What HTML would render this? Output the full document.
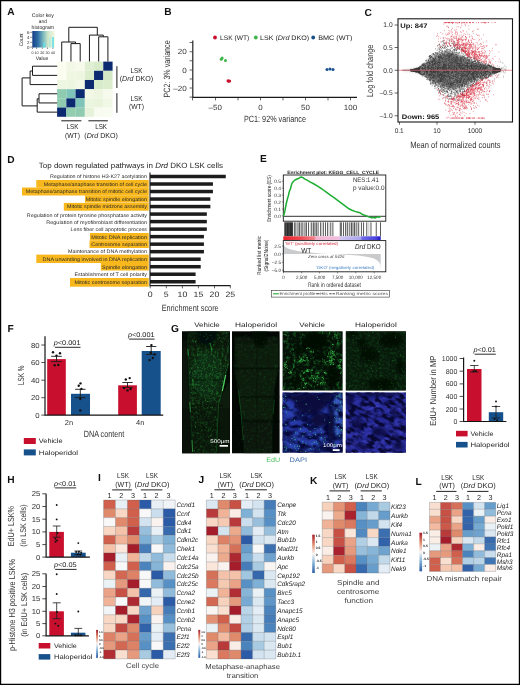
<!DOCTYPE html>
<html lang="en"><head><meta charset="utf-8"><title>Figure</title>
<style>html,body{margin:0;padding:0;background:#fff;}body{width:520px;height:685px;overflow:hidden;font-family:"Liberation Sans",sans-serif;}svg{display:block;}</style></head>
<body>
<svg width="520" height="685" viewBox="0 0 520 685" font-family="'Liberation Sans', sans-serif" fill="#222" text-rendering="geometricPrecision">
<rect x="0" y="0" width="520" height="685" fill="#fff"/>
<g opacity="0.999">
<text x="7.3" y="14.6" font-size="10.2" font-weight="bold" fill="#111">A</text>
<defs><linearGradient id="gA" x1="0" x2="1" y1="0" y2="0"><stop offset="0" stop-color="#163f86"/><stop offset="0.25" stop-color="#2f6fa6"/><stop offset="0.5" stop-color="#7fbcc0"/><stop offset="0.7" stop-color="#cfe6c8"/><stop offset="1" stop-color="#f3f8e4"/></linearGradient></defs>
<rect x="32.3" y="31" width="22.4" height="16.5" fill="url(#gA)"/>
<rect x="43.4" y="42.6" width="1.8" height="4.9" fill="#5fe0ea"/>
<rect x="49.7" y="37" width="0.6" height="10.5" fill="#7fe6ee"/>
<rect x="52.2" y="37" width="1.6" height="10.5" fill="#5fe0ea"/>
<text x="42.8" y="16.6" font-size="5.2" text-anchor="middle" textLength="22" lengthAdjust="spacingAndGlyphs">Color key</text>
<text x="42.8" y="22.6" font-size="5.2" text-anchor="middle" textLength="8" lengthAdjust="spacingAndGlyphs">and</text>
<text x="42.8" y="28.6" font-size="5.2" text-anchor="middle" textLength="22.5" lengthAdjust="spacingAndGlyphs">histogram</text>
<text x="22.74" y="39.8" font-size="5.4" text-anchor="middle" transform="rotate(-90 22.74 39.8)" textLength="13" lengthAdjust="spacingAndGlyphs">Count</text>
<text x="29.4" y="33.88" font-size="4.4" text-anchor="end">6</text>
<line x1="30.2" y1="32.3" x2="32.3" y2="32.3" stroke="#222" stroke-width="0.5"/>
<text x="29.4" y="38.88" font-size="4.4" text-anchor="end">4</text>
<line x1="30.2" y1="37.3" x2="32.3" y2="37.3" stroke="#222" stroke-width="0.5"/>
<text x="29.4" y="43.88" font-size="4.4" text-anchor="end">2</text>
<line x1="30.2" y1="42.3" x2="32.3" y2="42.3" stroke="#222" stroke-width="0.5"/>
<text x="29.4" y="48.68" font-size="4.4" text-anchor="end">0</text>
<line x1="30.2" y1="47.1" x2="32.3" y2="47.1" stroke="#222" stroke-width="0.5"/>
<text x="32.6" y="53.93" font-size="3.7" text-anchor="middle">0</text>
<line x1="32.5" y1="47.5" x2="32.5" y2="49" stroke="#222" stroke-width="0.5"/>
<text x="36.6" y="53.93" font-size="3.7" text-anchor="middle">10</text>
<line x1="36.6" y1="47.5" x2="36.6" y2="49" stroke="#222" stroke-width="0.5"/>
<text x="42.3" y="53.93" font-size="3.7" text-anchor="middle">20</text>
<line x1="42.3" y1="47.5" x2="42.3" y2="49" stroke="#222" stroke-width="0.5"/>
<text x="47.5" y="53.93" font-size="3.7" text-anchor="middle">30</text>
<line x1="47.5" y1="47.5" x2="47.5" y2="49" stroke="#222" stroke-width="0.5"/>
<text x="52.9" y="53.93" font-size="3.7" text-anchor="middle">40</text>
<line x1="52.9" y1="47.5" x2="52.9" y2="49" stroke="#222" stroke-width="0.5"/>
<text x="42" y="60.2" font-size="5.2" text-anchor="middle" textLength="12.5" lengthAdjust="spacingAndGlyphs">Value</text>
<rect x="57.1" y="61.6" width="9.29" height="9.24" fill="#fafdf0"/>
<rect x="66.34" y="61.6" width="9.29" height="9.24" fill="#f2f8e5"/>
<rect x="75.58" y="61.6" width="9.29" height="9.24" fill="#f6faeb"/>
<rect x="84.82" y="61.6" width="9.29" height="9.24" fill="#e0efd3"/>
<rect x="94.06" y="61.6" width="9.29" height="9.24" fill="#d7ebca"/>
<rect x="103.3" y="61.6" width="9.29" height="9.24" fill="#0c2a70"/>
<rect x="57.1" y="70.79" width="9.29" height="9.24" fill="#fafdf0"/>
<rect x="66.34" y="70.79" width="9.29" height="9.24" fill="#eff7e2"/>
<rect x="75.58" y="70.79" width="9.29" height="9.24" fill="#eef6e1"/>
<rect x="84.82" y="70.79" width="9.29" height="9.24" fill="#dcedce"/>
<rect x="94.06" y="70.79" width="9.29" height="9.24" fill="#0c2a70"/>
<rect x="103.3" y="70.79" width="9.29" height="9.24" fill="#d3e9c5"/>
<rect x="57.1" y="79.98" width="9.29" height="9.24" fill="#edf6e0"/>
<rect x="66.34" y="79.98" width="9.29" height="9.24" fill="#edf6e0"/>
<rect x="75.58" y="79.98" width="9.29" height="9.24" fill="#f1f8e5"/>
<rect x="84.82" y="79.98" width="9.29" height="9.24" fill="#0c2a70"/>
<rect x="94.06" y="79.98" width="9.29" height="9.24" fill="#d8ebca"/>
<rect x="103.3" y="79.98" width="9.29" height="9.24" fill="#dcedce"/>
<rect x="57.1" y="89.17" width="9.29" height="9.24" fill="#8ecbb0"/>
<rect x="66.34" y="89.17" width="9.29" height="9.24" fill="#7fc4b8"/>
<rect x="75.58" y="89.17" width="9.29" height="9.24" fill="#0c2a70"/>
<rect x="84.82" y="89.17" width="9.29" height="9.24" fill="#f1f8e5"/>
<rect x="94.06" y="89.17" width="9.29" height="9.24" fill="#eef6e2"/>
<rect x="103.3" y="89.17" width="9.29" height="9.24" fill="#f6faec"/>
<rect x="57.1" y="98.36" width="9.29" height="9.24" fill="#8ecbb0"/>
<rect x="66.34" y="98.36" width="9.29" height="9.24" fill="#0c2a70"/>
<rect x="75.58" y="98.36" width="9.29" height="9.24" fill="#7fc4b8"/>
<rect x="84.82" y="98.36" width="9.29" height="9.24" fill="#ecf5df"/>
<rect x="94.06" y="98.36" width="9.29" height="9.24" fill="#eaf4dd"/>
<rect x="103.3" y="98.36" width="9.29" height="9.24" fill="#f1f8e6"/>
<rect x="57.1" y="107.55" width="9.29" height="9.24" fill="#0c2a70"/>
<rect x="66.34" y="107.55" width="9.29" height="9.24" fill="#93cdb0"/>
<rect x="75.58" y="107.55" width="9.29" height="9.24" fill="#8ecbb0"/>
<rect x="84.82" y="107.55" width="9.29" height="9.24" fill="#e6f2d9"/>
<rect x="94.06" y="107.55" width="9.29" height="9.24" fill="#f8fbef"/>
<rect x="103.3" y="107.55" width="9.29" height="9.24" fill="#f9fcf0"/>
<path d="M61.72 61.5V42H75.58V43.6M70.96 61.5V43.6H80.2V61.5M68.8 42V27.3H97.3V35.1M89.44 61.5V35.1H103.3V36.8M98.68 61.5V36.8H107.92V61.5M57.2 66.2H32.5V75.39H57.2M32.5 71H30.1M57.2 84.58H30.1V71M30.1 77.9H22.1V105.9H37.2M57.2 93.77H39V102.95H57.2M39 98.8H37.2M57.2 112.14H37.2V98.8" stroke="#1a1a1a" stroke-width="1" fill="none" stroke-linejoin="miter"/>
<line x1="116.9" y1="66.2" x2="116.9" y2="88" stroke="#1a1a1a" stroke-width="1"/>
<line x1="116.9" y1="93.2" x2="116.9" y2="112.8" stroke="#1a1a1a" stroke-width="1"/>
<text x="136.4" y="72.89" font-size="7.2" text-anchor="middle" textLength="11.8" lengthAdjust="spacingAndGlyphs">LSK</text>
<text x="136.4" y="81.29" font-size="7.2" text-anchor="middle" textLength="33.5" lengthAdjust="spacingAndGlyphs">(<tspan font-style="italic">Drd</tspan> DKO)</text>
<text x="136.4" y="101.09" font-size="7.2" text-anchor="middle" textLength="11.8" lengthAdjust="spacingAndGlyphs">LSK</text>
<text x="136.4" y="109.39" font-size="7.2" text-anchor="middle" textLength="15" lengthAdjust="spacingAndGlyphs">(WT)</text>
<line x1="61.3" y1="120.8" x2="81.4" y2="120.8" stroke="#1a1a1a" stroke-width="1"/>
<line x1="88.4" y1="120.8" x2="107.9" y2="120.8" stroke="#1a1a1a" stroke-width="1"/>
<text x="72.4" y="129.19" font-size="7.2" text-anchor="middle" textLength="11.8" lengthAdjust="spacingAndGlyphs">LSK</text>
<text x="72.4" y="137.59" font-size="7.2" text-anchor="middle" textLength="15" lengthAdjust="spacingAndGlyphs">(WT)</text>
<text x="101.1" y="129.19" font-size="7.2" text-anchor="middle" textLength="11.8" lengthAdjust="spacingAndGlyphs">LSK</text>
<text x="101.1" y="137.59" font-size="7.2" text-anchor="middle" textLength="33.5" lengthAdjust="spacingAndGlyphs">(<tspan font-style="italic">Drd</tspan> DKO)</text>
<text x="164.3" y="14.6" font-size="10.2" font-weight="bold" fill="#111">B</text>
<circle cx="215" cy="37.5" r="1.9" fill="#c8102e"/>
<text x="220" y="39.88" font-size="6.6" textLength="29.3" lengthAdjust="spacingAndGlyphs">LSK (WT)</text>
<circle cx="255.8" cy="37.5" r="1.9" fill="#3db54a"/>
<text x="260" y="39.88" font-size="6.6" textLength="49.2" lengthAdjust="spacingAndGlyphs">LSK (<tspan font-style="italic">Drd</tspan> DKO)</text>
<circle cx="313.2" cy="37.5" r="1.9" fill="#17518c"/>
<text x="318.2" y="39.88" font-size="6.6" textLength="34.3" lengthAdjust="spacingAndGlyphs">BMC (WT)</text>
<path d="M192.8 40.5V97.4H357" stroke="#1a1a1a" stroke-width="1.15" fill="none"/>
<line x1="189.6" y1="42.5" x2="192.5" y2="42.5" stroke="#222" stroke-width="0.7"/>
<line x1="189.6" y1="51.75" x2="192.5" y2="51.75" stroke="#222" stroke-width="0.7"/>
<line x1="189.6" y1="60.75" x2="192.5" y2="60.75" stroke="#222" stroke-width="0.7"/>
<line x1="189.6" y1="70" x2="192.5" y2="70" stroke="#222" stroke-width="0.7"/>
<line x1="189.6" y1="79" x2="192.5" y2="79" stroke="#222" stroke-width="0.7"/>
<line x1="189.6" y1="88" x2="192.5" y2="88" stroke="#222" stroke-width="0.7"/>
<line x1="189.6" y1="97.1" x2="192.5" y2="97.1" stroke="#222" stroke-width="0.7"/>
<text x="186.8" y="54.45" font-size="7.5" text-anchor="end" fill="#333" textLength="9.01" lengthAdjust="spacingAndGlyphs">20</text>
<text x="186.8" y="72.7" font-size="7.5" text-anchor="end" fill="#333" textLength="4.5" lengthAdjust="spacingAndGlyphs">0</text>
<text x="186.8" y="90.7" font-size="7.5" text-anchor="end" fill="#333" textLength="13.51" lengthAdjust="spacingAndGlyphs">–20</text>
<line x1="192.5" y1="97.5" x2="192.5" y2="100.4" stroke="#222" stroke-width="0.7"/>
<line x1="215.5" y1="97.5" x2="215.5" y2="100.4" stroke="#222" stroke-width="0.7"/>
<line x1="238" y1="97.5" x2="238" y2="100.4" stroke="#222" stroke-width="0.7"/>
<line x1="260.5" y1="97.5" x2="260.5" y2="100.4" stroke="#222" stroke-width="0.7"/>
<line x1="283" y1="97.5" x2="283" y2="100.4" stroke="#222" stroke-width="0.7"/>
<line x1="305.5" y1="97.5" x2="305.5" y2="100.4" stroke="#222" stroke-width="0.7"/>
<line x1="328" y1="97.5" x2="328" y2="100.4" stroke="#222" stroke-width="0.7"/>
<line x1="350.5" y1="97.5" x2="350.5" y2="100.4" stroke="#222" stroke-width="0.7"/>
<text x="215.2" y="109.5" font-size="7.5" text-anchor="middle" fill="#333" textLength="13.26" lengthAdjust="spacingAndGlyphs">–50</text>
<text x="260.5" y="109.5" font-size="7.5" text-anchor="middle" fill="#333" textLength="4.42" lengthAdjust="spacingAndGlyphs">0</text>
<text x="305.5" y="109.5" font-size="7.5" text-anchor="middle" fill="#333" textLength="8.84" lengthAdjust="spacingAndGlyphs">50</text>
<text x="350.5" y="109.5" font-size="7.5" text-anchor="middle" fill="#333" textLength="13.26" lengthAdjust="spacingAndGlyphs">100</text>
<text x="275" y="121.88" font-size="9.1" text-anchor="middle" fill="#333" textLength="62" lengthAdjust="spacingAndGlyphs">PC1: 92% variance</text>
<text x="170.08" y="68.9" font-size="9.1" text-anchor="middle" transform="rotate(-90 170.08 68.9)" fill="#333" textLength="57" lengthAdjust="spacingAndGlyphs">PC2: 3% variance</text>
<circle cx="221.2" cy="59.3" r="1.5" fill="#3db54a"/>
<circle cx="222.1" cy="58.1" r="1.5" fill="#3db54a"/>
<circle cx="225.5" cy="60.5" r="1.5" fill="#3db54a"/>
<circle cx="228" cy="80.7" r="1.5" fill="#c8102e"/>
<circle cx="229.6" cy="81" r="1.5" fill="#c8102e"/>
<circle cx="228.6" cy="81.2" r="1.5" fill="#c8102e"/>
<circle cx="327" cy="69.4" r="1.5" fill="#17518c"/>
<circle cx="330" cy="68.9" r="1.5" fill="#17518c"/>
<circle cx="333" cy="69.4" r="1.5" fill="#17518c"/>
<text x="364.6" y="15.8" font-size="10.2" font-weight="bold" fill="#111">C</text>
<defs><filter id="bc" x="-5%%" y="-10%%" width="110%%" height="120%%"><feGaussianBlur stdDeviation="1.5"/></filter></defs>
<polygon points="403,70.14 404.5,70.11 406,70.07 407.5,70.01 409,69.94 410.5,69.86 412,69.71 413.5,69.54 415,69.27 416.5,68.95 418,68.48 419.5,67.92 421,67.14 422.5,66.24 424,65.35 425.5,64.3 427,63.25 428.5,62.07 430,60.89 431.5,59.69 433,58.47 434.5,57.34 436,56.42 437.5,55.51 439,54.73 440.5,54.03 442,53.48 443.5,53.01 445,52.54 446.5,52.36 448,52.17 449.5,52.11 451,52.28 452.5,52.58 454,53.1 455.5,53.67 457,54.33 458.5,54.98 460,55.78 461.5,56.66 463,57.56 464.5,58.48 466,59.4 467.5,60.2 469,61.01 470.5,61.57 472,62.13 473.5,62.55 475,62.97 476.5,63.38 478,63.77 479.5,64.17 481,64.6 482.5,65.06 484,65.45 485.5,65.82 487,66.19 488.5,66.61 490,67.03 491.5,67.52 493,68.01 494.5,68.43 496,68.85 497.5,69.11 499,69.38 500.5,69.6 502,69.76 503.5,69.92 503.5,70.58 502,70.74 500.5,70.9 499,71.16 497.5,71.47 496,71.79 494.5,72.25 493,72.7 491.5,73.22 490,73.75 488.5,74.28 487,74.8 485.5,75.25 484,75.69 482.5,76.2 481,76.83 479.5,77.47 478,78.12 476.5,78.78 475,79.44 473.5,80.09 472,80.75 470.5,81.62 469,82.5 467.5,83.38 466,84.25 464.5,85.17 463,86.09 461.5,86.93 460,87.63 458.5,88.23 457,88.62 455.5,89.02 454,89.15 452.5,89.15 451,88.92 449.5,88.57 448,88.1 446.5,87.58 445,87.05 443.5,86.39 442,85.74 440.5,85.01 439,84.13 437.5,83.24 436,82.33 434.5,81.41 433,80.4 431.5,79.35 430,78.39 428.5,77.47 427,76.55 425.5,75.67 424,74.8 422.5,74.04 421,73.28 419.5,72.58 418,72.02 416.5,71.55 415,71.23 413.5,70.96 412,70.79 410.5,70.64 409,70.56 407.5,70.49 406,70.43 404.5,70.39 403,70.36" fill="#767676" filter="url(#bc)"/>
<path d="M439.14 57.71h.7M468.58 59.78h.7M458.23 66.27h.7M415.22 70.26h.7M413.37 70.16h.7M416.29 68.97h.7M448.21 83.42h.7M421.14 68.35h.7M466.47 86.83h.7M461.94 67.65h.7M497.86 68.92h.7M487.26 68.55h.7M422.98 66.3h.7M437.76 79.5h.7M426.27 71.14h.7M467.5 67.79h.7M459.3 53.1h.7M415.36 69.57h.7M471.24 69.12h.7M438.27 72.4h.7M450.79 63h.7M481.49 72.8h.7M431.97 71.55h.7M457.27 86.6h.7M475.65 67.19h.7M498.22 69.32h.7M447.63 79.84h.7M423.68 70.16h.7M413.53 70.49h.7M478.81 71.27h.7M488.79 68.93h.7M472.58 72.07h.7M462.19 69.2h.7M485.6 76.17h.7M452.67 76.34h.7M415.46 70.69h.7M468.24 90.25h.7M483.97 68.14h.7M444.72 75.79h.7M412.03 70.21h.7M425.12 65.01h.7M415.31 70.85h.7M421.64 68.4h.7M445.19 85.09h.7M417.25 70.11h.7M459.45 86.54h.7M483.74 74.97h.7M435.06 68.15h.7M442.29 84.71h.7M496.2 69.15h.7M425.86 66.72h.7M431 69.98h.7M463.02 64.02h.7M410.37 70.19h.7M443.23 72.22h.7M495.78 70.86h.7M456.39 74.4h.7M470.86 60h.7M490.96 72.15h.7M488.71 72.82h.7M445.31 66.87h.7M419.32 70.84h.7M415.6 69h.7M428.79 63.79h.7M440.6 50.62h.7M410.02 69.95h.7M419.13 69.67h.7M412.3 70.76h.7M465.27 61.07h.7M432.7 66.82h.7M442.77 54.93h.7M486.4 77.7h.7M451.94 69.73h.7M417.73 68.61h.7M440.84 62.29h.7M484.6 66.67h.7M412.08 70.92h.7M457.54 57.41h.7M458.89 49.56h.7M457.53 96.06h.7M487.7 71.95h.7M433.5 67.12h.7M425.03 73.24h.7M457.93 81.1h.7M439.67 60.86h.7M483.04 78.7h.7M486.74 73.37h.7M483.65 73.01h.7M430.41 70.52h.7M442 47.52h.7M412.51 69.98h.7M433.33 74.25h.7M496.09 70.12h.7M494.33 73.34h.7M495.95 69.88h.7M429.84 64.87h.7M427.7 65.38h.7M466.17 83.99h.7M485.64 70.09h.7M468.77 78.37h.7M417.63 70.76h.7M491.88 71.98h.7M477.51 69.99h.7M426.07 73.85h.7M439.93 79.75h.7M497.45 70.02h.7M446.12 90.94h.7M475.23 64.88h.7M421.43 67.54h.7M491.44 72.27h.7M423.16 73.27h.7M498.23 70.58h.7M441.54 71.61h.7M421.79 64.93h.7M497.38 70.61h.7M457.39 90.99h.7M449.04 86.3h.7M484.35 67.3h.7M432.67 65.43h.7M431.65 71.74h.7M433.34 68.43h.7M421.8 73.78h.7M441.84 68.97h.7M462.5 86.46h.7M447.86 89.14h.7M455.15 71.34h.7M457.12 47.39h.7M449.61 57.47h.7M410.35 70.5h.7M425.51 69.96h.7M475.27 71.19h.7M439.34 70.72h.7M459.99 80.9h.7M419.55 70.51h.7M432.36 65.1h.7M479.5 70.35h.7M460.56 79.64h.7M492.12 69.99h.7M465.13 70.39h.7M456.09 77.43h.7M450.71 71.37h.7M453.02 92.46h.7M472.93 79.32h.7M494.8 69.38h.7M460.36 90.64h.7M485.6 66.51h.7M420.95 69.92h.7M416.53 69.54h.7M416.58 70.69h.7M480.55 76.85h.7M423.9 72.23h.7M469.42 62.7h.7M489.45 75.16h.7M429.76 80.12h.7M445.84 69.84h.7M499.09 70.92h.7M424.53 69.58h.7M456.4 65.15h.7M427.62 67.55h.7M474.99 59.81h.7M459.86 68.65h.7M411.63 70.09h.7M466.15 70.56h.7M415.79 71.94h.7M480.95 79.23h.7M419.43 69.13h.7M413.56 70.68h.7M434.34 59.02h.7M448 88.71h.7M483.71 67.81h.7M423.44 74.81h.7M461.35 77.01h.7M418.05 68.13h.7M471.94 69.12h.7M416.52 71.75h.7M467.1 79.08h.7M417.54 71.58h.7M416 71.26h.7M450.84 64.58h.7M459.78 89.52h.7M434.11 59.13h.7M457.42 61.55h.7M419.85 68.35h.7M414.53 69.68h.7M438.08 64.35h.7M478.35 67.53h.7M455.01 58.15h.7M441.23 46.37h.7M432.54 53.45h.7M475.98 71.07h.7M427.05 69.93h.7M494.12 68.4h.7M483.7 69.64h.7M454.55 84.59h.7M445.38 70.45h.7M471.9 85.57h.7M440.84 81.49h.7M473.61 72.82h.7M446.42 64.94h.7M414.89 69.41h.7M416.37 70.88h.7M433 61.23h.7M417.6 71.52h.7M488.35 71.62h.7M435.37 62.95h.7M436.38 69.21h.7M424.18 69.75h.7M433.69 83.99h.7M497.54 70.35h.7M432 82.7h.7M437.86 66.09h.7M410.1 70.17h.7M452.72 70.34h.7M428.09 70.31h.7M410.45 70.06h.7M418.08 69.91h.7M413.75 69.21h.7M437.38 61.93h.7M462.7 71.1h.7M477.55 72.74h.7M474.44 78.81h.7M445.06 64.16h.7M498.63 69.49h.7M475.17 72.78h.7M413.94 70.83h.7M490.27 71.08h.7M476.05 76.29h.7M422.54 70.41h.7M455.39 84.53h.7M482.42 74.64h.7M462.57 85.69h.7M471.46 74.44h.7M430.69 56.97h.7M421.98 69.26h.7M419.44 72.01h.7M460.27 74.48h.7M466.36 75.2h.7M454.04 42.14h.7M481.79 73.49h.7M455.27 71.46h.7M469.34 59.89h.7M476.31 66.67h.7M416.7 69.6h.7M475.64 65.69h.7M476.58 82.08h.7M454.46 66.45h.7M453.11 77.16h.7M479.03 71.9h.7M467.85 59.58h.7M423.27 67.96h.7M476.89 67.6h.7M461.1 49.46h.7M415.46 69.74h.7M470.48 74.63h.7M470.81 66.62h.7M456.49 69.21h.7M451.97 53.89h.7M490.43 68.22h.7M498.03 71.53h.7M411.58 70.21h.7M483.79 77.6h.7M450.45 61.65h.7M428.89 79.17h.7M428.96 71.39h.7M422.76 70.42h.7M495.75 68.98h.7M483.82 70.34h.7M489.82 71.71h.7M430.82 78.7h.7M453.75 46.33h.7M410.32 70.24h.7M450.57 63.08h.7M422.66 69h.7M438.45 80.78h.7M410.16 70.45h.7M485.52 66.22h.7M493.38 71.26h.7M491.14 69.04h.7M443.5 66.75h.7M499.89 70.37h.7M442.46 67.99h.7M434.76 54.16h.7M419.15 71.92h.7M435.71 83.87h.7M432.44 64.77h.7M455.99 59.03h.7M443.6 90.6h.7M489.58 72.77h.7M466.78 84.37h.7M494.66 70.43h.7M474.76 61.26h.7M475.91 69.62h.7M477.74 72.49h.7M435.76 53.47h.7M493.41 68.37h.7M452.5 64.85h.7M436.8 76.48h.7M497.87 69.72h.7M469.04 66.55h.7M460.16 67.38h.7M425.06 65.9h.7M428.71 77.68h.7M454.74 60.1h.7M491.56 75.08h.7M450.5 55.07h.7M427.32 62.82h.7M440.78 53.52h.7M431.52 64.94h.7M461.27 86h.7M477.47 69.17h.7M447.25 71.02h.7M443.92 64.74h.7M415.59 69.75h.7M497.09 69.17h.7M455.31 74.93h.7M487.66 67.88h.7M434.39 63.48h.7M445.98 68.48h.7M495.85 71.52h.7M488.56 65.13h.7M412.9 70.52h.7M490.61 70.1h.7M462.85 47.86h.7M445.24 88.86h.7M484.3 74.67h.7M497.5 69.65h.7M419.81 68.31h.7M457.01 76.9h.7M494.73 71.12h.7M468.26 77.36h.7M451.16 72.02h.7M413.56 70.69h.7M430.93 79.58h.7M468.1 66.42h.7M421.52 68.48h.7M467.27 75.54h.7M420.09 67.38h.7M457.2 73.08h.7M444.93 59.79h.7M464.1 51.9h.7M437.14 69.21h.7M496.3 70.66h.7M489.54 70.1h.7M431.13 64.81h.7M496.46 70.85h.7M437.67 49.27h.7M454.85 76.77h.7M447.8 61.14h.7M470.06 82.98h.7M430.41 57.47h.7M440.42 67.86h.7M471.43 64.74h.7M481.74 73.36h.7M455.44 59.59h.7M497.29 69.81h.7M483.8 67.48h.7M429.93 74.7h.7M436.54 85.54h.7M454.62 58.52h.7M430.1 68.79h.7M469.88 84.5h.7M423.17 69.36h.7M429.17 80.77h.7M422.77 65.2h.7M415.41 70.03h.7M490.84 73.21h.7M475.95 84.82h.7M493.84 69.58h.7M426.7 77.27h.7M477.17 61.32h.7M469.8 68.18h.7M443.65 64.52h.7M425.23 60.74h.7M435.18 66.41h.7M496 68.99h.7M496.78 69.45h.7M442.1 81.42h.7M483.98 69.65h.7M414.43 70.21h.7M443.54 87.53h.7M427.37 68.34h.7M490.73 66.24h.7M446.97 82.32h.7M479 62.32h.7M413.14 69.48h.7M492.81 69.09h.7M477.26 78.3h.7M440.52 62.66h.7M496.19 70.58h.7M433.6 74.91h.7M438.48 63.23h.7M410.34 70.46h.7M492.48 70.93h.7M494.89 67.87h.7M431.05 69.79h.7M496.11 72.14h.7M444.79 61.07h.7M448.69 70.04h.7M493.53 68.77h.7M482.23 73.25h.7M484.05 73.41h.7M464.65 66.28h.7M438.76 66.14h.7M480.4 63.98h.7M427.76 73.84h.7M432.26 57.47h.7M413.05 70.31h.7M439.32 90.38h.7M489.51 75.78h.7M433.84 57.11h.7M418.68 70.24h.7M473.88 69.51h.7M431.08 68.66h.7M465.83 75.1h.7M477.32 76.77h.7M469.8 62.14h.7M485.68 68.42h.7M461.02 66.87h.7M476.43 65.71h.7M432.27 64.27h.7M423.8 74.37h.7M462.05 65.7h.7M445.65 96.92h.7M455.66 60.82h.7M482.76 72h.7M499.19 69.43h.7M452.73 83.7h.7M485.65 75.43h.7M413.63 69.95h.7M420.73 68.22h.7M497.57 70.44h.7M493.72 69.75h.7M487.95 69.9h.7M433.4 76.46h.7M495.11 68.66h.7M463.65 73.78h.7M429.59 67.97h.7M422.72 67.58h.7M432.94 72.14h.7M468.65 64.15h.7M411.02 70.11h.7M471.05 64.33h.7M438.1 60.49h.7M481.58 70.81h.7M415.69 69.14h.7M445.58 71.81h.7M467.53 59.99h.7M424.73 72.2h.7M446.88 62.33h.7M437.68 86.49h.7M438.11 71.89h.7M442.15 67.63h.7M487.78 77.26h.7M442.74 58.96h.7M475.52 65.64h.7M410.53 70.64h.7M448.14 83.05h.7M446.56 86.23h.7M451.48 56.5h.7M411.34 70.29h.7M467.66 83.64h.7M418.01 70.67h.7M443.38 70.38h.7M423.13 68.31h.7M456.9 90.42h.7M419.79 70.21h.7M482.43 78.18h.7M427.76 63.51h.7M494.88 72.87h.7M453.45 49.4h.7M493.36 69.79h.7M491.38 70.94h.7M484.21 66.58h.7M480.72 66.84h.7M446.4 84.01h.7M484.63 66.98h.7M429.63 68.53h.7M456.61 66.68h.7M421.08 68.57h.7M475.24 79.12h.7M413.7 70.33h.7M478.17 61.94h.7M485.44 66.17h.7M463.96 71.65h.7M466.43 66.13h.7M447.81 72.99h.7M448.32 75.83h.7M450.21 68.2h.7M412.1 70.37h.7M454.06 60.64h.7M478.72 74.79h.7M451.25 57.41h.7M452.59 53.32h.7M421.56 69.81h.7M418.25 70.05h.7M455.91 49.33h.7M467.28 59.46h.7M476.01 75.45h.7M456.03 50.67h.7M455.35 66.37h.7M495.58 68.95h.7M487.14 77.58h.7M475.89 76.4h.7M427.43 79.73h.7M454.27 94.06h.7M492.44 68.41h.7M480.95 77.64h.7M415.9 69.91h.7M478.06 65.21h.7M490.69 68.87h.7M483.41 66.16h.7M455.2 90.44h.7M428.75 66.14h.7M455.54 64.3h.7M413.31 69.76h.7M424.51 75.82h.7M471.17 80.89h.7M425.19 73.47h.7M420.36 70.4h.7M467.27 67.49h.7M488.57 70.66h.7M462.2 85.27h.7M419.41 73.87h.7M466.68 68.15h.7M481.79 67.62h.7M499.14 70.38h.7M442.42 79.04h.7M449.81 57.14h.7M476.92 61.93h.7M483.78 67.76h.7M467.53 89.48h.7M462.73 75.39h.7M438.14 44.88h.7M413.04 69.72h.7M465.44 68.85h.7M456.14 88.28h.7M421.88 68.13h.7M468.78 57.07h.7M410.24 70.14h.7M419.57 69.6h.7M430.18 71.54h.7M463.02 62.08h.7M466.15 69.76h.7M422.13 74.39h.7M431.92 61.42h.7M418.62 70.78h.7M488.42 72.71h.7M446.18 61.55h.7M411.03 70.37h.7M460.61 66.14h.7M468.1 69.24h.7M494.34 71.23h.7M432.36 79.97h.7M413.96 70.29h.7M446.54 60.32h.7M415.25 70.87h.7M411.11 70.29h.7M494.68 68.78h.7M427.96 71.66h.7M455.63 75.38h.7M483.2 66.61h.7M437.84 64.24h.7M414.36 71.05h.7M480.47 73.23h.7M410.57 70.56h.7M477.07 69.83h.7M476.76 69.66h.7M430.34 60.95h.7M430.91 57.27h.7M440.2 77.86h.7M472.56 78.38h.7M474.05 66.6h.7M459.84 68.53h.7M480.96 70.53h.7M433.88 73.21h.7M496.86 69.49h.7M489.2 65.17h.7M433.43 63.47h.7M476.95 80.18h.7M477.15 67.96h.7M489.21 69.09h.7M431.53 79.53h.7M466.76 75.48h.7M469.87 86.92h.7M452.25 84.89h.7M472.79 78.7h.7M449.35 78.67h.7M461.33 64.98h.7M429.08 72.02h.7M417 71.69h.7M423.01 64.33h.7M419.6 72.89h.7M441.04 56.51h.7M412.59 69.48h.7M472.34 72.92h.7M472.73 75.24h.7M415.92 70.45h.7M442.71 81.42h.7M483.76 75.5h.7M415.94 71.27h.7M492.3 73.46h.7M419.64 68.72h.7M420.08 66.87h.7M486.29 73.54h.7M467.08 80h.7M466.84 65.76h.7M418.99 68.12h.7M478.16 66.12h.7M438.72 68.07h.7M411.88 69.99h.7M435.43 75.4h.7M443.12 64.17h.7M496.76 70.26h.7M486.62 71.3h.7M412.79 70.15h.7M449.28 80.89h.7M441.21 76.51h.7M458.41 60.9h.7M487.6 66.26h.7M483.78 66.65h.7M410.12 70.01h.7M478.6 80.99h.7M410.39 70.24h.7M454.23 82.48h.7M426.61 70.18h.7M441.25 81.62h.7M433.45 82.68h.7M435.54 61.92h.7M472.95 70.23h.7M419.89 70.9h.7M417.28 71.19h.7M472.74 76.56h.7M466.51 67.29h.7M446.11 66.69h.7M490.14 66.93h.7M489.96 65.77h.7M428.55 66.22h.7M491.11 70.26h.7M444.14 85.45h.7M431.02 69.53h.7M457.84 79.95h.7M477.77 72.51h.7M441.36 64.58h.7M423.98 73.82h.7M469.59 76.24h.7M425.26 69.6h.7M479.61 71.31h.7M421.35 70.02h.7M489.66 68.41h.7M427.24 67.38h.7M473.28 78.07h.7M423.91 66.43h.7M432.28 66.41h.7M457 57.94h.7M439.53 59.42h.7M497.76 70.8h.7M419.16 73.11h.7M419.15 69.76h.7M498.54 70.9h.7M476 69.41h.7M427.66 72.03h.7M419.62 68.73h.7M444.95 46.88h.7M445.91 81.06h.7M472.41 70.26h.7M466.91 69.56h.7M422.76 71.02h.7M446.42 78.91h.7M491.72 69.91h.7M461.66 78.9h.7M447.9 59.8h.7M475 78.62h.7M479.66 73.13h.7M486.72 71.9h.7M467.74 69.41h.7M438.17 73.55h.7M418.81 69.94h.7M480.41 73.21h.7M466.67 64.76h.7M448.12 68.77h.7M465.94 68.4h.7M470.77 82.8h.7M426.48 72.06h.7M480.04 69h.7M454.09 96.4h.7M413.43 70.31h.7M424.48 73.18h.7M494.65 70.32h.7M419.1 70.55h.7M458.69 78.19h.7M456.1 75.26h.7M484.61 70.46h.7M446.93 91.39h.7M428.91 72.99h.7M445.32 79.65h.7M421.02 74.71h.7M441.99 50.39h.7M434.69 67.79h.7M411.2 70.18h.7M447.85 77.34h.7M441.69 62.16h.7M430.2 74.39h.7M494.59 70.35h.7M429.7 75.5h.7M445.28 59.2h.7M421.64 72.23h.7M482.86 71.75h.7M452.22 72.41h.7M430.34 81.15h.7M441.78 74.37h.7M483.69 74.14h.7M452.13 62.85h.7M459.34 57h.7M485.04 68.97h.7M486.56 68.25h.7M443.85 61.33h.7M448.35 57.62h.7M410.24 70.42h.7M435.31 63.07h.7M437.16 69.71h.7M448.56 75.03h.7M469.33 67.83h.7M493.59 72.12h.7M415.14 70.99h.7M491.52 72.07h.7M422.64 73.14h.7M466.98 55.01h.7M411.03 70.77h.7M469.04 65.42h.7M419.14 68.42h.7M431.03 75.44h.7M441.18 57.06h.7M491.37 72.16h.7M425.11 75.2h.7M464.75 79.18h.7M470.16 81.4h.7M480.93 75.35h.7M427.76 72.86h.7M457.77 79.39h.7M449.47 87.11h.7M459.96 63.19h.7M431.08 61.64h.7M454.38 50.25h.7M452.04 55.52h.7M454.22 70.19h.7M458.56 85.53h.7M410.59 70.56h.7M452.12 72.43h.7M469.88 79.37h.7M443.75 67.63h.7M496.46 68.81h.7M467.33 73.72h.7M412.57 70.38h.7M471.43 82.43h.7M439.74 90.92h.7M455.96 69.8h.7M490.78 66.33h.7M474.64 72.49h.7M440.47 82.73h.7M442.95 69.46h.7M457.3 80.79h.7M428.97 69.23h.7M448.01 72.02h.7M484.41 68.28h.7M484.5 69.4h.7M455.34 62.43h.7M455.58 96.24h.7M468.91 78.05h.7M439.78 64.47h.7M436.93 72.29h.7M467.13 78.42h.7M413.6 70.58h.7M489.7 70.55h.7M414.47 69.9h.7M410.56 69.98h.7M492.93 70.76h.7M469.22 77.83h.7M491.88 70.85h.7M465.5 73.73h.7M472.68 72.1h.7M471.29 65.04h.7M470.03 69.57h.7M478.64 64.06h.7M426.32 61.77h.7M479.71 77.7h.7M469.01 67.92h.7M484.03 73.61h.7M460.59 63.15h.7M437.18 68.13h.7M438.66 68.28h.7M467.76 84.99h.7M414.92 70.37h.7M413.54 69.59h.7M482.93 71.06h.7M492.68 70.02h.7M411.27 70.15h.7M463.28 88.35h.7M498.27 70.21h.7M447.12 52.66h.7M468.01 64.17h.7M423.66 63.34h.7M410.43 70.39h.7M420.95 74.22h.7M417.93 71.78h.7M421.61 65.21h.7M474.74 66.26h.7M476.02 65.41h.7M414.51 70.76h.7M474.22 78.12h.7M475.67 62.79h.7M466.58 76.04h.7M451.45 91.44h.7M432.86 83.41h.7M474.55 59.02h.7M411.33 70.38h.7M483.56 64.99h.7M438 76.53h.7M424.94 74.55h.7M453.77 50.12h.7M443.08 72.47h.7M449.49 76.66h.7M423.04 72.89h.7M442.69 74.68h.7M466.67 68.64h.7M444.72 80.56h.7M495.04 71.37h.7M461.01 64.42h.7M415.46 71.73h.7M473.29 77.57h.7M439.88 73.13h.7M497.97 71.09h.7M464.1 65.65h.7M448.57 87.24h.7M443.9 76.25h.7M464.16 84.95h.7M482.67 67.98h.7M410.15 70.07h.7M448.03 73.14h.7M483.44 75.51h.7M413.81 70.81h.7M483.06 75.2h.7M461.47 63.93h.7M486.61 73.41h.7M471.62 81.45h.7M441.22 52.92h.7M459.83 81.58h.7M428.04 73.88h.7M493.86 69.12h.7M464.62 75.47h.7M451.88 58.85h.7M432.93 75.56h.7M481.25 69.84h.7M417.89 71.42h.7M479.49 66.8h.7M462.16 86.19h.7M489.66 70.39h.7M452.89 73.41h.7M427.02 65.49h.7M426.26 72.63h.7M442.65 72.13h.7M446.22 70.78h.7M423.41 64.55h.7M499.74 70.07h.7M419.55 70.85h.7M480.86 65.77h.7M463.75 66.55h.7M456.75 47.43h.7M413.02 71.26h.7M487.95 70.16h.7M461.05 63.4h.7M480.13 69.44h.7M495.18 71.26h.7M483.69 77.46h.7M432.86 55.15h.7M428.09 64.65h.7M417.53 68.31h.7M460.16 85.44h.7M451.25 92.82h.7M491.89 67.27h.7M463.83 67.89h.7M420.79 73.98h.7M433.15 71.47h.7M467.66 86.65h.7M470.27 68.48h.7M450.35 56.24h.7M496.92 72.35h.7M429.95 58.22h.7M433.03 66.86h.7M491.25 73.33h.7M485.35 64.72h.7M480.77 73.09h.7M468.2 89.08h.7M415.02 69.44h.7M477.95 79.44h.7M470.92 66.8h.7M463.23 78.77h.7M419.49 69.44h.7M433.13 59.6h.7M453.32 57.23h.7M431.46 61.51h.7M470.99 57.49h.7M474.55 65.29h.7M413.24 71h.7M429.85 79.4h.7M488.01 74.21h.7M422.58 69.86h.7M418.73 72.52h.7M485.8 71.46h.7M450.71 64.6h.7M484.08 70.06h.7M466.54 61.47h.7M429.95 59.21h.7M474.24 71.18h.7M423.02 73.81h.7M433.98 68.17h.7M424.01 67.94h.7M485.56 68.82h.7M425.1 70.16h.7M438.63 83.91h.7M420.28 74.02h.7M415.12 71.22h.7M470.15 64.74h.7M452.97 62.64h.7M433.2 62.46h.7M442.79 94.73h.7M499.83 71.06h.7M418.78 69.37h.7M490.66 66.7h.7M475.38 67.26h.7M498.08 68.73h.7M482.63 68.65h.7M422.61 63.43h.7M484.9 70.5h.7M426.72 69.44h.7M492.08 68.71h.7M461.42 58.69h.7M426.21 73.61h.7M474.05 65.23h.7M417.13 68.74h.7M464.77 70.16h.7M434.65 61.94h.7M465.12 76.36h.7M483.04 71.14h.7M428.21 61.2h.7M475.94 69.04h.7M474.95 61.56h.7M482.96 68.62h.7M485.77 74.46h.7M454.37 45.2h.7M491.92 70.14h.7M488.48 68.49h.7M426.74 74.86h.7M443.04 57.18h.7M443.4 73.12h.7M410.42 70.26h.7M450.12 70.77h.7M420.87 71.54h.7M483.49 75.06h.7M438.89 76.17h.7M444.33 78.94h.7M415.51 71.21h.7M495.86 70.24h.7M456.2 71.28h.7M458.36 48.44h.7M497.07 69.53h.7M426.42 63.81h.7M432.54 77.19h.7M412.71 69.63h.7M472.91 64.98h.7M411.59 70.34h.7M461.88 70.93h.7M473.24 62.67h.7M488.26 72.07h.7M414.07 69.54h.7M454.42 70.28h.7M435.17 58.22h.7M446.51 55.02h.7M463.26 83.49h.7M423.25 70.81h.7M477.19 65.15h.7M484.34 76.42h.7M444.99 67.63h.7M485.58 70.48h.7M445.61 90.22h.7M479.92 68.36h.7M431.63 66.8h.7M449.2 96.52h.7M482.39 76.48h.7M483.35 74.76h.7M414.82 70.28h.7M496.21 71.95h.7M432.44 68.61h.7M466.94 67.55h.7M457.77 52.78h.7M448.97 70.41h.7M411.87 69.81h.7M497.27 71h.7M494.32 70.77h.7M482.83 75.64h.7M489.62 65.87h.7M467.74 65.45h.7M471.06 66.31h.7M458.8 89.79h.7M465.91 64.56h.7M456.83 68.29h.7M495.58 69.59h.7M437.49 73.97h.7M420.83 70.77h.7M496.05 70.29h.7M434.16 69.48h.7M458.04 57.68h.7M421.15 67.46h.7M436.42 67.78h.7M435.95 62.8h.7M417.91 70.4h.7M485.58 71.29h.7M461.32 75.15h.7M428.11 73.23h.7M451.48 71.9h.7M465.15 69.61h.7M437.95 62.1h.7M429.94 70.43h.7M444.49 72.91h.7M411.07 70.13h.7M487.57 68.1h.7M460.1 70.03h.7M435.63 88.07h.7M436.6 77.47h.7M424.27 64.48h.7M488.41 69.84h.7M415.58 70.02h.7M449.59 79.18h.7M419.83 68.81h.7M496.34 70.98h.7M423.91 68.7h.7M441.72 75.58h.7M465.47 81.82h.7M483.91 70.43h.7M476.49 74.57h.7M478.37 69.96h.7M480.64 73.09h.7M492.32 68.07h.7M488.37 64.3h.7M478.91 71.45h.7M454.81 94.79h.7M461.48 68.17h.7M480.53 76.25h.7M464.66 67.57h.7M450.71 68.87h.7M475.08 67.21h.7M445.16 71.96h.7M444.61 64.05h.7M480.84 75.61h.7M454.96 68.52h.7M426.58 67.61h.7M423.05 70.82h.7M462.34 56.68h.7M492.81 69.45h.7M485.91 74h.7M496.29 69.38h.7M448.38 88.78h.7M410.96 69.73h.7M460.84 70.18h.7M492.83 71.72h.7M458.46 100.52h.7M456.57 70.83h.7M471.67 68.52h.7M442.19 73.02h.7M441.6 88.77h.7M470.88 70.76h.7M418.91 69.74h.7M446.08 72.19h.7M461.66 85.37h.7M496.8 70.22h.7M449.61 74.62h.7M499.65 70.02h.7M457.71 83.02h.7M425.37 68.13h.7M498.06 71.06h.7M456.13 54.82h.7M490.51 71.51h.7M483.85 78.68h.7M489.93 69.77h.7M424.08 68.14h.7M456.04 70.41h.7M426.93 65.33h.7M466.71 72.9h.7M441.79 94.67h.7M467.29 57.39h.7M447.03 81.14h.7M437.61 75.23h.7M410.35 70.1h.7M485.79 71.04h.7M470.13 64.38h.7M454.81 72.1h.7M433.94 73.33h.7M457.83 100.21h.7M461.7 68.01h.7M420.94 67.83h.7M478.35 64.12h.7M419.01 68.65h.7M457.02 83.54h.7M465.17 80.04h.7M415.59 68.59h.7M479.35 68.1h.7M474.39 68.14h.7M425.25 67.47h.7M418.95 72.38h.7M462.4 66.41h.7M450.49 66.33h.7M414.92 71.17h.7M462.44 90.93h.7M449.57 74.45h.7M432.44 56.02h.7M493.77 72.07h.7M438.33 83.51h.7M483.43 68.31h.7M464.23 89.57h.7M454.6 93.3h.7M431.86 67.98h.7M474.66 65.84h.7M437.82 82.04h.7M453.6 82.27h.7M431.91 62.26h.7M442.26 58.54h.7M497.44 69.76h.7M460.54 57.09h.7M458.04 66.88h.7M446.29 49.89h.7M421.1 72.5h.7M441.61 61.33h.7M427.21 67.09h.7M431.35 56.54h.7M469.78 67.48h.7M424.03 72.15h.7M418.34 69.35h.7M485.15 66.27h.7M449.9 84.31h.7M482.44 66.2h.7M441.76 77.25h.7M443.92 91h.7M428.73 79.27h.7M455.43 60.59h.7M450.74 54.56h.7M473.58 66.44h.7M490.97 70.77h.7M443.12 61.13h.7M464.74 63.03h.7M488.52 66.97h.7M456.17 71.7h.7M434.34 76.65h.7M444.63 75.37h.7M461.09 65.02h.7M445.09 51.73h.7M425.93 74.85h.7M438.89 74.66h.7M419.81 70.53h.7M442.53 70.26h.7M436.73 54.02h.7M438.01 61.46h.7M421.35 71.67h.7M435.41 67.8h.7M491.8 71.94h.7M489.45 73.37h.7M421.9 68.58h.7M412.66 70.47h.7M469.72 67.66h.7M447.13 75.71h.7M472.93 66.11h.7M486.2 69.03h.7M466.59 62.78h.7M420.37 73.07h.7M476.06 74.02h.7M413.64 69.32h.7M424.58 66.74h.7M437.28 66.93h.7M413.53 69.98h.7M467.45 63.05h.7M485.55 70.9h.7M474.5 66.46h.7M449.14 76.94h.7M441.41 41.95h.7M485.08 73.28h.7M435.77 52.98h.7M486.87 71.18h.7M414.26 69.81h.7M420.01 71.85h.7M428.91 78.07h.7M477.46 63.34h.7M472.52 68.64h.7M477.28 76.32h.7M435.3 56.47h.7M495.17 70.02h.7M493.72 71.11h.7M476.47 76.61h.7M466.53 69.34h.7M414.89 70.63h.7M448.55 70.64h.7M493.53 68.4h.7M478.57 62.29h.7M473.25 76.95h.7M433.51 71.14h.7M497.25 70.59h.7M458.95 62.36h.7M415.34 69.96h.7M447.05 58.53h.7M437.95 57.45h.7M473.63 73.54h.7M431.41 64.55h.7M456.38 68.61h.7M494.23 69.7h.7M436.94 81.99h.7M422.77 70.71h.7M440.02 80.39h.7M459.34 79.98h.7M425.23 71.97h.7M463.88 69.39h.7M478.95 75.83h.7M420.3 69.1h.7M442.44 59.46h.7M415.43 69.77h.7M427.74 72.99h.7M450.32 53.34h.7M439.2 69.36h.7M442.67 57.51h.7M416.46 68.29h.7M499.29 70.69h.7M417.56 70.96h.7M498.22 70.38h.7M419.79 70.2h.7M449.08 57.78h.7M458.88 46.75h.7M492.76 70.96h.7M466.5 85.92h.7M468.73 65.38h.7M432.14 60.88h.7M412.49 70.6h.7M485.56 68.44h.7M426.72 71.88h.7M486.12 75.55h.7M425.16 73.46h.7M484.74 72.88h.7M439.4 59.24h.7M484.28 68.56h.7M443.17 71.75h.7M443.23 82.25h.7M431.54 56.77h.7M461.02 74.41h.7M483.78 72.54h.7M491.47 73.81h.7M454.49 70.24h.7M424.17 68.22h.7M462.3 56.21h.7M471.92 64.02h.7M449.89 95.04h.7M418.07 67.95h.7M449.56 57.87h.7M475.07 58.25h.7M485.67 74.33h.7M480.82 69.46h.7M435.49 73.98h.7M456.32 67.87h.7M440.48 68.42h.7M469.95 78.82h.7M491.36 68.14h.7M436.62 68.76h.7M460.7 66.09h.7M427.59 62.42h.7M439.13 69.13h.7M497.42 71.52h.7M487.89 76.11h.7M496.56 70.58h.7M483 64.37h.7M470.88 72.56h.7M436.73 71.9h.7M495.75 70.2h.7M468.26 66.36h.7M440.91 84.19h.7M412.51 69.84h.7M471.08 69.43h.7M417.67 70.77h.7M443.48 72.68h.7M447.47 71.21h.7M460.83 67.51h.7M420.28 68.33h.7M490.1 70.56h.7M420.1 72.43h.7M432.81 58.53h.7M457.77 62.16h.7M454.03 72.13h.7M430.39 71.38h.7M420.17 70.31h.7M462.96 56.64h.7M446.72 50.52h.7M449.56 85.88h.7M459.55 77.93h.7M478.12 64.25h.7M499.16 70.65h.7M419.19 71.9h.7M445.28 57.11h.7M496.4 70.42h.7M479.75 65.13h.7M479.85 63.18h.7M431.32 67.7h.7M411.37 70.33h.7M429.18 66.74h.7M473.67 69.2h.7M489.98 71.06h.7M488.49 70.72h.7M492.58 72.53h.7M425.12 72.91h.7M440.73 78.56h.7M471.25 78.25h.7M421.05 69.49h.7M476.35 80.65h.7M474.96 61.07h.7M464.34 58.52h.7M459.39 82h.7M420.17 73.1h.7M470.77 65.86h.7M427.38 69.54h.7M485.43 71.01h.7M420.22 66.48h.7M419.94 71.89h.7M426.67 70.86h.7M436.1 74.78h.7M444.27 55.8h.7M488.79 70.52h.7M472.06 77.37h.7M495.39 67.91h.7M440.81 57.08h.7M455.16 86.96h.7M482.04 63.27h.7M426.41 74.47h.7M471.16 68.53h.7M452.82 56.53h.7M486.06 69.38h.7M488.57 71.09h.7M416.83 69.79h.7M429.47 77.78h.7M463.03 54.31h.7M425.28 68.7h.7M452.1 72.96h.7M444.91 65.23h.7M410.54 70.31h.7M440.04 47.46h.7M451.35 98.21h.7M414.08 69.6h.7M470.39 66.18h.7M434.6 70.25h.7M433.59 71.6h.7M457.53 93.26h.7M499.3 69.16h.7M460.46 80.16h.7M488.51 72.61h.7M466.98 73.73h.7M442.66 62.69h.7M481.58 75.86h.7M494.48 70.97h.7M437.36 77.44h.7M476.56 70.39h.7M467.17 67.28h.7M459.57 67.65h.7M415.44 69.91h.7M439.09 91.35h.7M453.33 65.81h.7M431.91 64.13h.7M441.43 56.06h.7M410.65 70.6h.7M450.78 68.45h.7M461.19 64.78h.7M425.2 63.73h.7M437.13 64.69h.7M475.4 71.1h.7M494.37 69.67h.7M492.91 70.64h.7M417.2 69.19h.7M462.24 94.75h.7M442.13 79.36h.7M448.54 85.93h.7M416.1 70.22h.7M490.92 68.91h.7M433.18 53.52h.7M424.81 67.64h.7M473.4 65.57h.7M445.96 58.57h.7M464.26 83.13h.7M468.33 63.86h.7M476.05 81.6h.7M464.09 57.34h.7M482.85 75.44h.7M440.7 56.35h.7M426.94 70.67h.7M488.79 71.31h.7M493.06 68.87h.7M439.41 77.61h.7M468.4 68.55h.7M471.11 67.56h.7M415.17 70.09h.7M414.09 70.44h.7M440.11 70.09h.7M463.81 64.09h.7M451.7 43.58h.7M493.28 70.53h.7M498.88 69.18h.7M465.26 76.89h.7M439.62 54.22h.7M424.06 66.14h.7M479.05 63.87h.7M483.26 69.54h.7M458.48 73.23h.7M459.95 75.6h.7M464.14 66.26h.7M476.7 66.82h.7M474.03 75.61h.7M479.84 67.96h.7M479.53 80.38h.7M450.78 62.09h.7M457.1 91.75h.7M421.87 64.64h.7M452.82 75.98h.7M479.67 68.65h.7M499.06 69.75h.7M478.09 63.62h.7M412.52 69.74h.7M415.41 70.25h.7M459.97 59.98h.7M494.58 69.78h.7M423.44 66.95h.7M476.4 79.49h.7M424.59 63.05h.7M480.03 67.03h.7M498.41 70.25h.7M467.25 67.16h.7M482.05 69.86h.7M439.14 84.23h.7M419.7 71.41h.7M415.89 70.58h.7M446.17 84.96h.7M415.4 70.38h.7M446.89 88.89h.7M495.05 70.7h.7M430.17 65.33h.7M433.61 68.75h.7M430.82 63.77h.7M478.33 72.39h.7M436.86 90.35h.7M429.49 71.26h.7M424.11 74.18h.7M488.23 68.47h.7M477.64 76.06h.7M435.43 65.78h.7M453.7 88.24h.7M424.54 72.02h.7M463.78 69.2h.7M462.13 85.33h.7M428.88 77.14h.7M442.43 79.67h.7M487.7 67.52h.7M487.76 77.12h.7M436.78 50.35h.7M420.04 73.76h.7M410.85 70.68h.7M423.57 72.37h.7M418.78 68.71h.7M471.45 61.7h.7M440.56 86h.7M474.47 78.9h.7M498.17 68.9h.7M431.12 75.85h.7M472.05 59.76h.7M455.43 60.78h.7M448.74 52.66h.7M411.79 71.04h.7M438.48 82.55h.7M420.84 70.18h.7M422.22 69.74h.7M426.11 72.38h.7M423.31 72.32h.7M455.07 54.5h.7M441.82 70.14h.7M492.68 69.56h.7M429.36 80.56h.7M489.48 72.01h.7M434.57 60.89h.7M433.82 56.27h.7M413.89 70.26h.7M446.73 72.06h.7M442.63 44.36h.7M471.93 73.39h.7M458.96 71.85h.7M472.13 85.4h.7M488.67 72.01h.7M445.94 63.81h.7M447.72 94.58h.7M444.84 66.4h.7M446.9 55.35h.7M499.85 69.09h.7M464.7 86.52h.7M432.92 72.37h.7M443.93 60.75h.7M427.86 63.15h.7M485.88 73.24h.7M491.77 67.02h.7M472.48 67.48h.7M468.16 71.39h.7M438.41 88.66h.7M410.08 70.44h.7M486.81 70.33h.7M463.31 95.33h.7M431.1 72.44h.7M476.9 68.69h.7M474.1 68.73h.7M457.36 74.17h.7M470.95 67.25h.7M466.6 71.32h.7M430.09 72h.7M433.84 81.24h.7M452.59 78.81h.7M456.98 69.58h.7M429.91 62.5h.7M493.46 70.37h.7M457.15 71.16h.7M483.2 67.5h.7M425.51 74.16h.7M451.43 75.35h.7M484.47 75.36h.7M488.1 65.52h.7M444.31 82.64h.7M483.6 65.85h.7M423.85 67.75h.7M419.25 69.63h.7M482.29 70.48h.7M450.75 51.6h.7M445.6 98.26h.7M472.55 69.51h.7M453.05 82.56h.7M478.29 65.08h.7M471.22 68.1h.7M456.86 61.38h.7M443.37 64.87h.7M444.3 44.91h.7M428.08 71.16h.7M415.2 69.52h.7M474.64 66.84h.7M439.16 61.77h.7M485.07 65.62h.7M467.25 81.36h.7M428.15 69.12h.7M481.31 71.7h.7M443.45 48.61h.7M449.83 65.63h.7M474.13 67.14h.7M446.71 75.26h.7M482.97 68.8h.7M444.68 72.69h.7M493.23 68.77h.7M497.42 70.78h.7M443.51 75.5h.7M439.65 52.63h.7M478.04 68.76h.7M457.32 70.15h.7M491.12 71.93h.7M412.3 70.35h.7M451.63 69.02h.7M485.56 69.55h.7M452.62 88.2h.7M449.59 69.97h.7M456.06 83.81h.7M470.33 75.98h.7M446.15 47.46h.7M471.19 71.34h.7M479.23 74.46h.7M420.63 68.51h.7M416.94 71.23h.7M419.15 67.97h.7M477.8 71.2h.7M414.95 70.6h.7M474 70.02h.7M414.93 70.62h.7M447.61 73.03h.7M499.83 70.77h.7M488.47 67.25h.7M440.09 70.73h.7M410.54 70.85h.7M434.72 63.83h.7M438.17 62.53h.7M487.3 70.71h.7M455.99 67.82h.7M414.6 69.9h.7M488.01 73.03h.7M487.1 68.21h.7M428.18 60.66h.7M458.32 66.54h.7M451.78 69.9h.7M462.54 66.9h.7M482.13 66.77h.7M492.74 70.51h.7M414.6 69.92h.7M457.98 67.6h.7M460.84 65.37h.7M434.62 77.5h.7M436.24 75.47h.7M482.22 71.3h.7M450.92 91.53h.7M450.04 86.92h.7M415.19 70.12h.7M467.53 57.95h.7M487.64 65.95h.7M463.67 61.48h.7M493.02 70.53h.7M482.06 70.23h.7M470.65 74.16h.7M436.54 61.39h.7M485.45 66.6h.7M492.61 68.74h.7M419.08 68.06h.7M480.58 78.53h.7M447.32 75.72h.7M433.18 80.64h.7M471.73 63.74h.7M415.1 70.64h.7M413.76 70.82h.7M436.43 62.25h.7M462.39 65.55h.7M460.45 58.96h.7M492.07 69.37h.7M485.72 66.74h.7M481.94 79.09h.7M445.24 46.7h.7M444.2 74.73h.7M430.1 70.94h.7M418.42 70.13h.7M475.54 69.32h.7M471.1 62.37h.7M484.56 66.04h.7M493.1 74.19h.7M494.55 70.34h.7M436.17 66.13h.7M477.53 70.21h.7M493.68 68.17h.7M453.63 86.4h.7M463.8 71.39h.7M417.96 68.77h.7M434.41 80.9h.7M486.09 67.76h.7M493.21 67.35h.7M463.89 90.58h.7M440.99 88.15h.7M469.09 59.01h.7M439.98 68.77h.7M432.27 75.11h.7M426.1 73.84h.7M436.84 54.18h.7M460.33 55.91h.7M459.64 81.18h.7M463.6 69.38h.7M413.04 70.27h.7M418.75 70.84h.7M421.88 70.75h.7M441.76 66.25h.7M469.68 63.39h.7M425.27 76.47h.7M439.85 81.51h.7M488.61 70.12h.7M423.41 65.65h.7M489.12 67.05h.7M454.65 71.49h.7M420.58 70.08h.7M424.76 70.57h.7M455.61 66.02h.7M427.79 68.87h.7M428.31 63.14h.7M431.59 78.32h.7M455.16 88.17h.7M411.36 70.8h.7M453.96 82.18h.7M461.34 76.57h.7M430.63 74.71h.7M423.83 67.91h.7M412.78 70.12h.7M456.63 63.47h.7M490.15 66.91h.7M462.07 62.77h.7M463.58 79.73h.7M473.97 61.5h.7M432.12 72.03h.7M498.47 69.02h.7M465.64 75.71h.7M483.32 68.72h.7M482.95 69.9h.7M492.88 66.78h.7M494.63 69.96h.7M446.64 51.69h.7M432.04 74.82h.7M471.09 63.45h.7M440.99 56.44h.7M427.84 65.64h.7M439.8 90.25h.7M499.76 70.73h.7M453.18 70.17h.7M480.13 77.33h.7M477.63 72.36h.7M427.91 71.89h.7M486.12 73.23h.7M418.31 71.09h.7M441.43 57.5h.7M496.92 70.71h.7M477.1 64.49h.7M484.56 76.33h.7M491.43 71.78h.7M484.92 73.67h.7M463.13 68.74h.7M484.27 73.54h.7M488.37 68.76h.7M496.48 70.33h.7M495.13 68.73h.7M497.16 71.06h.7M432.68 77.9h.7M430.89 63.59h.7M451.21 60.25h.7M454.34 89.53h.7M471.68 74.81h.7M445.28 80.58h.7M481.43 72.58h.7M494.75 71.65h.7M446.56 51.63h.7M468.72 79.73h.7M440.56 72.89h.7M485.27 73.47h.7M410.4 70.24h.7M411.47 69.8h.7M483.12 69.49h.7M464.43 69.33h.7M440.19 60.31h.7M441.83 82.43h.7M465.73 65.62h.7M417.92 69.43h.7M473.11 69.42h.7M469.49 78.35h.7M420.86 71.33h.7M413.74 70.78h.7M426.57 67.1h.7M496.19 69.89h.7M430.18 78.06h.7M464.92 84.37h.7M445.49 70.24h.7M496.02 70.27h.7M498.97 69.65h.7M484.76 66.71h.7M457.45 42.91h.7M425.78 76.92h.7M450.91 82.99h.7M432.57 66.97h.7M419.08 70.46h.7M487.6 70.36h.7M443.9 88.38h.7M490.44 71.34h.7M416.83 70.57h.7M449.97 93.6h.7M442.56 75.22h.7M466.87 67.78h.7M457 76.67h.7M491.65 70.24h.7M442.74 92.32h.7M415.13 71.01h.7M471.52 71.39h.7M450.3 79.98h.7M490.2 71.86h.7M477.48 61.57h.7M439.27 56.94h.7M495.77 71.79h.7M423.01 70.91h.7M461.91 53.69h.7M445.3 78.98h.7M467.73 65.81h.7M478.62 67.58h.7M458.99 68.03h.7M498.03 70.57h.7M482.44 72.34h.7M444.24 91.66h.7M473.87 73.94h.7M434.97 60.09h.7M461.76 82.37h.7M481.43 68.61h.7M422.59 70.36h.7M488.97 67.55h.7M476.45 65.14h.7M438.08 52.12h.7M436.79 67.06h.7M497.02 71.97h.7M426.84 67.62h.7M494.94 69.12h.7M438.88 68.49h.7M419.76 69.04h.7M445.46 66.38h.7M496.72 69.64h.7M428.36 77.55h.7M450.52 84.47h.7M467.34 78.15h.7M438.33 58.07h.7M478.14 69.9h.7M460.29 76.05h.7M477.74 67.24h.7M442.65 86.97h.7M457.64 63.53h.7M466.72 65.03h.7M479.42 62.49h.7M484.4 70.9h.7M441.83 88.23h.7M433.9 63.49h.7M416.29 70.36h.7M477.84 73.05h.7M447.15 82.16h.7M420.01 69.27h.7M468.03 87.28h.7M467.05 75.39h.7M479.71 69.05h.7M494.63 71.24h.7M440.76 66.93h.7M482.52 68.73h.7M426.72 75.65h.7M457.86 70.94h.7M470.25 81.69h.7M422.02 69.07h.7M415.94 70.06h.7M455.19 85.59h.7M470.1 71.93h.7M446.33 72.61h.7M434.64 79.14h.7M480.96 75.33h.7M423.6 71.72h.7M477.87 70.26h.7M490.85 73.4h.7M476.87 76.25h.7M468.4 81.67h.7M421.82 71.67h.7M473.34 72.37h.7M434.76 55.48h.7M464.3 81.18h.7M434.57 62.22h.7M430.15 60.66h.7M470.84 85.73h.7M482.19 68.82h.7M472.95 61.55h.7M485.47 68.72h.7M410.31 70.35h.7M422.49 68.4h.7M415.32 70.15h.7M459.94 82.04h.7M413.56 70.78h.7M419.95 68.78h.7M466.65 66.96h.7M439.79 72.07h.7M429.61 75.29h.7M428.81 75.98h.7M482.79 70.64h.7M412.74 70.62h.7M412.55 70.26h.7M448.15 49.41h.7M466.7 76.51h.7M462.64 67.82h.7M456.09 73.34h.7M430.37 77.5h.7M499.61 70.77h.7M496.52 69.81h.7M498.76 69.23h.7M453.01 55.16h.7M450.86 77.02h.7M473.76 69.62h.7M440.75 59.06h.7M446.26 62.33h.7M427.48 73.47h.7M456.46 68.42h.7M427.79 73.04h.7M427.71 66.59h.7M460.42 77.22h.7M497.57 70.88h.7M495.35 72.11h.7M475.03 74.36h.7M415.65 69.54h.7M411.17 70.63h.7M474.98 72.55h.7M433.74 66.78h.7M424.73 71.51h.7M499.23 69.93h.7M413.98 69.69h.7M441.97 85.46h.7M482.4 69.82h.7M419.19 68.12h.7M423.85 72.91h.7M452.41 99.37h.7M492.06 72.03h.7M452.86 83.86h.7M421.55 66.97h.7M460.71 70.49h.7M428.84 65.87h.7M411.91 70.79h.7M473.92 81.8h.7M498.25 70.13h.7M475.92 68.7h.7M483.07 74.71h.7M422.04 64.65h.7M429.26 71.48h.7M444.1 43.33h.7M484.73 73.48h.7M451.73 47.71h.7M490.01 70.47h.7M416.39 69.81h.7M466.21 83.16h.7M453.61 75.34h.7M428.51 65.83h.7M491.52 69.64h.7M419.36 70.64h.7M421.36 68.06h.7M451.08 73.24h.7M467.27 75.8h.7M449.57 49.77h.7M475.2 61.58h.7M452.36 66.92h.7M470.56 75.18h.7M431.58 72.91h.7M472.28 69.84h.7M422.76 74.26h.7M463.92 56.27h.7M431.47 83.84h.7M430.58 68.25h.7M480.92 75.05h.7M467.05 76.97h.7M413.45 69.54h.7M497.85 71.01h.7M413.43 69.39h.7M431.64 80.56h.7M429.76 72.96h.7M493.73 70.85h.7M492.74 69.11h.7M423.81 63.34h.7M478.14 63.99h.7M497.58 70.76h.7M426.82 74.44h.7M424.65 70.36h.7M419.52 71.7h.7M490.07 73.92h.7M410.2 70.56h.7M460.03 82.73h.7M455.22 74.56h.7M463.51 80.42h.7M416.99 68.58h.7M459.09 63.9h.7M445.73 42.39h.7M477.05 60.88h.7M484.67 73.86h.7M451.22 54.05h.7M468.51 64.2h.7M448.61 53.07h.7M497.88 70.35h.7M441.73 53.38h.7M475.72 77.41h.7M486.35 66.11h.7M443.08 63.47h.7M478.62 65.11h.7M464.58 91.31h.7M479.19 60.54h.7M416.75 68.99h.7M472.32 72.18h.7M456.81 68.95h.7M446.67 73.91h.7M468.37 83.57h.7M475.94 75.92h.7M492.16 72.35h.7M474.5 60.28h.7M471.28 79.07h.7M448.77 86.63h.7M426.18 77.13h.7M449.76 77.92h.7M432.74 65.61h.7M441.36 64.5h.7M418.52 70.04h.7M498.28 70.57h.7M493.9 71.46h.7M485.31 78.3h.7M477.74 67.22h.7M432.48 68.39h.7M411.88 69.95h.7M489.77 74.1h.7M439.58 78.44h.7M479.75 76.99h.7M481.51 70.62h.7M419.44 71.94h.7M438.23 73.52h.7M443.04 71.33h.7M496.91 69.29h.7M457.78 75.55h.7M458.46 91.06h.7M446.68 88.4h.7M472.08 84.17h.7M418.07 69.13h.7M435.87 82.41h.7M411.23 70.03h.7M474.42 84.69h.7M425.87 69.54h.7M471.82 74.29h.7M477.14 74.63h.7M432.36 64.56h.7M412.49 70.48h.7M428.83 66.04h.7M496.79 70.63h.7M463.2 75.04h.7M463.81 76.25h.7M437.35 53.44h.7M416.02 68.48h.7M442.54 56.14h.7M420.16 70.22h.7M497.26 70.73h.7M434.61 76.68h.7M426.01 64.03h.7M437.28 67.75h.7M472.06 69.43h.7M475.55 63.07h.7M493.91 69.64h.7M484.91 64.11h.7M484.59 67.53h.7M486.95 73.28h.7M470.36 66.28h.7M410.88 69.97h.7M491.44 68.1h.7M469.33 72.21h.7M469.51 63.8h.7M422.93 65.99h.7M498.44 70.03h.7M468.7 71.85h.7M430.09 59.47h.7M411.33 70.62h.7M421.71 74.65h.7M442.73 77.45h.7M422.45 72.59h.7M432.65 67.29h.7M457.07 55.27h.7M432.35 76.5h.7M435.68 67.15h.7M478.83 66.56h.7M427.45 65.81h.7M444.58 65.69h.7M467.73 69.74h.7M488.27 65.74h.7M469.73 79.29h.7M431.13 56.37h.7M449.45 53.44h.7M451.4 78.3h.7M418.44 68.47h.7M453.16 57.47h.7M430.77 69.15h.7M420.65 66.97h.7M442.5 69.3h.7M494.29 70.46h.7M416.44 69.49h.7M476.98 71.22h.7M488.32 75.55h.7M487.21 66.46h.7M494.93 70.33h.7M431.58 62.36h.7M487.82 67.87h.7M417.48 69.48h.7M493.17 70.09h.7M475.82 62.52h.7M450.77 63.74h.7M428.48 72.55h.7M442.51 54.81h.7M498.58 70.22h.7M426.2 60.45h.7M468.77 70.58h.7M412.2 70.22h.7M476.64 70.82h.7M431.07 70.23h.7M464.44 74.65h.7M423.05 72.96h.7M495.1 71.15h.7M487.16 69.23h.7M491.24 68.25h.7M430.42 71.8h.7M491.14 67.22h.7M429.53 58.5h.7M449.51 55.03h.7M427.24 73.6h.7M462.5 89.05h.7M446.18 76.36h.7M411.13 70.78h.7M430.98 69.83h.7M456.05 92.82h.7M454.29 99.69h.7M465.91 63.59h.7M485.05 67.3h.7M499.96 70.19h.7M430.37 81.02h.7M438.96 67.54h.7M440.88 75.23h.7M412.07 70.12h.7M424.59 73.86h.7M410.01 70.32h.7M433.21 69.25h.7M460.57 77.61h.7M422.39 68.09h.7M420.85 74.03h.7M423.42 66.37h.7M457 73.04h.7M489.79 66.37h.7M431.09 62.56h.7M462.7 69.13h.7M446.8 86.67h.7M469.55 80.29h.7M496.12 69.59h.7M494.78 69.95h.7M414.64 71.2h.7M419.37 66.93h.7M436.07 64.31h.7M497.02 71.41h.7M447.81 71.2h.7M486.39 73.45h.7M468.81 70.53h.7M420.49 68.73h.7M469.23 72.21h.7M482.1 76.26h.7M496.61 69.37h.7M416.84 71.59h.7M461.33 60.53h.7M472.29 66.16h.7M431.29 67.58h.7M457.15 76.69h.7M416.61 70.91h.7M466.18 69.7h.7M470.49 77.71h.7M410.86 70.23h.7M471.01 74.94h.7M468.28 63.38h.7M496.26 71.17h.7M430.96 68.95h.7M496.21 69.38h.7M446.82 92.76h.7M491.01 68.61h.7M476.17 68.36h.7M469.7 76.96h.7M421.48 68.23h.7M429.34 65.98h.7M413.21 69.67h.7M446.55 67.61h.7M417 70.47h.7M494.81 70.52h.7M442.01 76.64h.7M449.35 57.03h.7M453.35 45.04h.7M470.84 63.64h.7M443.27 91.05h.7M479.01 75.91h.7M467.79 73.61h.7M473.44 83.3h.7M427.67 74.04h.7M437.08 62.88h.7M483.94 71.29h.7M486.47 74.46h.7M462.99 61.86h.7M411.35 70.28h.7M475.31 66.89h.7M416.3 68.23h.7M425.59 72.4h.7M410.35 70.03h.7M433.86 74.86h.7M498.85 68.96h.7M420.28 73.28h.7M497.3 69.3h.7M440.18 70.84h.7M438.81 67.87h.7M453.1 61.49h.7M414.95 69.23h.7M424.62 64.8h.7M466.16 75.74h.7M433.67 76.97h.7M475.59 68.05h.7M454.26 58.49h.7M493.61 70.5h.7M414.61 69.54h.7M472.34 68.5h.7M474.53 65.98h.7M481.74 74.4h.7M418.48 70.56h.7M427.22 72.96h.7M482.36 74.05h.7M430.81 60.11h.7M469.71 71.67h.7M422.44 67.56h.7M462.42 57.78h.7M467.06 64.63h.7M433.27 68.54h.7M457.98 78.58h.7M412.78 70.54h.7M429.89 66.32h.7M467.58 75.25h.7M465.32 84.58h.7M428.42 67.19h.7M469.63 65.78h.7M424.16 67.32h.7M479.42 75.58h.7M474.47 82.24h.7M481.49 68.16h.7M438.39 76.37h.7M415.01 70.45h.7M418.02 68.07h.7M456.24 57.18h.7M493.85 72.23h.7M451.56 58.38h.7M420.76 70.29h.7M456.92 66.03h.7M474.47 70.75h.7M479.79 64.47h.7M416.3 69.98h.7M453.52 61.31h.7M470.17 65h.7M438.64 69.61h.7M474.11 75.76h.7M443.45 68.57h.7M493.48 72.87h.7M465.69 59.57h.7M451.02 75.17h.7M435.07 53.05h.7M498.3 71.33h.7M421.61 70.03h.7M465.74 65.82h.7M416.17 70.89h.7M479.37 69.54h.7M417.71 69.92h.7M418.46 72.79h.7M414.61 69.86h.7M479.11 64.95h.7M419.59 67.61h.7M424.76 70.54h.7M484.98 66.85h.7M425.63 73.34h.7M448.32 64.5h.7M421.09 68.53h.7M497.46 69.19h.7M433.36 75.45h.7M490.26 73.67h.7M452.55 94.03h.7M464.36 65.17h.7M451.87 78.55h.7M476.06 64.13h.7M427.43 78.58h.7M419.63 71.91h.7M440.5 61.68h.7M432.96 69.59h.7M499.15 69.56h.7M486.91 68.8h.7M425.55 73.03h.7M440.74 58.95h.7M447.66 83h.7M487.68 70.85h.7M410.94 70.48h.7M464.59 84.89h.7M495.68 69.74h.7M486.36 73.62h.7M433.94 67.01h.7M443.72 65.31h.7M444.04 53.76h.7M430.44 78.88h.7M446.95 74.83h.7M489.86 72.16h.7M431.99 80.35h.7M482.38 79.5h.7M475.53 75.05h.7M483.17 67.68h.7M469.03 68.15h.7M485.57 66.45h.7M458.52 65.35h.7M483.85 68.79h.7M485.95 74.14h.7M489.1 67.32h.7M494.44 71.27h.7M470.92 73.55h.7M414.32 70.98h.7M459.3 69.05h.7M440.54 79.25h.7M480.4 76.23h.7M429.27 67.51h.7M432.44 59.09h.7M439.44 48.57h.7M481.69 67.08h.7M416.36 68.82h.7M476.7 65.75h.7M451.59 66.94h.7M482.22 77.8h.7M437.89 73.62h.7M490.53 70.09h.7M490.97 71.78h.7M438.04 82.09h.7M461.59 57.2h.7M462.87 82.06h.7M456.67 69.79h.7M447.48 86.37h.7M469.9 64.6h.7M442.61 65.78h.7M496.28 70.83h.7M421.24 73.54h.7M413.14 70.36h.7M448.91 78.31h.7M448.64 51.76h.7M457.13 83.37h.7M481 68.68h.7M430.01 74.4h.7M482.16 67.05h.7M489.48 76.02h.7M449.01 66.11h.7M473.89 81.05h.7M428.16 67.1h.7M439.61 77.07h.7M426.81 70.78h.7M455.03 76.51h.7M422.89 75.28h.7M500 70.33h.7M481.57 66.39h.7M491.92 70.52h.7M478.36 76.96h.7M442.55 87.39h.7M428.67 58.62h.7M455.22 88.75h.7M491.04 74.17h.7M455.97 91.32h.7M460.4 58.46h.7M466.8 79.26h.7M448.15 73.7h.7M433.32 64.72h.7M447.82 70.67h.7M452.15 52.13h.7M410.51 70.13h.7M474.52 75.13h.7M431.33 64.95h.7M456.5 58.5h.7M464.26 85.37h.7M428.18 71.37h.7M474.87 75.07h.7M474.09 74.34h.7M434.53 78.86h.7M493.26 67.63h.7M494.97 70.07h.7M417.77 68.36h.7M481.72 72.46h.7M422.79 69.94h.7M467.48 92.08h.7M440.24 78.51h.7M432.06 62.98h.7M424.51 69.36h.7M465.64 65.87h.7M424.57 67.04h.7M417.65 69.14h.7M438.42 70.36h.7M426.52 70.01h.7M449.58 95.38h.7M453.76 92.79h.7M452.43 58.53h.7M463.28 59.92h.7M425.23 63.9h.7M473.12 83.53h.7M446.31 65.19h.7M448.26 65.04h.7M472.16 68.6h.7M423.71 74.02h.7M461.53 48.76h.7M486.45 72.46h.7M441.9 74.1h.7M492.82 69.82h.7M448.93 62.85h.7M459.88 75.82h.7M476.15 80.82h.7M423.08 69.13h.7M486.64 73.19h.7M463.1 75.79h.7M440.61 87.92h.7M459.45 67.54h.7M426.42 64.13h.7M490.78 72.37h.7M412.41 70.05h.7M453.17 70.12h.7M442.71 85.54h.7M441.49 71.14h.7M493.64 70.86h.7M452.92 64.48h.7M444.84 73.71h.7M480.74 67.41h.7M443.34 66.58h.7M442.66 86.67h.7M458.5 63.24h.7M439.91 80.61h.7M424.42 72.07h.7M411.96 69.89h.7M415.35 70.96h.7M423.22 67.68h.7M415.18 69.75h.7M476.01 74.18h.7M491.93 73.65h.7M459.58 89.24h.7M418.06 72.22h.7M449.06 57.94h.7M477.32 77.08h.7M444.72 52.37h.7M488.56 72.38h.7M463.73 91.81h.7M413.43 69.41h.7M421.18 65.7h.7M473.75 72.68h.7M420.11 68.26h.7M426.28 71.47h.7M470.52 85.53h.7M442.46 92.52h.7M449.1 66.49h.7M432.8 63.65h.7M497.71 72.14h.7M473.53 64.64h.7M426.19 65.1h.7M441.59 77.77h.7M415.3 70.31h.7M471.26 59.14h.7M449.56 81.82h.7M461.81 69.06h.7M489.32 70.96h.7M440.33 67.08h.7M494.9 71.82h.7M492.34 70.55h.7M422.82 67.19h.7M444.5 76.57h.7M410.41 70.51h.7M480.74 70.43h.7M410.5 70.51h.7M447.27 76.12h.7M461.29 78.13h.7M446.79 92.56h.7M496 71.96h.7M465.37 66.14h.7M443.89 61.99h.7M491.34 72.17h.7M480.93 74.99h.7M499.17 70.58h.7M438.64 77.67h.7M433.61 72.47h.7M424.26 74.17h.7M453.99 62.34h.7M493.06 67.9h.7M493.72 71.46h.7M423.42 72.6h.7M461.6 87.16h.7M462.79 68.52h.7M494 68.21h.7M479.94 64.43h.7M434.9 57.97h.7M488.41 69.86h.7M475.37 66.62h.7M475.73 72.81h.7M418.78 70.23h.7M474.96 65.76h.7M468.89 66.02h.7M443.35 87.47h.7M494.88 73.39h.7M448.41 72.64h.7M482.76 73.43h.7M451.06 86.18h.7M446.11 91.24h.7M452.55 54.08h.7M477.42 64.79h.7M471.16 60.12h.7M498.95 70.32h.7M476.63 64.3h.7M467.32 67.86h.7M432.42 77.06h.7M412.99 70.22h.7M417.82 71.64h.7M490.39 66.18h.7M451.81 69.25h.7M474.68 74.65h.7M440.89 87.2h.7M426.68 64.48h.7M483.32 65.73h.7M426.73 70.25h.7M440.27 57.95h.7M493.69 70.15h.7M480.73 67.26h.7M492.13 68.74h.7M491.58 70.88h.7M497.4 70.97h.7M466.77 71.06h.7M486.94 69.83h.7M418.85 72.43h.7M482.5 72.4h.7M477.03 66.42h.7M451.7 83.86h.7M496.58 71.79h.7M424.44 72.01h.7M459.87 67.66h.7M425.1 65.43h.7M452.32 70.03h.7M434.11 67.03h.7M459.86 79.91h.7M463.04 60.52h.7M489.75 69.41h.7M496.38 72.36h.7M422.63 70.84h.7M497.01 69.98h.7M459.27 64.73h.7M412.58 69.86h.7M421.16 68.84h.7M466.65 71.83h.7M495.34 70.89h.7M442.61 89.43h.7M467.06 71.31h.7M487.63 71.7h.7M442.43 73.36h.7M437.03 87.31h.7M431.98 83.18h.7M415.79 68.49h.7M459.78 60.91h.7M455.67 55.1h.7M485.32 71.93h.7M471.58 82.09h.7M499.29 70.55h.7M474.19 57.64h.7M414.43 70.13h.7M497.22 69.81h.7M461.16 48.9h.7M447.42 87.85h.7M463.06 81.74h.7M411.18 69.96h.7M426.13 74.6h.7M419.15 72.73h.7M434.07 80.19h.7M456.4 64.59h.7M496.98 70.03h.7M472.77 61.31h.7M484.74 77.77h.7M419.95 71.53h.7M434.34 59.82h.7M442.78 75.27h.7M495.82 72.78h.7M499.42 70.44h.7M468.81 63.04h.7M475.35 71.1h.7M442.31 85.68h.7M432.96 60.44h.7M424.23 66.15h.7M462.97 80.7h.7M424.4 70.27h.7M461.7 72.1h.7M447.14 71.65h.7M411.36 69.71h.7M448.04 60.18h.7M478.11 66.75h.7M484.16 67.66h.7M418.33 70.17h.7M444.88 64.54h.7M478.86 66.53h.7M470.3 78.97h.7M450.74 70.35h.7M493.13 70.72h.7M426.28 62.97h.7M417.39 69.74h.7M418 70.76h.7M448.12 63.32h.7M456.09 91.65h.7M431.99 61.56h.7M437.48 65.13h.7M491.89 71.43h.7M448.6 56.51h.7M414.09 69.54h.7M486.27 71.62h.7M424.09 71.35h.7M415.25 70.26h.7M440.18 54.55h.7M476.82 73.96h.7M455.96 57.96h.7M470.26 69.17h.7M469.51 61h.7M491.23 65.64h.7M430.05 68.45h.7M427.85 62.29h.7M471.87 87.04h.7M440.15 62.5h.7M470.36 65.06h.7M446.07 76.71h.7M448.76 55.91h.7M416.34 70.35h.7M499.15 71.19h.7M418.99 70.26h.7M453.96 58.69h.7M470.28 70.18h.7M482.79 68.1h.7M494.05 71.74h.7M452.62 55.5h.7M453.53 54.92h.7M471.71 74.48h.7M462.03 93.2h.7M414.07 70.59h.7M482.08 65.26h.7M438.98 51.64h.7M462.47 77.63h.7M441.32 76.21h.7M443 77.11h.7M434.92 86.37h.7M449.41 40.59h.7M418.23 71.11h.7M487.82 71.37h.7M423.98 74.26h.7M474.52 63.36h.7M444.25 75.82h.7M410.33 69.76h.7M441.83 83.99h.7M499.67 69.98h.7M491.8 72.02h.7M487.86 70.95h.7M497.24 70.61h.7M495.31 70.46h.7M427.69 70.48h.7M453.47 64.72h.7M443.63 70.56h.7M462.92 62.68h.7M434.97 70.31h.7M455.35 67.73h.7M469.77 64h.7M457.86 63.11h.7M479.3 73.25h.7M480.29 70.47h.7M432.41 80.93h.7M455.97 66.34h.7M436.14 67.68h.7M473.78 77.15h.7M453.43 79.25h.7M429.16 69.49h.7M442.22 63.72h.7M442.35 78.62h.7M476 65.8h.7M431.04 75.63h.7M468.91 74.54h.7M467.17 75.41h.7M434.55 55.21h.7M442.46 47.74h.7M496.58 70.31h.7M470.32 85.45h.7M482.4 67.24h.7M440.32 54.86h.7M481.61 73.35h.7M453.89 65.93h.7M434.29 69.96h.7M474.09 79.54h.7M486.4 74.35h.7M449.53 67.59h.7M438.26 88.82h.7M426.5 65.04h.7M435.28 82.83h.7M486.75 68.88h.7M486.65 74.68h.7M448.45 57.95h.7M479.55 68.79h.7M420.74 73.14h.7M449.56 66.74h.7M463.57 63.96h.7M411.82 70.14h.7M444.14 43.75h.7M443.46 79.15h.7M439.97 75.4h.7M466.21 62.85h.7M411.83 70.43h.7M464.99 65.47h.7M428.02 75.96h.7M491.83 68.77h.7M462.74 72.47h.7M438.98 50.03h.7M439.28 74.18h.7M464.18 70.52h.7M421.01 68.31h.7M438.02 67.9h.7M442.69 85.98h.7M420.44 74.34h.7M431.63 77.87h.7M431.92 71.78h.7M443.95 47.77h.7M481.68 74.57h.7M434.23 76.74h.7M453.12 98.56h.7M414.89 70.03h.7M430.5 72.27h.7M480.01 75.72h.7M459.35 67.07h.7M481.97 65.06h.7M433.4 75.78h.7M449.64 99.14h.7M418.18 70.12h.7M429.13 55.77h.7M418.42 68.28h.7M443.2 68.11h.7M455.7 63.2h.7M473.18 70.54h.7M498.36 69.51h.7M455.95 70.07h.7M443.46 83.88h.7M428.86 76.96h.7M442.2 64.81h.7M465.33 71.94h.7M435.56 55.99h.7M495.97 69.9h.7M420.3 71.07h.7M457.88 64.96h.7M439.56 81.5h.7M440.48 67.75h.7M496.12 69.88h.7M446.18 56.51h.7M469.62 74.1h.7M450.17 67.06h.7M430.94 75.73h.7M451.15 84.28h.7M443.74 78.08h.7M412.59 69.89h.7M496.45 70.77h.7M470.81 70.2h.7M452.51 58.53h.7M425.57 71.79h.7M472.45 66.24h.7M468.01 61.91h.7M465.17 61.85h.7M455.86 64.16h.7M459.56 57.57h.7M453.5 74.45h.7M422.13 68.8h.7M471.08 71.18h.7M465.5 78.85h.7M461.43 62.14h.7M449.83 83.95h.7M461 79.23h.7M442.76 68.64h.7M497.28 71.17h.7M468.75 61.24h.7M465.07 55.11h.7M494.05 73.16h.7M475.53 66.83h.7M486.12 67.16h.7M484.51 70.45h.7M411.42 70.69h.7M449.6 83.92h.7M471.96 70.88h.7M487.62 67.73h.7M490.87 69.32h.7M412.34 70.07h.7M415.95 68.94h.7M466.17 60.48h.7M424.37 68.08h.7M435.09 82.59h.7M491.48 72.86h.7M499.08 70.16h.7M481.62 67.81h.7M493.38 71.85h.7M475.89 66.17h.7M418.23 72.29h.7M459.69 73.99h.7M487.58 67.02h.7M472.94 69.74h.7M480.75 69.79h.7M427.7 78.72h.7M435.3 76.19h.7M484.81 67.82h.7M472.55 68.69h.7M430.17 64.47h.7M495.86 69.89h.7M455.89 70.29h.7M412.39 70.56h.7M477.06 77.67h.7M442.12 59.68h.7M441.27 77.51h.7M469.22 68.63h.7M457.22 57.68h.7M492.67 70.13h.7M455.61 81.87h.7M427.81 73.34h.7M441.8 80.91h.7M418.49 69.35h.7M467.2 69.93h.7M443.92 72.64h.7M429.6 69.2h.7M410.17 70.5h.7M432.85 77.75h.7M459.69 73.61h.7M466.34 60.74h.7M479.95 67.74h.7M487.65 72.92h.7M471.03 77.99h.7M449.3 76.51h.7M495.75 69.24h.7M419.07 69.89h.7M455.86 56.94h.7M429.91 77.23h.7M444.92 55.9h.7M426.47 71.11h.7M427.1 69.93h.7M458.39 68.55h.7M455.33 84.65h.7M411.5 70.79h.7M427.93 60.26h.7M479.08 71.21h.7M458.41 60.95h.7M480.3 67.98h.7M475.42 66.1h.7M461.56 75.05h.7M443.45 69.63h.7M415.87 70.57h.7M472.21 63.83h.7M459.56 78.71h.7M419.1 71.94h.7M488.34 65.76h.7M432.36 58.39h.7M432.74 58.17h.7M454.04 61.3h.7M437.01 69.24h.7M443.44 80.31h.7M475.04 63.47h.7M430.11 55.54h.7M439.64 55.14h.7M472.74 76.38h.7M499.62 69.77h.7M413.3 70.62h.7M447.06 89.92h.7M445.32 63.61h.7M416.54 71.83h.7M456.09 68.47h.7M449.34 80.69h.7M484.77 70.05h.7M426.03 69.14h.7M490.22 69.7h.7M469.48 71.57h.7M451.52 72.86h.7M432.06 71.25h.7M487.83 66.15h.7M443.2 84.87h.7M498.04 68.69h.7M466.43 73.74h.7M485.88 70.01h.7M421.79 68.81h.7M474.14 74.74h.7M428.41 72.23h.7M469.11 74.01h.7M411.97 70.19h.7M439.25 72.82h.7M440.3 56.03h.7M470.33 66.46h.7M481.16 68.07h.7M459.13 82.34h.7M420.4 71.55h.7M416.13 71.65h.7M412.26 70.51h.7M443.18 57.99h.7M445.55 70.29h.7M447.34 54.01h.7M457.05 63.85h.7M497.05 69.98h.7M449.18 59.71h.7M497.19 69.83h.7M468.16 79.83h.7M445.39 79.34h.7M435.09 57.65h.7M413.8 70.18h.7M488.65 67.92h.7M449.64 80.45h.7M434.86 59.76h.7M456.73 68.03h.7M494.46 72.21h.7M431.42 71.27h.7M447.46 46.46h.7M449.99 89.64h.7M437.25 72.32h.7M473.93 61.52h.7M493.17 68.17h.7M437.14 75.86h.7M411.74 70.13h.7M421.4 70.09h.7M411.42 69.87h.7M430.02 60.26h.7M418.15 69.02h.7M456.59 56.54h.7M483.9 69.5h.7M432.67 63.96h.7M485.56 64.78h.7M476.8 63.48h.7M495.01 69.96h.7M463.79 83.33h.7M419.04 67.77h.7M472.42 71.94h.7M474.89 66.93h.7M454.72 58.51h.7M449.34 62.16h.7M462.71 65.04h.7M434.73 73.37h.7M417.7 71.35h.7M454.62 60.47h.7M420.34 70.29h.7M455.35 78.68h.7M443.65 67.41h.7M490.33 68.81h.7M498.29 71.26h.7M499.12 71.3h.7M433.15 77.4h.7M465.07 62.88h.7M499.78 70.46h.7M482.87 70.87h.7M417.16 71.49h.7M425.79 67.17h.7M465.46 62.72h.7M451.63 78.42h.7M418.64 70.88h.7M419.4 70.15h.7M468.45 74.95h.7M413.88 69.73h.7M496.41 69.98h.7M448.23 65.9h.7M472.66 75.35h.7M468.52 68.5h.7M461.26 70.72h.7M426.91 77.86h.7M496.84 71.06h.7M499.33 70.2h.7M485.52 67.83h.7M476.85 73.92h.7M494.47 71.76h.7M489.14 68.59h.7M480.87 70h.7M438.12 66.43h.7M481.9 75.11h.7M486.02 71.87h.7M425.33 65.65h.7M461.12 61.65h.7M440.29 54.5h.7M423.93 72.25h.7M430.13 76.83h.7M439.62 81.7h.7M437.24 63.26h.7M445.53 43.44h.7M449.2 66.08h.7M411.14 70.62h.7M443.76 40.22h.7M496.43 69.48h.7M432.77 54.11h.7M418.96 71.16h.7M462.38 70.37h.7M432.16 65.44h.7M497.31 69.96h.7M499.05 71.09h.7M421.21 72.76h.7M411.89 70.47h.7M482.86 72.52h.7M459.48 82.47h.7M423.89 70.58h.7M433.93 67.87h.7M427.22 72.96h.7M461.58 80.22h.7M466.54 72.81h.7M492.97 71.95h.7M461.01 65.48h.7M493.51 69.73h.7M419.19 69.52h.7M473.57 81.28h.7M468.11 74.32h.7M494.36 71.46h.7M450.09 68.99h.7M478.37 67.94h.7M419.88 70.82h.7M482.81 67.56h.7M471.53 80.57h.7M421.49 67.34h.7M454.37 64.71h.7M495.45 73.05h.7M450.11 82.01h.7M466.85 62.62h.7M497.46 69.41h.7M416.84 70.13h.7M411.6 70.23h.7M447.09 92.09h.7M447.23 84.43h.7M480.18 71.37h.7M431.4 66.15h.7M454.23 66.86h.7M468.1 70.37h.7M439.07 73.07h.7M499.69 69.76h.7M440.21 45.99h.7M418.44 67.94h.7M448.06 83.91h.7M472.79 83.66h.7M485.33 71.06h.7M462.24 50.48h.7M444.52 61.58h.7M465.86 57.79h.7M458.81 66.65h.7M454.28 67.18h.7M419.2 71.31h.7M482.03 71.39h.7M420.42 70.76h.7M488.39 76.32h.7M478.27 62.27h.7M489.06 71.49h.7M434.89 82.46h.7M484.35 75.42h.7M432.28 71.63h.7M444.1 63.07h.7M478.51 71.95h.7M439.86 71.38h.7M493.55 70.53h.7M492.22 70.58h.7M499.3 69.14h.7M451.4 72.05h.7M475.41 82.31h.7M466.1 69.82h.7M467.08 71.06h.7M473.45 82.13h.7M411.25 70.09h.7M488.87 66.12h.7M481.13 62.72h.7M468.34 78.56h.7M431.43 67.87h.7M430.38 73.71h.7M457.59 73.89h.7M439.29 72.53h.7M495.9 71.19h.7M495.66 69.46h.7M456.44 66.74h.7M441.15 80.32h.7M425.75 70.85h.7M479.67 78.43h.7M411.68 70.01h.7M454.38 91.96h.7M424.69 74.1h.7M445.75 71.74h.7M493.52 67.85h.7M439.66 57.77h.7M422.04 68.78h.7M473.07 71.75h.7M420.96 72.24h.7M455.66 56.54h.7M483.84 74.18h.7M429.51 79.38h.7M482.93 67.33h.7M410.09 70.57h.7M484.34 65.55h.7M478.98 74.59h.7M467.04 80.33h.7M498.63 69.93h.7M485.05 75.77h.7M438.22 75.15h.7M471.59 78.88h.7M461.02 63.87h.7M432.65 71.02h.7M422.18 73.29h.7M490.03 68.51h.7M472.75 73.73h.7M420.97 72.05h.7M478.97 67.84h.7M418.84 69.32h.7M479.45 69.88h.7M483.38 66.41h.7M419.59 69.55h.7M489.19 67.6h.7M416.61 70.95h.7M418.22 70.86h.7M417.51 69.41h.7M469.72 80.75h.7M446.83 68.59h.7M412.8 70.05h.7M431.78 76.06h.7M474.28 76.08h.7M457.86 77.53h.7M421.45 69.51h.7M436.36 64.01h.7M476.53 66.02h.7M439.28 63.31h.7M487.76 71.39h.7M453.26 66.26h.7M492.95 73.12h.7M450.47 72.54h.7M487.63 68.28h.7M433.28 58.54h.7M455.18 81.01h.7M424.09 69.63h.7M499.16 70.22h.7M444.41 83.05h.7M490.29 69.51h.7M421.12 71.06h.7M476.64 79.45h.7M469.41 66.75h.7M456.35 63.26h.7M450.14 69.21h.7M492.1 73.05h.7M493.37 70.17h.7M496.79 69.19h.7M492.9 70.92h.7M488.52 69.66h.7M499.18 69.08h.7M486.3 73.64h.7M443.68 82.26h.7M429.23 74.31h.7M452.16 67.29h.7M427.69 74.66h.7M475.78 62.96h.7M498.02 69.62h.7M443.77 67.49h.7M461.89 85.91h.7M495.06 70.72h.7M442.9 53.92h.7M416.19 70.29h.7M462.49 68.99h.7M498.42 70.09h.7M441.59 67.71h.7M425.46 76.53h.7M463.19 71.48h.7M448.32 60.78h.7M438.39 70.07h.7M450.16 96.52h.7M460.68 61.29h.7M414.83 69.51h.7M441.12 79.43h.7M490.03 68.46h.7M480.23 69.62h.7M458.38 71.33h.7M413.83 69.4h.7M470.08 74.64h.7M444.23 87.82h.7M483.8 68.32h.7M416.02 70.37h.7M468.89 64.77h.7M413.95 70.23h.7M413.08 70.57h.7M466.3 65.42h.7M450.11 60.01h.7M426.73 65.41h.7M483.41 69.83h.7M474.39 68.04h.7M482.62 71.31h.7M468.86 68.36h.7M460.56 60.59h.7M497.64 70.66h.7M457.92 75.11h.7M419.01 69.55h.7M430.76 77.01h.7M411.16 70.21h.7M488.17 72.77h.7M474.69 67.31h.7M430.91 73.84h.7M436.88 76.01h.7M441.5 78.65h.7M461.57 81.92h.7M498.71 70.04h.7M498.79 68.85h.7M488.96 65.51h.7M459.07 67.07h.7M479.29 67.99h.7M428.74 74.76h.7M459.53 79.71h.7M454.04 47.93h.7M479.41 66.55h.7M452.46 39.71h.7M433.31 73.62h.7M478.78 72.23h.7M449.89 79.09h.7M470.2 64.63h.7M458.16 73.58h.7M475.59 65.53h.7M437.97 65.64h.7M418.63 69.66h.7M475.66 71.54h.7M425.57 72.86h.7M420.51 71.71h.7M423.29 65.76h.7M432.66 70.52h.7M434.3 80.47h.7M494.45 69.44h.7M477.49 73.43h.7M460.5 63.01h.7M495.46 72.39h.7M411.18 70.1h.7M438.89 60.03h.7M448.72 87.99h.7M412.15 70.67h.7M437.81 47.98h.7M490.97 68.89h.7M429.09 62.27h.7M443.05 54.65h.7M426.17 66.89h.7M462.05 68.94h.7M437.45 70.86h.7M479.67 73.53h.7M440.92 86.19h.7M481.21 70.99h.7M452.8 64.35h.7M422.07 73.58h.7M464.75 58.72h.7M493.3 72.46h.7M413.02 70.51h.7M431.44 70.84h.7M485.08 68.93h.7M454.85 76.39h.7M427.31 71.82h.7M448.27 96.3h.7M426.89 72.92h.7M413.71 69.91h.7M420.6 67.92h.7M457.54 58.78h.7M481.53 64.75h.7M466.07 82.03h.7M421.39 68.21h.7M478.84 69.91h.7M493.89 69.62h.7M445.82 91.87h.7M440.95 90.11h.7M490.19 68.18h.7M459.12 91.13h.7M420.56 72.51h.7M479.68 73.97h.7M464.07 58.37h.7M496.25 68.92h.7M480.52 73.35h.7M438.57 75.26h.7M446.95 79.43h.7M413.9 71.11h.7M444.6 81.31h.7M452.44 83.32h.7M437.1 71.3h.7M412.27 70.24h.7M417.13 71.46h.7M470.96 69.07h.7M497.69 71.68h.7M496.11 68.78h.7M473.37 74.88h.7M464.53 53h.7M493.15 70h.7M463.55 81.08h.7M434.77 52.55h.7M493.1 69.21h.7M413.7 69.62h.7M499.53 70.65h.7M428.89 63.3h.7M490.79 71.29h.7M462.47 58.92h.7M447.2 91.36h.7M410.3 70.19h.7M415.13 71.93h.7M419.39 73.1h.7M485.71 72.61h.7M413.8 70.54h.7M454.37 69.98h.7M423.07 70.34h.7M482.18 65.65h.7M488.85 69.72h.7M433.95 63.33h.7M451.38 75.62h.7M461.29 86.16h.7M456.03 70.67h.7M499 69.71h.7M411.49 70.09h.7M438.19 56.68h.7M447.63 46.52h.7M492.87 70.19h.7M489.09 71.76h.7M475.69 75.09h.7M437.15 76.27h.7M428.55 70.98h.7M463.58 79.37h.7M425.1 68.52h.7M484.18 73.86h.7M498.01 69.29h.7M428.91 62.07h.7M475.13 74.92h.7M468.33 77.83h.7M456.44 72.38h.7M492.89 70.97h.7M469.04 72.28h.7M454.45 80.46h.7M461.53 58.32h.7M448.33 67.6h.7M448.9 72.29h.7M442.55 66.75h.7M448.42 65.78h.7M497.47 69.08h.7M411.52 70.47h.7M445.57 68.58h.7M463.26 67.05h.7M431.53 54.67h.7M488.64 74.87h.7M435.73 69.39h.7M439.15 51.93h.7M490.34 72.83h.7M431.7 64.77h.7M472.84 76.81h.7M452.27 66.45h.7M431.02 75.96h.7M487.72 73.84h.7M420.29 70.72h.7M498.67 70.68h.7M451.33 55.48h.7M415.45 70.76h.7M416.17 71.09h.7M469.91 69.82h.7M490.24 74.11h.7M465.49 59.22h.7M462.97 68.38h.7M432.46 81.11h.7M475.72 63.85h.7M430.6 67.22h.7M461.56 65.55h.7M449.56 82.99h.7M426.36 72.92h.7M439.76 87.31h.7M495.66 69.74h.7M464.55 59.15h.7M446.94 74.37h.7M467.43 67.15h.7M413.05 69.66h.7M460.44 59.72h.7M437.55 73.19h.7M491.07 70.34h.7M432.92 71.87h.7M434.81 77.14h.7M424.04 67.82h.7M449.48 88.93h.7M424.89 66.51h.7M421.85 68.01h.7M439.9 67.09h.7M478.37 69.1h.7M452.76 66.81h.7M479.68 77.39h.7M448.29 89.59h.7M432.56 84.12h.7M457.28 76.87h.7M444.32 62.03h.7M422.16 73.62h.7M442.36 76.5h.7M451.47 71.16h.7M428.62 64.27h.7M440.26 75.52h.7M458.9 45.16h.7M473.97 69.31h.7M416.21 69.64h.7M429.05 75.71h.7M459.5 65.2h.7M432.37 65.48h.7M435.21 66.25h.7M481.16 74.32h.7M472.83 79.67h.7M468.85 61.54h.7M414.01 69.66h.7M433.23 70.78h.7M483.98 71.12h.7M448.67 60.39h.7M498.35 70.81h.7M440.71 49.95h.7M498.37 69.75h.7M486.29 66.35h.7M468.78 67.65h.7M490 68.93h.7M419.07 68.82h.7M482.51 78.67h.7M467.87 74.91h.7M435.39 63.96h.7M417.81 72.76h.7M413.91 70.41h.7M441.49 58.72h.7M449.24 90.72h.7M432.3 61.72h.7M466.65 74.43h.7M455.96 58.53h.7M488.68 66.86h.7M425.67 66.95h.7M456.24 69.56h.7M459.83 78.39h.7M490.46 70.07h.7M413.78 70.81h.7M411.66 70.07h.7M422.88 71.02h.7M480.37 65.12h.7M436.49 80.29h.7M472.02 62.51h.7M471.78 77.05h.7M446.77 56.08h.7M469.31 66.98h.7M422.04 67.41h.7M446.22 54.42h.7M444.66 71.82h.7M459.69 67.6h.7M482.01 64.71h.7M439.68 86.44h.7M487.79 74.85h.7M478.87 70.74h.7M480.88 71.14h.7M420.58 68.79h.7M418.77 72.09h.7M438.98 67.56h.7M458.44 55.21h.7M473.52 76.58h.7M481.65 76.02h.7M438.56 57.66h.7M478.54 73.2h.7M443.44 64.98h.7M423.83 73.6h.7M451.46 83.22h.7M440.58 64.49h.7M456.19 79.77h.7M489.44 69.29h.7M472.41 68.8h.7M487.53 72.64h.7M459.98 66.41h.7M434.64 80.69h.7M482.08 68.17h.7M417.62 69.16h.7M496.78 68.63h.7M482.9 70.55h.7M459.86 71.51h.7M446.92 72.09h.7M418.1 72.19h.7M419.26 68.35h.7M470.53 73.34h.7M482.6 72.53h.7M493.76 67.79h.7M410.96 70.02h.7M480.1 65.52h.7M457.81 80.7h.7M424.06 70.48h.7M491.07 71.87h.7M445.82 69.57h.7M435.01 84.98h.7M480.44 72.69h.7M437.38 76.42h.7M453.81 82.56h.7M442.75 84.75h.7M471.62 69.5h.7M460.65 81.7h.7M457.62 93.6h.7M410.65 70.64h.7M474.27 70.11h.7M486.49 66.85h.7M440.39 76.64h.7M484.1 69.09h.7M499.47 70.48h.7M414.08 69.54h.7M416.87 70.43h.7M438.97 62.57h.7M450.29 50.76h.7M491.8 72.46h.7M460.28 68.79h.7M437.76 72.8h.7M441.21 91.3h.7M496.05 70.96h.7M484.34 65.1h.7M421.13 69.29h.7M421.35 69.77h.7M498.75 70.98h.7M496.29 69.44h.7M429.96 57.19h.7M434.63 54.86h.7M457.53 63.96h.7M470.64 71.52h.7M463.76 65.33h.7M476.13 73.53h.7M474.29 69.86h.7M451.75 62.47h.7M413.61 70.21h.7M465.46 62.47h.7M487.4 74.25h.7M486.82 73.48h.7M453.95 57.77h.7M434.4 75.71h.7M498.62 69.36h.7M410.56 70.14h.7M441.43 73.05h.7M420.11 72.28h.7M440.42 85.29h.7M439.63 64.08h.7M425.83 77.65h.7M463.05 81.81h.7M415.67 70.34h.7M475.97 83.08h.7M494.29 68.43h.7M443.59 97.7h.7M458.14 93.06h.7M432.81 54.18h.7M495.16 69.45h.7M460.46 66.43h.7M461.98 88.95h.7M495.22 71.85h.7M433.11 77.58h.7M411.65 70.17h.7M494.97 69.39h.7M443.05 72.68h.7M431.3 74.03h.7M468.73 60.8h.7M492.81 67.69h.7M472.69 67.91h.7M422.92 65.65h.7M499.8 70.74h.7M451.29 82.26h.7M497.28 71.65h.7M457.93 63.09h.7M456.67 96.85h.7M475.72 73.22h.7M485.86 69.51h.7M460.3 84.11h.7M427.92 76h.7M412.21 70.29h.7M461.74 59.22h.7M492.98 70h.7M426.66 69.13h.7M463.23 68.6h.7M410.26 69.86h.7M474.19 63.73h.7M432.99 77.13h.7M487.55 74.25h.7M425.7 60.48h.7M477.88 71.73h.7M442.81 45.71h.7M448.83 60.14h.7M462.92 93.04h.7M428.84 61.01h.7M472.51 62.61h.7M430.07 69.19h.7M498.75 69.93h.7M438.43 69.57h.7M424.61 69.27h.7M473.03 67.52h.7M481.67 66.43h.7M419.14 70.79h.7M450.76 90.04h.7M419.46 71.44h.7M470.28 68.07h.7M421.55 70.95h.7M478.24 69.93h.7M452.53 77.24h.7M464.84 68.6h.7M426.75 69.8h.7M459.48 87.4h.7M499.53 70.33h.7M439.57 60.88h.7M466.74 76.95h.7M432.3 73.93h.7M499.93 70.1h.7M494.49 70.04h.7M468.7 80.98h.7M428.3 67.83h.7M498.57 69.17h.7M437.56 69.62h.7M477.04 72.33h.7M493.68 71h.7M410.14 69.83h.7M413.29 70.16h.7M412.43 70.28h.7M466.93 63.52h.7M487.05 69.6h.7M496.39 69.88h.7M465.8 71.33h.7M433.67 76.63h.7M410.36 70.05h.7M438.87 82.93h.7M455.05 48.39h.7M436.91 72.87h.7M482.79 65.39h.7M480.14 69.02h.7M457.17 67.92h.7M449.46 98.44h.7M492.71 72.96h.7M476.22 73.74h.7M422.74 64.81h.7M484.78 72.03h.7M466.76 66.35h.7M434.04 81.94h.7M457.88 48.02h.7M440.64 65.46h.7M416.08 71.96h.7M491.26 72.39h.7M410.38 70.19h.7M420.04 71.43h.7M482.85 73.89h.7M481.26 65.19h.7M411.2 69.8h.7M485.81 73.89h.7M456.45 61.16h.7M487.13 66.59h.7M439.24 44.06h.7M498.46 70.1h.7M479.4 75.05h.7M462.29 94.61h.7M479.71 78.12h.7M496.7 68.89h.7M477.55 66.4h.7M439.21 65.41h.7M498.97 69.22h.7M449.14 54.21h.7M499.77 70.24h.7M473.17 70.61h.7M479.05 68.26h.7M447.21 79.19h.7M473.24 79.6h.7M437.83 80.83h.7M476.35 71.42h.7M446.73 72.41h.7M416.91 68.87h.7M438.02 56.71h.7M414.39 70.63h.7M475.82 72.19h.7M428.53 73.54h.7M484.33 71.47h.7M430.47 71.26h.7M445.53 61.79h.7M423.37 73.88h.7M466.91 85.48h.7M425.49 67.35h.7M455.84 50.99h.7M437.2 71.19h.7M453.36 89.65h.7M461.97 74.62h.7M462.66 80.13h.7M442.97 40.83h.7M498.24 70.93h.7M421.4 67.09h.7M430.01 72.76h.7M421.79 65.12h.7M454.47 43.28h.7M433.3 67.55h.7M428.47 56.71h.7M433.4 63.72h.7M439.18 67.76h.7M442.39 64.37h.7M411.72 70.64h.7M476.44 70.16h.7M410.26 70.03h.7M491.05 70.03h.7M428.48 75.4h.7M490.23 67.41h.7M455.1 72.38h.7M420.56 69.23h.7M465.64 75.12h.7M466.56 73.39h.7M444.02 50.71h.7M411.45 70.61h.7M487.83 74.54h.7M416.84 71.03h.7M425.46 68.47h.7M428.03 76.08h.7M483.72 74.41h.7M444.33 89.19h.7M433.41 71.69h.7M470.6 65.37h.7M444.36 52.98h.7M481.7 66.44h.7M422.24 68.5h.7M467.62 73.7h.7M457.22 85.26h.7M477.72 66.13h.7M458.12 58.73h.7M431.76 61.44h.7M416.93 69.85h.7M489.78 71.34h.7M417.89 69.2h.7M463.24 71.1h.7M412.4 69.66h.7M460.94 73.48h.7M417.23 71.12h.7M431.63 71.79h.7M457.67 65.36h.7M495.17 69.93h.7M448.09 71.56h.7M485.57 77.74h.7M479.26 70.77h.7M474.52 72.76h.7M496.34 72.24h.7M478.4 66.36h.7M461.16 68.71h.7M430.81 75.48h.7M429.9 73.68h.7M454.04 67.92h.7M473.6 74.77h.7M499.07 71.77h.7M481.99 67.64h.7M470.23 70.18h.7M494.64 70.08h.7M442.17 47.05h.7M452.31 71.36h.7M437.75 55.86h.7M453.56 50.96h.7M425.45 69.64h.7M441.33 70.25h.7M457.71 66.94h.7M422.02 64.88h.7M460.35 93.49h.7M435.32 66.39h.7M438.75 77.18h.7M454.39 82.44h.7M410.47 69.91h.7M428.55 68.18h.7M445.95 66.36h.7M496.91 70.11h.7M461.8 91.8h.7M467.77 72.56h.7M484.54 68.73h.7M413.24 71.11h.7M458.09 73.02h.7M416 70.86h.7M443.64 74.73h.7M435.53 82.78h.7M443.19 62.37h.7M490.45 68.42h.7M434.38 69.95h.7M498.28 69.32h.7M428.93 75.07h.7M416.76 70.03h.7M480.48 73.19h.7M481.38 65.16h.7M490.09 69.37h.7M483.28 69.99h.7M490.22 70.12h.7M433.2 60.63h.7M454.68 49.58h.7M424.76 74.7h.7M461.64 84.4h.7M423.58 70.08h.7M452.17 53.23h.7M433.71 81.75h.7M475.12 70.4h.7M464.85 82.65h.7M495.84 70.53h.7M414.53 71.03h.7M424.82 67.25h.7M422.33 70.33h.7M462.43 69.3h.7M452.3 55.38h.7M474.63 70.89h.7M437.81 80.21h.7M494.51 72.41h.7M498.64 69.2h.7M444.97 68.63h.7M433.1 75.43h.7M491.45 67.93h.7M455.55 95.2h.7M489.99 69.96h.7M419.42 70.07h.7M456.58 81.65h.7M426.74 67.18h.7M498.62 68.83h.7M464.99 58.7h.7M477.55 69.31h.7M493.29 68.97h.7M488.97 68.21h.7M414.29 69.38h.7M416.85 69.96h.7M497.48 69.93h.7M474.51 60.47h.7M456.43 71.58h.7M418.82 70.56h.7M450.15 64.1h.7M484.74 72.25h.7M420.83 67.35h.7M414.71 69.8h.7M467.29 87.96h.7M497.19 71.35h.7M421.2 72.23h.7M478.6 69.94h.7M499.61 70.4h.7M420.65 68.47h.7M421.67 70.96h.7M466.17 81.83h.7M410.92 69.61h.7M497.54 69.69h.7M433.78 79.49h.7M420.02 71.86h.7M490.71 70.62h.7M464.76 51.77h.7M464.6 73.46h.7M479.39 70.48h.7M420.25 68.66h.7M468.78 60.2h.7M419.62 69.01h.7M481.67 70.79h.7M442.12 90.54h.7M462.29 63.01h.7M460.89 84.26h.7M443.17 68.18h.7M461.97 94.95h.7M467.47 63.1h.7M462.38 65.62h.7M452.6 78.43h.7M411.82 70.26h.7M438.27 72.76h.7M483.86 69.96h.7M466.68 65.75h.7M433.04 70.43h.7M457.93 61.06h.7M478.86 70.25h.7M442 61.64h.7M485.31 75.28h.7M494.43 69.28h.7M416.41 70.57h.7M412.23 70.72h.7M471.12 67.55h.7M449.73 76.93h.7M424.42 68.9h.7M480.81 72.64h.7M462.68 57.7h.7M429.54 65.69h.7M412.83 70.42h.7M461.55 88.42h.7M459.9 88.8h.7M452.2 70.85h.7M435.32 69.38h.7M494.31 70.21h.7M410.19 70.14h.7M427.8 71.85h.7M455.83 69.53h.7M493.44 71.54h.7M417.86 67.94h.7M473.07 72.08h.7M468.72 70.26h.7M413.22 70.19h.7M485.19 71.23h.7M413.98 69.56h.7M491.42 70.5h.7M424.81 72.35h.7M493.23 72.29h.7M468.08 78.9h.7M417.88 70.14h.7M482.93 68.68h.7M422.95 73.7h.7M473.41 58.14h.7M415.72 70.37h.7M495.85 70.61h.7M488.85 66.83h.7M461.84 60.75h.7M439.87 57.35h.7M451.74 48.03h.7M469.09 73.71h.7M491.43 71.96h.7M416.8 71.43h.7M458.86 90.78h.7M454.28 52.08h.7M473.37 64.57h.7M498.56 70.32h.7M491.2 70.21h.7M439.38 74.74h.7M473.88 69.7h.7M434.8 68.31h.7M474.33 65.93h.7M424.21 70.1h.7M469.22 59.87h.7M434.43 85.37h.7M434.04 76.55h.7M437.51 54.82h.7M453.76 86.76h.7M479.95 62.9h.7M473.31 72.54h.7M453.41 76.36h.7M456.96 59.01h.7M472.59 63.26h.7M437.89 81.01h.7M461.14 70.59h.7M473.9 70.15h.7M444.56 71.84h.7M412.01 70.1h.7M413.55 71.41h.7M491.71 71.12h.7M424.24 74.12h.7M435.47 78.12h.7M468.6 72.73h.7M476.73 66.98h.7M485.08 70.65h.7M478.13 76.31h.7M432.91 68.29h.7M442.54 51.88h.7M488.8 71.7h.7M454.09 71.82h.7M489.18 66.39h.7M442.21 76.04h.7M458.12 70.18h.7M433.29 63.12h.7M470.32 67.53h.7M494.37 72.27h.7M497.32 69.72h.7M456.3 54.51h.7M442.33 51.76h.7M455.14 94.05h.7M478.62 68.59h.7M434.86 83.04h.7M414.74 70.98h.7M487.04 65.7h.7M495.6 70.72h.7M445 67.79h.7M464.77 70.97h.7M488.11 74.28h.7M439.39 45.91h.7M480.08 72.25h.7M468.95 60.08h.7M416.83 71.59h.7M442.75 69.41h.7M497.6 69.5h.7M467.16 58.39h.7M460.5 78.74h.7M424.17 72.8h.7M497.18 71.2h.7M481.15 78.11h.7M474.5 71.07h.7M484.19 73.88h.7M466.62 74.79h.7M426.06 68.24h.7M439.29 82.01h.7M480.33 67.77h.7M499.45 69.32h.7M415.55 69.88h.7M416.95 71.95h.7M442.28 66.67h.7M486.94 70.52h.7M466.74 69.09h.7M451.41 93.95h.7M434.96 70.78h.7M453.07 55.62h.7M423.17 70.3h.7M481.88 69.57h.7M415.32 71.45h.7M422.38 73.7h.7M414.07 70.48h.7M423.15 68.07h.7M447.94 79.82h.7M449.17 67.48h.7M446.21 70.9h.7M435.26 84.65h.7M427.14 64.09h.7M459.37 65.96h.7M474.92 60.88h.7M470.89 68.02h.7M493.45 69.4h.7M448.97 63.65h.7M458.01 63.33h.7M470.27 68.8h.7M473.73 67.03h.7M451.09 72.21h.7M474.67 73.02h.7M448.62 51.27h.7M420.1 68.14h.7M426.55 65.54h.7M469.58 67.44h.7M491.72 68.75h.7M432.12 62.44h.7M423 71.71h.7M462.06 63.36h.7M482.93 72.25h.7M448.58 73.94h.7M469.09 69.25h.7M418.25 69.76h.7M495.15 69.85h.7M467.5 59.86h.7M479.66 76.36h.7M443.58 66.01h.7M456.16 61.82h.7M428.89 62.78h.7M471.83 70.43h.7M496.06 72.23h.7M488.68 74.97h.7M485.44 64.07h.7M421.67 74.94h.7M488.64 71.13h.7M465.77 68.96h.7M448.23 55.37h.7M459.33 63.39h.7M420.97 72.89h.7M461.72 85.12h.7M436.46 72.01h.7M434.91 78.77h.7M428.81 72.37h.7M459.94 65.25h.7M417.2 70.21h.7M457.07 83.26h.7M428.28 64.66h.7M437.49 78.87h.7M430.89 72.49h.7M412.89 69.57h.7M473.75 70.21h.7M420.14 70.12h.7M494.65 69.88h.7M460.14 68.11h.7M455.48 49.35h.7M489.46 70.8h.7M441.24 63h.7M426.83 77.29h.7M485.69 69.23h.7M464.28 71.7h.7M428.02 59.91h.7M476.18 64.92h.7M460.85 49.92h.7M411.97 69.84h.7M468.82 72.9h.7M499.2 70.52h.7M456.99 46.42h.7M496.22 70.22h.7M487.21 65.18h.7M485.16 70.05h.7M429.51 68.67h.7M416.76 70.45h.7M429.72 73.49h.7M425.63 72.34h.7M465.58 76.38h.7M495.54 69.62h.7M471.47 68.64h.7M490.46 72.69h.7M478.73 71.67h.7M433.54 80.98h.7M497.19 71.82h.7M440.44 80.85h.7M471.1 78.79h.7M482.19 69.81h.7M445.57 81.2h.7M468.91 71.14h.7M488.63 65.44h.7M411.21 70.22h.7M418.76 71.86h.7M417.93 71.86h.7M430.25 62.02h.7M477.84 73.05h.7M446.94 73.41h.7M459.77 91.46h.7M455.68 71.6h.7M451.58 67.29h.7M472.1 62.62h.7M472.31 81.77h.7M478.5 70.85h.7M441.81 53.6h.7M418.31 70.39h.7M489.21 73.5h.7M426.5 73.38h.7M482.64 70.06h.7M487.25 67.48h.7M440.2 70.62h.7M475.4 69.58h.7M437.19 81.32h.7M445.27 67.59h.7M430.13 69.96h.7M473.56 68.2h.7M469.59 70.14h.7M411.07 70.8h.7M435.93 71.26h.7M496.3 69.39h.7M415.75 69.52h.7M423.77 73.85h.7M456.55 49.8h.7M434.45 70.47h.7M425.69 67.89h.7M491.41 69.97h.7M430.99 71.86h.7M420.15 70.34h.7M468.31 60.32h.7M459.37 64.6h.7M477.02 72.08h.7M491.85 70.83h.7M426.47 65.62h.7M473.34 77.05h.7M415.63 70.08h.7M435.46 69.45h.7M488.52 70.69h.7M476.98 74.92h.7M434.99 72.84h.7M443.76 69.44h.7M457.75 76.22h.7M425.16 74.27h.7M424.49 68.3h.7M486.43 77.23h.7M443.01 89.88h.7M413.37 71.12h.7M428.09 59.93h.7M478.58 65.37h.7M477.69 59.93h.7M421.15 69.37h.7M417.6 70.17h.7M441.15 77.72h.7M454.36 95.11h.7M485.92 67.05h.7M492.56 72.77h.7M460.85 71.08h.7M425.29 68.19h.7M429.81 64.1h.7M465.27 66.33h.7M479.09 71.26h.7M484.45 65.38h.7M486.24 70.32h.7M466.89 64.52h.7M472.64 68.85h.7M474.94 71.7h.7M422.61 68.62h.7M477.68 60.63h.7M466.86 71.37h.7M474.33 67.73h.7M452.93 69.52h.7M477.43 62.94h.7M455.92 62.07h.7M463.04 63.93h.7M428.56 65.56h.7M490.53 69.45h.7M489.21 72.09h.7M434.2 71.34h.7M410.79 70.71h.7M466.78 60.46h.7M456.7 70.11h.7M470.36 66.52h.7M491.88 70.92h.7M416.54 71.18h.7M489.61 68.94h.7M474.03 78.34h.7M489.37 66.46h.7M485.32 67.89h.7M482.17 72.52h.7M451.91 89.03h.7M482.3 79.88h.7M496.28 70.45h.7M476.14 73.17h.7M446.02 70.21h.7M455.7 60.15h.7M433.5 78.54h.7M486.15 72.15h.7M471.97 70.44h.7M461.58 75.7h.7M410.66 70.21h.7M497.27 69.5h.7M452.07 50.95h.7M432.95 77.6h.7M412.95 70.67h.7M481.82 75.67h.7M433.14 81.78h.7M443.46 68.68h.7M495.57 70.39h.7M471.28 62.31h.7M410.43 70.06h.7M419.51 71.95h.7M432.47 82.63h.7M471.05 64.49h.7M473.97 67.51h.7M457.43 53.1h.7M484.95 73.45h.7M462.28 76.45h.7M440.59 55.89h.7M439.26 77.24h.7M460.68 58.16h.7M431.67 69.77h.7M411.3 69.68h.7M450.49 54.72h.7M490 67.42h.7M477.44 75.46h.7M438.39 71.29h.7M499.29 70.44h.7M444.84 93.57h.7M433.37 83.28h.7M437.9 68.06h.7M438.41 74.25h.7M489.42 71.65h.7M426.38 79.38h.7M475.05 70.35h.7M486.47 66.23h.7M463.83 79.71h.7M479.89 72.66h.7M415.63 70.21h.7M434.19 72.49h.7M445.72 68.81h.7M458.41 73.23h.7M490.13 68.84h.7M434.74 61.1h.7M420.13 72.33h.7M492.76 68.19h.7M442.42 85.99h.7M487.76 76.31h.7M499.33 69.93h.7M415.99 69.63h.7M455.22 45.64h.7M432.83 69.68h.7M471.35 63.62h.7M421.09 69.19h.7M418.18 68.59h.7M419.28 71.73h.7M489.13 65.87h.7M482.4 74.97h.7M468.58 66.44h.7M483.8 65.09h.7M414.19 71.26h.7M429.92 78.75h.7M477.87 62.19h.7M418.5 70.81h.7M423.14 71.59h.7M470.52 65.3h.7M452.89 59.32h.7M488.42 71.27h.7M472.2 72.67h.7M415.48 71.26h.7M480.14 70.44h.7M463.15 70.08h.7M477.99 70.72h.7M434.99 70.59h.7M429.23 56.16h.7M456.87 86.39h.7M474.75 65.61h.7M455.75 73.16h.7M462.14 69.29h.7M455.85 77.27h.7M489.3 70.36h.7M480.57 72.66h.7M420.76 68.76h.7M438.22 65.96h.7M454.2 63.16h.7M499.81 70.61h.7M443.41 76.73h.7M493.21 68.56h.7M466.63 87.61h.7M443.78 84.92h.7M482.33 68.38h.7M422.99 72.97h.7M447.4 65.01h.7M451.74 79.09h.7M490.48 73.77h.7M478.97 65.73h.7M443.23 43.22h.7M428.06 67.8h.7M425.95 69.98h.7M421.86 71.28h.7M446.99 60.72h.7M471.73 67.46h.7M412.15 70.68h.7M477.87 77.43h.7M436.45 63.37h.7M472.67 63.75h.7M496.99 70.65h.7M459.36 52.26h.7M435.5 68.32h.7M498.26 69.42h.7M463.26 56.7h.7M497.41 70.89h.7M483.12 73.22h.7M426.17 66.75h.7M413.54 70.32h.7M417.3 69.21h.7M425.67 76.17h.7M481.06 67.8h.7M497.38 69.35h.7M422.65 69.32h.7M482.5 65.1h.7M481 70.78h.7M481.86 68.52h.7M413.79 69.51h.7M475.09 70.37h.7M478.74 66.11h.7M435.14 61.95h.7M486.57 72.17h.7M423.94 72.34h.7M413.49 70.21h.7M433.14 76h.7M474.68 73.66h.7M427.76 60.66h.7M467.6 75.35h.7M410.84 70.57h.7M490.76 69.45h.7M456.71 75.67h.7M493.32 70.93h.7M456.41 80.84h.7M454.09 47.52h.7M459.26 67.85h.7M440.16 67.03h.7M429.91 66.76h.7M477.24 77.89h.7M451.08 85.07h.7M421.29 70.34h.7M477 75.27h.7M444.85 56.99h.7M496.47 70.55h.7M468.78 67.44h.7M420.18 70.59h.7M446.42 86.66h.7M469.69 76.61h.7M461.27 79.15h.7M422.05 76.06h.7M462.27 73.24h.7M427.07 63.03h.7M473.48 74.83h.7M470 65.72h.7M453.82 81.01h.7M467.65 83.63h.7M418.03 71.3h.7M411.19 70.36h.7M458.08 53.28h.7M447.7 76.12h.7M488.06 66.17h.7M455.87 82.26h.7M420.52 72.92h.7M494.49 69.69h.7M428.8 63.33h.7M429.76 68.86h.7M473.64 81.51h.7M460.27 91.64h.7M448.42 75.79h.7M410.01 70.19h.7M412.05 69.78h.7M482.79 65.5h.7M436.97 70.85h.7M457.28 49h.7M419.94 71.12h.7M446.43 52.03h.7M453.07 65.98h.7M499.96 69.38h.7M426.22 63.18h.7M459.61 92.8h.7M479.99 64.65h.7M458.56 66.06h.7M497.96 70.72h.7M464.37 64.25h.7M449.3 71.13h.7M444.08 72.19h.7M418.11 69.98h.7M498.82 70.08h.7M455.54 80.23h.7M483.11 73.04h.7M444.31 77.34h.7M427.97 71.79h.7M411.44 69.93h.7M425.76 68.49h.7M476.43 60.46h.7M488.87 66.64h.7M495.54 72.29h.7M465.31 81.46h.7M494.68 70.08h.7M487.03 64.92h.7M480.28 72.23h.7M479.89 65.41h.7M417.5 70.32h.7M464.58 75.81h.7M426.12 70.98h.7M497.19 69.64h.7M483.78 77.33h.7M470.55 69.3h.7M447.65 69.19h.7M421.23 66.69h.7M435.17 60.48h.7M490.95 69.48h.7M488.79 70.71h.7M490.82 73.38h.7M474.01 69.54h.7M431.94 71.37h.7M438.05 80.11h.7M413.85 70.45h.7M440.51 67.83h.7M458.81 96.21h.7M499.41 70.03h.7M496.16 72.14h.7M457.35 72.4h.7M427.78 74.49h.7M453.69 80.72h.7M492.97 70.83h.7M472.55 71.17h.7M421.79 69.98h.7M415.62 69.46h.7M498.25 70.02h.7M422.16 69.79h.7M415.4 70.47h.7M430.55 64.29h.7M467.32 84.75h.7M411.22 70.45h.7M462.38 69.94h.7M447.92 42.8h.7M441.66 70.9h.7M440.19 93.44h.7M440.61 82.01h.7M482.95 73.94h.7M454.27 70.23h.7M485.92 66.27h.7M430.23 55.95h.7M454.22 68.79h.7M496.02 71.97h.7M446.53 70.12h.7M419.45 71.48h.7M456.72 58.19h.7M488.92 65.8h.7M427.33 69.95h.7M499.73 69.62h.7M433.99 77.1h.7M440.26 86.52h.7M411.7 69.97h.7M437.88 80.85h.7M419.2 71.01h.7M489.81 75.18h.7M482.54 63.94h.7M453.48 59.75h.7M420.97 68.57h.7M476.16 71.46h.7M421.74 68.7h.7M415.94 71.54h.7M477.87 69.92h.7M496.52 72.27h.7M428.6 66.02h.7M427.22 71.83h.7M463.55 70.76h.7M479.66 70.63h.7M438.32 74.73h.7M495.42 68.34h.7M453.75 55.73h.7M477.24 69.4h.7M485.5 71.92h.7M496.33 70.47h.7M463.61 91.61h.7M482.28 68.58h.7M419.31 72.69h.7M415.73 71.48h.7M494 70.93h.7M495.4 70.6h.7M477.13 71.74h.7M430.02 60.15h.7M476.87 69.65h.7M421.22 70.59h.7M433.85 64.11h.7M488.85 71.13h.7M477.34 76.01h.7M449.3 68.63h.7M448.89 65.23h.7M480.07 76.71h.7M436.82 75.64h.7M429.38 56.39h.7M471.67 76.57h.7M439.68 93.2h.7M474.71 67.64h.7M478.42 76.31h.7M422.62 74.24h.7M449.09 61.83h.7M443.99 71.1h.7M457.45 63.71h.7M415.41 70.52h.7M474.58 73.92h.7M445.69 84.45h.7M411.56 69.82h.7M411.65 70.3h.7M457.08 61.02h.7M457.3 44.43h.7M413.26 71.14h.7M489.71 66.55h.7M469.02 70.43h.7M458.46 84.24h.7M467.71 85.49h.7M471.35 81.67h.7M420.48 72.24h.7M438.76 85.03h.7M481.23 78.82h.7M477.98 68.91h.7M457.14 81.4h.7M415.22 70.32h.7M461.13 77.74h.7M440.79 73.25h.7M476.24 68.68h.7M471.35 81.14h.7M443.24 71.01h.7M453.55 84.83h.7M434.3 64.69h.7M445.33 75.27h.7M423.9 76.62h.7M455.27 79.19h.7M447.11 45.66h.7M444.7 72.46h.7M418.13 72.86h.7M462.84 69.3h.7M412.59 69.93h.7M440.35 74.52h.7M425.67 70.09h.7M434.36 71.57h.7M471.93 70.59h.7M477.52 72.15h.7M417.53 70.74h.7M453.54 80.57h.7M494.34 69.71h.7M486.5 67.85h.7M468.51 55.06h.7M484.24 69.78h.7M450.92 70.17h.7M443.52 60.34h.7M472.3 72.78h.7M414.9 69.8h.7M493.85 69.36h.7M436.41 72.04h.7M443.54 89.77h.7M498.44 69.4h.7M430.24 63.17h.7M450.03 62.29h.7M470.69 80.74h.7M416.43 68.49h.7M420.09 69.27h.7M422.05 69.78h.7M442.72 77.63h.7M497.03 72.11h.7M447.85 75.18h.7M421.9 70.98h.7M489.52 73.66h.7M422.61 67.17h.7M491.17 71.48h.7M478.62 63.11h.7M465.67 54.73h.7M476.31 75.77h.7M438.98 44.65h.7M475.96 85h.7M465.85 67.43h.7M439.61 80.08h.7M497.18 69.94h.7M429.89 83.45h.7M448.48 68.33h.7M437.97 76.37h.7M498.43 70.2h.7M486.95 69.49h.7M447.99 82.07h.7M497.38 70.92h.7M473.43 77.52h.7M492.72 73.41h.7M457.84 66.93h.7M410.63 70.27h.7M441.98 41.12h.7M499.38 69.94h.7M493.88 67.32h.7M442.38 79.82h.7M470.58 74.12h.7M453.94 52.69h.7M484.82 73.12h.7M453 72.41h.7M482.35 70.2h.7M452.8 69.76h.7M476.25 74.46h.7M440.13 78.85h.7M443.8 75.83h.7M443.97 86.34h.7M494.62 71.42h.7M444.31 65.2h.7M449.01 73.85h.7M413.04 70.3h.7M493.56 67.86h.7M490.21 70.71h.7M499.79 70.59h.7M474.69 75.2h.7M447.9 53.66h.7M486.93 74.37h.7M474.92 65.81h.7M454.95 70.74h.7M442.76 69.93h.7M451.18 97.07h.7M466.42 89.47h.7M491.75 68.34h.7M479.41 68.87h.7M463.76 72.04h.7M476.58 67.51h.7M471.01 68.12h.7M480.42 70.18h.7M467.9 91.35h.7M435.22 48.74h.7M490.61 70.4h.7M468.15 79.76h.7M490.14 69.56h.7M498.85 70.06h.7M475.4 77.01h.7M442.65 67.72h.7M442.99 64.98h.7M447.08 84.28h.7M415.46 71.89h.7M481.15 70.96h.7M467.8 66.26h.7M478.82 76.94h.7M444.37 70.23h.7M429.7 65.49h.7M486.69 71.53h.7M450.24 75.26h.7M426.67 59.21h.7M442.15 72.42h.7M426.62 70.71h.7M439.26 62.56h.7M476.61 68.41h.7M476.81 74.63h.7M443.8 47.09h.7M485.85 70.71h.7M462.2 76.28h.7M459.38 88.2h.7M410.79 70.8h.7M465.47 68.31h.7M491.66 73.08h.7M463.68 51.37h.7M466.11 68.48h.7M461.65 82.64h.7M421.86 72.99h.7M437.95 62.44h.7M413.36 69.58h.7M434.1 70.82h.7M494.59 68.92h.7M436.01 66.88h.7M467.6 67.42h.7M470.29 63.18h.7M413.94 70.36h.7M475.14 64.01h.7M414.33 70.53h.7M415.9 71.53h.7M472.16 64h.7M446.86 48.91h.7M417.9 69.75h.7M488.98 74.21h.7M477.79 72.36h.7M462.58 70.56h.7M469.03 70.19h.7M445.79 83.32h.7M437.09 67.68h.7M471.13 84.63h.7M441.01 68.22h.7M446.18 59.03h.7M441.93 79.94h.7M426.9 69.97h.7M435.56 71.97h.7M479.59 64.63h.7M453.78 58.33h.7M468.18 74.73h.7M429.91 64.93h.7M437.28 65.3h.7M490.34 73.26h.7M481.23 69.13h.7M451.15 58.53h.7M451.42 93.26h.7M418.22 69.88h.7M427.58 75.52h.7M437.13 69.92h.7M414.68 70.6h.7M456.26 82.48h.7M474.93 74.94h.7M433.65 63.84h.7M463.8 55.3h.7M494.32 71.17h.7M454.41 65.7h.7M416.97 70.39h.7M479.58 64.67h.7M418.92 71.03h.7M452.29 82.21h.7M447.03 95.63h.7M488.54 68.96h.7M458.29 73.18h.7M450.54 83.39h.7M473.47 77.25h.7M432.76 70.34h.7M458.92 73.04h.7M411.45 70.58h.7M450.32 56.2h.7M486.94 70.72h.7M476.63 74.47h.7M466.04 84.86h.7M415.03 69.93h.7M424.74 71.56h.7M429.75 57.77h.7M422.27 67.42h.7M458.62 69.01h.7M451.81 43.33h.7M457.54 62.18h.7M418.23 68.05h.7M423.58 69.38h.7M425.01 69.88h.7M424.73 72.67h.7M488.83 69.01h.7M416.46 71.94h.7M417.57 70.72h.7M478.09 70.05h.7M490.2 67.67h.7M474.84 79.65h.7M490.74 72.86h.7M449.28 70.64h.7M486.38 69.28h.7M432.97 54.51h.7M428.37 63.47h.7M493.64 69.46h.7M441.72 91.5h.7M472.19 69.26h.7M419.49 69.65h.7M436.18 85.03h.7M447.87 94.63h.7M434.31 54.45h.7M490.94 67.06h.7M480.93 71.44h.7M435.55 79.18h.7M448.62 96.66h.7M460.22 90.76h.7M493.75 69.77h.7M472.23 75.13h.7M468.96 57.27h.7M471.93 76.08h.7M427.43 62.86h.7M416.07 70.35h.7M419.56 72.14h.7M447.38 98.75h.7M476.06 69.32h.7M426.43 69.35h.7M464.64 82.79h.7M490.27 69.16h.7M412.11 70.43h.7M471.87 73.28h.7M482.29 74.42h.7M466.29 80.19h.7M421.26 74.04h.7M469.98 61.29h.7M425.16 71.68h.7M437.55 85.26h.7M435.11 69.91h.7M455.32 92.22h.7M437.35 82.59h.7M475.1 71.42h.7M495.15 71.91h.7M477.45 70.93h.7M413.95 69.79h.7M468.57 61.51h.7M467.89 67.32h.7M444.87 82.35h.7M485.67 72.81h.7M450.2 71.46h.7M498.7 71.32h.7M464.69 57.71h.7M491.15 66.71h.7M420.55 71.12h.7M427.67 73.82h.7M471.79 64.03h.7M491.75 75.1h.7M469.12 87.89h.7M482.11 69.99h.7M484.2 76.49h.7M472.65 61.87h.7M443.52 76.9h.7M442.93 57.37h.7M451.06 55.21h.7M452.7 52.8h.7M475.4 65.81h.7M494.22 68.43h.7M466.81 74.01h.7M427.9 71.92h.7M459.43 74.14h.7M426.66 69.97h.7M485.24 71.39h.7M431.94 66.69h.7M489.13 66.08h.7M453.03 70.7h.7M448.71 40.18h.7M419.57 72.1h.7M450.96 62.67h.7M450.64 48.5h.7M417.31 71.37h.7M478.37 66.01h.7M438.58 53.61h.7M438.61 70.77h.7M477.74 70.33h.7M486.3 78.25h.7M461.07 52.81h.7M422.1 71.47h.7M421.73 73.59h.7M414.88 69.11h.7M499.62 70.12h.7M459.96 73.4h.7M420.66 69.31h.7M443.19 78.14h.7M480.4 72.92h.7M426.27 69.79h.7M492.42 68.47h.7M441.4 73.61h.7M499.57 69.18h.7M472.2 69.68h.7M457.6 84.4h.7M418.63 70.62h.7M438.53 77.55h.7M474.3 69.07h.7M423.68 72.71h.7M473.07 71.43h.7M477.12 80.29h.7M432 73.83h.7M482.61 67.76h.7M491.28 69.21h.7M496.04 70.49h.7M497.55 71.38h.7M480.37 68.8h.7M451.24 73.3h.7M482.46 69.44h.7M490.9 68.47h.7M456.87 57.08h.7M425.37 67.77h.7M414.28 70.36h.7M465.82 68.09h.7M481.79 70.77h.7M471.5 61.55h.7M439.67 47.8h.7M424.39 74.11h.7M422.2 70.91h.7M443.98 75.82h.7M488.44 73.26h.7M496.84 72.05h.7M445.87 96.07h.7M478.64 67.38h.7M439.55 70.85h.7M486.09 66.01h.7M490.2 71.4h.7M463.37 68.07h.7M444.34 67.15h.7M474.41 69.47h.7M474.24 78.79h.7M417.82 67.79h.7M494.71 69.06h.7M483.27 69.36h.7M430.23 55.88h.7M448.57 73.65h.7M414.9 68.8h.7M435.86 81.22h.7M477.5 66.9h.7M446.31 67.46h.7M473.77 66.91h.7M441.96 70.35h.7M431.34 68.88h.7M477.3 70.32h.7M415.03 69.96h.7M461.32 62.44h.7M444.89 72.09h.7M442.8 58.24h.7M488.75 66.18h.7M491.56 67.52h.7M459.86 71.69h.7M446.85 74.46h.7M489.5 69.04h.7M415.41 69.55h.7M489.05 70.96h.7M477.87 68.88h.7M439.15 75.56h.7M461.12 87.82h.7M424.46 68.65h.7M472.21 80.81h.7M452 82h.7M419.86 70.92h.7M439.63 75.77h.7M436.76 60.33h.7M434.22 75.28h.7M474.11 80.21h.7M447.24 49.75h.7M482.78 67.66h.7M474.61 70.1h.7M449.97 45.96h.7M430.42 74.6h.7M451.38 87.45h.7M482.62 70.61h.7M498.47 68.64h.7M446.08 71.3h.7M414.85 71.08h.7M423.48 70.89h.7M434.4 67.36h.7M451.89 62.62h.7M425.41 72.02h.7M466.36 58.87h.7M497.58 69.17h.7M430.08 66.05h.7M442.8 69.95h.7M491.28 67.5h.7M461.68 74.2h.7M433.18 66.9h.7M450.04 87.53h.7M479.92 70.03h.7M416.21 69.91h.7M483.51 69.65h.7M445.17 74.77h.7M413.64 70.46h.7M471.7 62.53h.7M447.55 84.89h.7M433.61 70.83h.7M441.12 71.71h.7M445.18 64.86h.7M493.22 71.17h.7M499.88 70.02h.7M451.99 65.63h.7M488.02 69.29h.7M471.2 64.16h.7M458.81 63.07h.7M492.23 69.61h.7M495.75 70.45h.7M440.7 71.64h.7M493.78 71.11h.7M484.18 70.91h.7M465.66 60.95h.7M484.86 71.66h.7M468.35 66.48h.7M478.67 70.62h.7M438.84 91.72h.7M479.51 72.81h.7M485.59 72.21h.7M444.62 91.08h.7M491.52 71.25h.7M449.13 70.27h.7M414.11 71h.7M484.77 71.18h.7M451.94 82.84h.7M411.92 70.15h.7M432.56 72.26h.7M441.87 73.38h.7M490.77 69.75h.7M420.35 66.17h.7M485.18 69.99h.7M449.73 45.82h.7M419.28 66.37h.7M490.62 66.52h.7M438.96 69.5h.7M461.6 62.2h.7M468.12 73.68h.7M498.63 69.3h.7M436.63 56.38h.7M436.07 61.66h.7M412.73 70.67h.7M434.78 76.03h.7M483.24 73.91h.7M412.25 70.34h.7M486.61 71.44h.7M464.36 68.61h.7M484.04 70.58h.7M441.67 70.13h.7M452.43 57.98h.7M470.54 78.85h.7M468.83 55.99h.7M446.45 80.03h.7M421.8 70.28h.7M471.5 70.92h.7M439.74 47.14h.7M473.36 64.4h.7M464.12 70.92h.7M475.06 63.42h.7M497.64 70.87h.7M488.54 67.71h.7M474.82 68.55h.7M473.01 74.26h.7M446.79 91.29h.7M449.44 69.16h.7M474.36 64.26h.7M490.62 69.25h.7M489.87 67.57h.7M421.15 70.78h.7M431.66 69.07h.7M428.02 73.43h.7M476.36 73.44h.7M422.09 65.6h.7M462.45 56.38h.7M474.45 71.06h.7M493.91 71.79h.7M468.97 79.28h.7M455.68 63.25h.7M415.52 70.7h.7M469.92 73.23h.7M456.07 68.91h.7M492.73 69.7h.7M422.59 74.96h.7M478.53 77.68h.7M498.7 70.14h.7M423.99 70.19h.7M454.11 66.59h.7M480.76 67.26h.7M497.33 69.52h.7M435.55 79.03h.7M431.06 74.3h.7M434.65 68.04h.7M452.27 60.81h.7M484.09 76.59h.7M493.23 68.56h.7M412.32 70.19h.7M476.62 70.98h.7M496.46 72.42h.7M471.45 66.13h.7M446.15 49.88h.7M445.45 79.17h.7M438.46 59.58h.7M458.49 87.72h.7M468.11 61.04h.7M448.85 59.76h.7M483.08 69.48h.7M449.92 86.86h.7M436.72 68.91h.7M498.23 69.86h.7M458.57 75.43h.7M440.14 73.85h.7M447.93 83.58h.7M460.11 78.32h.7M461.58 76.84h.7M445.1 55.81h.7M442.72 64.39h.7M411.29 70.51h.7M457.23 69.68h.7M473.4 61.48h.7M421.31 71.66h.7M413.67 70.89h.7M455.73 95.07h.7M487.32 69.57h.7M440.93 68.25h.7M479.24 69.82h.7M474.81 84.61h.7M477.4 70.45h.7M476.8 70.18h.7M462.28 68.3h.7M494.18 73.39h.7M461.12 72.07h.7M419.28 70.52h.7M493.64 69.13h.7M479.72 67.17h.7M474.24 66.92h.7M463.6 79.35h.7M412.91 70.75h.7M457.12 61.71h.7M437.65 71.56h.7M476.7 65.34h.7M416.32 69.53h.7M467.1 68.38h.7M478.66 73.79h.7M443.1 72.93h.7M423.12 71.1h.7M468.25 64.87h.7M469.98 62.75h.7M497.47 70.36h.7M492.99 71.06h.7M429.31 73.95h.7M465.31 67.63h.7M472.36 75.93h.7M471.18 65.14h.7M496.89 71.64h.7M449.07 90.33h.7M499.41 70.01h.7M427.21 66.4h.7M454.07 56.11h.7M431.35 74.56h.7M411.68 70.36h.7M446.71 77.66h.7M433.29 69.78h.7M429.16 57.47h.7M487.79 69.26h.7M436.57 84.4h.7M443.31 71.45h.7M422.65 69.57h.7M488.78 73.11h.7M483.62 76.07h.7M430.77 58.21h.7M421.71 71.24h.7M459.11 66.49h.7M474.09 65.72h.7M464.72 68.45h.7M422.55 72.5h.7M426.59 74.23h.7M478.51 69.51h.7M450.81 58.7h.7M422.55 71.75h.7M443.37 72.11h.7M443.12 61.99h.7M424.67 72.99h.7M448.96 55.71h.7M488.59 67.38h.7M430.63 62.52h.7M460.36 80.49h.7M412.79 70.94h.7M473.22 77.7h.7M447.97 68.14h.7M418.45 69.3h.7M488.38 68.64h.7M491.08 72.61h.7M492.86 68.33h.7M448.05 83.75h.7M438.02 62.17h.7M411.85 70.28h.7M459.51 61.05h.7M433.31 72.9h.7M425.55 73.62h.7M488.5 69.71h.7M421.72 70.69h.7M436.58 56.53h.7M473.84 71.31h.7M434.43 63.43h.7M475.15 79.89h.7M441.65 72.7h.7M429.86 69.66h.7M462.24 65.11h.7M464.44 71.4h.7M413.91 69.55h.7M447.28 55.59h.7M459.16 73.36h.7M466.26 83.13h.7M464.74 78.8h.7M420.39 72.66h.7M493.67 70.63h.7M484.49 70.74h.7M449.11 56.16h.7M453.25 78.45h.7M481.49 76.39h.7M456.63 92.29h.7M443.48 45.43h.7M448.36 71.59h.7M479.56 66.82h.7M412.27 70.51h.7M427.21 75.48h.7M460.94 58.35h.7M456.88 80.94h.7M430.14 80.56h.7M415.09 69.44h.7M463.5 75.68h.7M464.2 86.66h.7M428.12 60.44h.7M458.36 65.83h.7M445.66 66.74h.7M489.41 68.77h.7M472.29 71.55h.7M435.58 82.5h.7M433 65.52h.7M427.34 72.88h.7M472.39 68.17h.7M420.59 70.76h.7M440.36 71.61h.7M469 54.61h.7M414.11 70.81h.7M488.11 66.35h.7M430.07 68.96h.7M484.95 68.51h.7M496.08 68.83h.7M491.48 67.01h.7M464.16 90.84h.7M474.96 79.86h.7M441.62 89.42h.7M491.33 68.96h.7M479.44 77.93h.7M429.23 68.45h.7M479.34 71.25h.7M492.6 69.96h.7M450.32 56.67h.7M434.7 80.31h.7M433.52 80.48h.7M482.26 71.04h.7M437.16 45.69h.7M420.61 72.34h.7M496.28 72.17h.7M435.22 83.59h.7M449.63 65.64h.7M491.79 72.3h.7M471.07 66.57h.7M419.64 68.57h.7M433.7 61.86h.7M461.38 65.21h.7M429.4 77.24h.7M443.17 42.08h.7M410.85 70.29h.7M412.67 70.31h.7M412.3 70.22h.7M465.7 71.28h.7M429.46 76.27h.7M497.52 71.1h.7M493.88 73.22h.7M443.1 71.52h.7M447.24 81.13h.7M425.13 66.93h.7M450.6 71.76h.7M499.18 69.98h.7M410.35 70.17h.7M488.91 66.71h.7M456.68 73.72h.7M485.52 68.74h.7M464.66 88.56h.7M497.51 70.4h.7M440.46 74.55h.7M475.73 73.42h.7M470.76 68.37h.7M474.45 68.11h.7M430.93 60.28h.7M459.8 59.4h.7M435.39 64.76h.7M443.47 67.56h.7M497.73 70.31h.7M459.42 67.47h.7M459.29 82.6h.7M457.04 70.66h.7M441.6 58.62h.7M429.17 61.27h.7M435.6 52.9h.7M447.41 72.64h.7M420.32 71.69h.7M450.66 74.65h.7M448.72 81.85h.7M471.17 62.6h.7M459.39 63.04h.7M477.2 68.59h.7M430.16 57.7h.7M498.74 69.41h.7M432.63 81.34h.7M414.58 70.1h.7M448.96 76.76h.7M480.42 79.68h.7M438.68 54.09h.7M429.39 55.97h.7M434.22 72.77h.7M490.48 67.22h.7M434.13 80.58h.7M462.84 67.83h.7M416.48 68.72h.7M429.56 71.99h.7M415.22 70.25h.7M483.6 62.11h.7M435.87 68.02h.7M464.89 77.41h.7M471.07 69.22h.7M440.42 73.81h.7M451.37 91.13h.7M457.62 73.16h.7M469.93 69.97h.7M454.3 76.32h.7M463.97 96h.7M437.47 70.1h.7M497.71 71.07h.7M459.87 64.54h.7M426.07 69.25h.7M448.38 67.98h.7M433.04 69.84h.7M461.63 57.02h.7M469.3 75.39h.7M427.58 66.33h.7M413.44 70.21h.7M470.76 68.83h.7M463 73.4h.7M413.99 69.33h.7M455.64 90.72h.7M473.55 69.48h.7M433.37 59.75h.7M468.16 77.39h.7M445.35 51.64h.7M434.94 75.04h.7M479.38 69.1h.7M489.85 69.57h.7M412.12 69.9h.7M490.11 71.69h.7M417.8 69.51h.7M445.53 69.65h.7M412.28 70.86h.7M457.8 62.65h.7M412.84 70.33h.7M493.96 71.21h.7M487.29 74.2h.7M469.86 59.71h.7M437.99 72.28h.7M447.45 59.28h.7M416.09 71.29h.7M470.04 66.66h.7M452.3 86.96h.7M422.97 71.25h.7M430.98 79.04h.7M482.04 77.69h.7M444.46 70.47h.7M438.93 65.78h.7M495.81 72.4h.7M499.48 71.08h.7M454.05 76.19h.7M491.71 69.91h.7M492.69 71.91h.7M435.56 66.57h.7M472.15 64.09h.7M433.04 62.28h.7M419.61 72.67h.7M499.78 70.78h.7M455.35 79.9h.7M471.83 69.37h.7M456.84 56.12h.7M431.78 66.96h.7M442.13 75.09h.7M431.74 64.28h.7M488.71 72.65h.7M493.9 71.55h.7M427.56 70.09h.7M485.05 73.71h.7M430.54 69.94h.7M463.02 50.98h.7M431.92 74.97h.7M470 69.39h.7M461.39 71.09h.7M441.12 52.96h.7M476.78 75.14h.7M449.14 80.7h.7M484.48 72.28h.7M482.73 77.99h.7M413.59 71.1h.7M450.7 81.32h.7M476.33 63.39h.7M462.78 57.02h.7M475.86 68.03h.7M443.88 62.15h.7M482.87 71.83h.7M436.87 76.56h.7M426.68 74.3h.7M464.4 78.7h.7M465.46 91.49h.7M472.56 69.73h.7M463.15 72.2h.7M435.69 64.96h.7M481.9 74.64h.7M496.87 70.75h.7M455.43 66.95h.7M473.47 73.11h.7M494.89 71.22h.7M444.54 62.29h.7M414.05 70.72h.7M448.5 66.62h.7M414.76 70.24h.7M490.85 68.91h.7M476.9 74.81h.7M469.42 72.42h.7M432.45 73.62h.7M462.61 91.57h.7M456.37 65.68h.7M491.55 70.95h.7M440.72 74.59h.7M423.72 66.99h.7M489.57 70.03h.7M482.17 66.99h.7M452.37 60.4h.7M482.2 71.36h.7M445.41 66.35h.7M429.01 64.87h.7M472.14 67.22h.7M419.4 69.75h.7M450.76 98.36h.7M444.68 67.04h.7M497.48 70.81h.7M451.29 66.8h.7M430.28 62.59h.7M452.51 75.38h.7M419.53 70.15h.7M425.59 71.3h.7M441.01 75.16h.7M480.45 69.21h.7M444.44 51.37h.7M429.06 72.01h.7M482.62 65.89h.7M497.85 71.45h.7M442.91 71.38h.7M470.53 67.33h.7M442.97 77.47h.7M453.61 68.24h.7M460.65 57.22h.7M452.35 62.89h.7M425.05 70.48h.7M473.21 70.72h.7M454.91 76.57h.7M447.95 96h.7M429.27 56.58h.7M461.17 76.85h.7M444.42 66.91h.7M440.86 61.39h.7M481.25 75.77h.7M435.12 71.63h.7M451.37 54.66h.7M476.02 70.75h.7M499.16 71.15h.7M491.3 68.87h.7M419.87 71.94h.7M419.74 71.16h.7M425.8 72.57h.7M414.84 69.27h.7M488.11 70.37h.7M450.55 95.57h.7M480.59 66.87h.7M473.54 68.58h.7M451.75 63.58h.7M430.44 66.4h.7M434.55 61.35h.7M488.64 69.42h.7M460.45 82.07h.7M471.04 63.58h.7M495.76 72.07h.7M485.54 68.77h.7M484.73 71.68h.7M412.81 70.1h.7M472.82 71.07h.7M495.3 71.35h.7M485.27 77.5h.7M440.87 85.51h.7M410.22 70.5h.7M417.91 70.25h.7M449.7 50.16h.7M467.28 78.49h.7M430.12 65.19h.7M479.37 70.63h.7M411.66 70.06h.7M494.94 69.47h.7M436.03 69.01h.7M489.78 72.69h.7M444.65 75.68h.7M412.49 69.57h.7M443.48 74.41h.7M422.65 65.08h.7M486.8 67.39h.7M414.92 69.24h.7M417.11 69.62h.7M462.1 75.26h.7M435.73 70.58h.7M439.92 72.4h.7M419.82 70.83h.7M410.02 70.65h.7M428.84 70.99h.7M426.97 69.54h.7M433.81 73.17h.7M480.14 75.73h.7M497.67 70.16h.7M459.45 65.98h.7M435.94 70.43h.7M497.58 68.91h.7M477.26 67.91h.7M463.79 64.34h.7M474.7 70.2h.7M437.91 68.82h.7M410.42 69.86h.7M491.7 67.42h.7M445.78 75.95h.7M413.26 71.02h.7M428.6 79.68h.7M449.03 73.18h.7M464.34 58h.7M455.56 80.03h.7M481.06 73.43h.7M471.24 62.83h.7M446.83 70.54h.7M413.66 70.66h.7M419.19 70.51h.7M434.03 60.58h.7M495.73 70.62h.7M475.94 72.02h.7M460.79 85.3h.7M415.7 69.99h.7M429.7 71.69h.7M445.49 88.49h.7M430.98 65.43h.7M492.56 71.43h.7M448.63 65.85h.7M476.06 64.58h.7M474.97 66h.7M482.56 64.56h.7M492.28 72.54h.7M412.2 69.82h.7M492.3 72.17h.7M436.27 78.32h.7M462.2 63.26h.7M471.9 68.95h.7M422.78 73.44h.7M474.57 66.26h.7M448.43 76.79h.7M443.41 61.57h.7M457.38 92.62h.7M418.55 69.22h.7M453.48 98.1h.7M499.34 68.98h.7M467.77 61.86h.7M428.63 63.16h.7M454.98 100.17h.7M496.92 69.93h.7M490.84 71.46h.7M416.69 71.57h.7M434.61 86.15h.7M421.9 73.69h.7M456.15 70.76h.7M426.46 70.11h.7M478.36 71.05h.7M498.22 70.32h.7M491.38 67.86h.7M476.31 71.87h.7M489.46 69.16h.7M451.67 83.3h.7M433.01 67.35h.7M486.18 71.63h.7M454.06 45.07h.7M478.74 69.25h.7M431.39 67.98h.7M422.37 73.15h.7M481.76 78.51h.7M470.67 63.6h.7M448.04 99.15h.7M410.09 70.14h.7M423.43 66.87h.7M434.75 72.82h.7M416.06 71.29h.7M448.72 56.9h.7M419.11 70.35h.7M441.43 70.28h.7M419.72 69.57h.7M455.49 52.79h.7M455.13 84.92h.7M463.09 59.16h.7M466.82 59.23h.7M422.78 63.83h.7M457.74 58.99h.7M435.09 58.19h.7M490.56 67.75h.7M470.7 77.84h.7M450.44 73.11h.7M439.99 80.52h.7M471.71 61.35h.7M473.34 63.76h.7M453.29 58h.7M453.59 75.97h.7M476 67.83h.7M414.92 70.16h.7M492.3 70.51h.7M465.75 78.22h.7M467.42 86.25h.7M495.92 71.02h.7M482.64 65.95h.7M433.82 74.84h.7M462.24 84.07h.7M479.66 68.25h.7M425.42 71.91h.7M419.99 70.23h.7M434.81 67.81h.7M468.86 73.42h.7M465.57 57.31h.7M490.46 71.63h.7M491.64 70.88h.7M468.18 82.24h.7M477.15 72.39h.7M413.6 69.24h.7M474.52 77.75h.7M444.79 59.19h.7M449.72 84.57h.7M477.99 64.59h.7M428.15 65.24h.7M477.09 66.75h.7M489.98 69.72h.7M427.38 69.1h.7M422.59 73.73h.7M412.08 70.17h.7M444.08 47.77h.7M429.97 82.61h.7M487.31 69.66h.7M488.58 74.33h.7M487.18 72.33h.7M461.04 70.6h.7M474.47 72.05h.7M497.58 69.45h.7M490.86 71.96h.7M449.83 84.99h.7M435.76 67.43h.7M461.91 92.47h.7M431.83 77.71h.7M469.16 83.28h.7M437 74.32h.7M489.96 73.5h.7M472.85 78.1h.7M467.06 71.54h.7M427.3 70.47h.7M497.92 71.61h.7M413.79 69.96h.7M431.55 77.4h.7M426.38 73.59h.7M427.66 67.89h.7M497.52 69.24h.7M462.35 64.21h.7M478.03 62.93h.7M470.94 65.96h.7M496.16 69.79h.7M470.24 58.33h.7M494.55 70.76h.7M492.28 71.62h.7M415.42 70.79h.7M444.27 58.81h.7M490.15 71.36h.7M441.42 51.87h.7M468.42 59.08h.7M431.53 57.23h.7M425.5 73.06h.7M434.07 86.47h.7M435.13 77.8h.7M476.24 72.65h.7M464.44 60.32h.7M484.58 75.96h.7M457.8 59.46h.7M417.74 69.4h.7M497.48 69.84h.7M435.24 70.78h.7M413.11 70.67h.7M480.15 67.98h.7M412.68 70.86h.7M482.86 73.49h.7M428.95 79.59h.7M467.68 56.96h.7M498.33 70.67h.7M426.57 76h.7M463.74 74.3h.7M412.51 69.88h.7M481.3 61.98h.7M427.44 62.03h.7M462.45 59.2h.7M480.59 69.74h.7M480.41 77.37h.7M497.46 69.47h.7M442.8 80.37h.7M439.92 86.94h.7M440.26 73.8h.7M433.04 74.9h.7M435.51 68.29h.7M475.08 77.01h.7M422.61 67.26h.7M429.08 74.55h.7M470.66 75.24h.7M482.69 67.35h.7M454.69 43.06h.7M441.7 73.17h.7M433.43 76.96h.7M429.11 69.33h.7M471.56 65.31h.7M469.73 68.56h.7M414.36 69.43h.7M468.7 79.22h.7M471.18 79.59h.7M469.91 77.25h.7M485.43 71.15h.7M457.83 58.25h.7M431.26 59.42h.7M420 69.73h.7M436.31 71.67h.7M484.55 68.03h.7M490.49 72.77h.7M427.29 71.34h.7M427.77 61.55h.7M429.83 64.3h.7M410.68 69.69h.7M482.65 75.3h.7M487.72 66h.7M412.12 70.71h.7M443.72 65.03h.7M473.06 70.81h.7M439.64 57.48h.7M420.34 71.41h.7M491.5 66.73h.7M430.1 70.62h.7M433.98 70.01h.7M455.16 62.08h.7M420.55 69.82h.7M483 65.98h.7M458.42 82.61h.7M461.34 66.17h.7M493.55 71.63h.7M499.72 69.95h.7M453.54 68.67h.7M485.64 71.38h.7M459.52 70.71h.7M490.18 69.35h.7M421.81 67.64h.7M431.94 59.28h.7M497.89 70.37h.7M481.81 69.8h.7M456.92 60.88h.7M490.18 69.78h.7M446.53 78.98h.7M488.17 77.12h.7M453.31 67.79h.7M484.35 69.59h.7M428.22 69.93h.7M437.53 62.81h.7M479.53 68.47h.7M466.28 66.01h.7M420.28 71.86h.7M479.74 73.19h.7M464.89 61.82h.7M455.13 84.47h.7M480.59 71.4h.7M466.8 62.51h.7M414.97 71.02h.7M411.65 70h.7M445.98 77.16h.7M472.72 79.05h.7M493.69 69.29h.7M432.4 60.05h.7M439.69 54.79h.7M496.5 70.45h.7M454.2 50.09h.7M492.09 68.89h.7M479.27 66.3h.7M434.35 59.35h.7M458.15 63.47h.7M461.44 77.56h.7M430.33 61.88h.7M456.38 67.19h.7M450.21 65.68h.7M424.84 65.3h.7M475.45 72.57h.7M471.9 73.08h.7M456.19 59.41h.7M492.26 70.41h.7M451.23 61.37h.7M443.93 93.71h.7M446.56 81.83h.7M421.19 70.83h.7M434.46 62.99h.7M437.33 67.38h.7M467.93 68.54h.7M487.5 67.15h.7M486.98 69.77h.7M481.33 69.15h.7M433.15 80.15h.7M467.3 76.27h.7M457.03 78.09h.7M496.09 71.01h.7M497.2 69.9h.7M436.81 81.86h.7M485.05 75.09h.7M449.19 67.31h.7M495.26 69.21h.7M424.97 66.13h.7M437.24 68.01h.7M444.47 68.98h.7M413.18 70.04h.7M455.73 50.51h.7M453.33 89.3h.7M468.79 85.08h.7M487.4 70.21h.7M411.9 69.64h.7M461.86 83.2h.7M439.85 56.41h.7M478.31 70.8h.7M452.12 54.52h.7M459.84 72.64h.7M473.95 79.86h.7M416.82 71.27h.7M438.92 67.81h.7M440.96 80.43h.7M449.7 50.12h.7M452.67 55.93h.7M411.43 69.68h.7M444.25 68.67h.7M410.06 69.93h.7M491.16 70.5h.7M498.21 70.33h.7M495.88 70.85h.7M444.86 48.7h.7M423.29 72.91h.7M469.6 66.56h.7M424.69 71.59h.7M493.68 69.17h.7M499.73 70.3h.7M428.73 64.34h.7M474.04 80.9h.7M428.3 65.81h.7M422.87 67.57h.7M430.3 68.77h.7M431.4 73.14h.7M431.58 65.12h.7M447.69 56.78h.7M414.6 69.33h.7M410.44 70.38h.7M414.42 70.22h.7M490.02 71.01h.7M437.56 67.53h.7M448.46 63.81h.7M414.84 69.51h.7M422.88 67.57h.7M439.78 54.74h.7M465.41 62.88h.7M455.94 77.47h.7M454.75 79.71h.7M480.21 69.68h.7M429.11 59.29h.7M472.36 68.21h.7M436.18 55.55h.7M426.2 75.82h.7M452.49 85.34h.7M485.99 67.98h.7M430.34 78.06h.7M431.31 71.91h.7M494.28 70.13h.7M448.23 92.93h.7M487.67 75.01h.7M473.63 65.73h.7M414.32 69.06h.7M493.08 70.44h.7M489.49 74.91h.7M431.36 82.4h.7M434.64 60.94h.7M434.49 88.27h.7M494.57 69.73h.7M453.38 83.96h.7M482.36 76.12h.7M442.61 60.61h.7M456.16 91.4h.7M465.18 83.04h.7M427.66 70.34h.7M492.54 70.59h.7M481.44 74.59h.7M449.84 77.21h.7M472.27 69.35h.7M456.82 82.87h.7M489.35 75.82h.7M443.07 75.81h.7M459.57 84.56h.7M431.64 69.61h.7M433.06 77.03h.7M473.93 58.24h.7M419.76 68.22h.7M463.21 79.49h.7M440.95 52.6h.7M462.69 73.74h.7M448.73 61.68h.7M441.22 60.86h.7M483.15 69.12h.7M474.21 71.11h.7M430.63 65.81h.7M470.34 80.02h.7M492.57 68.36h.7M433.33 58.31h.7M427.03 68.74h.7M474.63 80.1h.7M463.17 59.91h.7M443.88 55.87h.7M435.16 71.85h.7M455.15 57.9h.7M434.85 81.3h.7M466.74 72.85h.7M438.99 63.97h.7M478.53 60.9h.7M468.85 85.77h.7M467.18 57.66h.7M413.04 70.65h.7M426.67 69.27h.7M468.63 74.56h.7M435.91 74.6h.7M492.24 70.11h.7M445.67 76.55h.7M488.59 71.74h.7M493.46 71.65h.7M496.1 69.53h.7M470.57 64.8h.7M420.57 69.36h.7M495.12 69.57h.7M437.8 84.77h.7M498.37 70.82h.7M441.73 81.38h.7M415.9 68.46h.7M415.69 69.89h.7M431.71 78h.7M450.21 85.25h.7M453.91 66.04h.7M440.54 50.19h.7M450.92 93.14h.7M497.45 71.64h.7M418.8 70.03h.7M485.06 66.65h.7M415.88 69.51h.7M417.57 71.05h.7M474.13 84.73h.7M414.55 70.61h.7M481.42 66.28h.7M417.12 72.31h.7M481.14 63.96h.7M426.84 72.18h.7M425.38 69.56h.7M423.5 65.55h.7M453.59 71.72h.7M486.24 63.33h.7M441.93 51.7h.7M459.74 59.15h.7M439.8 89.52h.7M468.45 74.42h.7M464.51 62.58h.7M471.63 84.72h.7M418.04 71.63h.7M440.96 59.52h.7M468.97 80.2h.7M425.03 66.51h.7M455.08 59.46h.7M455.61 98.99h.7M412.31 70.17h.7M428.19 64.26h.7M462.98 89.38h.7M452.28 72.29h.7M472.93 78.7h.7M497.01 69.85h.7M425.96 76.26h.7M464.47 84.01h.7M423.21 72.85h.7M420.64 67.73h.7M420.9 69.44h.7M447.38 75.68h.7M494.4 70.01h.7M462.07 68.04h.7M444.45 61.73h.7M410.46 70.05h.7M475.06 76.24h.7M471.74 69.36h.7M446.99 57.91h.7M431.84 85.81h.7M462.88 67.95h.7M458.16 70.05h.7M436.45 68.09h.7M448.73 88.01h.7M490.19 68.89h.7M451 59.55h.7M495.75 68.99h.7M453.33 44.04h.7M451.47 68.94h.7M411.29 69.89h.7M454.99 69.46h.7M437.3 52.72h.7M439.18 65.62h.7M419.33 70.68h.7M429.8 70.71h.7M473.88 58.98h.7M454.8 75.25h.7M490.47 71.52h.7M485.39 71.85h.7M430.19 75.99h.7M478.03 70.1h.7M493.28 67.6h.7M491.71 69.52h.7M458.82 81.85h.7M425.04 70.21h.7M411.37 69.65h.7M496.04 69.41h.7M448.41 53.77h.7M493.89 70.28h.7M486.97 68.34h.7M451.69 60.76h.7M463.07 76.87h.7M461.61 72.87h.7M437.91 86.6h.7M411.75 69.87h.7M470.07 86.18h.7M486.27 67.99h.7M494.9 70.11h.7M461.39 75.04h.7M465.58 83.21h.7M490.88 69.18h.7M490.29 69.11h.7M471.54 63.77h.7M467.4 66.19h.7M499.51 70.51h.7M444.86 91.9h.7M420.4 71.65h.7M468.37 56.31h.7M451.39 53.69h.7M499.98 69.56h.7M467.2 71.3h.7M421.27 73.85h.7M461.65 73.99h.7M433.7 60.42h.7M439.32 49.64h.7M428.11 70.19h.7M445.15 79.51h.7M422.76 67.59h.7M457.08 77.1h.7M438.3 60.57h.7M421.26 69.39h.7M444.13 80.88h.7M431.61 66.93h.7M477.07 65.97h.7M413.47 71.22h.7M492.31 69.35h.7M435.5 69.26h.7M428.93 74.88h.7M489.66 71.81h.7M445.95 83.53h.7M494.28 68.93h.7M470.16 63.76h.7M498.75 70.87h.7M446.87 78.99h.7M436.39 54.09h.7M456.22 52.48h.7M451.11 85.53h.7M461.94 63.8h.7M429.09 71.06h.7M455.84 88.96h.7M425.43 69.88h.7M450.3 66h.7M426.76 68.73h.7M458.86 60.08h.7M438.85 70.92h.7M494.6 70.19h.7M441.16 48.51h.7M456.62 65.35h.7M420.42 70.12h.7M465.45 67.02h.7M476.17 72.45h.7M415.65 68.88h.7M457.3 73.89h.7M460.13 61.95h.7M440.99 76.93h.7M445.72 71.14h.7M430.56 72.35h.7M453.14 41.44h.7M477.9 75.52h.7M498.83 71.37h.7M473.2 69.78h.7M433.91 74.68h.7M447.7 63.92h.7M420.52 70.81h.7M473.95 75.78h.7M423.73 67.2h.7M467.35 61.37h.7M489.77 74.21h.7M466.78 65.09h.7M460.61 79.9h.7M441.04 74.63h.7M464.12 85.74h.7M479.85 72.6h.7M459.04 87.15h.7M464.24 75.94h.7M437.95 55.86h.7M460.2 61.72h.7M497.27 69.55h.7M490.6 69.26h.7M427.26 71.18h.7M439.01 92.27h.7M465.58 59.33h.7M437.9 56.14h.7M454.42 71.2h.7M438.43 74.87h.7M450.04 83.41h.7M471.12 66.02h.7M484.7 64h.7M431.17 56.25h.7M495.64 70.36h.7M485.72 77.81h.7M418.23 72.09h.7M411.86 70.46h.7M481.39 69.04h.7M490.11 72.21h.7M454.78 62.7h.7M424.33 64.66h.7M458.73 71.05h.7M426.89 70.59h.7M417.14 69.67h.7M470.22 63.19h.7M457.07 56.55h.7M489.38 68.13h.7M493.83 72.59h.7M496.83 69.69h.7M471.34 60.9h.7M497.48 70.72h.7M413.33 69.66h.7M419.5 69.56h.7M494.35 71.53h.7M439.35 79.88h.7M410.95 70.28h.7M445.04 50.91h.7M492.75 71.03h.7M499.61 70.46h.7M465.89 60.6h.7M452.85 88.67h.7M460.28 74.85h.7M451.37 65.33h.7M411.05 69.99h.7M426.76 63.26h.7M414.87 70.76h.7M499.59 70.56h.7M484.76 67.35h.7M486.46 69.3h.7M486.92 67.99h.7M436.91 70.86h.7M430.13 65.5h.7M475.4 75.9h.7M498.47 70.56h.7M441.55 69.32h.7M462.72 73.03h.7M492.57 70.57h.7M496.53 70.2h.7M450.16 45.75h.7M439.17 69.77h.7M411.04 70.2h.7M420.44 68.92h.7M489.56 74.09h.7M420.3 70.69h.7M453.78 49.56h.7M436.77 71.03h.7M448.28 72.57h.7M415.94 70.5h.7M465.03 62.4h.7M461.03 89.47h.7M490.2 71.01h.7M456.87 79.87h.7M450.85 78.04h.7M443.55 71.89h.7M476.04 71.64h.7M464.26 67.63h.7M441.51 74.88h.7M450.14 68.28h.7M444.1 62.86h.7M466.33 82.73h.7M427.54 72.18h.7M457.83 75.05h.7M469.7 68.56h.7M410.94 70.14h.7M456.9 74.83h.7M493.41 70.97h.7M468.79 67.53h.7M481.49 65.43h.7M489.67 70.19h.7M450.81 77.41h.7M458.86 99.22h.7M420.85 66.77h.7M463.53 63.02h.7M430.47 84.4h.7M457.62 63.7h.7M442.82 60.27h.7M432.69 60.35h.7M497.88 70.81h.7M442.37 54.17h.7M497.8 71.35h.7M418.55 71.97h.7M459.62 96.16h.7M449.64 68.09h.7M410.75 70.31h.7M431.48 78.57h.7M430.14 77.83h.7M440.02 80.03h.7M474.27 81.03h.7M461.76 66.62h.7M433.66 63.33h.7M419.29 69.34h.7M438.54 80.09h.7M410.62 70.25h.7M455.69 57.36h.7M472.41 65.16h.7M476.88 65.2h.7M489.07 68.94h.7M418.49 68.67h.7M428.38 63.23h.7M438.26 88.45h.7M443.72 66.77h.7M477.77 63.07h.7M417.89 71.76h.7M439.44 58.77h.7M426.53 73.3h.7M497.98 70.05h.7M474.05 69.72h.7M428.34 67.28h.7M440.53 61.78h.7M481.42 64.6h.7M444.77 78.35h.7M412.98 71.1h.7M465.34 74.52h.7M427.3 65.56h.7M485.9 77.02h.7M411.34 70.57h.7M428 61.8h.7M463.71 57.92h.7M485.67 74.15h.7M435.75 58.97h.7M456.17 79.94h.7M413.41 70.54h.7M421.12 69.51h.7M424.85 64.39h.7M458.13 64.02h.7M492 73.06h.7M475.36 70.44h.7M468.2 67.06h.7M452.21 71.9h.7M447.9 68.41h.7M486.68 77.32h.7M476.23 77.48h.7M437.46 54.1h.7M430.04 70.25h.7M478.82 73.88h.7M492.35 71.85h.7M436.89 53.12h.7M453.4 64.43h.7M488.28 74.39h.7M458.44 80.78h.7M475.42 70.57h.7M449.78 93.02h.7M481.78 71.08h.7M498.82 69.51h.7M479.24 70.92h.7M438.94 56.53h.7M462.3 84.43h.7M425.82 75.75h.7M498.82 69.64h.7M459.72 69.86h.7M440.21 55.57h.7M434.07 83.05h.7M485.6 76.35h.7M454.87 70.23h.7M415.55 70.1h.7M462.34 95.91h.7M415.79 70.6h.7M414.21 71.36h.7M428.18 72.98h.7M467.08 63.67h.7M451.56 67.69h.7M426.09 69h.7M415.7 70.72h.7M497.4 70.35h.7M445.96 70.69h.7M422.97 72.25h.7M472.2 62.41h.7M444.01 54.57h.7M473.08 58.7h.7M488.34 66.04h.7M485.19 67.19h.7M457.61 78.07h.7M494.5 72.03h.7M423.71 72.18h.7M448.71 56.59h.7M451.58 91.98h.7M411.74 70.45h.7M458.81 86.71h.7M452.77 61.02h.7M486.6 66.28h.7M471.98 66.86h.7M414.84 69.54h.7M486.51 66.97h.7M492.66 68.33h.7M493.54 67.73h.7M469.33 71h.7M463.7 87.12h.7M430.41 83.51h.7" stroke="#363636" stroke-width="0.7" fill="none"/>
<path d="M461.02 82.19h.6M438.04 85.39h.6M471.88 69.71h.6M435.65 80.52h.6M460.33 89.52h.6M483.64 73.41h.6M471.98 64.08h.6M479.76 73.74h.6M427.03 63.33h.6M427.31 65.6h.6M475.03 75.86h.6M470.03 67.59h.6M487.54 67.14h.6M436.39 68.35h.6M438.77 77.66h.6M480.09 74.13h.6M443.29 73.19h.6M442.68 72.01h.6M458.23 58.03h.6M480.85 75h.6M475.99 63.71h.6M436.83 77.42h.6M478.14 72.35h.6M487.18 69.57h.6M436.33 69.43h.6M441.71 65.71h.6M476.32 67.46h.6M471.32 72.57h.6M421.56 70.33h.6M482.43 72.27h.6M481.29 72.3h.6M491.62 67.41h.6M450.62 57.8h.6M474.47 66.75h.6M467.87 74.84h.6M421.23 71.07h.6M443.7 60.48h.6M466.48 74.39h.6M435.39 75.89h.6M425.41 64.27h.6M483.9 75.61h.6M488.18 74.93h.6M473.35 71.81h.6M458.13 71.7h.6M487.93 74.76h.6M451.38 58.03h.6M458.72 67.59h.6M478.25 77.74h.6M464.63 59.08h.6M458.48 57.28h.6M458.65 83.32h.6M468.46 69.55h.6M431.38 79.13h.6M482.74 70.11h.6M423.76 72.04h.6M448.87 65.98h.6M447.24 61h.6M430.11 73.07h.6M457.32 67.76h.6M474.03 70.31h.6M431.65 64.58h.6M460.22 76.82h.6M465.62 78.25h.6M445.74 80.65h.6M461.97 62.77h.6M429.02 72.42h.6M481 77.03h.6M478.79 75.81h.6M462.47 62.68h.6M441.34 82.81h.6M439.67 69.68h.6M459.54 54.01h.6M428.01 64.9h.6M477.32 75.58h.6M426.29 65.23h.6M491.03 68.05h.6M477.59 71.84h.6M482.78 73.41h.6M427.01 74.13h.6M471.5 61.55h.6M487.84 68.43h.6M453.44 71.32h.6M459.98 73.04h.6M424.73 74.27h.6M457.68 55.91h.6M456.19 58.69h.6M451.08 79.61h.6M474.27 64.46h.6M440.71 86.18h.6M465.25 62.12h.6M463.9 63.26h.6M425.34 72.18h.6M428.07 63.8h.6M468.83 83.42h.6M424.95 73.16h.6M430.28 60.58h.6M421.2 66.7h.6M472.62 79.77h.6M420.93 67.79h.6M423.4 69.28h.6M443.19 58.19h.6M478.71 64.57h.6M465.53 61.17h.6M467.08 61.55h.6M434.18 82.5h.6M439.19 68.5h.6M467.58 85.17h.6M459.54 57.33h.6M468.15 75.6h.6M462.07 66.76h.6M479.04 64.06h.6M459.34 72.02h.6M486.1 73.33h.6M437.24 66.35h.6M462.91 66.76h.6M424.52 75.71h.6M452.72 55.77h.6M430.99 59.01h.6M485.59 66.62h.6M460.57 87.65h.6M475.3 72.14h.6M440.49 76.11h.6M478.09 65.93h.6M436.45 67.39h.6M463.08 84.32h.6M462.56 63.35h.6M472.23 63.81h.6M427.72 61.76h.6M461.5 73.24h.6M453.45 72.57h.6M433.53 62.16h.6M462.12 67.33h.6M455.94 87.93h.6M453.65 80.79h.6M424.37 70.14h.6M423.88 66.92h.6M433.58 67h.6M431.45 79.25h.6M441.64 62.8h.6M425.12 68.55h.6M476.46 71.15h.6M484.34 71.68h.6M466.37 68.47h.6M480.14 69.57h.6M430.04 64.33h.6M477.4 63.55h.6M432.99 73.19h.6M469.13 69.53h.6M466.97 68.36h.6M462.46 56.53h.6M449.67 90.13h.6M461.41 65.29h.6M464.87 86.24h.6M453.52 66.93h.6M479.15 76.16h.6M436.28 74.96h.6M441.51 64.69h.6M477.81 68.2h.6M485.84 70.11h.6M482.44 65.83h.6M449.12 50.87h.6M481.78 75.82h.6M454.99 68.9h.6M489.87 69.41h.6M442.03 56.35h.6M486.16 73.57h.6M457.95 79.76h.6M480.18 72.92h.6M427.8 72.56h.6M482.76 69.96h.6M450.76 76.39h.6M433.73 62.47h.6M468.97 84.08h.6M428.19 72.9h.6M456.24 53.07h.6M431.62 65.5h.6M469.85 62.76h.6M446.89 75.06h.6M474.34 80.99h.6M480.33 66.12h.6M460.26 74.43h.6M459.78 74.14h.6M447.57 59.46h.6M468.04 81.18h.6M469.12 74.65h.6M488.96 68.27h.6M461.39 82.76h.6M466.99 58.49h.6M456.78 83.59h.6M434.58 67.1h.6M490.74 69.94h.6M459.12 74.21h.6M481.19 69.68h.6M484.69 72.7h.6M448.9 75.03h.6M441.63 53.2h.6M454.94 52.79h.6M441.53 82.24h.6M489.88 68h.6M431.95 66.59h.6M452.44 55.76h.6M478.08 65.2h.6M458.83 62.37h.6M466.56 60.99h.6M455.57 85.16h.6M421.21 67.98h.6M425.2 74.28h.6M468.29 64.58h.6M484.8 66.81h.6M455.18 80.16h.6M463.27 57.83h.6M423.4 66.97h.6M488.09 74.05h.6M441.63 53.05h.6M465.71 62.64h.6M484.22 75.39h.6M476.31 75.7h.6M476.06 76.87h.6M447.34 79.19h.6M420.92 71.58h.6M452.03 91.17h.6M476.55 69.51h.6M470.9 72.42h.6M464.42 56.96h.6M436.19 62.52h.6M470.64 80.99h.6M465.25 78.78h.6M465.8 61.37h.6M438.38 72.77h.6M474.28 68.87h.6M470.03 66.89h.6M442.67 57.4h.6M449.8 73.6h.6M427.91 76.99h.6M420.6 71.74h.6M444.97 87.05h.6M440.63 52.6h.6M469.72 67.75h.6M478.9 73.1h.6M451.76 77.18h.6M469.05 66.64h.6M434.03 74.06h.6M460.97 55.88h.6M431.66 68.56h.6M426.48 70.59h.6M448.46 61.78h.6M474.05 75.47h.6M424.82 71.36h.6M491.47 70.98h.6M490.91 68.46h.6M435.91 64.81h.6M436.88 59.07h.6M438.34 70.28h.6M478.43 75.04h.6M422.86 72.67h.6M465.94 64.43h.6M420.49 72.53h.6M429.69 65.12h.6M441.9 80.72h.6M488.06 74.22h.6M481.16 75.39h.6M454 52.85h.6M436.91 58.43h.6M428.34 63.52h.6M442.97 52.7h.6M441.26 82.57h.6M437.41 70.51h.6M481.26 64.09h.6M472.35 71.27h.6M422.18 73.49h.6M477.27 64.18h.6M489.21 70.92h.6M465.72 63.01h.6M422.2 71.96h.6M471.36 64.16h.6M422.45 70.89h.6M442.17 64.28h.6M482.5 71.14h.6M428.49 73.53h.6M471.88 71.89h.6M488.66 70.05h.6M466.79 59.67h.6M441.67 62.64h.6M450.94 70.73h.6M428.26 73.34h.6M423.92 67.5h.6M462.13 55.87h.6M443.67 81.72h.6M472.67 67.99h.6M432.02 75.66h.6M482.58 65.31h.6M450.12 72.26h.6M469.91 64.2h.6M479.2 72.08h.6M477.51 78.54h.6M469.21 74.98h.6M441.42 61.65h.6M446.91 82.65h.6M462.91 63.8h.6M484.98 70.45h.6M490.48 71.42h.6M472.92 67.46h.6M491.4 70.12h.6M468.5 68.15h.6M457.65 58.69h.6M446.52 66.71h.6M473.49 64.24h.6M434.24 73.86h.6M454.09 86.75h.6M421.4 69.81h.6M479.86 74.37h.6M445.41 70.88h.6M448.58 49.72h.6M425.85 66.41h.6M482.8 66.66h.6M440.55 72.21h.6M470.19 74.17h.6M442.26 64.14h.6M420.93 72.26h.6M447.16 61.69h.6M434.92 70.05h.6M430.79 66.27h.6M427.58 64.98h.6M457.97 64.16h.6M427.72 75.98h.6M424.28 69.23h.6M441.1 53.59h.6M441.3 68.02h.6M469.62 65.29h.6M447.32 86.37h.6M465.7 68.87h.6M435.28 77.84h.6M487 67.84h.6M481.26 68.65h.6M454.47 51.84h.6M437.47 61.52h.6M434.6 78.61h.6M488.47 68.74h.6M477.75 67.28h.6M461.83 60.89h.6M485.46 70.43h.6M462.51 81.1h.6M457.71 69.89h.6M471.24 69.76h.6M461.5 64.01h.6M430.98 63.84h.6M489.93 70.98h.6M421.32 67.89h.6M461.99 70.67h.6M491.21 73.09h.6M425.13 73.89h.6M490.78 72.06h.6M488.63 69.27h.6M465.3 76.35h.6M477.36 74.28h.6M479.07 67.95h.6M477.25 72.07h.6M489.2 68.86h.6M464.62 82.5h.6M474.72 74.45h.6M430.5 62.57h.6M442.9 75.76h.6M422.35 71.6h.6M428.64 64.44h.6M439.99 71.85h.6M471.7 81.15h.6M436.45 56.89h.6M481.75 71.54h.6M486.17 72.61h.6M429.37 67.46h.6M435.79 68.69h.6M440.56 82.47h.6M484.5 66.93h.6M491.98 73.21h.6M447.74 85.44h.6M488.11 72.48h.6M446.14 75.34h.6M475.21 67.6h.6M454.22 54.21h.6M431.25 76.28h.6M442.22 77.46h.6M450.91 79.24h.6M440.55 54.91h.6M468.06 64.84h.6M434.73 69.16h.6M455.72 86.95h.6M470.18 68.95h.6M451.74 74.55h.6M429.34 66.17h.6M463.47 85.87h.6M463.27 61.94h.6M489.66 72.7h.6M436.04 66.08h.6M422.41 72.49h.6M435.7 79.13h.6M471.68 77h.6M460.65 61.97h.6M422.6 71.08h.6M420.95 70.38h.6M475.73 64.43h.6M451.46 72.01h.6M430.86 63.4h.6M463.95 61.22h.6M430.96 63.79h.6M487.46 74.24h.6M428.02 71.41h.6M449.6 50.81h.6M438.1 74.84h.6M421.4 73.64h.6M440.56 64.6h.6M488.33 67.21h.6M429.41 69.69h.6M442.55 63.24h.6M461.95 87.2h.6M449.88 51.38h.6M446.86 84.32h.6M451.15 52.23h.6M437.97 60.86h.6M445.25 62.88h.6M468.3 76.59h.6M423.22 66.66h.6M479.2 76.56h.6M476.77 65.23h.6M469.89 61.6h.6M468.62 64.24h.6M480.47 75.59h.6M453.64 79.99h.6M488.01 74.02h.6M466.61 73.87h.6M445.7 77.4h.6M430.13 69.34h.6M426.13 64.29h.6M468.08 68.61h.6M434.94 81.97h.6M440.92 71.6h.6M455.3 58.23h.6M491.54 72h.6M484.22 68.08h.6M485.59 74.91h.6M487.8 67.43h.6M431.21 60.42h.6M426.48 73.01h.6M423.65 69.87h.6M445.56 79.13h.6M423.35 72.38h.6M488.98 68.62h.6M449.06 80.28h.6M441.99 82.51h.6M491.74 68.57h.6M453.86 56.34h.6M460.15 66.75h.6M490.01 72.06h.6M491.44 72.38h.6M479.39 68.61h.6M467.87 61.54h.6M445.06 86.45h.6M490.56 67.98h.6M455.62 66.66h.6M464.64 73.43h.6M438.79 82.2h.6M452.4 82.16h.6M471.99 81.78h.6M457.08 73.98h.6M475.58 65.85h.6M423.24 73.23h.6M469.98 76.92h.6M477.62 65.75h.6M483.21 72.07h.6M488 70.79h.6M482.31 64.93h.6M431.92 71.39h.6M468.07 67.71h.6M425.19 74.87h.6M425.16 74.89h.6M436.78 76.16h.6M462.7 62.49h.6M443.65 60.03h.6M458.38 62.47h.6M459.15 62.79h.6M428.67 73.54h.6M438.84 84.39h.6M449.17 60.37h.6M471.71 80.04h.6M446.66 79.52h.6M443.87 88.67h.6M441.61 52.62h.6M420.28 70.51h.6M464.97 64.64h.6M449.81 66.47h.6M446.16 57.58h.6M459.21 77h.6M421.95 73.31h.6M438.68 69.38h.6M435.68 74.95h.6M449.23 73.64h.6M449.37 70.59h.6M426.23 76.69h.6M450.65 63.29h.6M480.96 67.59h.6M476.96 69.08h.6M428.4 71.47h.6M440.18 59.28h.6M491.27 73.3h.6M453.95 83.54h.6M468.23 65.9h.6M429.32 71.68h.6M433.74 76.47h.6M462.83 62.06h.6M475.93 79.64h.6M454.56 90.55h.6M452.38 50.71h.6M453.28 64.38h.6M486.06 70.5h.6M489.17 67.59h.6M447.59 50.24h.6M423.7 72.37h.6M422.37 67.75h.6M451.27 88.27h.6M437 53.9h.6M470.49 75.36h.6M429.98 78.2h.6M482.3 76.27h.6M479.31 71.03h.6M470.49 62.79h.6M466.35 66.7h.6M444.17 62.79h.6M425.84 74.24h.6M475.03 62.1h.6M456.93 52.85h.6M459.25 58.91h.6M489.18 68.82h.6M457.69 61.76h.6M485.09 65.16h.6M441.8 59.78h.6M473.74 68.01h.6M482.04 68.15h.6M429.06 69.36h.6M426.21 65.13h.6M457.65 73.34h.6M435.38 60.41h.6M457.55 68.29h.6M454.68 77.63h.6M430.15 59.67h.6M424.66 73.58h.6M470.59 63.4h.6M443.79 62.64h.6M486.45 69.41h.6M471.43 62.36h.6M422.98 67.55h.6M466.2 68.95h.6M482.8 74.54h.6M467.84 84.94h.6M489.13 73.58h.6M426.43 68.74h.6M430.47 72.41h.6M456.37 55.15h.6M425.72 69.76h.6M464.99 67.79h.6M453.97 76.05h.6M470.26 75.72h.6M449.88 56.68h.6M482.63 64.84h.6M434.81 60.98h.6M462.79 74.69h.6M427.19 70.46h.6M461.39 77.39h.6M425.32 73.01h.6M439.45 66.11h.6M428.96 76.11h.6M464.5 80.91h.6M457.06 56.09h.6M448.89 52.73h.6M427.11 74.71h.6M420 69.61h.6M423.01 72.69h.6M491.33 67.28h.6M446.19 88.97h.6M438.06 63.7h.6M491.08 73.26h.6M447.82 77.18h.6M477.17 68.02h.6M420.16 69.5h.6M469.86 82.72h.6M451.8 66.61h.6M447.41 74.57h.6M421.6 73.4h.6M488.69 66.41h.6M420.44 69.07h.6M430.51 75.46h.6M482.63 70.87h.6M487.96 67.89h.6M434.11 66.88h.6M452.5 58.05h.6M486.32 72.98h.6M440.75 60.04h.6M440.41 66.38h.6M467.12 78.67h.6M488.39 66.74h.6M434.08 66.78h.6M488.55 69.9h.6M471.77 78.25h.6M453.18 65.35h.6M475.88 73.07h.6M491.49 68.82h.6M488.64 70.14h.6M482.56 72.16h.6M460.58 84.15h.6M425.8 67.16h.6M455.11 84.04h.6M433.4 76.92h.6M426.35 68.01h.6M453.39 79.54h.6M457.64 84.79h.6M469.87 67.88h.6M457.51 66.27h.6M482.82 67.97h.6M433.01 63.36h.6M438.03 79.68h.6M469.45 64.97h.6M450.24 86.93h.6M489.18 68.06h.6M487.96 66.42h.6M491.9 69.19h.6M488.72 66.42h.6M469.56 81.82h.6M479.05 71.47h.6M431.21 64.04h.6M487.9 73.8h.6M435.93 65.33h.6M464.15 64.86h.6M435.36 80.1h.6M428.01 72.35h.6M449.21 69.01h.6M482.75 73.53h.6M475.76 62.44h.6M478.34 75.42h.6M420.05 68.65h.6M472.6 78.9h.6M458.83 86.16h.6M426.32 66.67h.6M479.06 75.23h.6M436.07 72.17h.6M451.55 80.5h.6M448.68 62.74h.6M474.86 74.39h.6M446.05 78.66h.6M438.89 70.27h.6M433.51 65.89h.6M450.13 53.25h.6M442.44 64.52h.6M443.54 70.5h.6M484.77 74.42h.6M441.29 56.44h.6M426.33 75.45h.6M474.71 75.33h.6M485.37 69.24h.6M432.33 59.75h.6M448.76 81.35h.6M426.13 69.34h.6M425.86 66.2h.6M459.85 76.23h.6M487.86 68.68h.6M436.73 55.95h.6M433.52 57.27h.6M420.09 67.99h.6M458.64 68.74h.6M485.29 70.1h.6M426.26 65.01h.6M470.43 82.78h.6M473.95 65.66h.6M444.87 67.72h.6M451.2 61.33h.6M431.13 59.15h.6M483.37 76.37h.6M490.42 69.41h.6M469.49 64.18h.6M428.1 61.3h.6M443.98 81.38h.6M457.99 60.82h.6M454.67 72.01h.6M434.07 68.74h.6M486.9 69.76h.6M491.3 71.8h.6M429.26 77.6h.6M469.85 69.09h.6M433.59 74.08h.6M433.7 69.16h.6M430.89 68.26h.6M489.64 71.06h.6M456.91 75.23h.6M467.13 73.37h.6M440.53 59.58h.6M463.66 85.4h.6M482.77 70.11h.6M441.25 73.28h.6M423.36 70.22h.6M476.4 79.41h.6M426.55 65.67h.6M454.55 74.95h.6M489.4 67.21h.6M429.27 69.94h.6M477.12 63.03h.6M447.39 78.75h.6M450.28 57.02h.6M425.12 73.35h.6M456.73 71.86h.6M469.2 77.54h.6M448.93 64.65h.6M486.17 66.12h.6M475.92 69.62h.6M458.36 61.51h.6M487.88 68.54h.6M443.08 53.03h.6M484.19 74.31h.6M423.63 66.49h.6M440.76 52.65h.6M455.83 85.13h.6M471.84 70.32h.6M490.5 68.88h.6M442.89 61.13h.6M463.4 69.29h.6M428.97 70.1h.6M489.58 73.39h.6M464.9 82.41h.6M455.02 70.12h.6M470.12 64.24h.6M462.72 70.31h.6M441.45 70.15h.6M432.81 73.52h.6M428.25 69.28h.6M424.01 70.67h.6M426.98 74.91h.6M421.3 72.48h.6M441.52 86.12h.6M443.67 56.2h.6M468.2 64.58h.6M478.54 69.93h.6M439.25 73.17h.6M436.06 62.8h.6M425.91 66.51h.6M435.75 59.6h.6M449.95 68.15h.6M462.81 72.12h.6M469.13 73.42h.6M453.89 85.57h.6M430.18 65.36h.6M420.87 73.02h.6M483.36 69.21h.6M480.68 71.2h.6M487.02 74.42h.6M443.86 61.48h.6M449.93 89.45h.6M453.71 64.8h.6M421.72 69.32h.6M486.62 69.48h.6M477.23 77.7h.6M487.48 72.58h.6M455.77 62.72h.6M487.71 73.25h.6M473.51 62.44h.6M466.68 76.16h.6M429.71 66.63h.6M452.73 60.34h.6M427.72 64.23h.6M452.93 50.75h.6M477.11 68.98h.6M440.07 61.15h.6M442.77 73.82h.6M471.49 68.92h.6M471.48 72.05h.6M478.41 74.27h.6M475.09 62.36h.6M445.29 54.66h.6M479.77 65.63h.6M486.51 68.75h.6M430.97 74.19h.6M433.34 66.49h.6M451.6 76h.6M457.27 77.1h.6M477.06 79.1h.6M464.7 68.29h.6M455.73 64.51h.6M480.04 70.99h.6M470.15 78.7h.6M470.13 80.5h.6M452.68 78.75h.6M483.73 70.11h.6M479.1 67.13h.6M431.46 77.56h.6M459.71 88.75h.6M463.09 63.26h.6M428.76 76.97h.6M438.2 58.66h.6M458.02 79.26h.6M461.33 56.09h.6M476.27 73.71h.6M443.4 85.79h.6M455.62 81.71h.6M426.55 67.3h.6M474.44 74.22h.6M470.52 75.27h.6M421.99 73.12h.6M423 67.72h.6M441.79 70.24h.6M426.9 69.12h.6M430.07 66.7h.6M444.8 54.66h.6M477.81 63.25h.6M434.47 80.25h.6M449.18 88.83h.6M442.14 70.92h.6M457.96 66.88h.6M491.25 69.62h.6M477.39 70.38h.6M445.14 83.57h.6M486.53 65.63h.6M463.12 79.4h.6M456.52 66.71h.6M471.78 63.82h.6M454.2 58.54h.6M482.23 74.21h.6M448.55 82.05h.6M459.06 76.54h.6M437.22 78.22h.6M466.73 85.67h.6M438.89 66.8h.6M476.11 66.41h.6M475.11 77.55h.6M431.96 75.16h.6M440.91 61.74h.6M445.35 81.03h.6M465.95 67.36h.6M469.14 78.92h.6M434.12 79.36h.6M457.51 75.91h.6M481.95 66.74h.6M453.69 79.3h.6M421.15 69.46h.6M459 68.5h.6M456.33 84.54h.6M428.21 73.79h.6M440.32 54.9h.6M453.27 55.49h.6M453.04 57h.6M452 55.43h.6M491.72 68.48h.6M451.94 74.74h.6M468.52 62.21h.6M481.04 68.6h.6M425.96 69.25h.6M464.8 66.57h.6M472.42 66.8h.6M478.74 77.72h.6M478.81 63.99h.6M450.22 71.61h.6M447.57 57.3h.6M462.36 58.87h.6M432.05 68.19h.6M491.77 69.55h.6M489.54 71.7h.6M466.55 83.19h.6M461.97 79.25h.6M454 83.02h.6M483 64.5h.6M487.27 65.99h.6M466.09 59.7h.6M474.44 69.11h.6M429.83 76.55h.6M437.82 82.34h.6M447.64 72.62h.6M452.06 81.55h.6M445.52 70.77h.6M436.56 64.98h.6M427.95 66.02h.6M440.02 76.52h.6M430.47 62.55h.6M490.05 71.38h.6M426.18 75.1h.6M474.66 72.59h.6M489.26 70.54h.6M430.02 59.78h.6M426.5 69.7h.6M459.82 83.58h.6M425.08 64.71h.6M426.88 68.09h.6M487.39 73.08h.6M423.15 71.11h.6M433.03 62.83h.6M443.15 60.33h.6M441.29 59.82h.6M444.76 73.72h.6M460.5 79.23h.6M440.14 52.91h.6M461.18 64.35h.6M435.12 67.49h.6M488.13 71.19h.6M471.63 61.64h.6M459.15 78.37h.6M482.26 73.85h.6M423.65 75.12h.6" stroke="#9a9a9a" stroke-width="0.6" fill="none"/>
<line x1="402" y1="70.25" x2="412" y2="70.25" stroke="#555" stroke-width="0.8"/>
<path d="M486.33 70.89h.6M504.57 65.21h.6M504.94 70.22h.6M498.94 68.38h.6M488.36 68.14h.6M492.03 71.33h.6M487.05 68.33h.6M490.87 69.76h.6M501.55 68.66h.6M503.3 75.96h.6M498.72 74.63h.6M490.91 60.77h.6M489.72 80.3h.6M492.44 69.89h.6M504.52 73.02h.6M503.27 71.92h.6M488.09 72.31h.6M501.4 67.81h.6M488.55 64.37h.6M497.17 70.22h.6M503.26 77.15h.6M503.05 71.79h.6M496.43 70.97h.6M494.6 78.26h.6M491.23 71.36h.6M502.49 62.68h.6M495.88 71.23h.6M497.04 70.34h.6M486.73 68.51h.6M501.52 68.59h.6M486.4 69.08h.6M505.98 67.28h.6M495.49 61.55h.6M491.67 69.32h.6M505.43 69.91h.6M491.59 71.44h.6M493.35 68.88h.6M504.09 69.29h.6M501.55 69.89h.6M487.05 56.82h.6M499.73 71.99h.6M494.24 68.03h.6M489.99 74.79h.6M502.61 67.96h.6M491.04 64.27h.6M492.84 65.81h.6M491.36 75.7h.6M494.2 73.47h.6M490 68.56h.6M488.5 73.82h.6M497.86 72.02h.6M493.22 72.85h.6M505.77 69.46h.6M502.89 67.24h.6M504.77 66.37h.6M498.59 77.29h.6M497.08 75.79h.6M498.96 66.47h.6M504.74 68.22h.6M486.15 70.83h.6M500.46 61.22h.6M505.45 71.99h.6M491.1 72.09h.6M486.43 75.83h.6M488.02 73.63h.6M494.83 71.95h.6M489.92 67.35h.6M502.65 63.24h.6M496.93 70.47h.6M500.57 62.23h.6" stroke="#666" stroke-width="0.6" fill="none"/>
<path d="M461.01 39.11h.65M466.79 55.17h.65M460.11 96.64h.65M452.38 22.84h.65M449.28 44.58h.65M458.03 96.47h.65M475.28 106.14h.65M472.94 92.89h.65M453.09 45.07h.65M458.38 102.6h.65M452.1 101.42h.65M461.2 96.43h.65M464.44 115.57h.65M478.92 92.33h.65M458.17 41.71h.65M468.49 89.11h.65M468.26 55.22h.65M450.94 96.25h.65M471.07 50.69h.65M456.65 44.45h.65M448.39 38.72h.65M461.31 95.12h.65M463.79 92.04h.65M459.51 49.21h.65M454.6 33.76h.65M492.99 59.23h.65M474.98 98.33h.65M469.08 50.86h.65M474.91 57.99h.65M471.35 99.37h.65M460.13 99.13h.65M459.42 108.69h.65M468.47 54.07h.65M471.21 89.73h.65M466.78 93.55h.65M461.72 94.65h.65M462.54 107.11h.65M480.99 59.72h.65M476.81 91.06h.65M480.26 46.19h.65M453.65 42.76h.65M474.25 95.3h.65M470.65 98.05h.65M464.96 48.34h.65M454.27 41.37h.65M474.1 94.61h.65M474 89.29h.65M459.96 44.94h.65M481.99 61.87h.65M470.35 57.78h.65M445.36 99.88h.65M469.49 36.42h.65M478.16 87.72h.65M464.66 48.61h.65M475.31 91.26h.65M437.38 35.62h.65M474.14 59.82h.65M466.75 102.58h.65M476.16 83.29h.65M478.65 97.76h.65M482.87 48.83h.65M454.59 114.8h.65M467.37 102.26h.65M458.93 109.12h.65M469.53 96.59h.65M460.96 38.21h.65M453.76 46.38h.65M468.72 46.74h.65M477.21 43.1h.65M472.88 43.9h.65M494.17 74.36h.65M483.63 46.33h.65M481.22 38.93h.65M455.26 116.57h.65M478.97 51.78h.65M474.78 56.97h.65M450.95 102.82h.65M466.2 96.06h.65M447.36 95.9h.65M462.01 42.24h.65M464.86 108.57h.65M443.02 95.12h.65M437.15 45.8h.65M455.63 101.23h.65M464.53 47.23h.65M466.25 37.93h.65M456.08 103.79h.65M463.71 44.7h.65M449.51 40.97h.65M479.33 60.81h.65M454.26 100.1h.65M488.99 84.46h.65M451.47 38.11h.65M470.37 57.28h.65M457.55 48.15h.65M475.29 84.99h.65M461.13 32.22h.65M486.43 81.83h.65M473.96 93.35h.65M479.77 58.12h.65M469.08 97.12h.65M462.35 40.78h.65M479.87 81.77h.65M488.47 88.21h.65M470.01 40.16h.65M474.5 39.62h.65M472.25 52.06h.65M459.31 44.01h.65M452.17 98.54h.65M487.9 59.66h.65M451.2 99.38h.65M471.37 46.32h.65M465.68 50.53h.65M469.15 55.11h.65M440.69 46.93h.65M467.67 92.06h.65M458.82 35.24h.65M451.11 29.41h.65M469.93 88.59h.65M459.53 47.71h.65M448.32 27.29h.65M476.13 56.74h.65M490.58 85.72h.65M462.25 96.8h.65M474.4 90.64h.65M480.86 92.67h.65M458.79 114.46h.65M482.15 52.64h.65M461.86 93.74h.65M461.62 109.59h.65M449.3 105.33h.65M478.16 29.29h.65M468.42 40.32h.65M470.85 86.88h.65M468.84 56.86h.65M456.52 96.81h.65M484.42 55.59h.65M468.91 95.85h.65M474.4 58.48h.65M486.53 89.05h.65M472.52 91h.65M464.33 93.84h.65M468.65 56h.65M479.85 57.48h.65M481.78 89.6h.65M482.15 97.69h.65M478.31 54.26h.65M466.7 100.62h.65M457.69 40.48h.65M485.29 51.32h.65M451.88 32.41h.65M463.1 40.09h.65M478.07 94.83h.65M475.38 51.55h.65M451.46 99.28h.65M459.7 47.93h.65M464.49 95.53h.65M476.41 87.34h.65M465.98 48.79h.65M476.31 34.27h.65M485.8 46.08h.65M472.65 94.46h.65M480.87 92.64h.65M458.37 99.2h.65M447.54 97.13h.65M470.35 90.56h.65M457.9 95.44h.65M477.39 91.2h.65M464.73 47.33h.65M485.21 63.27h.65M459 46.87h.65M445.44 100.76h.65M463.32 35.41h.65M484.25 81.32h.65M447.08 38.18h.65M471.1 57.59h.65M458.65 39.49h.65M462.44 48.65h.65M479.27 58.06h.65M459.54 95.02h.65M472.25 53.21h.65M475.89 92.55h.65M460.84 34.92h.65M443.44 37.8h.65M456.15 97.74h.65M469.72 47.79h.65M478.72 54.88h.65M474.43 93.8h.65M463.08 43.58h.65M486.42 46.25h.65M465.49 36.91h.65M451.06 109.84h.65M486.26 94.09h.65M457.27 96.71h.65M478.62 82.46h.65M475.21 88.45h.65M482.07 85.16h.65M492.62 76.89h.65M468.49 43.04h.65M468.85 34.73h.65M466.71 55.56h.65M481.8 95.54h.65M466.86 91.05h.65M481.39 89.22h.65M462.26 105.04h.65M468.19 41.84h.65M456.87 97.86h.65M474.54 55.69h.65M460.88 45.16h.65M464.73 24.57h.65M459.36 44.42h.65M465.33 51.15h.65M462.32 39.97h.65M464.93 49.03h.65M463.09 45.89h.65M445.32 37.9h.65M469.79 47.06h.65M481.59 48.55h.65M481.33 55.61h.65M476.09 83.45h.65M476.29 96.14h.65M469.79 99.59h.65M482.17 80.47h.65M454.15 113.01h.65M477.31 90.56h.65M466.51 97.3h.65M472.59 52.74h.65M459.44 98.85h.65M451.68 35.92h.65M459.66 110.95h.65M471.39 45.31h.65M468.76 44.43h.65M452.72 40.75h.65M474.28 53.93h.65M473.38 100.72h.65M479.19 54.42h.65M475.19 47.14h.65M473.81 95.87h.65M481.12 56.16h.65M481.72 82.65h.65M469.29 53.72h.65M463.43 100.53h.65M470.52 93.72h.65M453.84 112.29h.65M477.4 48.02h.65M485.2 58.62h.65M452.29 106.78h.65M474.31 52.96h.65M482.23 79.87h.65M466.58 97.3h.65M486.78 101.51h.65M470.22 93h.65M464.9 48.41h.65M446.09 43.34h.65M477.95 48.13h.65M462.45 111.82h.65M485.93 56.89h.65M478.92 52.47h.65M443.43 38.44h.65M476.85 85.96h.65M480.53 44.13h.65M447.55 101.79h.65M472.83 51.61h.65M451.9 96.85h.65M462.29 97.6h.65M489.23 87.03h.65M462.23 50.25h.65M486.65 45.46h.65M455.54 34.16h.65M449.8 39.38h.65M465.93 44.63h.65M464.16 103.5h.65M476.64 54.79h.65M473.37 56.92h.65M489 80.66h.65M461.06 39.56h.65M470.35 94.47h.65M478.73 44.63h.65M486.09 55.7h.65M482.25 46.67h.65M474.86 53.46h.65M492 58.3h.65M465.84 53.7h.65M454.44 36.88h.65M450.7 103.95h.65M470.52 57.76h.65M467.43 95.42h.65M473.04 105.46h.65M469.52 45.5h.65M444.31 40.37h.65M463.68 95.67h.65M477.05 98.5h.65M483.29 78.75h.65M469 49.5h.65M481.94 48.61h.65M456.77 48.06h.65M461.92 49.64h.65M455.45 44.67h.65M467.71 97.51h.65M472.65 91.49h.65M473.65 46.05h.65M489.43 81.21h.65M476.78 58.13h.65M456.88 42.08h.65M467.74 44.46h.65M473.59 93.02h.65M462.21 93.58h.65M460.61 94.46h.65M467.27 53.92h.65M458.75 46.17h.65M471.39 109.4h.65M486.54 56.27h.65M452.3 99.79h.65M460.68 100.83h.65M474.19 89.75h.65M484.22 50.67h.65M475.66 51.38h.65M448.08 100.97h.65M491.83 81.19h.65M466.29 31.99h.65M480.23 60.21h.65M456.93 40.59h.65M470.12 106.6h.65M466.93 42.93h.65M451.21 36.19h.65M463.97 101.88h.65M480.34 43.46h.65M464.84 43.05h.65M472.69 89.56h.65M478.19 83.26h.65M472.46 92.25h.65M460.55 40.67h.65M463.66 102.42h.65M476.37 103.12h.65M482.56 82.58h.65M486.66 83.25h.65M473.1 90.49h.65M471.89 88.14h.65M479.54 55.96h.65M444.89 45.55h.65M466.76 92.63h.65M456.62 103.05h.65M466.01 92.48h.65M475.67 107.64h.65M470.29 44.43h.65M466.66 94.83h.65M489.98 76.5h.65M473.14 51.3h.65M481.61 80.92h.65M467.64 50.5h.65M479.94 59.94h.65M456.51 97.67h.65M452.78 41.17h.65M481.7 80.02h.65M459.54 96.81h.65M448.03 101.39h.65M479.87 89.48h.65M465.03 39.89h.65M471.92 57.19h.65M457.3 97.22h.65M453.18 100.96h.65M463.18 108.62h.65M479.93 83.03h.65M482.41 56.23h.65M463.16 51.22h.65M470.24 44.11h.65M464.18 107.24h.65M459.03 97.33h.65M480.91 86.7h.65M469.64 44.31h.65M472.17 85.67h.65M466.4 54.56h.65M467.23 54.25h.65M463.04 94.34h.65M473.91 93.24h.65M464.65 95.69h.65M469.51 91.24h.65M451.28 39.67h.65M443.06 97.82h.65M436.32 36.28h.65M486.55 58.24h.65M463.95 50.22h.65M464.51 43.7h.65M457.6 99.88h.65M473.47 57.19h.65M494.11 81.03h.65M465.25 52.15h.65M488.1 64.03h.65M480.73 55.69h.65M459.68 109.69h.65M471.63 51.78h.65M478.17 58.46h.65M458.06 40.92h.65M461.56 93.98h.65M454.5 41.43h.65M476.83 82.43h.65M486.5 55.4h.65M465.99 93.64h.65M472.26 36.85h.65M456.97 34.03h.65M464.02 107.26h.65M440.52 32.51h.65M474.99 46.8h.65M447.31 34.09h.65M487.35 85.72h.65M447.59 96.09h.65M492.91 65.02h.65M465.27 52.01h.65M471.11 108.67h.65M461.59 113.23h.65M477.71 83.59h.65M460.84 51.09h.65M464.64 47.78h.65M454.86 102.85h.65M462.72 44.18h.65M464.22 96.87h.65M467.14 95.44h.65M476.09 53.97h.65M488.39 86.18h.65M483.89 60.4h.65M463.05 98.02h.65M457.55 49.32h.65M483.9 95.13h.65M456.51 38.53h.65M447.53 34.4h.65M485.69 99.64h.65M466.24 91.19h.65M456.31 101.45h.65M458.34 97.15h.65M464.89 106.17h.65M455.33 38.15h.65M485.46 82.71h.65M478.86 85.56h.65M445.74 43.33h.65M466.03 46.69h.65M456.1 44.96h.65M465.85 103.04h.65M471.65 100.95h.65M468.65 29.13h.65M467.66 95.29h.65M463.71 43.28h.65M465.15 47.84h.65M474.03 50.8h.65M472.52 84.77h.65M475.95 83.84h.65M472.61 49.53h.65M468.26 97.93h.65M446.6 26.73h.65M496.14 77.33h.65M498.58 51.99h.65M469.33 45.96h.65M449.23 43.22h.65M461.13 41.05h.65M473.73 52.62h.65M494.68 56.42h.65M464.36 52.53h.65M483.56 84.82h.65M471.68 51.24h.65M457.2 112.71h.65M495.01 75.63h.65M483.2 95.25h.65M450.84 102.69h.65M468.05 101.14h.65M483.13 56.7h.65M475.63 53.37h.65M482.46 53.44h.65M466.28 96h.65M481.97 91.34h.65M471.84 90.3h.65M460.1 27.67h.65M461.85 103.3h.65M468.75 46.71h.65M473.99 103.24h.65M464.56 104.79h.65M451.73 99.87h.65M477.23 56.08h.65M466.07 54.87h.65M478.69 60.1h.65M475.89 52.23h.65M471.35 86.26h.65M449.47 39.05h.65M473.07 107.66h.65M477.1 88.5h.65M490.19 75.99h.65M478.15 88.93h.65M450.61 30.93h.65M470.99 44.21h.65M458.01 39.09h.65M441.48 91.71h.65M455.9 44.26h.65M465.41 107.7h.65M483.16 91.94h.65M472.73 86.37h.65M467.44 49.03h.65M484.32 97.04h.65M465.34 36.78h.65M453.69 98.42h.65M468.47 89.56h.65M474.89 49.68h.65M462.94 96.68h.65M468.25 53.82h.65M440.47 90.97h.65M475.84 89.72h.65M452.75 114.53h.65M455.87 29.33h.65M460.78 99.83h.65M473.51 85.9h.65M452.84 37.09h.65M494.17 79.11h.65M476.94 105.3h.65M458.98 48.2h.65M446.79 97.34h.65M474.5 86.73h.65M464.92 93.02h.65M458.04 47.75h.65M458.11 104.39h.65M470.35 89.75h.65M470.24 93.91h.65M469.15 102.82h.65M480.21 53.68h.65M480.6 86.95h.65M485.76 100.57h.65M477.4 55.3h.65M463.38 97.9h.65M466.14 101.82h.65M465.22 95.53h.65M462.69 30.82h.65M462.6 37.37h.65M470.17 93.92h.65M465.63 44.94h.65M467.58 89.37h.65M472.55 50.86h.65M476.41 54.47h.65M461.92 95.13h.65M449.1 44.55h.65M453.03 42.77h.65M483.68 82.38h.65M469.32 96.73h.65M469.93 91.22h.65M466.41 107.36h.65M442.14 98.61h.65M483.36 85.43h.65M449.8 110.99h.65M457.11 39.86h.65M468.57 91.97h.65M472.68 101.61h.65M476.51 59.56h.65M452.84 105.65h.65M462.65 102.66h.65M476.37 47.9h.65M471.43 53.15h.65M469.57 48.59h.65M471.52 97.51h.65M496.23 73.99h.65M477.64 45.23h.65M454.8 44.15h.65M468.69 102.2h.65M483.96 91.7h.65M464.23 91.15h.65M465.55 97.31h.65M465.69 38.91h.65M476.04 57.07h.65M463.17 103.65h.65M472.88 111.68h.65M491.85 83.34h.65M451.84 42.89h.65M456.04 40.11h.65M448.37 117.16h.65M446.94 117.66h.65M472.18 52.7h.65M442.39 33.86h.65M473.42 103.11h.65M462.61 50.08h.65M467.11 89.86h.65M472.98 86.4h.65M457.96 102.97h.65M464.39 91.14h.65M465.91 98.99h.65M464.19 47.4h.65M462.22 36.25h.65M463.67 107.99h.65M474.24 56.76h.65M442.68 37.69h.65M462.32 45.22h.65M458.18 96.1h.65M475.15 88.2h.65M473.69 52.39h.65M456.66 46.02h.65M463.47 96.13h.65M438.28 92.32h.65M459.86 45.19h.65M470.56 96.56h.65M481.06 80.05h.65M472.98 89.66h.65M452.64 112.58h.65M467.93 91.1h.65M482.83 90.87h.65M477.6 94.81h.65M473.56 91.25h.65M448.8 105.81h.65M456.97 43.22h.65M472.42 31.48h.65M446.99 39.84h.65M440.03 41.9h.65M468.97 92.39h.65M467.34 54.59h.65M463.89 95.81h.65M464.54 91.36h.65M453.94 107.08h.65M460.43 46.91h.65M477.64 83.62h.65M477.79 87.58h.65M451.55 41.35h.65M475.04 48.56h.65M440.03 92.93h.65M438.42 93.2h.65M481.17 44.23h.65M465.81 47.07h.65M467.15 108.17h.65M458.51 102.62h.65M478.51 83.52h.65M465.89 51h.65M461.48 99.61h.65M469.71 44.35h.65M450.36 101.82h.65M444.98 101.24h.65M477.86 96.03h.65M471.29 92.37h.65M460.06 31.92h.65M449 113.31h.65M481.02 53.2h.65M465.22 53.05h.65M469.01 42.58h.65M468.75 48.53h.65M455.78 44.59h.65M451.1 40.38h.65M478.75 106.12h.65M465.66 108.51h.65M453.41 97.83h.65M498.07 74.85h.65M463.61 94.75h.65M470.01 53.2h.65M477.02 49.81h.65M459.76 96.99h.65M460.78 105.83h.65M473.29 85.66h.65M476.3 59.25h.65M480.12 88.63h.65M448.6 102.49h.65M463.7 47.52h.65M489.45 60.76h.65M474.35 102.87h.65M474.92 88.76h.65M461.64 102.27h.65M453.77 38.23h.65M463.78 112.62h.65M448.82 99.2h.65M474.86 53.99h.65M474.27 53.3h.65M457.19 116.26h.65M488.93 62.16h.65M456.92 23.64h.65M484.29 88.98h.65M469.9 102.65h.65M460.25 47.47h.65M487.94 55.81h.65M484.13 82.45h.65M472.79 33.24h.65M475.39 54.47h.65M452.19 28.22h.65M476.06 88.91h.65M467.83 47.31h.65M492.31 48.31h.65M462.8 49.1h.65M439.91 94.07h.65M479.27 35.96h.65M483.33 86.76h.65M460.43 115.23h.65M473.06 84.99h.65M462.09 101.19h.65M454.51 38.41h.65M462.79 47.2h.65M475.28 83.88h.65M468.66 48.32h.65M466.15 48.54h.65M463.79 47.01h.65M483.49 52.52h.65M471.12 88.52h.65M468.57 56.53h.65M457.92 107.54h.65M464.17 104.17h.65M460.32 97.24h.65M444.26 103.2h.65M492.36 81.9h.65M461.23 94.4h.65M455.04 104.27h.65M438 99.23h.65M455.72 97.84h.65M452.24 23.57h.65M483.05 56.34h.65M467.64 44.65h.65M457.38 107.03h.65M462.74 95.26h.65M477.27 89.26h.65M480.7 59.56h.65M487.54 94.43h.65M471.4 44.96h.65M438.98 95.81h.65M469.29 97.11h.65M497.5 76.05h.65M478.09 91.68h.65M476.93 55.46h.65M466.41 53.61h.65M443.52 24.1h.65M467.45 44.31h.65M448.76 107.88h.65M459.27 48.75h.65M468.97 53.64h.65M461.67 36.71h.65M466.15 43.8h.65M457.78 44.31h.65M455.26 45.17h.65M486.84 82.02h.65M498.61 61.84h.65M483.3 82.99h.65M453.07 43.81h.65M486.16 77.87h.65M447.96 32.81h.65M482.73 94.24h.65M461.42 100.37h.65M460.49 101.37h.65M489.76 62.7h.65M465.4 39.6h.65M483.57 63.17h.65M476.51 58.75h.65M480.79 61.56h.65M460.99 51.19h.65M480.44 94.36h.65M444.93 97.83h.65M454.2 98.22h.65M439.15 44.36h.65M458.1 39.12h.65M456.97 40.73h.65M476.79 56.98h.65M456.58 45.92h.65M460.58 49.93h.65M466.19 90.92h.65M460.67 96.95h.65M455.15 31.16h.65M451.72 31.19h.65M458.56 39.49h.65M479.07 88.17h.65M473.46 30.88h.65M463.48 49.39h.65M472.2 54.58h.65M465.56 44.25h.65M462.86 51.69h.65M448.59 43.59h.65M471.83 38.6h.65M486.12 83.02h.65M471.5 47.13h.65M461.18 47.29h.65M467.24 49.88h.65M446.91 96.28h.65M468.51 104.79h.65M468.07 57.15h.65M486.21 60.91h.65M474.24 91.79h.65M467.65 53.29h.65M458.45 26.74h.65M488.84 59.35h.65M471.33 35.94h.65M468.79 54.67h.65M476.92 84.49h.65M475.07 87.87h.65M474.98 56.41h.65M466.11 37.84h.65M450.92 45.79h.65M486.64 57.17h.65M471.11 54.6h.65M479.7 55.38h.65M477.32 60.42h.65M449.72 106.39h.65M452.25 34.75h.65M457.65 43.08h.65M476.75 51.75h.65M465.76 94.05h.65M458.96 110.63h.65M466.34 54.46h.65M453.22 113.98h.65M474.84 85.21h.65M462.08 98.72h.65M461.62 45.09h.65M482.89 42.34h.65M455.74 44.45h.65M481.79 50.77h.65M478.2 56.65h.65M478.12 88.84h.65M473.32 96.34h.65M468.82 91.18h.65M481.48 46.67h.65M483.74 62.64h.65M474.97 45.18h.65M465.82 113.48h.65M462.31 93.79h.65M462.75 97.5h.65M466.47 101h.65M482.91 84.27h.65M467.68 87.75h.65M485.52 52.92h.65M438.24 90.64h.65M474.68 55.57h.65M446.32 41.97h.65M479.33 53.76h.65M467.97 39.79h.65M479.21 85.39h.65M462.07 104.12h.65M479.65 88.73h.65M462.24 45.08h.65M486.91 90.58h.65M489.76 81.92h.65M457.05 45.28h.65M454.23 97.89h.65M467.92 52.81h.65M462.63 44.77h.65M473.4 55.68h.65M484.5 91.51h.65M465.48 45.57h.65M479.76 90.5h.65M466.38 96.96h.65M473.89 47.84h.65M485.59 55.32h.65M464.2 48.52h.65M454.87 46.07h.65M470.74 103.01h.65M452.86 99.56h.65M470.01 91.28h.65M473.63 44.82h.65M458.32 96.05h.65M476.13 84.46h.65M484.16 54.93h.65M468.07 98.34h.65M450.86 103.45h.65M487.61 80.38h.65M474.54 94.93h.65M461.28 44.46h.65M465.85 94.8h.65M476.29 87.39h.65M489.76 51.69h.65M463.33 43.28h.65M490.38 63.44h.65M457.47 100.96h.65M478.97 91.65h.65M482.5 53.85h.65M479.37 47.58h.65M470.62 94.49h.65M471.95 84.26h.65M443.3 95.29h.65M480.35 89.4h.65M478.25 86.14h.65M449.12 43.44h.65M474.07 54.73h.65M448.61 105.11h.65M472.16 86.65h.65M450.82 42.02h.65M438.01 41.36h.65M455.83 109.94h.65M456.44 38.01h.65M473.3 47.92h.65M468.89 94.55h.65M479.62 87.73h.65M484.05 88.62h.65M466.45 97.88h.65M465.81 92.24h.65M469.9 99.19h.65M453.09 97h.65M482.44 58.66h.65M438.03 38.9h.65M483.61 61.81h.65M483.48 45.67h.65M464.82 45.5h.65M466.04 95.15h.65M477.46 60.17h.65M462.48 48.08h.65M474.07 98.16h.65M481.21 80.25h.65M448.69 30.48h.65M458.6 48.03h.65M469.83 55.97h.65M452.32 106.38h.65M450.52 37.14h.65M477.92 57.24h.65M462.32 51.98h.65M467.07 56.13h.65M453.3 106.42h.65M487.45 57.22h.65M462.12 94.05h.65M481.26 90.45h.65M465.52 51.92h.65M470.66 47.64h.65M448.95 33.6h.65M450.33 108.89h.65M475.22 52.49h.65M473.86 51.21h.65M471.97 87.73h.65M446.73 25.97h.65M466.33 93.6h.65M484.16 53.04h.65M463.69 95.38h.65M488.05 79.87h.65M470.26 89.74h.65M475.18 83.68h.65M461.94 98.91h.65M483.63 47.89h.65M462.08 40.35h.65M469.18 37.3h.65M484.9 59.36h.65M444.6 42.31h.65M479.88 101.13h.65M477.47 98.26h.65M485.29 79.1h.65M480.94 79.91h.65M472.2 38.36h.65M491.72 50.57h.65M459.93 108.52h.65M479.45 80.06h.65M465.79 101.21h.65M455.61 36.11h.65M463.26 51.41h.65M479.67 82.76h.65M460.29 45.19h.65M477.1 89h.65M466.26 106.1h.65M462.99 30.91h.65M490.36 61.91h.65M467.21 92.73h.65M478.35 48.58h.65M477.56 84.17h.65M472.83 93.36h.65M457.86 42.95h.65M473.47 98.1h.65M475.71 97.68h.65M468.53 91.97h.65M461.51 51.68h.65M482.83 61.56h.65M452.87 105.98h.65M496.64 77.24h.65M464.78 95.75h.65M445.39 104.75h.65M479.38 51.66h.65M453.69 106.28h.65M466.97 43.3h.65M495.67 45.01h.65M467.39 90.05h.65M468.28 51.55h.65M469.57 113.57h.65M467.72 94.51h.65M444.25 30.64h.65M463.02 51.65h.65M477.33 58.93h.65M458.02 94.24h.65M464.78 100.31h.65M464.3 94.38h.65M473.5 43.06h.65M478.3 35.07h.65M471.33 93.17h.65M495.65 44.49h.65M485.01 60.9h.65M482.54 86.96h.65M464.5 44.98h.65M453.01 108.39h.65M469.1 53.18h.65M471.81 97.72h.65M465.76 101.98h.65M458.34 104.19h.65M455.6 45.16h.65M474.86 83.71h.65M471.21 87.93h.65M465 40.74h.65M456.84 99.82h.65M478.54 99.54h.65M472.31 84.96h.65M466.81 53.66h.65M471.79 48.26h.65M466.38 90.72h.65M488.91 55.56h.65M451.75 99.13h.65M460.68 37.3h.65M455.59 32.4h.65M458.25 43.74h.65M456.61 31.26h.65M471.36 41.17h.65M447.34 105.64h.65M487.74 80.25h.65M460.32 95.63h.65M478.36 56.88h.65M458.19 98.69h.65M457.34 95.42h.65M440.11 38.32h.65M472.76 89.84h.65M467.05 55.96h.65M487.66 64.19h.65M471.49 89.41h.65M474.41 56.65h.65M485.92 61.88h.65M456.16 39.17h.65M479.59 87.95h.65M463.96 108.98h.65M472.69 85.35h.65M465.2 101.91h.65M468.18 98h.65M480.49 55.67h.65M451.2 106.49h.65M438.46 36.66h.65M478.96 87.42h.65M469.62 89.02h.65M456.63 26.82h.65M492.63 80.83h.65M457.57 44.14h.65M477.98 57.79h.65M445.81 44.34h.65M483.2 34.89h.65M463.19 50.53h.65M471.16 109.1h.65M478.16 51.45h.65M479.05 54.87h.65M461.46 101.34h.65M493.27 83.94h.65M456.86 41.23h.65M458.22 38.24h.65M449.33 41.9h.65M459.64 97.3h.65M465.07 49.95h.65M448.35 104.48h.65M471.88 99.62h.65M468.32 102.66h.65M455.35 109.65h.65M472.45 96h.65M470.77 86.91h.65M455.62 32.7h.65M437.13 33.73h.65M466.23 51.47h.65M448.42 111.43h.65M486.12 58.16h.65M478.22 85.5h.65M475.17 54.59h.65M459.13 100.85h.65M472.16 55.27h.65M478.42 83.31h.65M484.39 47.29h.65M456.89 45.1h.65M481.41 87.93h.65M486.09 83.26h.65M471.29 53.02h.65M467.45 97.58h.65M465.83 98.96h.65M468.2 96.28h.65M457.38 46.28h.65M471.35 98.48h.65M477.32 83.03h.65M468.25 52.18h.65M461.48 104.84h.65M445.92 41.26h.65M469.85 48.87h.65M475.3 89.04h.65M483.74 57.21h.65M462.16 101.11h.65M456.3 47.36h.65M445.52 110.05h.65M468.49 25.99h.65M445.71 43.05h.65M460.45 105.19h.65M450.76 36.35h.65M488.95 61.91h.65M459.31 39.24h.65M459.39 114.32h.65M470.9 94.82h.65M466.65 93.44h.65M451.98 110.35h.65M489.08 50.59h.65M462.3 50.75h.65M457.53 99.79h.65M461.41 101.94h.65M483.71 60.11h.65M459.02 48.41h.65M469.5 93.46h.65M468.38 94.98h.65M456.42 36.96h.65M462.64 47.23h.65M471.15 93.9h.65M473.65 92.97h.65M472.39 44.06h.65M460.26 38.58h.65M462.18 105.88h.65M471.33 42.42h.65M482.15 84.49h.65M448.92 32.01h.65M462.31 49.48h.65M470.65 99.68h.65M479.31 39.36h.65M475.86 94.84h.65M471.67 89.74h.65M467.75 92.72h.65M472.65 88.39h.65M490.45 62.38h.65M497.26 65.92h.65M468 55.04h.65M464.95 49.15h.65M480.9 84.25h.65M450.75 39.08h.65M446.37 38.77h.65M460.47 102.77h.65M456.66 109.36h.65M462.53 50.06h.65M467.33 52.09h.65M465.31 95.11h.65M482.83 85.42h.65M477.74 87.96h.65M465.98 42.58h.65M459.54 100.2h.65M452.94 44.43h.65M459.96 94.64h.65M450.85 101.56h.65M468.09 50.47h.65M470.41 52.42h.65M452.94 46.08h.65M467.98 52.53h.65M457.61 103.9h.65M467.5 88.66h.65M454.4 30.07h.65M482.61 85.06h.65M489.13 91.04h.65M460.48 93.29h.65M486.41 40.98h.65M489.08 91.63h.65M465.5 48.56h.65M446.42 35.26h.65M463.72 94.08h.65M471.02 99.32h.65M479.17 55.79h.65M473 58.07h.65M473.54 86.61h.65M461.7 43.93h.65M458.09 104.88h.65M462.59 95.82h.65M486.11 77.64h.65M465.08 36.64h.65M471.55 103.66h.65M440.56 94.8h.65M467.15 52.16h.65M468.73 94.98h.65M479.22 82.66h.65M464.45 50.54h.65M466.88 89.42h.65M488.17 94.14h.65M483.83 57.79h.65M455.45 115.93h.65M475.37 57.91h.65M457.31 94.62h.65M466.04 94.39h.65M483.45 55.94h.65M461.27 23.81h.65M463.73 33.64h.65M485.97 78.77h.65M471.85 90.84h.65M477.84 88.42h.65M483.18 86.66h.65M470.08 45.11h.65M467.98 95.82h.65M456.29 113.17h.65M452.72 46.03h.65M471.18 54.09h.65M476.41 55.07h.65M477.24 81.7h.65M465.53 44.06h.65M473.9 54.08h.65M446.25 104.79h.65M470.88 107.78h.65M465.38 44.29h.65M481.2 54.9h.65M471.23 100.03h.65M457.56 100.91h.65M454.41 102.64h.65M475.69 57.53h.65M452.57 98.95h.65M466.22 45.25h.65M452.77 99.42h.65M477.45 49.4h.65M485.05 99.73h.65M460.98 42.5h.65M465.64 95.37h.65M463.93 95.35h.65M448.95 109.16h.65M464.3 50.87h.65M470.8 50.46h.65M489.76 82.54h.65M446.73 45.36h.65M472.88 39.48h.65M466.58 107.21h.65M486.05 61.85h.65M458.71 42.02h.65M460.37 46.87h.65M475.94 42.68h.65M469.11 90.07h.65M478.52 88.53h.65M461.29 96.91h.65M468.73 92.42h.65M469.04 44.94h.65M472.5 53.32h.65M476.7 49.71h.65M460.05 112.71h.65M456.46 48.72h.65M467.07 89.53h.65M474.09 108.27h.65M439.55 99.71h.65M476.74 56.78h.65M478.54 40.28h.65M481.35 51.27h.65M476.42 58.4h.65M473.45 99.94h.65M475.34 88.07h.65M461.78 94.62h.65M459.55 46.2h.65M470.74 54.31h.65M479.14 54.99h.65M483.86 97.74h.65M469.4 88.38h.65M445.98 43.94h.65M465.38 51.18h.65M472.41 47.96h.65M462.81 43.91h.65M467.53 34.21h.65M457.05 32.84h.65M478.35 82.94h.65M444.25 103.31h.65M439.84 47.67h.65M493.63 66.29h.65M461.41 94.93h.65M449.61 110.74h.65M444.94 34.19h.65M467.12 48.02h.65M465.5 53.46h.65M482.81 84.88h.65M485.89 91.8h.65M445.42 103.7h.65M463.39 44.76h.65M457.16 48.24h.65M453.09 99.93h.65M462.03 47.92h.65M479.95 84.31h.65M461.52 25.97h.65M444.67 46.69h.65M466.43 51.4h.65M464.44 39.33h.65M454.47 45.7h.65M472.49 51.07h.65M470.36 87.28h.65M481.19 87.91h.65M441.96 45.05h.65M477.37 29.09h.65M462.94 99.65h.65M475.09 51.07h.65M463.45 98.78h.65M469.41 96.97h.65M455.86 47.94h.65M462.69 101.18h.65M458.17 40.1h.65M477.59 52.6h.65M479.02 94.16h.65M459.61 106.97h.65M461.45 101.65h.65M468.76 87.7h.65M463.34 44.01h.65M472.32 48.44h.65M473.05 54.52h.65M491.18 76.21h.65M458.2 42.59h.65M456.44 36.72h.65M462.64 95.16h.65M477.61 60.01h.65M465.35 25.67h.65M466.23 93.97h.65M472.88 44.72h.65M484.92 61.54h.65M480.73 51.36h.65M472.8 51.74h.65M466.06 39.63h.65M458.81 110.48h.65M489.4 82.88h.65M448.52 34.6h.65M465.85 109.05h.65M465.47 51.23h.65M448.36 27.41h.65M462.16 49.16h.65M470.74 104.24h.65M455.38 46.43h.65M468.62 102.25h.65M473.03 88.2h.65M480.53 79.97h.65M474.91 95.84h.65M456.33 42.94h.65M453.46 37.02h.65M469.84 100.9h.65M457.7 105.87h.65M489.6 90.42h.65M480.01 87.27h.65M450.06 46.05h.65M468.3 40.53h.65M493.42 94.72h.65M486.39 85.44h.65M458.57 45.21h.65M452.83 102.71h.65M471.3 89.25h.65M475.97 59.55h.65M478.91 84.15h.65M452.91 114.15h.65M472.47 89.2h.65M474.11 88.37h.65M451.07 101.4h.65M450.14 99.02h.65M450.9 41.38h.65M457.3 42.83h.65M479.94 84.15h.65M480.43 56.69h.65M476.65 82.79h.65M472.26 52.15h.65M469.66 47.29h.65M473.92 56.26h.65M470.99 89.46h.65M467.75 96.39h.65M460.86 50.46h.65M478.32 81.22h.65M468.53 51.66h.65M444.71 96.06h.65M465.23 105.76h.65M498.87 59.1h.65M450.71 32.98h.65M463.81 97.43h.65M483.43 86.18h.65M470.49 46.44h.65M482.35 90.11h.65M470.16 100.64h.65M459.13 41.38h.65M467.76 49.22h.65M475.32 50.72h.65M462.86 105.75h.65M471.06 86.69h.65M468.66 53.99h.65M488.56 62.09h.65M469.24 42.07h.65M466.14 91.26h.65M452.68 38.82h.65M472.34 101.74h.65M459.16 38.28h.65M463.13 39.81h.65M468.88 52.64h.65M465.59 107.21h.65M486.35 58.31h.65M445.86 97.27h.65M458.15 45.6h.65M465.66 90.79h.65M447.55 42.72h.65M488.05 96.76h.65M472.68 52.6h.65M463.04 51.26h.65M479.1 58.67h.65M472.41 92.93h.65M468.47 48.98h.65M470.76 92.77h.65M436.82 89.32h.65M480.84 89.78h.65M465.29 46.25h.65M463.43 95.74h.65M470.73 90.72h.65M473.54 92.83h.65M456.6 100.12h.65M458.88 104.34h.65M450.79 104.04h.65M473.64 85.74h.65M473.94 55.52h.65M488.84 91.5h.65M467.75 41.38h.65M484.36 55.91h.65M469.78 45.94h.65M468.66 51.28h.65M471.51 42.48h.65M480.09 81.49h.65M489.15 53.8h.65M466.95 55.68h.65M476.79 56.44h.65M471.55 91.08h.65M460.41 106.1h.65M476.26 83.41h.65M474.77 46.18h.65M470.99 40.18h.65M485.48 57.38h.65M487.12 78.23h.65M451.75 104.85h.65M467.46 97.32h.65M464.25 108.2h.65M463.42 106.27h.65M450.55 115.28h.65M466.01 90.44h.65M467.14 88.87h.65M477.29 35.44h.65M481.99 55.54h.65M438.06 89.51h.65M458.85 36.81h.65M456.69 34.91h.65M463.2 50.59h.65M479.39 84.88h.65M492.37 64.09h.65M466.59 45.32h.65M474.85 51.46h.65M460.15 39.54h.65M465.08 52.83h.65M473.52 51.7h.65M461.46 48.11h.65M448.74 111.4h.65M470.38 98.58h.65M476.03 107.63h.65M467.47 52.91h.65M471.71 46.51h.65M462.57 45.73h.65M471.5 51.13h.65M456.99 103.6h.65M481.76 60.98h.65M483.71 61.86h.65M465.13 34.51h.65M459.12 96.15h.65M479.08 93.18h.65M456.75 107.47h.65M485.53 87.65h.65M475.52 86.54h.65M465.26 52.34h.65M474.87 55.18h.65M464.28 46.17h.65M456.05 103.55h.65M462.21 93.72h.65M471.78 55.98h.65M484.27 62.9h.65M486.69 84.12h.65M461.59 92.51h.65M470.01 56.94h.65M485.2 56.5h.65M463.86 101.48h.65M442.74 41.22h.65M478.2 52.29h.65M455.46 108.37h.65M447.82 101.48h.65M449.31 22.58h.65M463.45 22.72h.65M452.51 22.67h.65M469.33 22.69h.65M453.31 22.48h.65M446.6 22.73h.65M480.91 22.68h.65M486.63 22.56h.65M469.21 22.45h.65M472.86 22.54h.65M447.71 22.46h.65M445.84 22.46h.65M465.97 22.66h.65M484.13 22.7h.65M448.04 22.62h.65M449.09 22.63h.65M483.99 22.63h.65M480.81 22.6h.65M471.96 22.48h.65M447.89 22.68h.65M451.52 22.71h.65M452.43 22.55h.65M470.19 22.75h.65M478.03 22.67h.65M466.67 22.74h.65M466.04 22.63h.65M458.76 22.65h.65M472.29 22.47h.65M461.84 22.75h.65M456.1 22.47h.65M459.01 22.58h.65M445.31 22.73h.65M451.13 22.58h.65M448.09 22.52h.65M467.4 22.67h.65M459.18 22.46h.65M459.58 22.48h.65M478.33 22.59h.65M461.73 22.7h.65M493.95 22.48h.65M482.18 22.58h.65M473.33 22.69h.65M495.24 22.52h.65M485.12 22.71h.65M446.08 22.49h.65M485.71 22.67h.65M469.69 22.59h.65M464.09 22.72h.65M464.25 22.75h.65M463.14 22.45h.65M453.48 22.57h.65M461.52 22.56h.65M457.62 22.67h.65M469.99 22.69h.65M488.36 22.53h.65M469.13 22.47h.65M483.28 22.57h.65M455.51 22.69h.65M464.82 22.71h.65M444.35 22.72h.65M476.11 22.69h.65M447.63 22.51h.65M449.59 22.63h.65M484.26 22.68h.65M448.9 22.61h.65M445.03 22.59h.65M457.72 22.67h.65M488.02 22.55h.65M484.93 22.72h.65M450.4 22.68h.65M445.25 22.57h.65M451.73 22.5h.65M443.67 22.55h.65M455.41 22.61h.65M491.67 22.57h.65M472.51 118.22h.65M450.72 118.2h.65M481.42 118.22h.65M453.38 118.22h.65M459.03 118.06h.65M457.15 118.19h.65M470.68 117.99h.65M457.82 118.12h.65M478.39 118.13h.65M471.95 118.04h.65M479.23 118.13h.65M469.48 118.03h.65M468.27 118.05h.65M461.54 118.23h.65M463.28 118.01h.65M462.07 118.02h.65M473.63 118.01h.65M473.65 118.09h.65M462.2 118.12h.65M484.13 118.13h.65M454.16 118.05h.65M451.61 118.14h.65M481.46 117.97h.65M456.51 117.98h.65M466.61 118.2h.65M451.92 118.2h.65M461.58 118.11h.65M469.47 118.23h.65M482.72 118.24h.65M468.72 118.24h.65M476.66 118.12h.65M469.17 118.04h.65M452.1 118.09h.65M455.87 117.95h.65M482.37 118.01h.65M483.67 118.1h.65M456.09 118.07h.65M449.62 118.12h.65M458.16 117.95h.65M454.59 118.08h.65M481.75 118.02h.65M478.28 118.08h.65M459.51 118.07h.65M466 118.05h.65M469.8 118.18h.65M480.57 118.08h.65M468.7 117.99h.65M466.23 118.21h.65M453.39 117.97h.65M446.27 118.03h.65M460.66 118.11h.65M461.22 118.25h.65M468.05 118.21h.65M455.13 118.02h.65M467.04 117.95h.65M473.6 118.05h.65M473.86 118.1h.65M478.82 118.01h.65M482.64 118.24h.65M461.97 118.12h.65" stroke="#d31f32" stroke-width="0.65" fill="none"/>
<line x1="398" y1="70.25" x2="512.5" y2="70.25" stroke="#e7656d" stroke-width="0.7"/>
<rect x="398" y="18.8" width="114.5" height="103.2" fill="none" stroke="#1a1a1a" stroke-width="1.1"/>
<line x1="394.6" y1="25" x2="398" y2="25" stroke="#222" stroke-width="0.7"/>
<text x="392.6" y="27.45" font-size="6.8" text-anchor="end" fill="#333" textLength="9.26" lengthAdjust="spacingAndGlyphs">1.0</text>
<line x1="394.6" y1="47.5" x2="398" y2="47.5" stroke="#222" stroke-width="0.7"/>
<text x="392.6" y="49.95" font-size="6.8" text-anchor="end" fill="#333" textLength="9.26" lengthAdjust="spacingAndGlyphs">0.5</text>
<line x1="394.6" y1="70.25" x2="398" y2="70.25" stroke="#222" stroke-width="0.7"/>
<text x="392.6" y="72.7" font-size="6.8" text-anchor="end" fill="#333" textLength="9.26" lengthAdjust="spacingAndGlyphs">0.0</text>
<line x1="394.6" y1="93" x2="398" y2="93" stroke="#222" stroke-width="0.7"/>
<text x="392.6" y="95.45" font-size="6.8" text-anchor="end" fill="#333" textLength="12.97" lengthAdjust="spacingAndGlyphs">–0.5</text>
<line x1="394.6" y1="115.75" x2="398" y2="115.75" stroke="#222" stroke-width="0.7"/>
<text x="392.6" y="118.2" font-size="6.8" text-anchor="end" fill="#333" textLength="12.97" lengthAdjust="spacingAndGlyphs">–1.0</text>
<line x1="399.5" y1="122" x2="399.5" y2="124.7" stroke="#222" stroke-width="0.7"/>
<text x="399.2" y="133.25" font-size="6.8" text-anchor="middle" fill="#333" textLength="9.07" lengthAdjust="spacingAndGlyphs">0.1</text>
<line x1="437" y1="122" x2="437" y2="124.7" stroke="#222" stroke-width="0.7"/>
<text x="437" y="133.25" font-size="6.8" text-anchor="middle" fill="#333" textLength="7.26" lengthAdjust="spacingAndGlyphs">10</text>
<line x1="475" y1="122" x2="475" y2="124.7" stroke="#222" stroke-width="0.7"/>
<text x="475" y="133.25" font-size="6.8" text-anchor="middle" fill="#333" textLength="14.52" lengthAdjust="spacingAndGlyphs">1000</text>
<text x="455.4" y="147.64" font-size="9" text-anchor="middle" fill="#333" textLength="90.5" lengthAdjust="spacingAndGlyphs">Mean of normalized counts</text>
<text x="372.54" y="70.8" font-size="9" text-anchor="middle" transform="rotate(-90 372.54 70.8)" fill="#333" textLength="52.5" lengthAdjust="spacingAndGlyphs">Log fold change</text>
<text x="400.2" y="27.58" font-size="6.6" font-weight="bold" fill="#111" textLength="27.3" lengthAdjust="spacingAndGlyphs">Up: 847</text>
<text x="401.8" y="118.98" font-size="6.6" font-weight="bold" fill="#111" textLength="37.5" lengthAdjust="spacingAndGlyphs">Down: 965</text>
<text x="7.3" y="163" font-size="10.2" font-weight="bold" fill="#111">D</text>
<text x="38.8" y="168" font-size="7.6" textLength="184.3" lengthAdjust="spacingAndGlyphs">Top down regulated pathways in <tspan font-style="italic">Drd</tspan> DKO LSK cells</text>
<rect x="36.3" y="180" width="112.4" height="7.6" fill="#f7b71d"/>
<rect x="22" y="187.5" width="126.7" height="8" fill="#f7b71d"/>
<rect x="85" y="195.4" width="63.7" height="7.2" fill="#f7b71d"/>
<rect x="63.8" y="202.9" width="84.9" height="7.8" fill="#f7b71d"/>
<rect x="90" y="233" width="58.7" height="7.6" fill="#f7b71d"/>
<rect x="89.5" y="240.5" width="59.2" height="7.5" fill="#f7b71d"/>
<rect x="36.3" y="254.6" width="112.4" height="8.4" fill="#f7b71d"/>
<rect x="100.8" y="262.9" width="47.9" height="7.6" fill="#f7b71d"/>
<rect x="70" y="278" width="78.7" height="8.7" fill="#f7b71d"/>
<text x="50" y="177.95" font-size="5" fill="#2a2a2a" textLength="97" lengthAdjust="spacingAndGlyphs">Regulation of histone H3-K27 acetylation</text>
<rect x="150" y="174.75" width="75.76" height="3.5" fill="#1c1c1c"/>
<text x="43.8" y="185.55" font-size="5" fill="#2a2a2a" textLength="103.2" lengthAdjust="spacingAndGlyphs">Metaphase/anaphase transition of cell cycle</text>
<rect x="150" y="182.27" width="62.92" height="3.5" fill="#1c1c1c"/>
<text x="25.8" y="193.05" font-size="5" fill="#2a2a2a" textLength="121.2" lengthAdjust="spacingAndGlyphs">Metaphase/anaphase transition of mitotic cell cycle</text>
<rect x="150" y="189.79" width="62.92" height="3.5" fill="#1c1c1c"/>
<text x="85.8" y="200.55" font-size="5" fill="#2a2a2a" textLength="61.2" lengthAdjust="spacingAndGlyphs">Mitotic spindle elongation</text>
<rect x="150" y="197.3" width="60.35" height="3.5" fill="#1c1c1c"/>
<text x="67" y="208.45" font-size="5" fill="#2a2a2a" textLength="80" lengthAdjust="spacingAndGlyphs">Mitotic spindle midzone assembly</text>
<rect x="150" y="204.82" width="60.35" height="3.5" fill="#1c1c1c"/>
<text x="26.8" y="217.15" font-size="5" fill="#2a2a2a" textLength="120.2" lengthAdjust="spacingAndGlyphs">Regulation of protein tyrosine phosphatase activity</text>
<rect x="150" y="212.34" width="56.82" height="3.5" fill="#1c1c1c"/>
<text x="46.3" y="223.55" font-size="5" fill="#2a2a2a" textLength="100.7" lengthAdjust="spacingAndGlyphs">Regulation of myofibroblast differentiation</text>
<rect x="150" y="219.86" width="56.82" height="3.5" fill="#1c1c1c"/>
<text x="70.5" y="230.95" font-size="5" fill="#2a2a2a" textLength="76.5" lengthAdjust="spacingAndGlyphs">Lens fiber cell apoptotic process</text>
<rect x="150" y="227.38" width="56.82" height="3.5" fill="#1c1c1c"/>
<text x="91.3" y="238.55" font-size="5" fill="#2a2a2a" textLength="55.7" lengthAdjust="spacingAndGlyphs">Mitotic DNA replication</text>
<rect x="150" y="234.89" width="53.93" height="3.5" fill="#1c1c1c"/>
<text x="91.3" y="246.15" font-size="5" fill="#2a2a2a" textLength="55.7" lengthAdjust="spacingAndGlyphs">Centrosome separation</text>
<rect x="150" y="242.41" width="53.93" height="3.5" fill="#1c1c1c"/>
<text x="68" y="253.35" font-size="5" fill="#2a2a2a" textLength="79" lengthAdjust="spacingAndGlyphs">Maintenance of DNA methylation</text>
<rect x="150" y="249.93" width="53.93" height="3.5" fill="#1c1c1c"/>
<text x="42.5" y="260.95" font-size="5" fill="#2a2a2a" textLength="104.5" lengthAdjust="spacingAndGlyphs">DNA unwinding involved in DNA replication</text>
<rect x="150" y="257.45" width="50.72" height="3.5" fill="#1c1c1c"/>
<text x="102" y="268.65" font-size="5" fill="#2a2a2a" textLength="45" lengthAdjust="spacingAndGlyphs">Spindle elongation</text>
<rect x="150" y="264.97" width="50.72" height="3.5" fill="#1c1c1c"/>
<text x="74.5" y="276.05" font-size="5" fill="#2a2a2a" textLength="72.5" lengthAdjust="spacingAndGlyphs">Establishment of T cell polarity</text>
<rect x="150" y="272.48" width="45.58" height="3.5" fill="#1c1c1c"/>
<text x="74.5" y="283.95" font-size="5" fill="#2a2a2a" textLength="72.5" lengthAdjust="spacingAndGlyphs">Mitotic centrosome separation</text>
<rect x="150" y="280" width="45.58" height="3.5" fill="#1c1c1c"/>
<path d="M150 172.5V285.6H230.6" stroke="#1a1a1a" stroke-width="1.1" fill="none"/>
<line x1="150.2" y1="285.6" x2="150.2" y2="288.3" stroke="#222" stroke-width="0.7"/>
<text x="150.2" y="297.41" font-size="7.8" text-anchor="middle" fill="#333" textLength="4.86" lengthAdjust="spacingAndGlyphs">0</text>
<line x1="166.3" y1="285.6" x2="166.3" y2="288.3" stroke="#222" stroke-width="0.7"/>
<text x="166.3" y="297.41" font-size="7.8" text-anchor="middle" fill="#333" textLength="4.86" lengthAdjust="spacingAndGlyphs">5</text>
<line x1="182.4" y1="285.6" x2="182.4" y2="288.3" stroke="#222" stroke-width="0.7"/>
<text x="182.4" y="297.41" font-size="7.8" text-anchor="middle" fill="#333" textLength="9.72" lengthAdjust="spacingAndGlyphs">10</text>
<line x1="198.4" y1="285.6" x2="198.4" y2="288.3" stroke="#222" stroke-width="0.7"/>
<text x="198.4" y="297.41" font-size="7.8" text-anchor="middle" fill="#333" textLength="9.72" lengthAdjust="spacingAndGlyphs">15</text>
<line x1="214.5" y1="285.6" x2="214.5" y2="288.3" stroke="#222" stroke-width="0.7"/>
<text x="214.5" y="297.41" font-size="7.8" text-anchor="middle" fill="#333" textLength="9.72" lengthAdjust="spacingAndGlyphs">20</text>
<line x1="230.3" y1="285.6" x2="230.3" y2="288.3" stroke="#222" stroke-width="0.7"/>
<text x="230.3" y="297.41" font-size="7.8" text-anchor="middle" fill="#333" textLength="9.72" lengthAdjust="spacingAndGlyphs">25</text>
<text x="190.2" y="311.04" font-size="9" text-anchor="middle" fill="#333" textLength="57" lengthAdjust="spacingAndGlyphs">Enrichment score</text>
<text x="260" y="161.6" font-size="10.2" font-weight="bold" fill="#111">E</text>
<text x="333.2" y="173.76" font-size="4.6" text-anchor="middle" font-weight="bold" textLength="92" lengthAdjust="spacingAndGlyphs">Enrichment plot: KEGG_CELL_CYCLE</text>
<line x1="283.3" y1="216.3" x2="385.8" y2="216.3" stroke="#5a5a5a" stroke-width="1.2"/>
<rect x="283.3" y="175" width="102.5" height="46.2" fill="none" stroke="#1a1a1a" stroke-width="0.9"/>
<text x="281.1" y="183.03" font-size="4.8" text-anchor="end" fill="#333" textLength="6.8" lengthAdjust="spacingAndGlyphs">0.5</text>
<line x1="281.9" y1="181.3" x2="283.3" y2="181.3" stroke="#222" stroke-width="0.5"/>
<text x="281.1" y="189.83" font-size="4.8" text-anchor="end" fill="#333" textLength="6.8" lengthAdjust="spacingAndGlyphs">0.4</text>
<line x1="281.9" y1="188.1" x2="283.3" y2="188.1" stroke="#222" stroke-width="0.5"/>
<text x="281.1" y="196.83" font-size="4.8" text-anchor="end" fill="#333" textLength="6.8" lengthAdjust="spacingAndGlyphs">0.3</text>
<line x1="281.9" y1="195.1" x2="283.3" y2="195.1" stroke="#222" stroke-width="0.5"/>
<text x="281.1" y="203.73" font-size="4.8" text-anchor="end" fill="#333" textLength="6.8" lengthAdjust="spacingAndGlyphs">0.2</text>
<line x1="281.9" y1="202" x2="283.3" y2="202" stroke="#222" stroke-width="0.5"/>
<text x="281.1" y="210.73" font-size="4.8" text-anchor="end" fill="#333" textLength="6.8" lengthAdjust="spacingAndGlyphs">0.1</text>
<line x1="281.9" y1="209" x2="283.3" y2="209" stroke="#222" stroke-width="0.5"/>
<text x="281.1" y="217.63" font-size="4.8" text-anchor="end" fill="#333" textLength="6.8" lengthAdjust="spacingAndGlyphs">0.0</text>
<line x1="281.9" y1="215.9" x2="283.3" y2="215.9" stroke="#222" stroke-width="0.5"/>
<text x="270.79" y="198.6" font-size="5.8" text-anchor="middle" transform="rotate(-90 270.79 198.6)" textLength="47" lengthAdjust="spacingAndGlyphs">Enrichment score (ES)</text>
<path d="M283.3 216.3L284 214.5L284.6 212L285 210.5L285.6 207L286.4 203L287.4 199L288.4 195.5L289.2 192L290 189.8L290.6 188.6L291.2 185.5L292.2 183L293.5 181.3L295 180L297 179L299 178.2L300.5 177.2L301.8 177.1L303 177.6L304.5 178.8L307 180.1L310 181.8L314 184L318 186.4L322 189L326 191.8L330 194.8L334 197.6L338 200.6L342 203.6L346 206.6L349 208.8L352 210.2L355 211.4L358 212.2L360 212.8L362 214.2L364 215L366 215.6L368 216.6L370 217.2L372 217.9L373.5 217.2L375 218L376.5 217.4L378 216.9L379.4 217.2L380.6 216.3" stroke="#1fae34" stroke-width="1.5" fill="none" stroke-linejoin="round"/>
<text x="353" y="182.38" font-size="6.6" fill="#333" textLength="25.8" lengthAdjust="spacingAndGlyphs">NES:1.41</text>
<text x="353" y="190.38" font-size="6.6" fill="#333" textLength="31.5" lengthAdjust="spacingAndGlyphs">p value:0.0</text>
<path d="M284.65 222.3V236.3M294.39 222.3V236.3M295.87 222.3V236.3M297.98 222.3V236.3M299.46 222.3V236.3M301.16 222.3V236.3M302.85 222.3V236.3M304.96 222.3V236.3M306.44 222.3V236.3M308.56 222.3V236.3M311.73 222.3V236.3M313.43 222.3V236.3M314.91 222.3V236.3M316.39 222.3V236.3M318.08 222.3V236.3M320.62 222.3V236.3M323.37 222.3V236.3M325.48 222.3V236.3M327.6 222.3V236.3M330.77 222.3V236.3M332.89 222.3V236.3M340.29 222.3V236.3M341.35 222.3V236.3M343.47 222.3V236.3M345.58 222.3V236.3M347.7 222.3V236.3M349.81 222.3V236.3M351.5 222.3V236.3M352.98 222.3V236.3M354.47 222.3V236.3M356.16 222.3V236.3M358.7 222.3V236.3M361.45 222.3V236.3M363.56 222.3V236.3M366.74 222.3V236.3M370.97 222.3V236.3M376.26 222.3V236.3M380.49 222.3V236.3" stroke="#111" stroke-width="0.7" fill="none"/>
<path d="M310.67 222.3V236.3M321.89 222.3V236.3M329.08 222.3V236.3M346.85 222.3V236.3M357.43 222.3V236.3M368.85 222.3V236.3" stroke="#111" stroke-width="0.4" fill="none" opacity="0.6"/>
<rect x="285.2" y="222.3" width="7.6" height="14" fill="#111"/>
<path d="M286.56 222.3V236.3M288.04 222.3V236.3M289.31 222.3V236.3M291 222.3V236.3" stroke="#fff" stroke-width="0.35" fill="none" opacity="0.75"/>
<defs><linearGradient id="gE" x1="0" x2="1" y1="0" y2="0"><stop offset="0" stop-color="#e8212b"/><stop offset="0.18" stop-color="#ec4a52"/><stop offset="0.32" stop-color="#f0848c"/><stop offset="0.335" stop-color="#f3b3cf"/><stop offset="0.57" stop-color="#f1bfe0"/><stop offset="0.59" stop-color="#cfc6f2"/><stop offset="0.79" stop-color="#aaa5ee"/><stop offset="0.81" stop-color="#6f6be6"/><stop offset="0.95" stop-color="#4a43de"/><stop offset="1" stop-color="#1c12c8"/></linearGradient></defs>
<rect x="283.3" y="236.3" width="97.4" height="3.8" fill="url(#gE)"/>
<path d="M283.3 254 L283.3 244.2 L284.5 246.2 L286 247.6 L288 248.6 L291 249.6 L295 250.5 L300 251.4 L307 252.3 L315 253.1 L323 253.7 L330 254 L283.3 254 ZM330 254 L340 254.4 L350 254.9 L358 255.5 L365 256.4 L370 257.4 L374 258.6 L377 260.2 L379 262 L380.4 264.5 L380.7 270 L380.7 254 Z" stroke="none" stroke-width="0" fill="#c9cbcd"/>
<rect x="283.3" y="240.6" width="102.5" height="31.2" fill="none" stroke="#1a1a1a" stroke-width="0.9"/>
<text x="281.1" y="247.73" font-size="4.8" text-anchor="end" fill="#333" textLength="6.8" lengthAdjust="spacingAndGlyphs">2.5</text>
<line x1="281.9" y1="246" x2="283.3" y2="246" stroke="#222" stroke-width="0.5"/>
<text x="281.1" y="255.73" font-size="4.8" text-anchor="end" fill="#333" textLength="6.8" lengthAdjust="spacingAndGlyphs">0.0</text>
<line x1="281.9" y1="254" x2="283.3" y2="254" stroke="#222" stroke-width="0.5"/>
<text x="281.1" y="264.03" font-size="4.8" text-anchor="end" fill="#333" textLength="9.2" lengthAdjust="spacingAndGlyphs">–2.5</text>
<line x1="281.9" y1="262.3" x2="283.3" y2="262.3" stroke="#222" stroke-width="0.5"/>
<text x="281.1" y="271.93" font-size="4.8" text-anchor="end" fill="#333" textLength="9.2" lengthAdjust="spacingAndGlyphs">–5.0</text>
<line x1="281.9" y1="270.2" x2="283.3" y2="270.2" stroke="#222" stroke-width="0.5"/>
<text x="260.79" y="255.5" font-size="5.8" text-anchor="middle" transform="rotate(-90 260.79 255.5)" textLength="39" lengthAdjust="spacingAndGlyphs">Ranked list metric</text>
<text x="267.89" y="255.5" font-size="5.8" text-anchor="middle" transform="rotate(-90 267.89 255.5)" textLength="32" lengthAdjust="spacingAndGlyphs">(Signal2Noise)</text>
<text x="285" y="245.28" font-size="4.1" fill="#d62839" textLength="53" lengthAdjust="spacingAndGlyphs">'WT' (positively correlated)</text>
<text x="301.2" y="252.69" font-size="7.2" textLength="10.2" lengthAdjust="spacingAndGlyphs">WT</text>
<text x="355" y="248.89" font-size="7.2" textLength="25.6" lengthAdjust="spacingAndGlyphs"><tspan font-style="italic">Drd</tspan> DKO</text>
<text x="308" y="258.28" font-size="4.1" font-style="italic" fill="#444" textLength="36.5" lengthAdjust="spacingAndGlyphs">Zero cross at 5426</text>
<text x="316.2" y="268.98" font-size="4.1" fill="#3f7fbf" textLength="58" lengthAdjust="spacingAndGlyphs">'DKO' (negatively correlated)</text>
<line x1="283.4" y1="271.8" x2="283.4" y2="273.4" stroke="#222" stroke-width="0.5"/>
<text x="283.4" y="279.23" font-size="4.8" text-anchor="middle" fill="#333" textLength="2.54" lengthAdjust="spacingAndGlyphs">0</text>
<line x1="301.7" y1="271.8" x2="301.7" y2="273.4" stroke="#222" stroke-width="0.5"/>
<text x="301.7" y="279.23" font-size="4.8" text-anchor="middle" fill="#333" textLength="11.41" lengthAdjust="spacingAndGlyphs">2,500</text>
<line x1="319.6" y1="271.8" x2="319.6" y2="273.4" stroke="#222" stroke-width="0.5"/>
<text x="319.6" y="279.23" font-size="4.8" text-anchor="middle" fill="#333" textLength="11.41" lengthAdjust="spacingAndGlyphs">5,000</text>
<line x1="337.6" y1="271.8" x2="337.6" y2="273.4" stroke="#222" stroke-width="0.5"/>
<text x="337.6" y="279.23" font-size="4.8" text-anchor="middle" fill="#333" textLength="11.41" lengthAdjust="spacingAndGlyphs">7,500</text>
<line x1="355.8" y1="271.8" x2="355.8" y2="273.4" stroke="#222" stroke-width="0.5"/>
<text x="355.8" y="279.23" font-size="4.8" text-anchor="middle" fill="#333" textLength="13.95" lengthAdjust="spacingAndGlyphs">10,000</text>
<line x1="374.2" y1="271.8" x2="374.2" y2="273.4" stroke="#222" stroke-width="0.5"/>
<text x="374.2" y="279.23" font-size="4.8" text-anchor="middle" fill="#333" textLength="13.95" lengthAdjust="spacingAndGlyphs">12,500</text>
<text x="334.4" y="287.38" font-size="6.6" text-anchor="middle" fill="#333" textLength="52.8" lengthAdjust="spacingAndGlyphs">Rank in ordered dataset</text>
<rect x="271.3" y="290.4" width="118.2" height="6.7" fill="none" stroke="#333" stroke-width="0.6"/>
<line x1="273" y1="293.8" x2="278.8" y2="293.8" stroke="#1fae34" stroke-width="1.1"/>
<text x="279.4" y="295.31" font-size="4.2" fill="#555" textLength="36" lengthAdjust="spacingAndGlyphs">Enrichment profile</text>
<line x1="316.2" y1="293.8" x2="319.6" y2="293.8" stroke="#222" stroke-width="0.9"/>
<text x="320.2" y="295.31" font-size="4.2" fill="#555" textLength="7.4" lengthAdjust="spacingAndGlyphs">Hits</text>
<line x1="329.4" y1="293.8" x2="335" y2="293.8" stroke="#222" stroke-width="0.9" stroke-dasharray="2.2 1"/>
<text x="335.6" y="295.31" font-size="4.2" fill="#555" textLength="52.5" lengthAdjust="spacingAndGlyphs">Ranking metric scores</text>
<text x="7.6" y="332" font-size="10.2" font-weight="bold" fill="#111">F</text>
<rect x="47.2" y="359.1" width="18.6" height="56" fill="#c8102e"/>
<rect x="71" y="393.8" width="19" height="21.3" fill="#17518c"/>
<rect x="118.2" y="385.3" width="18.7" height="29.8" fill="#c8102e"/>
<rect x="141.7" y="351" width="19" height="64.1" fill="#17518c"/>
<path d="M45 336.3V415.1H163.2" stroke="#141414" stroke-width="1.2" fill="none"/>
<line x1="41.3" y1="345" x2="45" y2="345" stroke="#222" stroke-width="0.8"/>
<text x="39.6" y="347.59" font-size="7.2" text-anchor="end" fill="#333" textLength="8.65" lengthAdjust="spacingAndGlyphs">80</text>
<line x1="41.3" y1="362.5" x2="45" y2="362.5" stroke="#222" stroke-width="0.8"/>
<text x="39.6" y="365.09" font-size="7.2" text-anchor="end" fill="#333" textLength="8.65" lengthAdjust="spacingAndGlyphs">60</text>
<line x1="41.3" y1="380.2" x2="45" y2="380.2" stroke="#222" stroke-width="0.8"/>
<text x="39.6" y="382.79" font-size="7.2" text-anchor="end" fill="#333" textLength="8.65" lengthAdjust="spacingAndGlyphs">40</text>
<line x1="41.3" y1="397.7" x2="45" y2="397.7" stroke="#222" stroke-width="0.8"/>
<text x="39.6" y="400.29" font-size="7.2" text-anchor="end" fill="#333" textLength="8.65" lengthAdjust="spacingAndGlyphs">20</text>
<line x1="41.3" y1="415.1" x2="45" y2="415.1" stroke="#222" stroke-width="0.8"/>
<text x="39.6" y="417.69" font-size="7.2" text-anchor="end" fill="#333" textLength="4.32" lengthAdjust="spacingAndGlyphs">0</text>
<text x="24.47" y="375.2" font-size="8.8" text-anchor="middle" transform="rotate(-90 24.47 375.2)" fill="#333" textLength="19.5" lengthAdjust="spacingAndGlyphs">LSK %</text>
<path d="M56.5 356.3V361.6M51.2 356.3H61.8M51.2 361.6H61.8" stroke="#1a1a1a" stroke-width="0.9" fill="none"/>
<path d="M80.3 389.3V397.6M75.1 389.3H85.5M75.1 397.6H85.5" stroke="#1a1a1a" stroke-width="0.9" fill="none"/>
<path d="M127.5 382.5V387.4M122.3 382.5H132.7M122.3 387.4H132.7" stroke="#1a1a1a" stroke-width="0.9" fill="none"/>
<path d="M151.2 346.5V354.4M146.1 346.5H156.3M146.1 354.4H156.3" stroke="#1a1a1a" stroke-width="0.9" fill="none"/>
<circle cx="53" cy="352.2" r="1.2" fill="#111"/>
<circle cx="60" cy="353.3" r="1.2" fill="#111"/>
<circle cx="56.5" cy="355.6" r="1.2" fill="#111"/>
<circle cx="54.7" cy="365.3" r="1.2" fill="#111"/>
<circle cx="58.3" cy="365" r="1.2" fill="#111"/>
<circle cx="80.5" cy="383.4" r="1.2" fill="#111"/>
<circle cx="78.7" cy="385.7" r="1.2" fill="#111"/>
<circle cx="81.4" cy="388.9" r="1.2" fill="#111"/>
<circle cx="80.3" cy="399" r="1.2" fill="#111"/>
<circle cx="80.3" cy="410.4" r="1.2" fill="#111"/>
<circle cx="125.8" cy="379.5" r="1.2" fill="#111"/>
<circle cx="129.7" cy="378.1" r="1.2" fill="#111"/>
<circle cx="124.1" cy="388.1" r="1.2" fill="#111"/>
<circle cx="127.5" cy="390.4" r="1.2" fill="#111"/>
<circle cx="130.6" cy="389" r="1.2" fill="#111"/>
<circle cx="151.4" cy="345.1" r="1.2" fill="#111"/>
<circle cx="154.6" cy="354.4" r="1.2" fill="#111"/>
<circle cx="149.6" cy="360.1" r="1.2" fill="#111"/>
<circle cx="152.8" cy="358" r="1.2" fill="#111"/>
<circle cx="150.7" cy="352.7" r="1.2" fill="#111"/>
<text x="53.7" y="344.65" font-size="6.8" textLength="26.8" lengthAdjust="spacingAndGlyphs"><tspan font-style="italic">p</tspan>&lt;0.001</text>
<line x1="54.9" y1="347.3" x2="80.5" y2="347.3" stroke="#141414" stroke-width="0.9"/>
<text x="127.9" y="336.85" font-size="6.8" textLength="26.7" lengthAdjust="spacingAndGlyphs"><tspan font-style="italic">p</tspan>&lt;0.001</text>
<line x1="129.1" y1="339.1" x2="154.6" y2="339.1" stroke="#141414" stroke-width="0.9"/>
<text x="69" y="425.19" font-size="7.2" text-anchor="middle" fill="#333" textLength="8.3" lengthAdjust="spacingAndGlyphs">2n</text>
<text x="140.2" y="425.19" font-size="7.2" text-anchor="middle" fill="#333" textLength="8.3" lengthAdjust="spacingAndGlyphs">4n</text>
<text x="104" y="436.94" font-size="9" text-anchor="middle" fill="#333" textLength="40.5" lengthAdjust="spacingAndGlyphs">DNA content</text>
<rect x="23.8" y="438" width="12" height="6" fill="#c8102e"/>
<text x="38.8" y="443.48" font-size="6.6" textLength="23.7" lengthAdjust="spacingAndGlyphs">Vehicle</text>
<rect x="23.8" y="449.4" width="12" height="6" fill="#17518c"/>
<text x="38.8" y="454.88" font-size="6.6" textLength="39.2" lengthAdjust="spacingAndGlyphs">Haloperidol</text>
<text x="171" y="332.4" font-size="10.2" font-weight="bold" fill="#111">G</text>
<text x="207" y="327.28" font-size="6.6" text-anchor="middle" textLength="25.5" lengthAdjust="spacingAndGlyphs">Vehicle</text>
<text x="256" y="327.28" font-size="6.6" text-anchor="middle" textLength="42" lengthAdjust="spacingAndGlyphs">Haloperidol</text>
<text x="312.2" y="327.28" font-size="6.6" text-anchor="middle" textLength="25.7" lengthAdjust="spacingAndGlyphs">Vehicle</text>
<text x="375.9" y="327.28" font-size="6.6" text-anchor="middle" textLength="41.8" lengthAdjust="spacingAndGlyphs">Haloperidol</text>
<defs><filter id="b1" x="-20%" y="-20%" width="140%" height="140%"><feGaussianBlur stdDeviation="1.6"/></filter><filter id="b2" x="-20%" y="-20%" width="140%" height="140%"><feGaussianBlur stdDeviation="0.8"/></filter><filter id="b3" x="-20%" y="-20%" width="140%" height="140%"><feGaussianBlur stdDeviation="2.6"/></filter><filter id="b4" x="-30%" y="-30%" width="160%" height="160%"><feGaussianBlur stdDeviation="0.45"/></filter><filter id="t1" x="0" y="0" width="1" height="1" color-interpolation-filters="sRGB"><feTurbulence type="fractalNoise" baseFrequency="0.37" numOctaves="3" seed="5"/><feColorMatrix type="matrix" values="0 0 0 0 0.14 0 0 0 0 0.55 0 0 0 0 0.2 0 2.3 0 0 -1.08"/></filter><filter id="t2" x="0" y="0" width="1" height="1" color-interpolation-filters="sRGB"><feTurbulence type="fractalNoise" baseFrequency="0.37" numOctaves="3" seed="9"/><feColorMatrix type="matrix" values="0 0 0 0 0.1 0 0 0 0 0.42 0 0 0 0 0.15 0 2 0 0 -0.95"/></filter><filter id="t3" x="0" y="0" width="1" height="1" color-interpolation-filters="sRGB"><feTurbulence type="fractalNoise" baseFrequency="0.3" numOctaves="2" seed="2"/><feColorMatrix type="matrix" values="0 0 0 0 0.18 0 0 0 0 0.75 0 0 0 0 0.26 0 3.2 0 0 -1.5"/></filter><filter id="t5" x="0" y="0" width="1" height="1" color-interpolation-filters="sRGB"><feTurbulence type="fractalNoise" baseFrequency="0.4" numOctaves="2" seed="14"/><feColorMatrix type="matrix" values="0 0 0 0 0.12 0 0 0 0 0.45 0 0 0 0 0.16 0 2 0 0 -0.9"/></filter><filter id="t4" x="0" y="0" width="1" height="1" color-interpolation-filters="sRGB"><feTurbulence type="fractalNoise" baseFrequency="0.1 0.3" numOctaves="3" seed="21"/><feColorMatrix type="matrix" values="0 0 0 0 0.2 0 0 0 0 0.3 0 0 0 0 0.8 0 2.8 0 0 -1.05"/></filter><filter id="t4d" x="0" y="0" width="1" height="1" color-interpolation-filters="sRGB"><feTurbulence type="fractalNoise" baseFrequency="0.12 0.2" numOctaves="2" seed="33"/><feColorMatrix type="matrix" values="0 0 0 0 0.02 0 0 0 0 0.03 0 0 0 0 0.22 0 3.4 0 0 -1.35"/></filter><filter id="t6" x="0" y="0" width="1" height="1" color-interpolation-filters="sRGB"><feTurbulence type="fractalNoise" baseFrequency="0.1 0.3" numOctaves="3" seed="8"/><feColorMatrix type="matrix" values="0 0 0 0 0.26 0 0 0 0 0.27 0 0 0 0 0.78 0 2.6 0 0 -1"/></filter><filter id="t6d" x="0" y="0" width="1" height="1" color-interpolation-filters="sRGB"><feTurbulence type="fractalNoise" baseFrequency="0.13 0.25" numOctaves="3" seed="17"/><feColorMatrix type="matrix" values="0 0 0 0 0.03 0 0 0 0 0.03 0 0 0 0 0.2 0 4.2 0 0 -1.75"/></filter><clipPath id="c1"><rect x="182" y="331.3" width="48" height="122"/></clipPath><clipPath id="c2"><rect x="232" y="331.3" width="47.6" height="122"/></clipPath><clipPath id="c3"><rect x="282.6" y="331.3" width="60" height="59.2"/></clipPath><clipPath id="c4"><rect x="282.6" y="392.6" width="60" height="60.1"/></clipPath><clipPath id="c5"><rect x="345.8" y="331.3" width="60.1" height="59.2"/></clipPath><clipPath id="c6"><rect x="345.8" y="392.6" width="60.1" height="60.1"/></clipPath><clipPath id="cb1"><path d="M187 331H229.5V362L227.5 366L222 392L218 406L216.3 454H192.7L190 400L187.8 338Z"/></clipPath><clipPath id="cb2"><path d="M234.5 337L278.5 337V368L274.5 390L273 420L272.5 454H243.5L242.5 426L238 395L234 367Z"/></clipPath></defs>
<rect x="182" y="331.3" width="48" height="122" fill="#040b05"/>
<g clip-path="url(#c1)">
<path d="M218 400L230 380V454H216.5Z" fill="#0a1c0c" filter="url(#b2)"/>
<path d="M182 340H187.5L192.5 454H182Z" fill="#08160a" filter="url(#b2)"/>
<path d="M187 331H229.5V362L227.5 366L222 392L218 406L216.3 454H192.7L190 400L187.8 338Z" fill="#0a1f0e" filter="url(#b2)"/>
<ellipse cx="207" cy="374" rx="15" ry="24" fill="#0f3215" filter="url(#b3)" opacity="0.7"/>
<g clip-path="url(#cb1)"><rect x="182" y="331.3" width="48" height="122" filter="url(#t1)" opacity="0.62"/></g>
<rect x="182" y="408" width="48" height="46" fill="#030804" opacity="0.32"/>
<rect x="182" y="331.3" width="48" height="16" fill="#030804" opacity="0.25"/>
<path d="M196.7 331L198 340L201 344.5L209.5 345.5L214 342L216.5 337L217.5 331Z" fill="#050e07" filter="url(#b2)" opacity="0.9"/>
<rect x="187" y="379.3" width="36" height="1.4" fill="#040c06" opacity="0.5" filter="url(#b4)"/>
<rect x="187" y="404.8" width="36" height="1.4" fill="#040c06" opacity="0.5" filter="url(#b4)"/>
<rect x="187" y="427.3" width="36" height="1.4" fill="#040c06" opacity="0.5" filter="url(#b4)"/>
<path d="M228.3 364L226 372L224.3 384L221.6 393L218.6 404L217.4 428L216.6 452" stroke="#2fa83f" stroke-width="0.8" fill="none" opacity="0.42" filter="url(#b4)"/>
<path d="M225.6 375L222.3 391" stroke="#5be36c" stroke-width="1.2" fill="none" opacity="0.9" filter="url(#b4)"/>
<path d="M187.6 338L188.6 362L190 400L192.6 452" stroke="#25913a" stroke-width="0.7" fill="none" opacity="0.3" filter="url(#b4)"/>
<path d="M187.8 349L188.3 356M189.7 402L190.4 412M192 440L192.6 452" stroke="#48d65a" stroke-width="0.9" fill="none" opacity="0.6" filter="url(#b4)"/>
<path d="M210 343L212 350M193 379V386" stroke="#2fae3e" stroke-width="0.9" fill="none" opacity="0.7" filter="url(#b4)"/>
<path d="M194.07 397.85h0.52M222.77 382.96h0.47M190.99 368.29h0.54M189.57 372.12h0.5M204.58 397.11h0.51M209.65 373.47h0.54M203.51 383.81h0.5M200.92 370.62h0.51M201.65 389.85h0.5M199.81 376.28h0.47M216.64 371.48h0.46M215.65 410.15h0.5M197.83 367.5h0.55M209.95 435.21h0.54M202.11 368.45h0.49M199.37 410.61h0.45M215.56 353.37h0.47M224.92 372.23h0.5M193.93 376.73h0.51M222.8 368.82h0.46M212.09 365.55h0.48M214.24 386.71h0.51M208.85 391.59h0.47M209.23 343.76h0.52M211.54 400.66h0.46" stroke="#46d058" stroke-width="0.5" fill="none"/>
<path d="M204.82 398.64h0.54M210.49 368.45h0.52M196.56 363.87h0.46M199.06 347.69h0.51M201.12 368.8h0.5M203.07 377.06h0.5M215.34 394.28h0.51M205.74 334.83h0.5M204.17 336.51h0.51M195.79 427.33h0.52M209.09 335.64h0.46M202.28 359.76h0.47M211.46 444.69h0.48M191.89 407.48h0.51M196.36 344.51h0.51M200.33 351.52h0.52M195.17 413.31h0.47M190.22 370.1h0.52M203.05 451.06h0.54M217.38 396.24h0.55M216.63 373.63h0.45M201.12 399.81h0.53M210.85 342.27h0.48M206.79 384.31h0.5M205.6 397.48h0.54M215.45 408.11h0.54M214.73 382.25h0.53M205.32 333.62h0.46M199.85 392.47h0.55M203.06 382.99h0.5M217.93 376h0.53M227.04 367.46h0.5M189.75 358.08h0.52M205.29 378.27h0.48M196.09 360.35h0.5M201.13 394.98h0.45M207.63 431.85h0.54M215.36 375.13h0.48M209.28 391.02h0.5M228.09 360.67h0.51M199.7 401.28h0.46M201.51 385.07h0.54M194.17 371.61h0.53M199.3 334.97h0.46M207.58 367.43h0.52M225.29 338.04h0.48M213.53 430.45h0.47M212.23 380.87h0.48M223.82 380.48h0.48M208.4 344.22h0.52M212.11 385.96h0.53M211.6 432.72h0.52M206.91 396.42h0.48M191.81 358.4h0.46M218.23 385.5h0.47M190.78 377.67h0.49" stroke="#1f7a2e" stroke-width="0.5" fill="none"/>
<path d="M208.56 380.05h0.57M198.57 384.78h0.58M196.98 354.62h0.6M209.37 413.09h0.56M215.41 446.88h0.6M203.41 362.36h0.6M206.41 339.43h0.61M195.83 384.32h0.61M212.93 355.61h0.58M228.58 341.59h0.61M208.57 405.88h0.65M207.35 401.44h0.64M212.28 391.72h0.64M194.34 358.81h0.61M195.11 341.47h0.65M225.18 363.69h0.57M191.33 389.33h0.65M218.85 345.94h0.56M216.23 378.51h0.65M214.56 367.31h0.6M205.45 400.54h0.59M210.62 335.55h0.62M220.33 380.21h0.57M211.24 379.05h0.6M201.54 430.05h0.57" stroke="#36b848" stroke-width="0.6" fill="none"/>
<path d="M220.24 385.8h0.38M203.34 363.25h0.35M194.68 387.21h0.41M214.79 347.9h0.43M222.73 342.42h0.4M191.36 362.25h0.44M222.71 361.29h0.4M211.92 413.69h0.41M225.49 336.37h0.35M217.52 391.29h0.39M207.93 345.71h0.37M207.62 336.48h0.39M201.2 389.27h0.42M205.41 354.88h0.42M201.34 446.62h0.39M201.13 372.44h0.41M225.58 372.95h0.38M210.81 435.92h0.38M196.57 446.35h0.42M192.96 374.42h0.43M193.72 387.53h0.36M211.39 399.18h0.44M207.86 378.27h0.41M194.44 374.88h0.39M209.46 377.28h0.38M203.53 414.57h0.43M215.14 342.11h0.37M198.42 382.67h0.42M202.49 436.59h0.39M218.25 393.09h0.44M213.99 361.5h0.36M207.27 359.34h0.39M206.23 390.04h0.36M199.03 422.87h0.38M202.68 362.25h0.36M225.41 352.91h0.44M219.43 390.11h0.35M209.94 407.86h0.37M206.25 350.58h0.45M223.3 351.94h0.36M200.89 383.15h0.38M189.92 372.22h0.35M196.15 447.15h0.36M190.18 361h0.37M196.61 388.37h0.41M212.08 368.74h0.43M198.89 345.12h0.42M223.16 376.45h0.37M224.47 364.14h0.43M219.96 357.36h0.4M227.88 352.76h0.43" stroke="#1f7a2e" stroke-width="0.4" fill="none"/>
<path d="M189.32 358.26h0.62M223.11 338.04h0.57M206.16 390.5h0.56M220.48 364.14h0.59M196.17 411.56h0.63M198.52 376.78h0.63M209.71 398.52h0.62M208.05 443.48h0.64M194.66 363.87h0.61M214.8 396.21h0.56M205.79 402.06h0.59M206.97 380.07h0.59M214.01 361.88h0.61M220.45 385.86h0.57M198.76 355.77h0.57M224.76 357.3h0.63M217.77 356.88h0.61M192.64 420.26h0.64M215.61 374.19h0.58M210.63 380.96h0.64M194.06 413.68h0.58M208.71 375.98h0.64M209.02 374.29h0.55M221.4 375.14h0.58M218.28 365.66h0.58M194.21 393.24h0.56M223.28 351.65h0.6M226.81 332.93h0.55M188.99 349.97h0.56M206.16 414.77h0.61M210.8 366.12h0.59M206.35 424.62h0.6M210.2 398.66h0.58M203.37 365.12h0.58M225.45 356.41h0.61M206.82 398.46h0.58" stroke="#1f7a2e" stroke-width="0.6" fill="none"/>
<path d="M209.46 418.37h0.44M215.28 387.76h0.44M200.83 437.58h0.44M189.81 380.21h0.41M196.92 436.06h0.42M204.63 358.95h0.39M220.53 367.99h0.35M208.13 385.38h0.43M228.42 364.64h0.43M189.8 358.61h0.35M201.42 373.61h0.43M215.53 358.07h0.43M207.56 434.95h0.4M217.18 374.43h0.41M202.34 343.6h0.39M212.12 394.19h0.36M194.16 349.58h0.37M201.54 373.75h0.43M188.68 352.96h0.41M198.25 345.77h0.37M210 360.86h0.37M226.63 369.73h0.4M211.15 351.4h0.44M194.49 371.09h0.37M200.52 376.56h0.37M199.52 400.73h0.38M196.76 373.27h0.43M204.5 440.42h0.41M214.7 352.48h0.37" stroke="#46d058" stroke-width="0.4" fill="none"/>
<path d="M212.7 390.5h0.49M218.68 393.87h0.54M211.3 385.57h0.49M201.09 355.07h0.47M208.07 388.17h0.47M198.73 338.2h0.51M218.05 364.38h0.48M207.57 385.43h0.5M201.47 357.65h0.46M196.73 354.88h0.46M193.72 363.56h0.52M217.9 359.27h0.46M199.65 346.28h0.52M214.33 394.01h0.52M201.18 388.32h0.46M189.93 383.87h0.51M202.49 376.16h0.49M208.92 383.51h0.5M197.16 388.14h0.49M212.22 375.3h0.55M218.13 378.69h0.48M200.3 446.88h0.53M191.91 380.46h0.53" stroke="#2a9a3a" stroke-width="0.5" fill="none"/>
<path d="M190.01 367.56h0.37M206.5 452.82h0.39M193.14 400.78h0.36M200.47 431.15h0.36M215.38 366.42h0.36M208.58 437.2h0.43M208.75 401.68h0.44M220.63 340.38h0.4M190.94 380.85h0.4M214.37 410.28h0.41M202.03 437.59h0.41M215.64 352.06h0.39M190.15 335.81h0.42M213.84 385.57h0.37M227.14 370.35h0.45M215.88 452.79h0.39M199.52 406.35h0.44M218.32 379.44h0.42M218.97 350.62h0.45M211.35 433.78h0.4M211.54 436.78h0.38M193.05 404.8h0.36M189.16 364.8h0.41M193.91 451.8h0.45" stroke="#2a9a3a" stroke-width="0.4" fill="none"/>
<path d="M200.57 387.71h0.59M202.31 402.18h0.56M198.46 374.7h0.6M195.19 388.16h0.63M215.44 416.88h0.64M226.71 336.14h0.57M192.71 434.94h0.62M217.34 350.08h0.61M213.42 344.85h0.62M206.35 360.6h0.57M219.75 368.72h0.57M202.37 385.61h0.62M205.1 399.02h0.57M207.12 408.03h0.58M225.95 358.01h0.59" stroke="#46d058" stroke-width="0.6" fill="none"/>
<path d="M220.74 364.83h0.68M210.43 429.18h0.66M213.18 361.12h0.68M207.92 352.05h0.69M212.14 369.63h0.66M226.46 332.9h0.69M192.43 372.77h0.7M192.3 379.8h0.67M194.64 356.65h0.67M201.4 351.89h0.69" stroke="#36b848" stroke-width="0.7" fill="none"/>
<path d="M217.32 334.68h0.69M195.28 427.26h0.69M212.49 367.14h0.67M228.15 346.52h0.67M204.73 359.78h0.69M217.4 373.57h0.65M209.19 381.1h0.69M195.25 361.83h0.69M191.51 354.27h0.66M222.93 366.16h0.67M206.39 427.48h0.68M215.57 367.16h0.66M216.68 393.45h0.68" stroke="#2a9a3a" stroke-width="0.7" fill="none"/>
<path d="M191.71 384.66h0.56M223.16 373.15h0.63M207.16 338.17h0.65M213.24 397.5h0.57M219.01 337.36h0.58M203.32 423.58h0.63M214.92 376.12h0.56M201.55 377.08h0.55M189.46 369.11h0.64M218.6 335.75h0.56M209.24 396.79h0.6M221.61 365.95h0.63M211.92 431.49h0.57M203.87 425.16h0.65M215.49 367.34h0.63M217.73 377.87h0.59M212.21 407.7h0.58M214.2 417.69h0.6M202.96 336.04h0.56M195.27 392.71h0.64M211.19 422h0.63" stroke="#2a9a3a" stroke-width="0.6" fill="none"/>
<path d="M213.83 394.8h0.66M207.86 430.83h0.67M219.05 337.59h0.69M213.03 420.35h0.66M200.19 367.46h0.66M206.18 334.29h0.65M192.56 390.96h0.69M227.48 366.9h0.66M219.88 374.94h0.69M203.65 365.69h0.69M217.32 356.63h0.65M210.16 414.04h0.7M218.45 352h0.7M191.27 386.7h0.67M192.49 374.27h0.66M195.34 376.6h0.66M190.31 363.83h0.69M218.3 396.02h0.66M192.93 419.17h0.65M192.08 394.67h0.68M222.61 380.41h0.68M206.89 367.84h0.67M203.97 370.28h0.68M217.87 377.29h0.67M200.45 334.78h0.68M213.18 372.39h0.68M191.03 392.38h0.66" stroke="#1f7a2e" stroke-width="0.7" fill="none"/>
<path d="M208.16 430.2h0.42M214.88 350.9h0.41M197.29 364.44h0.41M193.87 352.95h0.42M199.81 380.62h0.44M200.19 435.5h0.42M194.12 336.74h0.43M202.18 422.82h0.45M202.27 394.73h0.38M200.86 450.73h0.37M224.16 357.3h0.36M216.91 360.65h0.41M192.65 368.76h0.44M199.09 452.46h0.39M203.18 363.73h0.44M195.05 342.5h0.38M203.51 360.63h0.43M207.69 425.04h0.38M197.45 451.02h0.37M192.63 427.06h0.39M212.49 367.15h0.4M200.52 437.09h0.41M209.22 362.45h0.41M219.6 395.57h0.42M212.53 371.02h0.38M216.58 351.44h0.45M211.99 416.72h0.35M206.9 392.77h0.4M205.9 436.84h0.43M204.87 393.45h0.36M200.15 347.54h0.41M207.51 369.06h0.43M193.62 365.58h0.36M206.53 414.72h0.44" stroke="#36b848" stroke-width="0.4" fill="none"/>
<path d="M199.76 370.97h0.5M211.98 338.12h0.53M211.1 427.43h0.51M200.85 423.55h0.46M194.56 384.6h0.52M205.8 451.26h0.49M198.24 449.52h0.49M210.06 407.45h0.46M204.98 368.35h0.46M195.35 366.87h0.51M217.93 359.69h0.55M201.99 404.86h0.54M210.3 391.38h0.48M193.53 341.09h0.48M199.68 399.43h0.5M198.91 353.36h0.51M205.15 346.13h0.47M197.82 425.18h0.46M195.25 426.46h0.53M209.38 375.45h0.54M197.46 353.7h0.51M201.56 355.29h0.47" stroke="#36b848" stroke-width="0.5" fill="none"/>
<path d="M195.78 412.52h0.67M197.74 433.63h0.69M211.83 374.94h0.65M212.21 385.52h0.65M220.4 363.15h0.67M192.84 384.94h0.69M193.84 450.5h0.7M217.38 352.94h0.66M194.99 422.16h0.67" stroke="#46d058" stroke-width="0.7" fill="none"/>
<path d="M196.56 349.58h0.54M228.21 339.86h0.46M223.82 437.83h0.54M211.51 439.55h0.47M226.35 383.85h0.5M194.61 393.59h0.49M216.54 447.45h0.45M216.31 397.97h0.47M216.58 425.91h0.54M214.51 429.76h0.5M194.44 414.51h0.55M215.1 409.8h0.47M217.88 397.7h0.46M214.41 376.62h0.45M222.68 413.93h0.52M208.25 338.42h0.5M221.82 353.27h0.47M214.58 393.11h0.49M221.29 418.74h0.46" stroke="#1a5a26" stroke-width="0.5" fill="none"/>
<path d="M227.93 429.63h0.55M201.17 419.35h0.57M188.49 449.58h0.57" stroke="#174f22" stroke-width="0.6" fill="none"/>
<path d="M215.56 370.28h0.55M227.51 351.68h0.51M225.73 420.58h0.51M224.89 452.6h0.49M210.54 342.76h0.52M207.9 452.57h0.46M197.88 414.43h0.49M190.79 388.96h0.49M190.57 409.87h0.48M221.35 372.36h0.46" stroke="#174f22" stroke-width="0.5" fill="none"/>
<path d="M204.86 382.88h0.42M226.5 431.39h0.38M188.63 417.77h0.37M199.55 332.25h0.37M223.26 354.65h0.42M214.41 451.68h0.44M201.36 386.72h0.43M203.39 376.18h0.35M185.92 377.27h0.39M194.21 422.95h0.38M228.94 418.71h0.45M205.15 376.63h0.36M201.61 341.56h0.4" stroke="#174f22" stroke-width="0.4" fill="none"/>
<path d="M218.52 395.86h0.58M209.27 356.52h0.59M203.46 405.39h0.56M228.62 366.92h0.56M212.79 346.13h0.6M186.33 353.49h0.57" stroke="#1a5a26" stroke-width="0.6" fill="none"/>
<path d="M194.99 339.03h0.39M189.5 370.31h0.41M187.38 408.88h0.41M229.42 412.86h0.35M189.96 444.74h0.44M184.14 334.93h0.44M207.98 351.55h0.41M220.74 446.22h0.38M222.34 437.04h0.37" stroke="#1a5a26" stroke-width="0.4" fill="none"/>
</g>
<text x="210.2" y="442.54" font-size="5.4" fill="#fff" textLength="19.3" lengthAdjust="spacingAndGlyphs">500μm</text>
<rect x="219.6" y="445" width="8.4" height="1.7" fill="#fff"/>
<rect x="232" y="331.3" width="47.6" height="122" fill="#030804"/>
<g clip-path="url(#c2)">
<path d="M234.5 337L278.5 337V368L274.5 390L273 420L272.5 454H243.5L242.5 426L238 395L234 367Z" fill="#071409" filter="url(#b2)"/>
<path d="M236 344H278V367L274 390L272 419H243L239 392Z" fill="#0a1d0d" filter="url(#b1)" opacity="0.9"/>
<g clip-path="url(#cb2)"><rect x="232" y="331.3" width="47.6" height="122" filter="url(#t2)" opacity="0.32"/></g>
<path d="M251 331L253 341L257 346.5L262 347.5L266 344L268 331Z" fill="#030905" filter="url(#b2)" opacity="0.95"/>
<rect x="232" y="367.7" width="47.6" height="1.6" fill="#030905" opacity="0.6" filter="url(#b4)"/>
<rect x="232" y="396.2" width="47.6" height="1.6" fill="#030905" opacity="0.6" filter="url(#b4)"/>
<rect x="232" y="420.7" width="47.6" height="1.6" fill="#030905" opacity="0.6" filter="url(#b4)"/>
<rect x="256.3" y="348" width="0.9" height="105" fill="#040c06" opacity="0.45" filter="url(#b4)"/>
<path d="M238.5 390L241 412L243.3 440" stroke="#218c33" stroke-width="0.7" fill="none" opacity="0.55" filter="url(#b4)"/>
<path d="M274.2 400L273.2 414" stroke="#218c33" stroke-width="0.7" fill="none" opacity="0.5" filter="url(#b4)"/>
<path d="M253.46 345.64h0.39M270.86 438.38h0.38M245.49 446.76h0.4M254 390.13h0.43M263.98 345.37h0.38M236.66 354.71h0.44M246.51 380.39h0.44M237.63 438.59h0.4M257.49 358.14h0.38M243.86 354.76h0.43M271.29 452.42h0.45M260.22 374.88h0.43" stroke="#27963a" stroke-width="0.4" fill="none"/>
<path d="M249.42 399.47h0.46M252.87 342.39h0.46M247.64 387.06h0.51M244.14 336.17h0.45M267.78 393.91h0.5M239.9 451.28h0.45M275.05 367.03h0.52M249.13 396.97h0.47M262.79 365.44h0.54M256.18 411.17h0.47M254.91 407.24h0.54M241.43 439.47h0.54" stroke="#1f7a2e" stroke-width="0.5" fill="none"/>
<path d="M275.39 367.99h0.55M254.62 354.52h0.47M256.53 451.47h0.5M248 441.38h0.55M272.95 336.43h0.49M244.13 436.44h0.52M252.57 340.51h0.48M265.4 400.77h0.49M245.78 335.65h0.54M264.68 414.9h0.54M250.28 415.88h0.45M261.16 382.12h0.45M237.16 430.54h0.49M243.6 435.38h0.54" stroke="#27963a" stroke-width="0.5" fill="none"/>
<path d="M245.8 426.38h0.42M237.36 373.71h0.41M259.12 358.73h0.42M264.7 337h0.37M254.15 445.3h0.44M242.66 389.6h0.44M246.79 384.54h0.39M271.32 333.76h0.41M253.1 443.86h0.39M258.88 362.46h0.41M254.43 443.78h0.44M258.09 426.36h0.43M276.61 428.58h0.36M241.9 380.64h0.42M270.42 432.83h0.38M265.93 417.35h0.37M261.05 365.16h0.38" stroke="#185f26" stroke-width="0.4" fill="none"/>
<path d="M269.2 421.84h0.57M264.33 376.73h0.57M258.8 431.13h0.6M266.13 384h0.56M263.74 378.27h0.58M262.9 449.73h0.6M273.58 378.47h0.6" stroke="#27963a" stroke-width="0.6" fill="none"/>
<path d="M270.34 353.98h0.6M247.77 417.66h0.59M263.07 342.37h0.56M237.9 413.86h0.56M239.53 412.61h0.59M269.61 400.43h0.59" stroke="#185f26" stroke-width="0.6" fill="none"/>
<path d="M259.19 411.16h0.56M267.39 442.95h0.58M275.19 365.61h0.55M243.74 383.04h0.57M263.62 367.66h0.56M247.28 371h0.59M268.51 410.19h0.55" stroke="#1f7a2e" stroke-width="0.6" fill="none"/>
<path d="M253.56 435.94h0.51M269.19 448.07h0.49M274.38 394.11h0.5M276.97 366.47h0.52M256.07 339.39h0.54M255.8 375.23h0.47M248.12 372.65h0.47M252.98 340.16h0.51M252.73 421.31h0.47M246.23 388.68h0.53M269.34 389.32h0.54M239.32 443.36h0.48M239.78 434.67h0.46M238.11 432.9h0.47M239.61 337.26h0.54" stroke="#185f26" stroke-width="0.5" fill="none"/>
<path d="M256.28 419.34h0.45M254.57 369.57h0.45M251.81 346.13h0.35M275.9 424.84h0.39M258.48 449.75h0.38M261 402.83h0.43M260.8 361.9h0.39M265.03 341.83h0.44M262.75 335.8h0.4M238.7 347.58h0.44M273.55 431.54h0.36M246.05 382.6h0.44M260.16 373.37h0.43M252.4 386.85h0.37M251.7 387.72h0.35M252.75 397.44h0.36M263.93 367.39h0.37M248.26 339.36h0.35M240.33 406.21h0.43M274.33 351.05h0.36" stroke="#1f7a2e" stroke-width="0.4" fill="none"/>
</g>
<rect x="282.6" y="331.3" width="60" height="59.2" fill="#040c05"/>
<g clip-path="url(#c3)">
<rect x="282.6" y="331.3" width="60" height="59.2" fill="#0a2410" opacity="0.2"/>
<rect x="282.6" y="331.3" width="60" height="59.2" filter="url(#t3)" opacity="0.3"/>
<ellipse cx="315" cy="341" rx="13" ry="9" fill="#030804" filter="url(#b1)" opacity="0.92"/>
<ellipse cx="333" cy="376" rx="6" ry="10" fill="#030804" filter="url(#b1)" opacity="0.92"/>
<ellipse cx="300" cy="349" rx="5" ry="4" fill="#030804" filter="url(#b1)" opacity="0.92"/>
<ellipse cx="320" cy="356" rx="6" ry="3" fill="#030804" filter="url(#b1)" opacity="0.92"/>
<ellipse cx="296" cy="383" rx="5" ry="4" fill="#030804" filter="url(#b1)" opacity="0.92"/>
<path d="M332.45 344.52h1M298.45 361.94h1M311.5 375.94h1M312.44 375.68h1M340.63 372.28h1M333.9 359.72h1M322.6 382.53h1M303.16 373.38h1M328.56 352.12h1M317.05 375.97h1M306.1 383.37h1M283.99 366.32h1M301.63 361.5h1M283.59 334.33h1M302.85 356.86h1M340.08 359.71h1M341.43 360.8h1M338.51 342.98h1M321.11 382.46h1M329.54 356.75h1" stroke="#2db03e" stroke-width="1" fill="none"/>
<path d="M332.01 344.63h0.7M335.92 335.1h0.7M302.13 334.78h0.7M334.94 356.78h0.7M331.74 358.67h0.7M338.45 382.48h0.7M283.75 368.96h0.7M317.98 372.32h0.7M337.69 340.59h0.7M322.33 358.98h0.7M314.65 377.33h0.7" stroke="#55dd66" stroke-width="0.7" fill="none"/>
<path d="M330.67 344.73h0.5M330.13 346.17h0.5M329.39 331.51h0.5M335.25 333.72h0.5M336.76 384.39h0.5M335.83 385.12h0.5M315.12 375h0.5M320.41 382.94h0.5M337.22 365.7h0.5" stroke="#1f8a32" stroke-width="0.5" fill="none"/>
<path d="M331.94 346.9h0.8M336.63 335.64h0.8M292.47 348.88h0.8M330.09 351.21h0.8M314.48 363.32h0.8M305.28 386.97h0.8M336.79 385h0.8M341.15 359.95h0.8M326.53 389.7h0.8M311.18 375.94h0.8" stroke="#27a038" stroke-width="0.8" fill="none"/>
<path d="M305.95 369.06h0.6M337.44 334.88h0.6M339.75 367.97h0.6M322.53 331.32h0.6M303.17 372.64h0.6M284.64 365.83h0.6M284.11 342.82h0.6M329.13 333.08h0.6M318.49 377.75h0.6" stroke="#55dd66" stroke-width="0.6" fill="none"/>
<path d="M305.94 370.82h0.8M340.17 373.64h0.8M283.57 370.02h0.8M313.16 351.9h0.8M284.53 341.4h0.8M324.69 373.53h0.8M308.82 348.48h0.8" stroke="#48d65a" stroke-width="0.8" fill="none"/>
<path d="M306.98 370.2h0.6M307.29 369.32h0.6M334.7 336.3h0.6M325.96 372.43h0.6M292.13 348.67h0.6M329.34 359.79h0.6M303.01 378.03h0.6M321.89 333.58h0.6M292.77 372.32h0.6M291.19 350.01h0.6M323.64 359.4h0.6M325.35 374.1h0.6M306.17 360.07h0.6M317.75 375.7h0.6" stroke="#2db03e" stroke-width="0.6" fill="none"/>
<path d="M306.59 371.15h0.8M321.46 377.58h0.8M343.41 373.3h0.8M331.23 360.63h0.8M336.47 382.93h0.8M314.23 375.05h0.8M330.71 363.66h0.8M337.54 341.06h0.8M325.01 373.03h0.8" stroke="#1f8a32" stroke-width="0.8" fill="none"/>
<path d="M308.37 369.82h0.8M301.07 358.87h0.8M305.15 384.3h0.8M330.89 350.8h0.8M318.66 373.95h0.8M299.9 362.87h0.8M329.27 332.74h0.8M284 364.7h0.8M299.24 361h0.8" stroke="#3cc84e" stroke-width="0.8" fill="none"/>
<path d="M307.58 371.53h1M307.1 370.17h1M302.95 387.66h1M330.42 360.61h1M332.76 353.07h1M290.52 372.64h1M290.69 372.98h1M289.31 373.22h1M285.68 367.17h1M332.53 362.81h1M339.81 361.86h1M323.82 372.46h1M306.38 348.51h1M327.33 356.41h1M306.49 357.5h1" stroke="#55dd66" stroke-width="1" fill="none"/>
<path d="M309.19 369.72h0.7M337.2 337.93h0.7M322.74 376.48h0.7M313.41 349.77h0.7M311.54 352.15h0.7M317.98 372.82h0.7M324.2 360.42h0.7" stroke="#2db03e" stroke-width="0.7" fill="none"/>
<path d="M306.54 371.22h0.6M315.65 360.16h0.6M300.78 377.94h0.6M332.28 350.79h0.6M290.22 351.14h0.6M329.99 357.57h0.6M283.36 341.24h0.6M301.13 357.75h0.6M340.79 359.58h0.6M283.39 389.2h0.6M325.44 388.13h0.6M330.83 361.42h0.6M301.97 360.06h0.6" stroke="#48d65a" stroke-width="0.6" fill="none"/>
<path d="M294.18 360.89h1M337.42 333.02h1M322.95 378.27h1M313.2 378.88h1M333.68 351.25h1M289.82 371.76h1M281.2 340.91h1M333.1 364.44h1M299.2 356.97h1M284.59 362.98h1M316.47 376.76h1" stroke="#3cc84e" stroke-width="1" fill="none"/>
<path d="M293.89 360.25h0.9M310.95 375.17h0.9M316.4 377.23h0.9M322.45 332.99h0.9M315.5 373.46h0.9M329.88 331.65h0.9M339.27 359.3h0.9M342.78 362.51h0.9M325.09 362.67h0.9M339.03 365.95h0.9M330.63 361.55h0.9" stroke="#27a038" stroke-width="0.9" fill="none"/>
<path d="M294.42 362.09h1M329.99 352.03h1M333.43 353.71h1M313.79 386.75h1M341.85 386.64h1M316.13 373.04h1M312.69 377.87h1M317.69 373.49h1M293.15 365.68h1M299.65 358.57h1M306.97 358.99h1M302.89 359.85h1M335.82 338.07h1" stroke="#1f8a32" stroke-width="1" fill="none"/>
<path d="M331.07 330.7h0.9M309.02 378.82h0.9M307.79 382.87h0.9M310.92 385.96h0.9M291.77 368.94h0.9M337.67 343.66h0.9M305.66 355.47h0.9" stroke="#1f8a32" stroke-width="0.9" fill="none"/>
<path d="M330.61 333.83h0.6M320.99 380h0.6M316.26 380.34h0.6M337.42 384.46h0.6M289.55 369.71h0.6M291.05 370.82h0.6M316.81 375.34h0.6M300.82 360.66h0.6M297.8 389.74h0.6M337.52 365.55h0.6M302.8 360.23h0.6" stroke="#1f8a32" stroke-width="0.6" fill="none"/>
<path d="M336.19 336.87h0.5M306.24 371.08h0.5M342.45 384.46h0.5M324.47 361.72h0.5M307.3 347.21h0.5M332.34 338.89h0.5" stroke="#55dd66" stroke-width="0.5" fill="none"/>
<path d="M334.02 334.33h0.9M311.63 377.46h0.9M340.59 368.54h0.9M302.81 380.39h0.9M333.74 354.72h0.9M331.58 356.5h0.9M287.27 366.14h0.9M340.32 359.73h0.9M328.03 353.63h0.9M305.07 360.98h0.9" stroke="#2db03e" stroke-width="0.9" fill="none"/>
<path d="M335.31 334.8h0.6M313.4 378.54h0.6M336.69 354.31h0.6M303.82 372.27h0.6M314.98 382.9h0.6M283.21 388.09h0.6M308.14 347.88h0.6" stroke="#3cc84e" stroke-width="0.6" fill="none"/>
<path d="M333.88 336.2h0.8M300.16 376.25h0.8M301.63 379.15h0.8M285.12 367.68h0.8M310.65 351.51h0.8M316.61 379h0.8M285.37 364.46h0.8M326.43 361.48h0.8M327.52 361.21h0.8M324.5 372.67h0.8" stroke="#55dd66" stroke-width="0.8" fill="none"/>
<path d="M299.82 361.01h0.9M306.9 371.56h0.9M332.92 359.02h0.9M329.12 360.53h0.9M331.48 359.46h0.9M312.94 380.68h0.9M332.6 355.36h0.9M306.18 383.04h0.9M286.84 368.45h0.9M317.25 373.02h0.9M330.17 364.71h0.9M300.99 359.53h0.9M319.85 383.83h0.9M321.54 383.89h0.9M298.88 388.38h0.9M307.66 360.57h0.9M303.99 360.65h0.9M303.25 360.28h0.9" stroke="#3cc84e" stroke-width="0.9" fill="none"/>
<path d="M300.55 360.18h0.5M311.53 376.31h0.5M303.64 380.09h0.5M322.37 332.15h0.5M312.77 351.79h0.5M310.95 352h0.5M302.39 360.03h0.5M326.58 370.61h0.5" stroke="#3cc84e" stroke-width="0.5" fill="none"/>
<path d="M299.53 361.2h0.9M305.09 384.05h0.9M321.97 377.77h0.9M333.81 355.13h0.9M301.6 371.05h0.9M341.98 385.29h0.9M287.93 372.56h0.9M292.8 349.75h0.9M317.27 384.68h0.9M285.26 334.72h0.9M319.99 383.03h0.9M339 364.86h0.9" stroke="#48d65a" stroke-width="0.9" fill="none"/>
<path d="M311.85 370.17h1M310.64 370.21h1M339.66 367.32h1M300.05 360.11h1M293.36 367h1M338.01 365.86h1M330.45 362.16h1M331.57 360.71h1" stroke="#48d65a" stroke-width="1" fill="none"/>
<path d="M311.01 370.07h0.7M334.87 355.38h0.7M315.2 379.19h0.7M303.19 379.91h0.7M330.78 352.46h0.7M306.66 359.65h0.7M299.41 360.92h0.7M328.83 334.01h0.7M302.79 357.11h0.7M322.3 361.4h0.7" stroke="#27a038" stroke-width="0.7" fill="none"/>
<path d="M310.12 377.74h0.8M323.36 379.09h0.8M292.9 367.79h0.8" stroke="#2db03e" stroke-width="0.8" fill="none"/>
<path d="M304.65 382.93h0.5M304.28 385.53h0.5M315.1 381.13h0.5M336.36 352.83h0.5M325.53 371.44h0.5M296.92 389.9h0.5" stroke="#2db03e" stroke-width="0.5" fill="none"/>
<path d="M325.81 372.95h0.7M300.27 334.06h0.7M291.29 371.47h0.7M331.71 352.83h0.7M320.13 331.74h0.7M331.09 357.6h0.7M330.61 357.36h0.7M311.73 352.69h0.7M338.87 344.95h0.7M299.23 361.08h0.7" stroke="#1f8a32" stroke-width="0.7" fill="none"/>
<path d="M326.33 373.69h1M322.21 380.94h1M338.75 368.5h1M303.5 387.45h1M302.75 378.52h1M319.45 332.24h1M322 331.73h1M324.89 382.24h1M303.91 372.73h1M330.32 354.05h1M298.83 361.51h1M330.6 357.8h1M336.63 337.07h1" stroke="#27a038" stroke-width="1" fill="none"/>
<path d="M290.74 349.14h0.6M301.41 386.26h0.6M333.69 354.86h0.6M303.1 359.67h0.6M310.72 352.06h0.6M286.02 332.79h0.6M325.54 362.07h0.6M328.42 354.51h0.6" stroke="#27a038" stroke-width="0.6" fill="none"/>
<path d="M321.62 379.64h0.5M321.44 381.05h0.5M325.71 389.18h0.5M336.38 367h0.5" stroke="#27a038" stroke-width="0.5" fill="none"/>
<path d="M300.89 336.98h0.7M314.46 361.39h0.7M314.96 381.49h0.7M315 378.66h0.7M337.71 383.96h0.7M289.73 370.26h0.7M332.36 351.71h0.7M329.87 353.59h0.7M286.04 335.65h0.7M337.08 343.19h0.7M317.78 377.62h0.7" stroke="#3cc84e" stroke-width="0.7" fill="none"/>
<path d="M338.75 368.87h0.5M329.38 355.11h0.5M331.35 356.18h0.5" stroke="#48d65a" stroke-width="0.5" fill="none"/>
<path d="M328.93 362.1h0.9M332.19 351.64h0.9M332.17 353.28h0.9M304.29 383.14h0.9M286.1 361.94h0.9M324.61 391.06h0.9M339.7 365.65h0.9" stroke="#55dd66" stroke-width="0.9" fill="none"/>
<path d="M302.5 379.84h0.7M313.04 352.1h0.7M315.31 378.48h0.7M314.46 381.21h0.7M301.41 360.88h0.7M286.11 364.52h0.7M285.39 365.13h0.7M339.59 362.89h0.7M337.27 342.47h0.7M314.56 376.4h0.7" stroke="#48d65a" stroke-width="0.7" fill="none"/>
<path d="M297.21 359.56h0.59M294.7 377.02h0.62M328.08 355.06h0.63M328.46 360.27h0.61M305.69 386.39h0.59M341.97 351.04h0.57M339.39 333.95h0.58M304.46 357.67h0.56" stroke="#1f8a32" stroke-width="0.6" fill="none"/>
<path d="M325.76 375.02h0.55M307.37 361.6h0.55M322.14 367.55h0.63M326.14 332.47h0.59M305.09 377.54h0.64M325.59 363.35h0.57M336.61 346.36h0.59M320.45 361.09h0.6M283.19 375.72h0.6M303.36 378.42h0.63M295.02 335.12h0.56M339.74 336.4h0.63" stroke="#27a038" stroke-width="0.6" fill="none"/>
<path d="M331.81 353.1h0.65M286.31 343.34h0.65M337.4 344.48h0.66M322.58 383.48h0.69M302.2 358.17h0.68" stroke="#1f8a32" stroke-width="0.7" fill="none"/>
<path d="M309.9 360.16h0.5M314.26 372.13h0.47M287.09 338.27h0.47M338.07 360.41h0.51M327.91 348.09h0.47M301.08 388.84h0.48M284.05 358.06h0.5M315.94 378.25h0.48M306.48 370.42h0.53M284.11 366.02h0.52M340.97 360.1h0.52M293.56 352.55h0.54" stroke="#1a6e2a" stroke-width="0.5" fill="none"/>
<path d="M318.74 379.52h0.49M307.65 361.34h0.45M314.75 363.52h0.51M286.13 371.78h0.46M322.56 352.22h0.54M291.38 343.73h0.49M287.86 373.28h0.53M306.76 384.81h0.5M310.31 385.18h0.51M341.64 374.77h0.52M338.09 361.44h0.54M335.14 336.1h0.5" stroke="#1f8a32" stroke-width="0.5" fill="none"/>
<path d="M319.61 378.43h0.53M299.67 362.91h0.48M323.17 382.04h0.5M339.48 337.4h0.5M306.4 374.31h0.54M325.94 388.68h0.49M314.23 388.75h0.5M339.55 378.58h0.53M341.75 383.74h0.5" stroke="#27a038" stroke-width="0.5" fill="none"/>
<path d="M292.7 347.26h0.65M301.14 343.18h0.63M319.04 378.4h0.56M316.03 369.54h0.62M326.83 385.21h0.64M293.7 387.28h0.61M295.52 354.33h0.63M329.52 356.8h0.55M299.32 332.81h0.57" stroke="#1a6e2a" stroke-width="0.6" fill="none"/>
<path d="M330.72 344.05h0.4M331.2 352.88h0.4" stroke="#27a038" stroke-width="0.4" fill="none"/>
<path d="M294.85 333.62h0.68M290.83 353.14h0.69M286.71 348.32h0.66M341.58 341.72h0.68M287.14 357.68h0.69M291.23 338.82h0.68M336.79 347.95h0.68M337.79 366.39h0.65" stroke="#27a038" stroke-width="0.7" fill="none"/>
<path d="M331.13 375.09h0.67M286.67 332.24h0.68" stroke="#1a6e2a" stroke-width="0.7" fill="none"/>
<path d="M305.93 359.57h0.43M315.94 376.08h0.41M302.9 382.54h0.41M323 378.12h0.45M334.27 360.98h0.44M319.34 374.41h0.44" stroke="#1a6e2a" stroke-width="0.4" fill="none"/>
<path d="M301.27 367.71h0.44M300.44 379.42h0.42M289.76 385.08h0.41M294.04 389.69h0.42M317.85 355.04h0.41" stroke="#1f8a32" stroke-width="0.4" fill="none"/>
</g>
<rect x="345.8" y="331.3" width="60.1" height="59.2" fill="#040b05"/>
<g clip-path="url(#c5)">
<rect x="345.8" y="331.3" width="60.1" height="59.2" fill="#0a200e" opacity="0.75"/>
<rect x="345.8" y="331.3" width="60.1" height="59.2" filter="url(#t5)" opacity="0.5"/>
<ellipse cx="369" cy="355" rx="9" ry="7" fill="#030804" filter="url(#b1)" opacity="0.9"/>
<ellipse cx="391" cy="340" rx="12" ry="7" fill="#030804" filter="url(#b1)" opacity="0.9"/>
<ellipse cx="382" cy="384" rx="14" ry="5" fill="#030804" filter="url(#b1)" opacity="0.9"/>
<ellipse cx="352" cy="334" rx="5" ry="3" fill="#030804" filter="url(#b1)" opacity="0.9"/>
<ellipse cx="400" cy="366" rx="4" ry="7" fill="#030804" filter="url(#b1)" opacity="0.9"/>
<ellipse cx="362" cy="343" rx="4" ry="5" fill="#030804" filter="url(#b1)" opacity="0.9"/>
<path d="M389.78 386.36h0.61M403.66 371.91h0.58M369.62 360.73h0.65M359.68 353.6h0.64M390.66 349.92h0.55M372.91 362.61h0.59M346.35 352.39h0.55" stroke="#2aa53b" stroke-width="0.6" fill="none"/>
<path d="M395.85 332.71h0.52M356.36 374.48h0.55M359.19 338.54h0.49M364.89 363.63h0.55M368.02 359.95h0.5M352.79 348.98h0.51M368.85 374.69h0.47M393.92 359.11h0.5M349.01 386.86h0.49" stroke="#2aa53b" stroke-width="0.5" fill="none"/>
<path d="M356.86 354.76h0.55M356.42 358.46h0.48M359.7 356.34h0.53M377.79 336.75h0.51M399.77 342.96h0.47M347.79 339.19h0.5M402.57 378.04h0.5M382.72 357.45h0.49" stroke="#1f8a32" stroke-width="0.5" fill="none"/>
<path d="M398.32 356.47h0.43M381.11 336.59h0.4M381.32 346.35h0.45" stroke="#2aa53b" stroke-width="0.4" fill="none"/>
<path d="M405.46 345.66h0.45M366.49 364.98h0.43M398.06 375.58h0.43M402.99 357.46h0.42M402.8 386.46h0.42" stroke="#1f8a32" stroke-width="0.4" fill="none"/>
<path d="M391.07 382.85h0.66M372.56 332.21h0.68M379.15 338.16h0.69M372.6 371.41h0.66" stroke="#2aa53b" stroke-width="0.7" fill="none"/>
<path d="M384.61 334.03h0.5M371.4 362.22h0.53M385.79 340.13h0.47M354.77 366.39h0.55M395.52 335.82h0.46M380.88 385.55h0.52M352.73 335.6h0.54" stroke="#35b848" stroke-width="0.5" fill="none"/>
<path d="M378.05 350.99h0.69M392.98 386.06h0.66M377.3 348.56h0.68M402.25 370.12h0.66M380.98 388.92h0.65" stroke="#1f8a32" stroke-width="0.7" fill="none"/>
<path d="M359.77 377.24h0.59M349.62 385.39h0.59M392.73 383.75h0.63M404.2 375.8h0.59M364.26 357.8h0.57M378.51 386.29h0.61M379.57 364.27h0.59M392.72 360.56h0.63M376.86 378.3h0.56M346.48 383.91h0.57M353.39 335.74h0.61" stroke="#35b848" stroke-width="0.6" fill="none"/>
<path d="M396.71 362.98h0.62M401.08 368.64h0.58M376.39 370.45h0.57M363.4 345.19h0.62M364.98 350.86h0.63M370.9 342.46h0.64M391.13 349.01h0.57M367.46 377.98h0.56M362.04 386.47h0.59M400.12 355.46h0.57" stroke="#1f8a32" stroke-width="0.6" fill="none"/>
<path d="M380.03 389.67h0.7" stroke="#1a6e2a" stroke-width="0.7" fill="none"/>
<path d="M387.25 383.86h0.53M348.94 357.87h0.49M396.7 387.89h0.48M376.3 333.65h0.49" stroke="#1a6e2a" stroke-width="0.5" fill="none"/>
<path d="M347.67 338.84h0.6M402.05 361.13h0.64M389.44 344.11h0.56M404.53 339.75h0.58M379.85 346.79h0.6M371.59 351.31h0.62" stroke="#1a6e2a" stroke-width="0.6" fill="none"/>
<path d="M347.51 388.71h0.44M379.21 383.37h0.45M395.26 369.38h0.4M372.38 354.78h0.4" stroke="#35b848" stroke-width="0.4" fill="none"/>
<path d="M402.99 354.94h0.43M355.31 342.54h0.4M405.18 340.02h0.44M380.4 351.91h0.44M389.44 364.83h0.42M375.89 370.62h0.43M346.04 370.99h0.42" stroke="#1a6e2a" stroke-width="0.4" fill="none"/>
<path d="M369.3 335.88h0.66M379.53 351.86h0.67M370.86 368.34h0.69M395.28 337.44h0.67" stroke="#35b848" stroke-width="0.7" fill="none"/>
</g>
<rect x="282.6" y="392.6" width="60" height="60.1" fill="#0a0f48"/>
<g clip-path="url(#c4)">
<ellipse cx="289" cy="414" rx="8" ry="16" fill="#2a3aa8" filter="url(#b1)" opacity="0.95"/>
<ellipse cx="303" cy="440" rx="20" ry="11" fill="#2c3cac" filter="url(#b1)" opacity="0.95"/>
<ellipse cx="297" cy="426" rx="10" ry="8" fill="#2838a4" filter="url(#b1)" opacity="0.9"/>
<ellipse cx="338" cy="414" rx="4.5" ry="24" fill="#3c66c8" filter="url(#b1)" opacity="0.95"/>
<ellipse cx="323" cy="410" rx="5" ry="7" fill="#2a3ea8" filter="url(#b1)" opacity="0.9"/>
<ellipse cx="322" cy="432" rx="6" ry="9" fill="#2a3aa4" filter="url(#b1)" opacity="0.85"/>
<ellipse cx="336" cy="446" rx="5" ry="6" fill="#2c44b0" filter="url(#b1)" opacity="0.8"/>
<ellipse cx="286" cy="398" rx="5" ry="4" fill="#2a3aa8" filter="url(#b1)" opacity="0.7"/>
<g transform="rotate(-28 312 422)"><rect x="262" y="372" width="100" height="100" filter="url(#t4)" opacity="0.5"/></g>
<g transform="rotate(20 312 422)"><rect x="262" y="372" width="100" height="100" filter="url(#t4d)"/></g>
<ellipse cx="311" cy="404" rx="15" ry="10" fill="#080c3c" filter="url(#b1)" opacity="0.92"/>
<ellipse cx="320" cy="420" rx="9" ry="7" fill="#080c3c" filter="url(#b1)" opacity="0.92"/>
<ellipse cx="331" cy="426" rx="3" ry="15" fill="#080c3c" filter="url(#b1)" opacity="0.92"/>
<ellipse cx="298" cy="398" rx="8" ry="4" fill="#080c3c" filter="url(#b1)" opacity="0.92"/>
<ellipse cx="326" cy="398" rx="6" ry="4" fill="#080c3c" filter="url(#b1)" opacity="0.92"/>
<path d="M285.47 424.34h0.96M334.26 444.19h0.99M305.66 404.21h1" stroke="#48d890" stroke-width="1" fill="none"/>
<path d="M303.62 432.43h0.82M334.3 417.69h0.75M302.39 443.26h0.83M296.25 450.58h0.77M341.73 426.36h0.76M302.1 415.6h0.84M285.5 445.94h0.77" stroke="#2fb070" stroke-width="0.8" fill="none"/>
<path d="M338.47 395.76h0.62M306.39 443.94h0.55M335.37 431.75h0.6M302.15 435.98h0.6M313.02 433.49h0.6M318.5 445.89h0.63M285.82 436.44h0.62" stroke="#35c080" stroke-width="0.6" fill="none"/>
<path d="M286.99 414.31h0.65M293.82 447.25h0.73M311.92 445.78h0.75M289.87 408.68h0.73M314.94 432.44h0.66M285.32 399.96h0.72M296.72 437.16h0.7M339.74 397.33h0.69M284.09 452.39h0.68M283.12 400.28h0.71" stroke="#2a9aa0" stroke-width="0.7" fill="none"/>
<path d="M292.31 438.52h0.67M320.21 429.1h0.74M288.97 451.11h0.71M330.73 405.5h0.7M296.15 400.93h0.69M291.13 438.12h0.68M316.32 441.35h0.67M300.59 429.32h0.69M317.34 397.49h0.73M317.42 443.64h0.7M311.7 443.48h0.72" stroke="#40c8b0" stroke-width="0.7" fill="none"/>
<path d="M309.97 448.45h0.72M321.26 433.03h0.69M339.91 430.29h0.65" stroke="#48d890" stroke-width="0.7" fill="none"/>
<path d="M336.51 399.51h0.67M318.7 443.21h0.65M340.79 430.88h0.69M319.02 449.13h0.67M316.79 430.21h0.71M295.11 448.36h0.73M308.86 410.54h0.68M340.62 402.95h0.71" stroke="#2fb070" stroke-width="0.7" fill="none"/>
<path d="M290.48 440.59h0.56M305.97 440.97h0.56M297.01 433.1h0.63M311.33 449.54h0.58M285.84 403.75h0.57M341.62 405.84h0.57M315.31 428.5h0.57M316.56 442.93h0.6" stroke="#40c8b0" stroke-width="0.6" fill="none"/>
<path d="M307.14 424.31h0.89M340.83 429.48h0.86M289.96 444.56h0.93M318.58 399.46h0.85M339.86 402.67h0.9" stroke="#40c8b0" stroke-width="0.9" fill="none"/>
<path d="M340.86 400.96h0.58M309.07 448.47h0.59M338.87 394.49h0.57M287.67 405.26h0.65M292.96 443.08h0.58M294.76 434.39h0.64" stroke="#2fb070" stroke-width="0.6" fill="none"/>
<path d="M283.12 407.62h0.98" stroke="#35c080" stroke-width="1" fill="none"/>
<path d="M314.26 442.51h0.97M284.38 447.48h0.97M295.15 432.18h0.96" stroke="#2a9aa0" stroke-width="1" fill="none"/>
<path d="M336.83 429h0.86M294.28 446.11h0.93M286.07 412.06h0.93M324.8 440.03h0.91M294.02 420.28h0.91M323.01 442.01h0.88M285.31 450.62h0.95" stroke="#35c080" stroke-width="0.9" fill="none"/>
<path d="M340.81 402.85h0.57M319.12 437.24h0.56M313.39 449.41h0.62M340.08 400.89h0.58M308.55 450.28h0.64" stroke="#2a9aa0" stroke-width="0.6" fill="none"/>
<path d="M303.7 451.08h0.52M307.85 448.03h0.54M311.93 436.57h0.52M324.86 439.19h0.51M339.37 411.05h0.52M329.34 412.44h0.5M340.66 406.81h0.54" stroke="#40c8b0" stroke-width="0.5" fill="none"/>
<path d="M297.36 445.94h0.61M284.57 394.9h0.62M298.05 440.12h0.64M321.86 452.32h0.56" stroke="#48d890" stroke-width="0.6" fill="none"/>
<path d="M324.49 437.4h0.86M313.79 428.36h0.92M338.78 395.22h0.88M321.28 438h0.95M334.02 401.95h0.91M338.06 426.42h0.89M334.74 426.76h0.92" stroke="#2a9aa0" stroke-width="0.9" fill="none"/>
<path d="M338.72 396.6h0.91M300.53 451.68h0.93M285.95 431.12h0.85M336.36 409.41h0.93M299.86 428.53h0.92M335.6 397.98h0.86M340.32 393.99h0.94M341.19 429.6h0.88M309.7 437.52h0.91M334.23 403.8h0.89M305.45 443.58h0.85" stroke="#2fb070" stroke-width="0.9" fill="none"/>
<path d="M329.12 422.53h0.99M341.06 429.77h0.97M320.86 437.67h0.97M297.09 446.24h1M336.83 433.83h0.95" stroke="#2fb070" stroke-width="1" fill="none"/>
<path d="M336.15 420.35h0.81M309.75 431.51h0.79M284.47 407.18h0.76M338.95 410.48h0.77" stroke="#35c080" stroke-width="0.8" fill="none"/>
<path d="M293.75 437.51h0.79M339.33 418.56h0.83M299.84 428.87h0.84M313.58 442.08h0.77" stroke="#48d890" stroke-width="0.8" fill="none"/>
<path d="M342.12 396.97h0.53" stroke="#35c080" stroke-width="0.5" fill="none"/>
<path d="M314.99 434.67h0.9M294.71 439.32h0.93M285.25 396.47h0.92M336.42 396.23h0.94M305.26 451.66h0.91M299.12 446.28h0.91" stroke="#48d890" stroke-width="0.9" fill="none"/>
<path d="M298.29 448.48h0.79M324.31 419.96h0.84M302.58 441.41h0.81M302.42 436.16h0.83" stroke="#40c8b0" stroke-width="0.8" fill="none"/>
<path d="M292.25 418.5h0.54M341.77 408.72h0.51M321.63 429.57h0.54" stroke="#48d890" stroke-width="0.5" fill="none"/>
<path d="M283.19 398.46h0.78" stroke="#2a9aa0" stroke-width="0.8" fill="none"/>
<path d="M286.42 447.14h0.69M291.47 448.2h0.7M341.11 406.04h0.74M341.13 423.66h0.68" stroke="#35c080" stroke-width="0.7" fill="none"/>
<path d="M325.44 449.02h0.5M292.55 441.06h0.52" stroke="#2fb070" stroke-width="0.5" fill="none"/>
<path d="M339.13 436.08h0.98M285.86 448.89h0.99" stroke="#40c8b0" stroke-width="1" fill="none"/>
<path d="M332.73 440.33h0.52" stroke="#2a9aa0" stroke-width="0.5" fill="none"/>
</g>
<text x="323" y="447.14" font-size="5.4" fill="#fff" textLength="19" lengthAdjust="spacingAndGlyphs">100μm</text>
<rect x="332.8" y="449.2" width="6.8" height="1.8" fill="#fff"/>
<rect x="345.8" y="392.6" width="60.1" height="60.1" fill="#22268e"/>
<g clip-path="url(#c6)">
<g transform="rotate(-30 376 422)"><rect x="326" y="372" width="100" height="100" filter="url(#t6)" opacity="0.7"/></g>
<g transform="rotate(25 376 422)"><rect x="326" y="372" width="100" height="100" filter="url(#t6d)"/></g>
<ellipse cx="380" cy="432" rx="7" ry="5" fill="#0b0f4a" filter="url(#b1)" opacity="0.85"/>
<ellipse cx="350" cy="400" rx="4" ry="7" fill="#0b0f4a" filter="url(#b1)" opacity="0.85"/>
<ellipse cx="398" cy="446" rx="5" ry="4" fill="#0b0f4a" filter="url(#b1)" opacity="0.85"/>
<ellipse cx="364" cy="447" rx="6" ry="3" fill="#0b0f4a" filter="url(#b1)" opacity="0.85"/>
<ellipse cx="376" cy="394" rx="26" ry="2.5" fill="#0b0f4a" filter="url(#b1)" opacity="0.85"/>
<ellipse cx="358" cy="424" rx="4" ry="6" fill="#0b0f4a" filter="url(#b1)" opacity="0.85"/>
<ellipse cx="394" cy="412" rx="3" ry="6" fill="#0b0f4a" filter="url(#b1)" opacity="0.85"/>
</g>
<text x="266.2" y="461.58" font-size="6.6" fill="#4fbe5c" textLength="14" lengthAdjust="spacingAndGlyphs">EdU</text>
<text x="289.6" y="461.58" font-size="6.6" fill="#3f6fae" textLength="17.4" lengthAdjust="spacingAndGlyphs">DAPI</text>
<rect x="467" y="369" width="14.5" height="52.5" fill="#c8102e"/>
<rect x="488.8" y="412.2" width="14.4" height="9.3" fill="#17518c"/>
<path d="M463.6 357.5V421.5H506.4" stroke="#141414" stroke-width="1.2" fill="none"/>
<line x1="459.6" y1="358.5" x2="464" y2="358.5" stroke="#222" stroke-width="0.8"/>
<text x="457.4" y="361.02" font-size="7" text-anchor="end" fill="#333" textLength="15.57" lengthAdjust="spacingAndGlyphs">1000</text>
<line x1="459.6" y1="371.2" x2="464" y2="371.2" stroke="#222" stroke-width="0.8"/>
<text x="457.4" y="373.72" font-size="7" text-anchor="end" fill="#333" textLength="11.68" lengthAdjust="spacingAndGlyphs">800</text>
<line x1="459.6" y1="383.9" x2="464" y2="383.9" stroke="#222" stroke-width="0.8"/>
<text x="457.4" y="386.42" font-size="7" text-anchor="end" fill="#333" textLength="11.68" lengthAdjust="spacingAndGlyphs">600</text>
<line x1="459.6" y1="396.4" x2="464" y2="396.4" stroke="#222" stroke-width="0.8"/>
<text x="457.4" y="398.92" font-size="7" text-anchor="end" fill="#333" textLength="11.68" lengthAdjust="spacingAndGlyphs">400</text>
<line x1="459.6" y1="409" x2="464" y2="409" stroke="#222" stroke-width="0.8"/>
<text x="457.4" y="411.52" font-size="7" text-anchor="end" fill="#333" textLength="11.68" lengthAdjust="spacingAndGlyphs">200</text>
<line x1="459.6" y1="421.5" x2="464" y2="421.5" stroke="#222" stroke-width="0.8"/>
<text x="457.4" y="424.02" font-size="7" text-anchor="end" fill="#333" textLength="3.89" lengthAdjust="spacingAndGlyphs">0</text>
<text x="436.1" y="390.7" font-size="8.6" text-anchor="middle" transform="rotate(-90 436.1 390.7)" fill="#333" textLength="70" lengthAdjust="spacingAndGlyphs">EdU+ Number in MP</text>
<path d="M474.3 365.5V372M470.1 365.5H478.5M470.1 372H478.5" stroke="#1a1a1a" stroke-width="0.8" fill="none"/>
<path d="M496 406.5V418M491.8 406.5H500.2M491.8 418H500.2" stroke="#1a1a1a" stroke-width="0.8" fill="none"/>
<circle cx="474.3" cy="360.8" r="0.95" fill="#111"/>
<circle cx="473.4" cy="371.2" r="0.95" fill="#111"/>
<circle cx="476" cy="371" r="0.95" fill="#111"/>
<circle cx="496" cy="401.5" r="0.95" fill="#111"/>
<circle cx="496" cy="406.4" r="0.95" fill="#111"/>
<circle cx="494.6" cy="419" r="0.95" fill="#111"/>
<circle cx="497.2" cy="420.2" r="0.95" fill="#111"/>
<text x="473.4" y="351.95" font-size="6.8" textLength="22.4" lengthAdjust="spacingAndGlyphs"><tspan font-style="italic">p</tspan>&lt;0.01</text>
<line x1="474.6" y1="354.2" x2="495.8" y2="354.2" stroke="#141414" stroke-width="0.9"/>
<rect x="456" y="430.8" width="11.6" height="5.6" fill="#c8102e"/>
<text x="470.4" y="436.08" font-size="6.6" textLength="23.1" lengthAdjust="spacingAndGlyphs">Vehicle</text>
<rect x="456" y="441.9" width="11.6" height="5.6" fill="#17518c"/>
<text x="470.4" y="447.18" font-size="6.6" textLength="39.2" lengthAdjust="spacingAndGlyphs">Haloperidol</text>
<text x="7.2" y="483.4" font-size="10.2" font-weight="bold" fill="#111">H</text>
<rect x="49.3" y="531.9" width="14.6" height="25.2" fill="#c8102e"/>
<rect x="70.9" y="552.7" width="14.8" height="4.4" fill="#17518c"/>
<path d="M46.1 493.8V557.1H89.9" stroke="#141414" stroke-width="1.2" fill="none"/>
<line x1="42.3" y1="493.8" x2="46.1" y2="493.8" stroke="#222" stroke-width="0.8"/>
<text x="40.3" y="496.39" font-size="7.2" text-anchor="end" fill="#333" textLength="8.57" lengthAdjust="spacingAndGlyphs">25</text>
<line x1="42.3" y1="506.5" x2="46.1" y2="506.5" stroke="#222" stroke-width="0.8"/>
<text x="40.3" y="509.09" font-size="7.2" text-anchor="end" fill="#333" textLength="8.57" lengthAdjust="spacingAndGlyphs">20</text>
<line x1="42.3" y1="519.2" x2="46.1" y2="519.2" stroke="#222" stroke-width="0.8"/>
<text x="40.3" y="521.79" font-size="7.2" text-anchor="end" fill="#333" textLength="8.57" lengthAdjust="spacingAndGlyphs">15</text>
<line x1="42.3" y1="531.9" x2="46.1" y2="531.9" stroke="#222" stroke-width="0.8"/>
<text x="40.3" y="534.49" font-size="7.2" text-anchor="end" fill="#333" textLength="8.57" lengthAdjust="spacingAndGlyphs">10</text>
<line x1="42.3" y1="544.6" x2="46.1" y2="544.6" stroke="#222" stroke-width="0.8"/>
<text x="40.3" y="547.19" font-size="7.2" text-anchor="end" fill="#333" textLength="4.28" lengthAdjust="spacingAndGlyphs">5</text>
<line x1="42.3" y1="557.1" x2="46.1" y2="557.1" stroke="#222" stroke-width="0.8"/>
<text x="40.3" y="559.69" font-size="7.2" text-anchor="end" fill="#333" textLength="4.28" lengthAdjust="spacingAndGlyphs">0</text>
<text x="13.77" y="526.2" font-size="8.8" text-anchor="middle" transform="rotate(-90 13.77 526.2)" fill="#333" textLength="40.3" lengthAdjust="spacingAndGlyphs">EdU+ LSK%</text>
<text x="25.62" y="525.6" font-size="8.4" text-anchor="middle" transform="rotate(-90 25.62 525.6)" fill="#333" textLength="42.3" lengthAdjust="spacingAndGlyphs">(in LSK cells)</text>
<path d="M56.7 526V537.2M52.8 526H60.6M52.8 537.2H60.6" stroke="#1a1a1a" stroke-width="0.8" fill="none"/>
<path d="M78.3 551V554.6M74.4 551H82.2M74.4 554.6H82.2" stroke="#1a1a1a" stroke-width="0.8" fill="none"/>
<circle cx="56.7" cy="505" r="0.95" fill="#111"/>
<circle cx="56.7" cy="519.4" r="0.95" fill="#111"/>
<circle cx="57.5" cy="533" r="0.95" fill="#111"/>
<circle cx="55.4" cy="538.7" r="0.95" fill="#111"/>
<circle cx="57.1" cy="540.4" r="0.95" fill="#111"/>
<circle cx="55.6" cy="541.7" r="0.95" fill="#111"/>
<circle cx="78.3" cy="543.1" r="0.95" fill="#111"/>
<circle cx="76.2" cy="552" r="0.95" fill="#111"/>
<circle cx="79" cy="551.8" r="0.95" fill="#111"/>
<circle cx="81.2" cy="552.6" r="0.95" fill="#111"/>
<circle cx="77.5" cy="554.6" r="0.95" fill="#111"/>
<circle cx="80.4" cy="554.8" r="0.95" fill="#111"/>
<text x="53.9" y="485.75" font-size="6.8" textLength="22.3" lengthAdjust="spacingAndGlyphs"><tspan font-style="italic">p</tspan>&lt;0.01</text>
<line x1="55.1" y1="487.9" x2="76.2" y2="487.9" stroke="#141414" stroke-width="0.9"/>
<rect x="49.3" y="611.3" width="14.6" height="24.5" fill="#c8102e"/>
<rect x="70.9" y="632.7" width="14.5" height="3.1" fill="#17518c"/>
<path d="M46.1 573.8V635.8H88.9" stroke="#141414" stroke-width="1.2" fill="none"/>
<line x1="42.3" y1="573.8" x2="46.1" y2="573.8" stroke="#222" stroke-width="0.8"/>
<text x="40.3" y="576.39" font-size="7.2" text-anchor="end" fill="#333" textLength="8.57" lengthAdjust="spacingAndGlyphs">25</text>
<line x1="42.3" y1="586.5" x2="46.1" y2="586.5" stroke="#222" stroke-width="0.8"/>
<text x="40.3" y="589.09" font-size="7.2" text-anchor="end" fill="#333" textLength="8.57" lengthAdjust="spacingAndGlyphs">20</text>
<line x1="42.3" y1="598.8" x2="46.1" y2="598.8" stroke="#222" stroke-width="0.8"/>
<text x="40.3" y="601.39" font-size="7.2" text-anchor="end" fill="#333" textLength="8.57" lengthAdjust="spacingAndGlyphs">15</text>
<line x1="42.3" y1="611.3" x2="46.1" y2="611.3" stroke="#222" stroke-width="0.8"/>
<text x="40.3" y="613.89" font-size="7.2" text-anchor="end" fill="#333" textLength="8.57" lengthAdjust="spacingAndGlyphs">10</text>
<line x1="42.3" y1="623.6" x2="46.1" y2="623.6" stroke="#222" stroke-width="0.8"/>
<text x="40.3" y="626.19" font-size="7.2" text-anchor="end" fill="#333" textLength="4.28" lengthAdjust="spacingAndGlyphs">5</text>
<line x1="42.3" y1="635.8" x2="46.1" y2="635.8" stroke="#222" stroke-width="0.8"/>
<text x="40.3" y="638.39" font-size="7.2" text-anchor="end" fill="#333" textLength="4.28" lengthAdjust="spacingAndGlyphs">0</text>
<text x="14.57" y="605" font-size="8.8" text-anchor="middle" transform="rotate(-90 14.57 605)" fill="#333" textLength="92" lengthAdjust="spacingAndGlyphs">p-Histone H3 positive LSK%</text>
<text x="27.12" y="604.8" font-size="8.4" text-anchor="middle" transform="rotate(-90 27.12 604.8)" fill="#333" textLength="64" lengthAdjust="spacingAndGlyphs">(in EdU+ LSK cells)</text>
<path d="M56.7 602.8V618.7M52.7 602.8H60.7M52.7 618.7H60.7" stroke="#1a1a1a" stroke-width="0.8" fill="none"/>
<path d="M78.3 628.4V635.6M74.4 628.4H82.2M74.4 635.6H82.2" stroke="#1a1a1a" stroke-width="0.8" fill="none"/>
<circle cx="56.7" cy="574.3" r="0.95" fill="#111"/>
<circle cx="56.7" cy="594" r="0.95" fill="#111"/>
<circle cx="57.1" cy="612" r="0.95" fill="#111"/>
<circle cx="55.4" cy="623.6" r="0.95" fill="#111"/>
<circle cx="58.2" cy="625.7" r="0.95" fill="#111"/>
<circle cx="78.3" cy="611.5" r="0.95" fill="#111"/>
<circle cx="75.5" cy="635.2" r="0.95" fill="#111"/>
<circle cx="78.2" cy="635.3" r="0.95" fill="#111"/>
<circle cx="81" cy="635.2" r="0.95" fill="#111"/>
<text x="53.9" y="567.15" font-size="6.8" textLength="22.7" lengthAdjust="spacingAndGlyphs"><tspan font-style="italic">p</tspan>&lt;0.05</text>
<line x1="55.1" y1="569.4" x2="76.6" y2="569.4" stroke="#141414" stroke-width="0.9"/>
<rect x="38.7" y="643" width="11.6" height="5.5" fill="#c8102e"/>
<text x="53.9" y="648.23" font-size="6.6" textLength="22.9" lengthAdjust="spacingAndGlyphs">Vehicle</text>
<rect x="38.7" y="654.1" width="11.6" height="5.5" fill="#17518c"/>
<text x="53.9" y="659.33" font-size="6.6" textLength="38.5" lengthAdjust="spacingAndGlyphs">Haloperidol</text>
<text x="97.9" y="480.6" font-size="10.2" font-weight="bold" fill="#111">I</text>
<text x="123" y="477.79" font-size="7.2" text-anchor="middle" textLength="11.9" lengthAdjust="spacingAndGlyphs">LSK</text>
<text x="123" y="487.09" font-size="7.2" text-anchor="middle" textLength="15.6" lengthAdjust="spacingAndGlyphs">(WT)</text>
<text x="152" y="477.79" font-size="7.2" text-anchor="middle" textLength="11.9" lengthAdjust="spacingAndGlyphs">LSK</text>
<text x="152" y="487.09" font-size="7.2" text-anchor="middle" textLength="34.8" lengthAdjust="spacingAndGlyphs">(<tspan font-style="italic">Drd</tspan> DKO)</text>
<line x1="112.2" y1="489.9" x2="131.9" y2="489.9" stroke="#222" stroke-width="1"/>
<line x1="140.8" y1="489.9" x2="162.4" y2="489.9" stroke="#222" stroke-width="1"/>
<text x="109.4" y="497.89" font-size="7.2" text-anchor="middle" fill="#2a2a2a">1</text>
<text x="121.2" y="497.89" font-size="7.2" text-anchor="middle" fill="#2a2a2a">2</text>
<text x="132.9" y="497.89" font-size="7.2" text-anchor="middle" fill="#2a2a2a">3</text>
<text x="144.9" y="497.89" font-size="7.2" text-anchor="middle" fill="#2a2a2a">1</text>
<text x="156.6" y="497.89" font-size="7.2" text-anchor="middle" fill="#2a2a2a">2</text>
<text x="168.6" y="497.89" font-size="7.2" text-anchor="middle" fill="#2a2a2a">3</text>
<rect x="103.6" y="500" width="11.98" height="8.88" fill="#d0604c"/>
<rect x="115.53" y="500" width="11.98" height="8.88" fill="#e8f0f6"/>
<rect x="127.46" y="500" width="11.98" height="8.88" fill="#d0604c"/>
<rect x="139.39" y="500" width="11.98" height="8.88" fill="#2b5aa6"/>
<rect x="151.32" y="500" width="11.98" height="8.88" fill="#e8f0f6"/>
<rect x="163.25" y="500" width="11.98" height="8.88" fill="#f0f4f7"/>
<rect x="103.6" y="508.82" width="11.98" height="8.88" fill="#e08a6c"/>
<rect x="115.53" y="508.82" width="11.98" height="8.88" fill="#f8d8c4"/>
<rect x="127.46" y="508.82" width="11.98" height="8.88" fill="#d0604c"/>
<rect x="139.39" y="508.82" width="11.98" height="8.88" fill="#f8f8f8"/>
<rect x="151.32" y="508.82" width="11.98" height="8.88" fill="#cbdeed"/>
<rect x="163.25" y="508.82" width="11.98" height="8.88" fill="#2b5aa6"/>
<rect x="103.6" y="517.65" width="11.98" height="8.88" fill="#f8f8f8"/>
<rect x="115.53" y="517.65" width="11.98" height="8.88" fill="#e08a6c"/>
<rect x="127.46" y="517.65" width="11.98" height="8.88" fill="#d0604c"/>
<rect x="139.39" y="517.65" width="11.98" height="8.88" fill="#d3e3f0"/>
<rect x="151.32" y="517.65" width="11.98" height="8.88" fill="#f9f2ee"/>
<rect x="163.25" y="517.65" width="11.98" height="8.88" fill="#2b5aa6"/>
<rect x="103.6" y="526.48" width="11.98" height="8.88" fill="#f8d8c4"/>
<rect x="115.53" y="526.48" width="11.98" height="8.88" fill="#f3c2a9"/>
<rect x="127.46" y="526.48" width="11.98" height="8.88" fill="#b93a3a"/>
<rect x="139.39" y="526.48" width="11.98" height="8.88" fill="#98c0dd"/>
<rect x="151.32" y="526.48" width="11.98" height="8.88" fill="#e8f0f6"/>
<rect x="163.25" y="526.48" width="11.98" height="8.88" fill="#386bae"/>
<rect x="103.6" y="535.3" width="11.98" height="8.88" fill="#d0604c"/>
<rect x="115.53" y="535.3" width="11.98" height="8.88" fill="#f0b397"/>
<rect x="127.46" y="535.3" width="11.98" height="8.88" fill="#e08a6c"/>
<rect x="139.39" y="535.3" width="11.98" height="8.88" fill="#7fb0d5"/>
<rect x="151.32" y="535.3" width="11.98" height="8.88" fill="#a9cbe2"/>
<rect x="163.25" y="535.3" width="11.98" height="8.88" fill="#7fb0d5"/>
<rect x="103.6" y="544.12" width="11.98" height="8.88" fill="#f3c2a9"/>
<rect x="115.53" y="544.12" width="11.98" height="8.88" fill="#fae6da"/>
<rect x="127.46" y="544.12" width="11.98" height="8.88" fill="#a51c2a"/>
<rect x="139.39" y="544.12" width="11.98" height="8.88" fill="#467cb8"/>
<rect x="151.32" y="544.12" width="11.98" height="8.88" fill="#f8f8f8"/>
<rect x="163.25" y="544.12" width="11.98" height="8.88" fill="#90bbda"/>
<rect x="103.6" y="552.95" width="11.98" height="8.88" fill="#a51c2a"/>
<rect x="115.53" y="552.95" width="11.98" height="8.88" fill="#e8f0f6"/>
<rect x="127.46" y="552.95" width="11.98" height="8.88" fill="#f0b397"/>
<rect x="139.39" y="552.95" width="11.98" height="8.88" fill="#c2d9ea"/>
<rect x="151.32" y="552.95" width="11.98" height="8.88" fill="#90bbda"/>
<rect x="163.25" y="552.95" width="11.98" height="8.88" fill="#cbdeed"/>
<rect x="103.6" y="561.77" width="11.98" height="8.88" fill="#d0604c"/>
<rect x="115.53" y="561.77" width="11.98" height="8.88" fill="#f8f8f8"/>
<rect x="127.46" y="561.77" width="11.98" height="8.88" fill="#d0604c"/>
<rect x="139.39" y="561.77" width="11.98" height="8.88" fill="#4b83bc"/>
<rect x="151.32" y="561.77" width="11.98" height="8.88" fill="#87b5d8"/>
<rect x="163.25" y="561.77" width="11.98" height="8.88" fill="#f9f2ee"/>
<rect x="103.6" y="570.6" width="11.98" height="8.88" fill="#f8d8c4"/>
<rect x="115.53" y="570.6" width="11.98" height="8.88" fill="#d36852"/>
<rect x="127.46" y="570.6" width="11.98" height="8.88" fill="#dd8266"/>
<rect x="139.39" y="570.6" width="11.98" height="8.88" fill="#f8f8f8"/>
<rect x="151.32" y="570.6" width="11.98" height="8.88" fill="#2b5aa6"/>
<rect x="163.25" y="570.6" width="11.98" height="8.88" fill="#90bbda"/>
<rect x="103.6" y="579.42" width="11.98" height="8.88" fill="#ebf2f6"/>
<rect x="115.53" y="579.42" width="11.98" height="8.88" fill="#e69a7d"/>
<rect x="127.46" y="579.42" width="11.98" height="8.88" fill="#a51c2a"/>
<rect x="139.39" y="579.42" width="11.98" height="8.88" fill="#f8f8f8"/>
<rect x="151.32" y="579.42" width="11.98" height="8.88" fill="#90bbda"/>
<rect x="163.25" y="579.42" width="11.98" height="8.88" fill="#5690c4"/>
<rect x="103.6" y="588.25" width="11.98" height="8.88" fill="#eaa386"/>
<rect x="115.53" y="588.25" width="11.98" height="8.88" fill="#c75145"/>
<rect x="127.46" y="588.25" width="11.98" height="8.88" fill="#f3c2a9"/>
<rect x="139.39" y="588.25" width="11.98" height="8.88" fill="#3567ac"/>
<rect x="151.32" y="588.25" width="11.98" height="8.88" fill="#ebf2f6"/>
<rect x="163.25" y="588.25" width="11.98" height="8.88" fill="#90bbda"/>
<rect x="103.6" y="597.08" width="11.98" height="8.88" fill="#f0b397"/>
<rect x="115.53" y="597.08" width="11.98" height="8.88" fill="#f8f8f8"/>
<rect x="127.46" y="597.08" width="11.98" height="8.88" fill="#ad2830"/>
<rect x="139.39" y="597.08" width="11.98" height="8.88" fill="#f2f5f7"/>
<rect x="151.32" y="597.08" width="11.98" height="8.88" fill="#e4edf5"/>
<rect x="163.25" y="597.08" width="11.98" height="8.88" fill="#2b5aa6"/>
<rect x="103.6" y="605.9" width="11.98" height="8.88" fill="#f2f5f7"/>
<rect x="115.53" y="605.9" width="11.98" height="8.88" fill="#a51c2a"/>
<rect x="127.46" y="605.9" width="11.98" height="8.88" fill="#f8d8c4"/>
<rect x="139.39" y="605.9" width="11.98" height="8.88" fill="#6fa3ce"/>
<rect x="151.32" y="605.9" width="11.98" height="8.88" fill="#f6d1bb"/>
<rect x="163.25" y="605.9" width="11.98" height="8.88" fill="#467cb8"/>
<rect x="103.6" y="614.73" width="11.98" height="8.88" fill="#f8d8c4"/>
<rect x="115.53" y="614.73" width="11.98" height="8.88" fill="#f8d8c4"/>
<rect x="127.46" y="614.73" width="11.98" height="8.88" fill="#a9222d"/>
<rect x="139.39" y="614.73" width="11.98" height="8.88" fill="#5690c4"/>
<rect x="151.32" y="614.73" width="11.98" height="8.88" fill="#f9f2ee"/>
<rect x="163.25" y="614.73" width="11.98" height="8.88" fill="#5690c4"/>
<rect x="103.6" y="623.55" width="11.98" height="8.88" fill="#f8d8c4"/>
<rect x="115.53" y="623.55" width="11.98" height="8.88" fill="#c24941"/>
<rect x="127.46" y="623.55" width="11.98" height="8.88" fill="#e08a6c"/>
<rect x="139.39" y="623.55" width="11.98" height="8.88" fill="#3162aa"/>
<rect x="151.32" y="623.55" width="11.98" height="8.88" fill="#ebf2f6"/>
<rect x="163.25" y="623.55" width="11.98" height="8.88" fill="#98c0dd"/>
<rect x="103.6" y="632.38" width="11.98" height="8.88" fill="#dd8266"/>
<rect x="115.53" y="632.38" width="11.98" height="8.88" fill="#eaa386"/>
<rect x="127.46" y="632.38" width="11.98" height="8.88" fill="#d67159"/>
<rect x="139.39" y="632.38" width="11.98" height="8.88" fill="#669dcb"/>
<rect x="151.32" y="632.38" width="11.98" height="8.88" fill="#e4edf5"/>
<rect x="163.25" y="632.38" width="11.98" height="8.88" fill="#3b6fb0"/>
<rect x="103.6" y="641.2" width="11.98" height="8.88" fill="#e69a7d"/>
<rect x="115.53" y="641.2" width="11.98" height="8.88" fill="#d36852"/>
<rect x="127.46" y="641.2" width="11.98" height="8.88" fill="#dd8266"/>
<rect x="139.39" y="641.2" width="11.98" height="8.88" fill="#5690c4"/>
<rect x="151.32" y="641.2" width="11.98" height="8.88" fill="#f8f8f8"/>
<rect x="163.25" y="641.2" width="11.98" height="8.88" fill="#3b6fb0"/>
<rect x="103.6" y="650.02" width="11.98" height="8.88" fill="#b12e34"/>
<rect x="115.53" y="650.02" width="11.98" height="8.88" fill="#f9dfcf"/>
<rect x="127.46" y="650.02" width="11.98" height="8.88" fill="#e69a7d"/>
<rect x="139.39" y="650.02" width="11.98" height="8.88" fill="#a9cbe2"/>
<rect x="151.32" y="650.02" width="11.98" height="8.88" fill="#2b5aa6"/>
<rect x="163.25" y="650.02" width="11.98" height="8.88" fill="#e4edf5"/>
<path d="M103.6 500V658.85M115.53 500V658.85M127.46 500V658.85M139.39 500V658.85M151.32 500V658.85M163.25 500V658.85M175.18 500V658.85M103.6 500H175.18M103.6 508.82H175.18M103.6 517.65H175.18M103.6 526.48H175.18M103.6 535.3H175.18M103.6 544.12H175.18M103.6 552.95H175.18M103.6 561.77H175.18M103.6 570.6H175.18M103.6 579.42H175.18M103.6 588.25H175.18M103.6 597.08H175.18M103.6 605.9H175.18M103.6 614.73H175.18M103.6 623.55H175.18M103.6 632.38H175.18M103.6 641.2H175.18M103.6 650.02H175.18M103.6 658.85H175.18" stroke="#555c66" stroke-width="0.4" fill="none" opacity="0.7"/>
<text x="176.4" y="506.95" font-size="6.5" font-style="italic" textLength="18.6" lengthAdjust="spacingAndGlyphs">Ccnd1</text>
<text x="176.4" y="515.78" font-size="6.5" font-style="italic" textLength="13.23" lengthAdjust="spacingAndGlyphs">Ccnf</text>
<text x="176.4" y="524.6" font-size="6.5" font-style="italic" textLength="15.02" lengthAdjust="spacingAndGlyphs">Cdk4</text>
<text x="176.4" y="533.43" font-size="6.5" font-style="italic" textLength="15.02" lengthAdjust="spacingAndGlyphs">Cdk1</text>
<text x="176.4" y="542.25" font-size="6.5" font-style="italic" textLength="21.82" lengthAdjust="spacingAndGlyphs">Cdkn2c</text>
<text x="176.4" y="551.08" font-size="6.5" font-style="italic" textLength="18.6" lengthAdjust="spacingAndGlyphs">Chek1</text>
<text x="176.4" y="559.9" font-size="6.5" font-style="italic" textLength="22.18" lengthAdjust="spacingAndGlyphs">Cdc14a</text>
<text x="176.4" y="568.73" font-size="6.5" font-style="italic" textLength="22.18" lengthAdjust="spacingAndGlyphs">Cdc25a</text>
<text x="176.4" y="577.55" font-size="6.5" font-style="italic" textLength="22.18" lengthAdjust="spacingAndGlyphs">Cdc25b</text>
<text x="176.4" y="586.38" font-size="6.5" font-style="italic" textLength="21.82" lengthAdjust="spacingAndGlyphs">Cdc25c</text>
<text x="176.4" y="595.2" font-size="6.5" font-style="italic" textLength="18.6" lengthAdjust="spacingAndGlyphs">Ccna2</text>
<text x="176.4" y="604.03" font-size="6.5" font-style="italic" textLength="18.6" lengthAdjust="spacingAndGlyphs">Ccne2</text>
<text x="176.4" y="612.85" font-size="6.5" font-style="italic" textLength="18.6" lengthAdjust="spacingAndGlyphs">Ccnb1</text>
<text x="176.4" y="621.68" font-size="6.5" font-style="italic" textLength="18.6" lengthAdjust="spacingAndGlyphs">Ccnb2</text>
<text x="176.4" y="630.5" font-size="6.5" font-style="italic" textLength="14.67" lengthAdjust="spacingAndGlyphs">Pcna</text>
<text x="176.4" y="639.33" font-size="6.5" font-style="italic" textLength="13.24" lengthAdjust="spacingAndGlyphs">E2f1</text>
<text x="176.4" y="648.15" font-size="6.5" font-style="italic" textLength="13.24" lengthAdjust="spacingAndGlyphs">E2f2</text>
<text x="176.4" y="656.98" font-size="6.5" font-style="italic" textLength="13.24" lengthAdjust="spacingAndGlyphs">E2f3</text>
<defs><linearGradient id="gk961" x1="0" x2="0" y1="0" y2="1"><stop offset="0" stop-color="#a51c2a"/><stop offset="0.25" stop-color="#e08a6c"/><stop offset="0.5" stop-color="#f8f4f2"/><stop offset="0.75" stop-color="#7fb0d5"/><stop offset="1" stop-color="#2b5aa6"/></linearGradient></defs>
<rect x="96.1" y="629.9" width="1.9" height="27.9" fill="url(#gk961)"/>
<text x="99" y="632.57" font-size="2.7" font-weight="bold" fill="#111">1.5</text>
<text x="99" y="636.74" font-size="2.7" font-weight="bold" fill="#111">1</text>
<text x="99" y="640.91" font-size="2.7" font-weight="bold" fill="#111">0.5</text>
<text x="99" y="645.08" font-size="2.7" font-weight="bold" fill="#111">0</text>
<text x="99" y="649.25" font-size="2.7" font-weight="bold" fill="#111">-0.5</text>
<text x="99" y="653.42" font-size="2.7" font-weight="bold" fill="#111">-1</text>
<text x="99" y="657.59" font-size="2.7" font-weight="bold" fill="#111">-1.5</text>
<text x="142.5" y="667.89" font-size="7.2" text-anchor="middle" fill="#3d3d3d" textLength="33.2" lengthAdjust="spacingAndGlyphs">Cell cycle</text>
<text x="198.6" y="483" font-size="10.2" font-weight="bold" fill="#111">J</text>
<text x="225.4" y="477.79" font-size="7.2" text-anchor="middle" textLength="11.9" lengthAdjust="spacingAndGlyphs">LSK</text>
<text x="225.4" y="487.09" font-size="7.2" text-anchor="middle" textLength="15.6" lengthAdjust="spacingAndGlyphs">(WT)</text>
<text x="256.6" y="477.79" font-size="7.2" text-anchor="middle" textLength="11.9" lengthAdjust="spacingAndGlyphs">LSK</text>
<text x="256.6" y="487.09" font-size="7.2" text-anchor="middle" textLength="34.8" lengthAdjust="spacingAndGlyphs">(<tspan font-style="italic">Drd</tspan> DKO)</text>
<line x1="214.4" y1="489.8" x2="235" y2="489.8" stroke="#222" stroke-width="1"/>
<line x1="244.9" y1="489.8" x2="266.9" y2="489.8" stroke="#222" stroke-width="1"/>
<text x="211.8" y="498.09" font-size="7.2" text-anchor="middle" fill="#2a2a2a">1</text>
<text x="223.6" y="498.09" font-size="7.2" text-anchor="middle" fill="#2a2a2a">2</text>
<text x="234.7" y="498.09" font-size="7.2" text-anchor="middle" fill="#2a2a2a">3</text>
<text x="247" y="498.09" font-size="7.2" text-anchor="middle" fill="#2a2a2a">1</text>
<text x="258.4" y="498.09" font-size="7.2" text-anchor="middle" fill="#2a2a2a">2</text>
<text x="269.9" y="498.09" font-size="7.2" text-anchor="middle" fill="#2a2a2a">3</text>
<rect x="206.4" y="500.1" width="11.61" height="8.88" fill="#dbe8f2"/>
<rect x="217.96" y="500.1" width="11.61" height="8.88" fill="#e08a6c"/>
<rect x="229.52" y="500.1" width="11.61" height="8.88" fill="#c75145"/>
<rect x="241.08" y="500.1" width="11.61" height="8.88" fill="#e4edf5"/>
<rect x="252.64" y="500.1" width="11.61" height="8.88" fill="#d3e3f0"/>
<rect x="264.2" y="500.1" width="11.61" height="8.88" fill="#467cb8"/>
<rect x="206.4" y="508.93" width="11.61" height="8.88" fill="#b93a3a"/>
<rect x="217.96" y="508.93" width="11.61" height="8.88" fill="#f0b397"/>
<rect x="229.52" y="508.93" width="11.61" height="8.88" fill="#faede5"/>
<rect x="241.08" y="508.93" width="11.61" height="8.88" fill="#7fb0d5"/>
<rect x="252.64" y="508.93" width="11.61" height="8.88" fill="#d3e3f0"/>
<rect x="264.2" y="508.93" width="11.61" height="8.88" fill="#5690c4"/>
<rect x="206.4" y="517.75" width="11.61" height="8.88" fill="#f8d8c4"/>
<rect x="217.96" y="517.75" width="11.61" height="8.88" fill="#f5c9b2"/>
<rect x="229.52" y="517.75" width="11.61" height="8.88" fill="#b93a3a"/>
<rect x="241.08" y="517.75" width="11.61" height="8.88" fill="#cbdeed"/>
<rect x="252.64" y="517.75" width="11.61" height="8.88" fill="#98c0dd"/>
<rect x="264.2" y="517.75" width="11.61" height="8.88" fill="#5690c4"/>
<rect x="206.4" y="526.58" width="11.61" height="8.88" fill="#a51c2a"/>
<rect x="217.96" y="526.58" width="11.61" height="8.88" fill="#d3e3f0"/>
<rect x="229.52" y="526.58" width="11.61" height="8.88" fill="#edab8e"/>
<rect x="241.08" y="526.58" width="11.61" height="8.88" fill="#90bbda"/>
<rect x="252.64" y="526.58" width="11.61" height="8.88" fill="#e4edf5"/>
<rect x="264.2" y="526.58" width="11.61" height="8.88" fill="#98c0dd"/>
<rect x="206.4" y="535.4" width="11.61" height="8.88" fill="#f8d8c4"/>
<rect x="217.96" y="535.4" width="11.61" height="8.88" fill="#dd8266"/>
<rect x="229.52" y="535.4" width="11.61" height="8.88" fill="#e39275"/>
<rect x="241.08" y="535.4" width="11.61" height="8.88" fill="#2b5aa6"/>
<rect x="252.64" y="535.4" width="11.61" height="8.88" fill="#d3e3f0"/>
<rect x="264.2" y="535.4" width="11.61" height="8.88" fill="#dbe8f2"/>
<rect x="206.4" y="544.23" width="11.61" height="8.88" fill="#f9dfcf"/>
<rect x="217.96" y="544.23" width="11.61" height="8.88" fill="#f0b397"/>
<rect x="229.52" y="544.23" width="11.61" height="8.88" fill="#d67159"/>
<rect x="241.08" y="544.23" width="11.61" height="8.88" fill="#669dcb"/>
<rect x="252.64" y="544.23" width="11.61" height="8.88" fill="#f8f8f8"/>
<rect x="264.2" y="544.23" width="11.61" height="8.88" fill="#3b6fb0"/>
<rect x="206.4" y="553.05" width="11.61" height="8.88" fill="#f9f2ee"/>
<rect x="217.96" y="553.05" width="11.61" height="8.88" fill="#edab8e"/>
<rect x="229.52" y="553.05" width="11.61" height="8.88" fill="#ad2830"/>
<rect x="241.08" y="553.05" width="11.61" height="8.88" fill="#7fb0d5"/>
<rect x="252.64" y="553.05" width="11.61" height="8.88" fill="#cbdeed"/>
<rect x="264.2" y="553.05" width="11.61" height="8.88" fill="#6fa3ce"/>
<rect x="206.4" y="561.88" width="11.61" height="8.88" fill="#fae6da"/>
<rect x="217.96" y="561.88" width="11.61" height="8.88" fill="#f9f2ee"/>
<rect x="229.52" y="561.88" width="11.61" height="8.88" fill="#a51c2a"/>
<rect x="241.08" y="561.88" width="11.61" height="8.88" fill="#467cb8"/>
<rect x="252.64" y="561.88" width="11.61" height="8.88" fill="#a9cbe2"/>
<rect x="264.2" y="561.88" width="11.61" height="8.88" fill="#f9f5f3"/>
<rect x="206.4" y="570.7" width="11.61" height="8.88" fill="#d67159"/>
<rect x="217.96" y="570.7" width="11.61" height="8.88" fill="#f3c2a9"/>
<rect x="229.52" y="570.7" width="11.61" height="8.88" fill="#f3c2a9"/>
<rect x="241.08" y="570.7" width="11.61" height="8.88" fill="#a1c6df"/>
<rect x="252.64" y="570.7" width="11.61" height="8.88" fill="#3567ac"/>
<rect x="264.2" y="570.7" width="11.61" height="8.88" fill="#dbe8f2"/>
<rect x="206.4" y="579.52" width="11.61" height="8.88" fill="#da795f"/>
<rect x="217.96" y="579.52" width="11.61" height="8.88" fill="#f5c9b2"/>
<rect x="229.52" y="579.52" width="11.61" height="8.88" fill="#eaa386"/>
<rect x="241.08" y="579.52" width="11.61" height="8.88" fill="#5690c4"/>
<rect x="252.64" y="579.52" width="11.61" height="8.88" fill="#7fb0d5"/>
<rect x="264.2" y="579.52" width="11.61" height="8.88" fill="#dbe8f2"/>
<rect x="206.4" y="588.35" width="11.61" height="8.88" fill="#ebf2f6"/>
<rect x="217.96" y="588.35" width="11.61" height="8.88" fill="#f0b397"/>
<rect x="229.52" y="588.35" width="11.61" height="8.88" fill="#b12e34"/>
<rect x="241.08" y="588.35" width="11.61" height="8.88" fill="#87b5d8"/>
<rect x="252.64" y="588.35" width="11.61" height="8.88" fill="#ebf2f6"/>
<rect x="264.2" y="588.35" width="11.61" height="8.88" fill="#5690c4"/>
<rect x="206.4" y="597.17" width="11.61" height="8.88" fill="#d36852"/>
<rect x="217.96" y="597.17" width="11.61" height="8.88" fill="#f6d1bb"/>
<rect x="229.52" y="597.17" width="11.61" height="8.88" fill="#e69a7d"/>
<rect x="241.08" y="597.17" width="11.61" height="8.88" fill="#77aad2"/>
<rect x="252.64" y="597.17" width="11.61" height="8.88" fill="#dbe8f2"/>
<rect x="264.2" y="597.17" width="11.61" height="8.88" fill="#5e96c7"/>
<rect x="206.4" y="606" width="11.61" height="8.88" fill="#f9f5f3"/>
<rect x="217.96" y="606" width="11.61" height="8.88" fill="#f9dfcf"/>
<rect x="229.52" y="606" width="11.61" height="8.88" fill="#a51c2a"/>
<rect x="241.08" y="606" width="11.61" height="8.88" fill="#bad5e8"/>
<rect x="252.64" y="606" width="11.61" height="8.88" fill="#e4edf5"/>
<rect x="264.2" y="606" width="11.61" height="8.88" fill="#4b83bc"/>
<rect x="206.4" y="614.83" width="11.61" height="8.88" fill="#e39275"/>
<rect x="217.96" y="614.83" width="11.61" height="8.88" fill="#d0604c"/>
<rect x="229.52" y="614.83" width="11.61" height="8.88" fill="#faede5"/>
<rect x="241.08" y="614.83" width="11.61" height="8.88" fill="#b1d0e5"/>
<rect x="252.64" y="614.83" width="11.61" height="8.88" fill="#dbe8f2"/>
<rect x="264.2" y="614.83" width="11.61" height="8.88" fill="#467cb8"/>
<rect x="206.4" y="623.65" width="11.61" height="8.88" fill="#ebf2f6"/>
<rect x="217.96" y="623.65" width="11.61" height="8.88" fill="#e08a6c"/>
<rect x="229.52" y="623.65" width="11.61" height="8.88" fill="#c24941"/>
<rect x="241.08" y="623.65" width="11.61" height="8.88" fill="#b1d0e5"/>
<rect x="252.64" y="623.65" width="11.61" height="8.88" fill="#dbe8f2"/>
<rect x="264.2" y="623.65" width="11.61" height="8.88" fill="#4b83bc"/>
<rect x="206.4" y="632.48" width="11.61" height="8.88" fill="#e08a6c"/>
<rect x="217.96" y="632.48" width="11.61" height="8.88" fill="#f2baa0"/>
<rect x="229.52" y="632.48" width="11.61" height="8.88" fill="#e08a6c"/>
<rect x="241.08" y="632.48" width="11.61" height="8.88" fill="#386bae"/>
<rect x="252.64" y="632.48" width="11.61" height="8.88" fill="#cbdeed"/>
<rect x="264.2" y="632.48" width="11.61" height="8.88" fill="#d3e3f0"/>
<rect x="206.4" y="641.3" width="11.61" height="8.88" fill="#eaa386"/>
<rect x="217.96" y="641.3" width="11.61" height="8.88" fill="#b93a3a"/>
<rect x="229.52" y="641.3" width="11.61" height="8.88" fill="#faede5"/>
<rect x="241.08" y="641.3" width="11.61" height="8.88" fill="#4b83bc"/>
<rect x="252.64" y="641.3" width="11.61" height="8.88" fill="#a9cbe2"/>
<rect x="264.2" y="641.3" width="11.61" height="8.88" fill="#dbe8f2"/>
<rect x="206.4" y="650.12" width="11.61" height="8.88" fill="#f9dfcf"/>
<rect x="217.96" y="650.12" width="11.61" height="8.88" fill="#da795f"/>
<rect x="229.52" y="650.12" width="11.61" height="8.88" fill="#e08a6c"/>
<rect x="241.08" y="650.12" width="11.61" height="8.88" fill="#2b5aa6"/>
<rect x="252.64" y="650.12" width="11.61" height="8.88" fill="#d3e3f0"/>
<rect x="264.2" y="650.12" width="11.61" height="8.88" fill="#dbe8f2"/>
<path d="M206.4 500.1V658.95M217.96 500.1V658.95M229.52 500.1V658.95M241.08 500.1V658.95M252.64 500.1V658.95M264.2 500.1V658.95M275.76 500.1V658.95M206.4 500.1H275.76M206.4 508.93H275.76M206.4 517.75H275.76M206.4 526.58H275.76M206.4 535.4H275.76M206.4 544.23H275.76M206.4 553.05H275.76M206.4 561.88H275.76M206.4 570.7H275.76M206.4 579.52H275.76M206.4 588.35H275.76M206.4 597.17H275.76M206.4 606H275.76M206.4 614.83H275.76M206.4 623.65H275.76M206.4 632.48H275.76M206.4 641.3H275.76M206.4 650.12H275.76M206.4 658.95H275.76" stroke="#555c66" stroke-width="0.4" fill="none" opacity="0.7"/>
<text x="277.2" y="507.05" font-size="6.5" font-style="italic" textLength="18.96" lengthAdjust="spacingAndGlyphs">Cenpe</text>
<text x="277.2" y="515.88" font-size="6.5" font-style="italic" textLength="8.94" lengthAdjust="spacingAndGlyphs">Ttk</text>
<text x="277.2" y="524.7" font-size="6.5" font-style="italic" textLength="18.6" lengthAdjust="spacingAndGlyphs">Cdc20</text>
<text x="277.2" y="533.53" font-size="6.5" font-style="italic" textLength="11.44" lengthAdjust="spacingAndGlyphs">Atm</text>
<text x="277.2" y="542.35" font-size="6.5" font-style="italic" textLength="18.61" lengthAdjust="spacingAndGlyphs">Bub1b</text>
<text x="277.2" y="551.18" font-size="6.5" font-style="italic" textLength="21.1" lengthAdjust="spacingAndGlyphs">Mad2l1</text>
<text x="277.2" y="560" font-size="6.5" font-style="italic" textLength="16.81" lengthAdjust="spacingAndGlyphs">Aurkb</text>
<text x="277.2" y="568.83" font-size="6.5" font-style="italic" textLength="11.09" lengthAdjust="spacingAndGlyphs">Apc</text>
<text x="277.2" y="577.65" font-size="6.5" font-style="italic" textLength="22.54" lengthAdjust="spacingAndGlyphs">Cep192</text>
<text x="277.2" y="586.48" font-size="6.5" font-style="italic" textLength="27.9" lengthAdjust="spacingAndGlyphs">Cdk5rap2</text>
<text x="277.2" y="595.3" font-size="6.5" font-style="italic" textLength="14.66" lengthAdjust="spacingAndGlyphs">Birc5</text>
<text x="277.2" y="604.13" font-size="6.5" font-style="italic" textLength="16.93" lengthAdjust="spacingAndGlyphs">Tacc3</text>
<text x="277.2" y="612.95" font-size="6.5" font-style="italic" textLength="25.4" lengthAdjust="spacingAndGlyphs">Anapc15</text>
<text x="277.2" y="621.78" font-size="6.5" font-style="italic" textLength="21.82" lengthAdjust="spacingAndGlyphs">Anapc5</text>
<text x="277.2" y="630.6" font-size="6.5" font-style="italic" textLength="18.6" lengthAdjust="spacingAndGlyphs">Ndc80</text>
<text x="277.2" y="639.43" font-size="6.5" font-style="italic" textLength="16.1" lengthAdjust="spacingAndGlyphs">Espl1</text>
<text x="277.2" y="648.25" font-size="6.5" font-style="italic" textLength="15.03" lengthAdjust="spacingAndGlyphs">Bub1</text>
<text x="277.2" y="657.08" font-size="6.5" font-style="italic" textLength="23.97" lengthAdjust="spacingAndGlyphs">Bub1b.1</text>
<defs><linearGradient id="gk1983" x1="0" x2="0" y1="0" y2="1"><stop offset="0" stop-color="#a51c2a"/><stop offset="0.25" stop-color="#e08a6c"/><stop offset="0.5" stop-color="#f8f4f2"/><stop offset="0.75" stop-color="#7fb0d5"/><stop offset="1" stop-color="#2b5aa6"/></linearGradient></defs>
<rect x="198.3" y="629.9" width="1.9" height="27.9" fill="url(#gk1983)"/>
<text x="201.2" y="632.57" font-size="2.7" font-weight="bold" fill="#111">1.5</text>
<text x="201.2" y="636.74" font-size="2.7" font-weight="bold" fill="#111">1</text>
<text x="201.2" y="640.91" font-size="2.7" font-weight="bold" fill="#111">0.5</text>
<text x="201.2" y="645.08" font-size="2.7" font-weight="bold" fill="#111">0</text>
<text x="201.2" y="649.25" font-size="2.7" font-weight="bold" fill="#111">-0.5</text>
<text x="201.2" y="653.42" font-size="2.7" font-weight="bold" fill="#111">-1</text>
<text x="201.2" y="657.59" font-size="2.7" font-weight="bold" fill="#111">-1.5</text>
<text x="242.6" y="669.19" font-size="7.2" text-anchor="middle" fill="#3d3d3d" textLength="74.8" lengthAdjust="spacingAndGlyphs">Metaphase-anaphase</text>
<text x="242.6" y="677.79" font-size="7.2" text-anchor="middle" fill="#3d3d3d" textLength="31.8" lengthAdjust="spacingAndGlyphs">transition</text>
<text x="310" y="483.6" font-size="10.2" font-weight="bold" fill="#111">K</text>
<text x="340.5" y="478.79" font-size="7.2" text-anchor="middle" textLength="11.9" lengthAdjust="spacingAndGlyphs">LSK</text>
<text x="340.5" y="487.89" font-size="7.2" text-anchor="middle" textLength="15.6" lengthAdjust="spacingAndGlyphs">(WT)</text>
<text x="371.8" y="478.79" font-size="7.2" text-anchor="middle" textLength="11.9" lengthAdjust="spacingAndGlyphs">LSK</text>
<text x="371.8" y="487.89" font-size="7.2" text-anchor="middle" textLength="34.8" lengthAdjust="spacingAndGlyphs">(<tspan font-style="italic">Drd</tspan> DKO)</text>
<line x1="329.5" y1="490.9" x2="350" y2="490.9" stroke="#222" stroke-width="1"/>
<line x1="360.6" y1="490.9" x2="381.8" y2="490.9" stroke="#222" stroke-width="1"/>
<text x="327.9" y="499.99" font-size="7.2" text-anchor="middle" fill="#2a2a2a">1</text>
<text x="339.3" y="499.99" font-size="7.2" text-anchor="middle" fill="#2a2a2a">2</text>
<text x="350.8" y="499.99" font-size="7.2" text-anchor="middle" fill="#2a2a2a">3</text>
<text x="361.9" y="499.99" font-size="7.2" text-anchor="middle" fill="#2a2a2a">1</text>
<text x="373.3" y="499.99" font-size="7.2" text-anchor="middle" fill="#2a2a2a">2</text>
<text x="384.6" y="499.99" font-size="7.2" text-anchor="middle" fill="#2a2a2a">3</text>
<rect x="322.2" y="502.1" width="11.33" height="8.91" fill="#f6d1bb"/>
<rect x="333.48" y="502.1" width="11.33" height="8.91" fill="#e39275"/>
<rect x="344.76" y="502.1" width="11.33" height="8.91" fill="#d0604c"/>
<rect x="356.04" y="502.1" width="11.33" height="8.91" fill="#4b83bc"/>
<rect x="367.32" y="502.1" width="11.33" height="8.91" fill="#77aad2"/>
<rect x="378.6" y="502.1" width="11.33" height="8.91" fill="#a9cbe2"/>
<rect x="322.2" y="510.96" width="11.33" height="8.91" fill="#f9f2ee"/>
<rect x="333.48" y="510.96" width="11.33" height="8.91" fill="#edab8e"/>
<rect x="344.76" y="510.96" width="11.33" height="8.91" fill="#a9222d"/>
<rect x="356.04" y="510.96" width="11.33" height="8.91" fill="#87b5d8"/>
<rect x="367.32" y="510.96" width="11.33" height="8.91" fill="#c2d9ea"/>
<rect x="378.6" y="510.96" width="11.33" height="8.91" fill="#669dcb"/>
<rect x="322.2" y="519.82" width="11.33" height="8.91" fill="#f0b397"/>
<rect x="333.48" y="519.82" width="11.33" height="8.91" fill="#e08a6c"/>
<rect x="344.76" y="519.82" width="11.33" height="8.91" fill="#da795f"/>
<rect x="356.04" y="519.82" width="11.33" height="8.91" fill="#5690c4"/>
<rect x="367.32" y="519.82" width="11.33" height="8.91" fill="#669dcb"/>
<rect x="378.6" y="519.82" width="11.33" height="8.91" fill="#d3e3f0"/>
<rect x="322.2" y="528.68" width="11.33" height="8.91" fill="#f8d8c4"/>
<rect x="333.48" y="528.68" width="11.33" height="8.91" fill="#c75145"/>
<rect x="344.76" y="528.68" width="11.33" height="8.91" fill="#fae6da"/>
<rect x="356.04" y="528.68" width="11.33" height="8.91" fill="#5189c0"/>
<rect x="367.32" y="528.68" width="11.33" height="8.91" fill="#f8d8c4"/>
<rect x="378.6" y="528.68" width="11.33" height="8.91" fill="#3b6fb0"/>
<rect x="322.2" y="537.54" width="11.33" height="8.91" fill="#f8d8c4"/>
<rect x="333.48" y="537.54" width="11.33" height="8.91" fill="#c75145"/>
<rect x="344.76" y="537.54" width="11.33" height="8.91" fill="#eaa386"/>
<rect x="356.04" y="537.54" width="11.33" height="8.91" fill="#b1d0e5"/>
<rect x="367.32" y="537.54" width="11.33" height="8.91" fill="#dbe8f2"/>
<rect x="378.6" y="537.54" width="11.33" height="8.91" fill="#3162aa"/>
<rect x="322.2" y="546.4" width="11.33" height="8.91" fill="#faede5"/>
<rect x="333.48" y="546.4" width="11.33" height="8.91" fill="#a9222d"/>
<rect x="344.76" y="546.4" width="11.33" height="8.91" fill="#e69a7d"/>
<rect x="356.04" y="546.4" width="11.33" height="8.91" fill="#98c0dd"/>
<rect x="367.32" y="546.4" width="11.33" height="8.91" fill="#87b5d8"/>
<rect x="378.6" y="546.4" width="11.33" height="8.91" fill="#6fa3ce"/>
<rect x="322.2" y="555.26" width="11.33" height="8.91" fill="#f6d1bb"/>
<rect x="333.48" y="555.26" width="11.33" height="8.91" fill="#d0604c"/>
<rect x="344.76" y="555.26" width="11.33" height="8.91" fill="#da795f"/>
<rect x="356.04" y="555.26" width="11.33" height="8.91" fill="#5690c4"/>
<rect x="367.32" y="555.26" width="11.33" height="8.91" fill="#77aad2"/>
<rect x="378.6" y="555.26" width="11.33" height="8.91" fill="#c2d9ea"/>
<rect x="322.2" y="564.12" width="11.33" height="8.91" fill="#e69a7d"/>
<rect x="333.48" y="564.12" width="11.33" height="8.91" fill="#f8d8c4"/>
<rect x="344.76" y="564.12" width="11.33" height="8.91" fill="#c75145"/>
<rect x="356.04" y="564.12" width="11.33" height="8.91" fill="#386bae"/>
<rect x="367.32" y="564.12" width="11.33" height="8.91" fill="#669dcb"/>
<rect x="378.6" y="564.12" width="11.33" height="8.91" fill="#e4edf5"/>
<path d="M322.2 502.1V572.98M333.48 502.1V572.98M344.76 502.1V572.98M356.04 502.1V572.98M367.32 502.1V572.98M378.6 502.1V572.98M389.88 502.1V572.98M322.2 502.1H389.88M322.2 510.96H389.88M322.2 519.82H389.88M322.2 528.68H389.88M322.2 537.54H389.88M322.2 546.4H389.88M322.2 555.26H389.88M322.2 564.12H389.88M322.2 572.98H389.88" stroke="#555c66" stroke-width="0.4" fill="none" opacity="0.7"/>
<text x="391.1" y="509.07" font-size="6.5" font-style="italic" textLength="14.67" lengthAdjust="spacingAndGlyphs">Kif23</text>
<text x="391.1" y="517.93" font-size="6.5" font-style="italic" textLength="16.81" lengthAdjust="spacingAndGlyphs">Aurkb</text>
<text x="391.1" y="526.79" font-size="6.5" font-style="italic" textLength="11.09" lengthAdjust="spacingAndGlyphs">Kif4</text>
<text x="391.1" y="535.65" font-size="6.5" font-style="italic" textLength="20.74" lengthAdjust="spacingAndGlyphs">Numa1</text>
<text x="391.1" y="544.51" font-size="6.5" font-style="italic" textLength="16.81" lengthAdjust="spacingAndGlyphs">Aurka</text>
<text x="391.1" y="553.37" font-size="6.5" font-style="italic" textLength="15.38" lengthAdjust="spacingAndGlyphs">Nde1</text>
<text x="391.1" y="562.23" font-size="6.5" font-style="italic" textLength="14.19" lengthAdjust="spacingAndGlyphs">Kif11</text>
<text x="391.1" y="571.09" font-size="6.5" font-style="italic" textLength="15.02" lengthAdjust="spacingAndGlyphs">Nek9</text>
<defs><linearGradient id="gk3122" x1="0" x2="0" y1="0" y2="1"><stop offset="0" stop-color="#a51c2a"/><stop offset="0.25" stop-color="#e08a6c"/><stop offset="0.5" stop-color="#f8f4f2"/><stop offset="0.75" stop-color="#7fb0d5"/><stop offset="1" stop-color="#2b5aa6"/></linearGradient></defs>
<rect x="312.2" y="534.7" width="2.6" height="38.3" fill="url(#gk3122)"/>
<text x="315.8" y="536.62" font-size="3.4" font-weight="bold" fill="#111">1.5</text>
<text x="315.8" y="543.04" font-size="3.4" font-weight="bold" fill="#111">1</text>
<text x="315.8" y="549.46" font-size="3.4" font-weight="bold" fill="#111">0.5</text>
<text x="315.8" y="555.88" font-size="3.4" font-weight="bold" fill="#111">0</text>
<text x="315.8" y="562.3" font-size="3.4" font-weight="bold" fill="#111">-0.5</text>
<text x="315.8" y="568.72" font-size="3.4" font-weight="bold" fill="#111">-1</text>
<text x="358.2" y="584.59" font-size="7.2" text-anchor="middle" fill="#3d3d3d" textLength="42.3" lengthAdjust="spacingAndGlyphs">Spindle and</text>
<text x="358.2" y="594.19" font-size="7.2" text-anchor="middle" fill="#3d3d3d" textLength="42.3" lengthAdjust="spacingAndGlyphs">centrosome</text>
<text x="358.7" y="603.09" font-size="7.2" text-anchor="middle" fill="#3d3d3d" textLength="28.6" lengthAdjust="spacingAndGlyphs">function</text>
<text x="415.6" y="485.1" font-size="10.2" font-weight="bold" fill="#111">L</text>
<text x="447.1" y="479.59" font-size="7.2" text-anchor="middle" textLength="11.9" lengthAdjust="spacingAndGlyphs">LSK</text>
<text x="447.1" y="488.39" font-size="7.2" text-anchor="middle" textLength="15.6" lengthAdjust="spacingAndGlyphs">(WT)</text>
<text x="478.2" y="479.59" font-size="7.2" text-anchor="middle" textLength="11.9" lengthAdjust="spacingAndGlyphs">LSK</text>
<text x="478.2" y="488.39" font-size="7.2" text-anchor="middle" textLength="34.8" lengthAdjust="spacingAndGlyphs">(<tspan font-style="italic">Drd</tspan> DKO)</text>
<line x1="436.2" y1="491.4" x2="456.5" y2="491.4" stroke="#222" stroke-width="1"/>
<line x1="467.2" y1="491.4" x2="488.5" y2="491.4" stroke="#222" stroke-width="1"/>
<text x="434.6" y="500.49" font-size="7.2" text-anchor="middle" fill="#2a2a2a">1</text>
<text x="445.8" y="500.49" font-size="7.2" text-anchor="middle" fill="#2a2a2a">2</text>
<text x="457" y="500.49" font-size="7.2" text-anchor="middle" fill="#2a2a2a">3</text>
<text x="468.1" y="500.49" font-size="7.2" text-anchor="middle" fill="#2a2a2a">1</text>
<text x="479" y="500.49" font-size="7.2" text-anchor="middle" fill="#2a2a2a">2</text>
<text x="490.5" y="500.49" font-size="7.2" text-anchor="middle" fill="#2a2a2a">3</text>
<rect x="429.5" y="502.4" width="11.08" height="6.95" fill="#f9dfcf"/>
<rect x="440.53" y="502.4" width="11.08" height="6.95" fill="#c75145"/>
<rect x="451.56" y="502.4" width="11.08" height="6.95" fill="#d67159"/>
<rect x="462.59" y="502.4" width="11.08" height="6.95" fill="#5690c4"/>
<rect x="473.62" y="502.4" width="11.08" height="6.95" fill="#d3e3f0"/>
<rect x="484.65" y="502.4" width="11.08" height="6.95" fill="#669dcb"/>
<rect x="429.5" y="509.3" width="11.08" height="6.95" fill="#f9dfcf"/>
<rect x="440.53" y="509.3" width="11.08" height="6.95" fill="#c75145"/>
<rect x="451.56" y="509.3" width="11.08" height="6.95" fill="#eaa386"/>
<rect x="462.59" y="509.3" width="11.08" height="6.95" fill="#3162aa"/>
<rect x="473.62" y="509.3" width="11.08" height="6.95" fill="#ebf2f6"/>
<rect x="484.65" y="509.3" width="11.08" height="6.95" fill="#90bbda"/>
<rect x="429.5" y="516.2" width="11.08" height="6.95" fill="#eaa386"/>
<rect x="440.53" y="516.2" width="11.08" height="6.95" fill="#c75145"/>
<rect x="451.56" y="516.2" width="11.08" height="6.95" fill="#f8d8c4"/>
<rect x="462.59" y="516.2" width="11.08" height="6.95" fill="#3567ac"/>
<rect x="473.62" y="516.2" width="11.08" height="6.95" fill="#669dcb"/>
<rect x="484.65" y="516.2" width="11.08" height="6.95" fill="#faede5"/>
<rect x="429.5" y="523.1" width="11.08" height="6.95" fill="#f2baa0"/>
<rect x="440.53" y="523.1" width="11.08" height="6.95" fill="#cb5848"/>
<rect x="451.56" y="523.1" width="11.08" height="6.95" fill="#eaa386"/>
<rect x="462.59" y="523.1" width="11.08" height="6.95" fill="#3162aa"/>
<rect x="473.62" y="523.1" width="11.08" height="6.95" fill="#77aad2"/>
<rect x="484.65" y="523.1" width="11.08" height="6.95" fill="#ebf2f6"/>
<rect x="429.5" y="530" width="11.08" height="6.95" fill="#faede5"/>
<rect x="440.53" y="530" width="11.08" height="6.95" fill="#b93a3a"/>
<rect x="451.56" y="530" width="11.08" height="6.95" fill="#e08a6c"/>
<rect x="462.59" y="530" width="11.08" height="6.95" fill="#669dcb"/>
<rect x="473.62" y="530" width="11.08" height="6.95" fill="#6fa3ce"/>
<rect x="484.65" y="530" width="11.08" height="6.95" fill="#dbe8f2"/>
<rect x="429.5" y="536.9" width="11.08" height="6.95" fill="#faede5"/>
<rect x="440.53" y="536.9" width="11.08" height="6.95" fill="#a51c2a"/>
<rect x="451.56" y="536.9" width="11.08" height="6.95" fill="#f6d1bb"/>
<rect x="462.59" y="536.9" width="11.08" height="6.95" fill="#dbe8f2"/>
<rect x="473.62" y="536.9" width="11.08" height="6.95" fill="#c2d9ea"/>
<rect x="484.65" y="536.9" width="11.08" height="6.95" fill="#386bae"/>
<rect x="429.5" y="543.8" width="11.08" height="6.95" fill="#ebf2f6"/>
<rect x="440.53" y="543.8" width="11.08" height="6.95" fill="#eaa386"/>
<rect x="451.56" y="543.8" width="11.08" height="6.95" fill="#ad2830"/>
<rect x="462.59" y="543.8" width="11.08" height="6.95" fill="#7fb0d5"/>
<rect x="473.62" y="543.8" width="11.08" height="6.95" fill="#faede5"/>
<rect x="484.65" y="543.8" width="11.08" height="6.95" fill="#4076b4"/>
<rect x="429.5" y="550.7" width="11.08" height="6.95" fill="#e69a7d"/>
<rect x="440.53" y="550.7" width="11.08" height="6.95" fill="#e69a7d"/>
<rect x="451.56" y="550.7" width="11.08" height="6.95" fill="#d0604c"/>
<rect x="462.59" y="550.7" width="11.08" height="6.95" fill="#4b83bc"/>
<rect x="473.62" y="550.7" width="11.08" height="6.95" fill="#90bbda"/>
<rect x="484.65" y="550.7" width="11.08" height="6.95" fill="#cbdeed"/>
<rect x="429.5" y="557.6" width="11.08" height="6.95" fill="#d0604c"/>
<rect x="440.53" y="557.6" width="11.08" height="6.95" fill="#f9dfcf"/>
<rect x="451.56" y="557.6" width="11.08" height="6.95" fill="#d67159"/>
<rect x="462.59" y="557.6" width="11.08" height="6.95" fill="#b1d0e5"/>
<rect x="473.62" y="557.6" width="11.08" height="6.95" fill="#bad5e8"/>
<rect x="484.65" y="557.6" width="11.08" height="6.95" fill="#4076b4"/>
<rect x="429.5" y="564.5" width="11.08" height="6.95" fill="#d0604c"/>
<rect x="440.53" y="564.5" width="11.08" height="6.95" fill="#f5c9b2"/>
<rect x="451.56" y="564.5" width="11.08" height="6.95" fill="#f3c2a9"/>
<rect x="462.59" y="564.5" width="11.08" height="6.95" fill="#3162aa"/>
<rect x="473.62" y="564.5" width="11.08" height="6.95" fill="#77aad2"/>
<rect x="484.65" y="564.5" width="11.08" height="6.95" fill="#faede5"/>
<path d="M429.5 502.4V571.4M440.53 502.4V571.4M451.56 502.4V571.4M462.59 502.4V571.4M473.62 502.4V571.4M484.65 502.4V571.4M495.68 502.4V571.4M429.5 502.4H495.68M429.5 509.3H495.68M429.5 516.2H495.68M429.5 523.1H495.68M429.5 530H495.68M429.5 536.9H495.68M429.5 543.8H495.68M429.5 550.7H495.68M429.5 557.6H495.68M429.5 564.5H495.68M429.5 571.4H495.68" stroke="#555c66" stroke-width="0.4" fill="none" opacity="0.7"/>
<text x="496.8" y="508.39" font-size="6.5" font-style="italic" textLength="12.17" lengthAdjust="spacingAndGlyphs">Lig1</text>
<text x="496.8" y="515.29" font-size="6.5" font-style="italic" textLength="14.67" lengthAdjust="spacingAndGlyphs">Pcna</text>
<text x="496.8" y="522.19" font-size="6.5" font-style="italic" textLength="14.67" lengthAdjust="spacingAndGlyphs">Exo1</text>
<text x="496.8" y="529.09" font-size="6.5" font-style="italic" textLength="16.46" lengthAdjust="spacingAndGlyphs">Pold1</text>
<text x="496.8" y="535.99" font-size="6.5" font-style="italic" textLength="16.46" lengthAdjust="spacingAndGlyphs">Pold3</text>
<text x="496.8" y="542.89" font-size="6.5" font-style="italic" textLength="13.23" lengthAdjust="spacingAndGlyphs">Rfc1</text>
<text x="496.8" y="549.79" font-size="6.5" font-style="italic" textLength="13.23" lengthAdjust="spacingAndGlyphs">Rfc4</text>
<text x="496.8" y="556.69" font-size="6.5" font-style="italic" textLength="15.38" lengthAdjust="spacingAndGlyphs">Rpa1</text>
<text x="496.8" y="563.59" font-size="6.5" font-style="italic" textLength="15.73" lengthAdjust="spacingAndGlyphs">Msh3</text>
<text x="496.8" y="570.49" font-size="6.5" font-style="italic" textLength="15.73" lengthAdjust="spacingAndGlyphs">Msh6</text>
<defs><linearGradient id="gk4194" x1="0" x2="0" y1="0" y2="1"><stop offset="0" stop-color="#a51c2a"/><stop offset="0.25" stop-color="#e08a6c"/><stop offset="0.5" stop-color="#f8f4f2"/><stop offset="0.75" stop-color="#7fb0d5"/><stop offset="1" stop-color="#2b5aa6"/></linearGradient></defs>
<rect x="419.4" y="532.7" width="2.7" height="38.6" fill="url(#gk4194)"/>
<text x="423.1" y="534.42" font-size="3.4" font-weight="bold" fill="#111">1.5</text>
<text x="423.1" y="540.87" font-size="3.4" font-weight="bold" fill="#111">1</text>
<text x="423.1" y="547.32" font-size="3.4" font-weight="bold" fill="#111">0.5</text>
<text x="423.1" y="553.77" font-size="3.4" font-weight="bold" fill="#111">0</text>
<text x="423.1" y="560.22" font-size="3.4" font-weight="bold" fill="#111">-0.5</text>
<text x="423.1" y="566.67" font-size="3.4" font-weight="bold" fill="#111">-1</text>
<text x="464.2" y="580.89" font-size="7.2" text-anchor="middle" fill="#3d3d3d" textLength="75.5" lengthAdjust="spacingAndGlyphs">DNA mismatch repair</text>
</g>
<path d="M0 0H520V685H0Z M1.2 1.2V683.8H518.8V1.2Z" fill="#000" fill-rule="evenodd"/>
</svg>
</body></html>
